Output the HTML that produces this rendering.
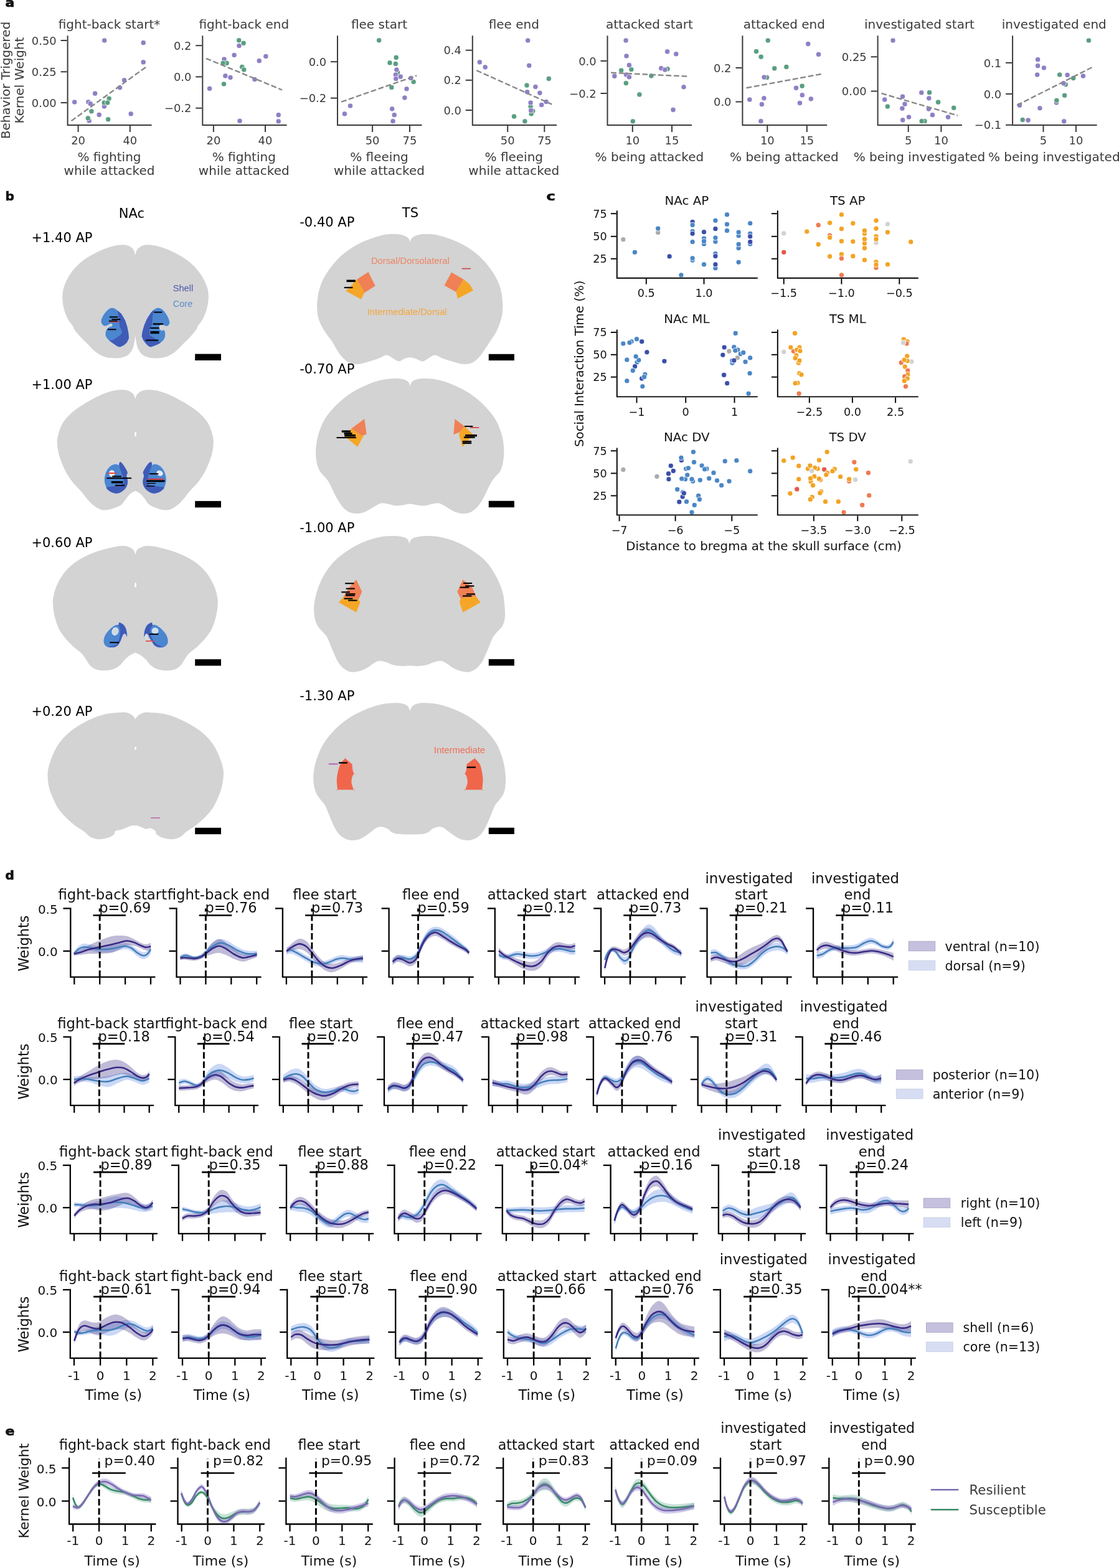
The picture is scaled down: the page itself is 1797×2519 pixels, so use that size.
<!DOCTYPE html>
<html lang="en"><head><meta charset="utf-8"><title>Extended Data Figure</title>
<style>
html,body{margin:0;padding:0;background:#fff;}
svg{display:block;font-family:'DejaVu Sans','Liberation Sans',sans-serif;}
text{white-space:pre;}
</style></head>
<body>
<svg width="1797" height="2519" viewBox="0 0 1797 2519">
<rect width="1797" height="2519" fill="#fff"/>
<g id="panel-a">
<text transform="translate(8.6 11.4) scale(1.1 1)" font-size="20" font-weight="bold" fill="#111" stroke="#111" stroke-width="0.7">a</text>
<text transform="translate(15.5 129) rotate(-90)" font-size="20" fill="#3a3a3a" text-anchor="middle">Behavior Triggered</text>
<text transform="translate(37.8 129) rotate(-90)" font-size="20" fill="#3a3a3a" text-anchor="middle">Kernel Weight</text>
<circle cx="167.7" cy="65" r="4.1" fill="#8f7fc4" stroke="#fff" stroke-width="0.8"/>
<circle cx="230.2" cy="68.7" r="4.1" fill="#8f7fc4" stroke="#fff" stroke-width="0.8"/>
<circle cx="230.2" cy="99.9" r="4.1" fill="#8f7fc4" stroke="#fff" stroke-width="0.8"/>
<circle cx="199.5" cy="128.8" r="4.1" fill="#8f7fc4" stroke="#fff" stroke-width="0.8"/>
<circle cx="192.5" cy="140.8" r="4.1" fill="#8f7fc4" stroke="#fff" stroke-width="0.8"/>
<circle cx="152.6" cy="150.2" r="4.1" fill="#8f7fc4" stroke="#fff" stroke-width="0.8"/>
<circle cx="119.7" cy="164" r="4.1" fill="#8f7fc4" stroke="#fff" stroke-width="0.8"/>
<circle cx="141.9" cy="163.9" r="4.1" fill="#8f7fc4" stroke="#fff" stroke-width="0.8"/>
<circle cx="145.2" cy="166.6" r="4.1" fill="#8f7fc4" stroke="#fff" stroke-width="0.8"/>
<circle cx="167.4" cy="170.9" r="4.1" fill="#8f7fc4" stroke="#fff" stroke-width="0.8"/>
<circle cx="159.2" cy="184.4" r="4.1" fill="#8f7fc4" stroke="#fff" stroke-width="0.8"/>
<circle cx="210.2" cy="182.9" r="4.1" fill="#8f7fc4" stroke="#fff" stroke-width="0.8"/>
<circle cx="143.2" cy="194" r="4.1" fill="#8f7fc4" stroke="#fff" stroke-width="0.8"/>
<circle cx="167.2" cy="165" r="4.1" fill="#5a9e80" stroke="#fff" stroke-width="0.8"/>
<circle cx="175.1" cy="158.3" r="4.1" fill="#5a9e80" stroke="#fff" stroke-width="0.8"/>
<circle cx="172.7" cy="165" r="4.1" fill="#5a9e80" stroke="#fff" stroke-width="0.8"/>
<circle cx="146.9" cy="178.8" r="4.1" fill="#5a9e80" stroke="#fff" stroke-width="0.8"/>
<circle cx="141.3" cy="189.9" r="4.1" fill="#5a9e80" stroke="#fff" stroke-width="0.8"/>
<circle cx="173.7" cy="191.8" r="4.1" fill="#5a9e80" stroke="#fff" stroke-width="0.8"/>
<line x1="114.5" y1="194.3" x2="236.5" y2="106.2" stroke="#888" stroke-width="2.4" stroke-dasharray="8.8 3.8"/>
<path d="M108.6 58.2V201H242.6" fill="none" stroke="#3a3a3a" stroke-width="2.0" stroke-linecap="square" stroke-linejoin="miter"/>
<line x1="97.6" y1="65" x2="107.6" y2="65" stroke="#3a3a3a" stroke-width="2.0"/>
<text x="90.7" y="71.6" font-size="17.9" fill="#3a3a3a" text-anchor="end">0.50</text>
<line x1="97.6" y1="115.3" x2="107.6" y2="115.3" stroke="#3a3a3a" stroke-width="2.0"/>
<text x="90.7" y="121.9" font-size="17.9" fill="#3a3a3a" text-anchor="end">0.25</text>
<line x1="97.6" y1="165" x2="107.6" y2="165" stroke="#3a3a3a" stroke-width="2.0"/>
<text x="90.7" y="171.6" font-size="17.9" fill="#3a3a3a" text-anchor="end">0.00</text>
<line x1="125.6" y1="202" x2="125.6" y2="212" stroke="#3a3a3a" stroke-width="2.0"/>
<text x="125.6" y="231.9" font-size="17.9" fill="#3a3a3a" text-anchor="middle">20</text>
<line x1="208.8" y1="202" x2="208.8" y2="212" stroke="#3a3a3a" stroke-width="2.0"/>
<text x="208.8" y="231.9" font-size="17.9" fill="#3a3a3a" text-anchor="middle">40</text>
<text x="175.5" y="46.2" font-size="20" fill="#3a3a3a" text-anchor="middle">fight-back start*</text>
<text x="175.5" y="258.8" font-size="20" fill="#3a3a3a" text-anchor="middle">% fighting</text>
<text x="175.5" y="281.2" font-size="20" fill="#3a3a3a" text-anchor="middle">while attacked</text>
<circle cx="360" cy="95.1" r="4.1" fill="#8f7fc4" stroke="#fff" stroke-width="0.8"/>
<circle cx="384" cy="73.5" r="4.1" fill="#8f7fc4" stroke="#fff" stroke-width="0.8"/>
<circle cx="376.1" cy="88.5" r="4.1" fill="#8f7fc4" stroke="#fff" stroke-width="0.8"/>
<circle cx="426.9" cy="90.5" r="4.1" fill="#8f7fc4" stroke="#fff" stroke-width="0.8"/>
<circle cx="416.2" cy="97.7" r="4.1" fill="#8f7fc4" stroke="#fff" stroke-width="0.8"/>
<circle cx="361.9" cy="121.9" r="4.1" fill="#8f7fc4" stroke="#fff" stroke-width="0.8"/>
<circle cx="370" cy="124.5" r="4.1" fill="#8f7fc4" stroke="#fff" stroke-width="0.8"/>
<circle cx="409" cy="127.5" r="4.1" fill="#8f7fc4" stroke="#fff" stroke-width="0.8"/>
<circle cx="336.6" cy="142.3" r="4.1" fill="#8f7fc4" stroke="#fff" stroke-width="0.8"/>
<circle cx="447.2" cy="184.7" r="4.1" fill="#8f7fc4" stroke="#fff" stroke-width="0.8"/>
<circle cx="385" cy="194.3" r="4.1" fill="#8f7fc4" stroke="#fff" stroke-width="0.8"/>
<circle cx="447.2" cy="194.9" r="4.1" fill="#8f7fc4" stroke="#fff" stroke-width="0.8"/>
<circle cx="383.7" cy="64.8" r="4.1" fill="#5a9e80" stroke="#fff" stroke-width="0.8"/>
<circle cx="391.1" cy="69.3" r="4.1" fill="#5a9e80" stroke="#fff" stroke-width="0.8"/>
<circle cx="364.1" cy="101.4" r="4.1" fill="#5a9e80" stroke="#fff" stroke-width="0.8"/>
<circle cx="358.2" cy="101.4" r="4.1" fill="#5a9e80" stroke="#fff" stroke-width="0.8"/>
<circle cx="388.7" cy="107.5" r="4.1" fill="#5a9e80" stroke="#fff" stroke-width="0.8"/>
<circle cx="391.8" cy="112" r="4.1" fill="#5a9e80" stroke="#fff" stroke-width="0.8"/>
<circle cx="359.5" cy="135" r="4.1" fill="#5a9e80" stroke="#fff" stroke-width="0.8"/>
<line x1="330.8" y1="93.8" x2="453.1" y2="144.5" stroke="#888" stroke-width="2.4" stroke-dasharray="8.8 3.8"/>
<path d="M325.3 58.2V201H459.6" fill="none" stroke="#3a3a3a" stroke-width="2.0" stroke-linecap="square" stroke-linejoin="miter"/>
<line x1="314.3" y1="73.2" x2="324.3" y2="73.2" stroke="#3a3a3a" stroke-width="2.0"/>
<text x="307.4" y="79.8" font-size="17.9" fill="#3a3a3a" text-anchor="end">0.2</text>
<line x1="314.3" y1="123.4" x2="324.3" y2="123.4" stroke="#3a3a3a" stroke-width="2.0"/>
<text x="307.4" y="130" font-size="17.9" fill="#3a3a3a" text-anchor="end">0.0</text>
<line x1="314.3" y1="173.7" x2="324.3" y2="173.7" stroke="#3a3a3a" stroke-width="2.0"/>
<text x="307.4" y="180.3" font-size="17.9" fill="#3a3a3a" text-anchor="end">−0.2</text>
<line x1="342.9" y1="202" x2="342.9" y2="212" stroke="#3a3a3a" stroke-width="2.0"/>
<text x="342.9" y="231.9" font-size="17.9" fill="#3a3a3a" text-anchor="middle">20</text>
<line x1="426" y1="202" x2="426" y2="212" stroke="#3a3a3a" stroke-width="2.0"/>
<text x="426" y="231.9" font-size="17.9" fill="#3a3a3a" text-anchor="middle">40</text>
<text x="391.8" y="46.2" font-size="20" fill="#3a3a3a" text-anchor="middle">fight-back end</text>
<text x="391.8" y="258.8" font-size="20" fill="#3a3a3a" text-anchor="middle">% fighting</text>
<text x="391.8" y="281.2" font-size="20" fill="#3a3a3a" text-anchor="middle">while attacked</text>
<circle cx="608.7" cy="64.8" r="4.1" fill="#5a9e80" stroke="#fff" stroke-width="0.8"/>
<circle cx="636.2" cy="92.4" r="4.1" fill="#5a9e80" stroke="#fff" stroke-width="0.8"/>
<circle cx="626" cy="100.9" r="4.1" fill="#5a9e80" stroke="#fff" stroke-width="0.8"/>
<circle cx="635.3" cy="102.5" r="4.1" fill="#5a9e80" stroke="#fff" stroke-width="0.8"/>
<circle cx="638.6" cy="116.4" r="4.1" fill="#5a9e80" stroke="#fff" stroke-width="0.8"/>
<circle cx="664.1" cy="131.5" r="4.1" fill="#5a9e80" stroke="#fff" stroke-width="0.8"/>
<circle cx="628.8" cy="140.4" r="4.1" fill="#5a9e80" stroke="#fff" stroke-width="0.8"/>
<circle cx="636.9" cy="112" r="4.1" fill="#8f7fc4" stroke="#fff" stroke-width="0.8"/>
<circle cx="635.3" cy="120.1" r="4.1" fill="#8f7fc4" stroke="#fff" stroke-width="0.8"/>
<circle cx="643.2" cy="123.2" r="4.1" fill="#8f7fc4" stroke="#fff" stroke-width="0.8"/>
<circle cx="659.8" cy="125.6" r="4.1" fill="#8f7fc4" stroke="#fff" stroke-width="0.8"/>
<circle cx="635.8" cy="126.5" r="4.1" fill="#8f7fc4" stroke="#fff" stroke-width="0.8"/>
<circle cx="653" cy="142.8" r="4.1" fill="#8f7fc4" stroke="#fff" stroke-width="0.8"/>
<circle cx="649.9" cy="157" r="4.1" fill="#8f7fc4" stroke="#fff" stroke-width="0.8"/>
<circle cx="562.5" cy="170" r="4.1" fill="#8f7fc4" stroke="#fff" stroke-width="0.8"/>
<circle cx="553.4" cy="182.9" r="4.1" fill="#8f7fc4" stroke="#fff" stroke-width="0.8"/>
<circle cx="629.7" cy="174.9" r="4.1" fill="#8f7fc4" stroke="#fff" stroke-width="0.8"/>
<circle cx="633.2" cy="184.7" r="4.1" fill="#8f7fc4" stroke="#fff" stroke-width="0.8"/>
<circle cx="631" cy="194.7" r="4.1" fill="#8f7fc4" stroke="#fff" stroke-width="0.8"/>
<line x1="548.1" y1="163.7" x2="669.1" y2="121.4" stroke="#888" stroke-width="2.4" stroke-dasharray="8.8 3.8"/>
<path d="M542 58.2V201H676.5" fill="none" stroke="#3a3a3a" stroke-width="2.0" stroke-linecap="square" stroke-linejoin="miter"/>
<line x1="531" y1="99.2" x2="541" y2="99.2" stroke="#3a3a3a" stroke-width="2.0"/>
<text x="524.1" y="105.8" font-size="17.9" fill="#3a3a3a" text-anchor="end">0.0</text>
<line x1="531" y1="157.6" x2="541" y2="157.6" stroke="#3a3a3a" stroke-width="2.0"/>
<text x="524.1" y="164.2" font-size="17.9" fill="#3a3a3a" text-anchor="end">−0.2</text>
<line x1="598.1" y1="202" x2="598.1" y2="212" stroke="#3a3a3a" stroke-width="2.0"/>
<text x="598.1" y="231.9" font-size="17.9" fill="#3a3a3a" text-anchor="middle">50</text>
<line x1="658" y1="202" x2="658" y2="212" stroke="#3a3a3a" stroke-width="2.0"/>
<text x="658" y="231.9" font-size="17.9" fill="#3a3a3a" text-anchor="middle">75</text>
<text x="609" y="46.2" font-size="20" fill="#3a3a3a" text-anchor="middle">flee start</text>
<text x="609" y="258.8" font-size="20" fill="#3a3a3a" text-anchor="middle">% fleeing</text>
<text x="609" y="281.2" font-size="20" fill="#3a3a3a" text-anchor="middle">while attacked</text>
<circle cx="881.3" cy="126.4" r="4.1" fill="#5a9e80" stroke="#fff" stroke-width="0.8"/>
<circle cx="846" cy="137.1" r="4.1" fill="#5a9e80" stroke="#fff" stroke-width="0.8"/>
<circle cx="852.1" cy="170.9" r="4.1" fill="#5a9e80" stroke="#fff" stroke-width="0.8"/>
<circle cx="855.8" cy="178.3" r="4.1" fill="#5a9e80" stroke="#fff" stroke-width="0.8"/>
<circle cx="853.1" cy="182.9" r="4.1" fill="#5a9e80" stroke="#fff" stroke-width="0.8"/>
<circle cx="825.5" cy="187.1" r="4.1" fill="#5a9e80" stroke="#fff" stroke-width="0.8"/>
<circle cx="842.9" cy="194.9" r="4.1" fill="#5a9e80" stroke="#fff" stroke-width="0.8"/>
<circle cx="847.7" cy="65" r="4.1" fill="#8f7fc4" stroke="#fff" stroke-width="0.8"/>
<circle cx="770.3" cy="99.9" r="4.1" fill="#8f7fc4" stroke="#fff" stroke-width="0.8"/>
<circle cx="779.2" cy="107.9" r="4.1" fill="#8f7fc4" stroke="#fff" stroke-width="0.8"/>
<circle cx="849.7" cy="105.3" r="4.1" fill="#8f7fc4" stroke="#fff" stroke-width="0.8"/>
<circle cx="859.9" cy="139.5" r="4.1" fill="#8f7fc4" stroke="#fff" stroke-width="0.8"/>
<circle cx="846.6" cy="147.8" r="4.1" fill="#8f7fc4" stroke="#fff" stroke-width="0.8"/>
<circle cx="866.9" cy="149.3" r="4.1" fill="#8f7fc4" stroke="#fff" stroke-width="0.8"/>
<circle cx="852.1" cy="165" r="4.1" fill="#8f7fc4" stroke="#fff" stroke-width="0.8"/>
<circle cx="869.7" cy="168.5" r="4.1" fill="#8f7fc4" stroke="#fff" stroke-width="0.8"/>
<circle cx="877.1" cy="163.5" r="4.1" fill="#8f7fc4" stroke="#fff" stroke-width="0.8"/>
<circle cx="852.7" cy="177.4" r="4.1" fill="#8f7fc4" stroke="#fff" stroke-width="0.8"/>
<line x1="765.3" y1="113.1" x2="886.3" y2="167.7" stroke="#888" stroke-width="2.4" stroke-dasharray="8.8 3.8"/>
<path d="M758.8 58.2V201H893.1" fill="none" stroke="#3a3a3a" stroke-width="2.0" stroke-linecap="square" stroke-linejoin="miter"/>
<line x1="747.8" y1="80.7" x2="757.8" y2="80.7" stroke="#3a3a3a" stroke-width="2.0"/>
<text x="740.9" y="87.3" font-size="17.9" fill="#3a3a3a" text-anchor="end">0.4</text>
<line x1="747.8" y1="128.8" x2="757.8" y2="128.8" stroke="#3a3a3a" stroke-width="2.0"/>
<text x="740.9" y="135.4" font-size="17.9" fill="#3a3a3a" text-anchor="end">0.2</text>
<line x1="747.8" y1="177" x2="757.8" y2="177" stroke="#3a3a3a" stroke-width="2.0"/>
<text x="740.9" y="183.6" font-size="17.9" fill="#3a3a3a" text-anchor="end">0.0</text>
<line x1="815.2" y1="202" x2="815.2" y2="212" stroke="#3a3a3a" stroke-width="2.0"/>
<text x="815.2" y="231.9" font-size="17.9" fill="#3a3a3a" text-anchor="middle">50</text>
<line x1="874.3" y1="202" x2="874.3" y2="212" stroke="#3a3a3a" stroke-width="2.0"/>
<text x="874.3" y="231.9" font-size="17.9" fill="#3a3a3a" text-anchor="middle">75</text>
<text x="825.3" y="46.2" font-size="20" fill="#3a3a3a" text-anchor="middle">flee end</text>
<text x="825.3" y="258.8" font-size="20" fill="#3a3a3a" text-anchor="middle">% fleeing</text>
<text x="825.3" y="281.2" font-size="20" fill="#3a3a3a" text-anchor="middle">while attacked</text>
<circle cx="1072.1" cy="110.8" r="4.1" fill="#5a9e80" stroke="#fff" stroke-width="0.8"/>
<circle cx="997.7" cy="113.1" r="4.1" fill="#5a9e80" stroke="#fff" stroke-width="0.8"/>
<circle cx="1013.8" cy="111.6" r="4.1" fill="#5a9e80" stroke="#fff" stroke-width="0.8"/>
<circle cx="1045.9" cy="121.9" r="4.1" fill="#5a9e80" stroke="#fff" stroke-width="0.8"/>
<circle cx="1005.3" cy="133.6" r="4.1" fill="#5a9e80" stroke="#fff" stroke-width="0.8"/>
<circle cx="1026.9" cy="151.9" r="4.1" fill="#5a9e80" stroke="#fff" stroke-width="0.8"/>
<circle cx="1016.3" cy="194.9" r="4.1" fill="#5a9e80" stroke="#fff" stroke-width="0.8"/>
<circle cx="1005.1" cy="65" r="4.1" fill="#8f7fc4" stroke="#fff" stroke-width="0.8"/>
<circle cx="1006" cy="90" r="4.1" fill="#8f7fc4" stroke="#fff" stroke-width="0.8"/>
<circle cx="1071.6" cy="82.9" r="4.1" fill="#8f7fc4" stroke="#fff" stroke-width="0.8"/>
<circle cx="1085.8" cy="86.8" r="4.1" fill="#8f7fc4" stroke="#fff" stroke-width="0.8"/>
<circle cx="1010.4" cy="104.7" r="4.1" fill="#8f7fc4" stroke="#fff" stroke-width="0.8"/>
<circle cx="1061.8" cy="109.7" r="4.1" fill="#8f7fc4" stroke="#fff" stroke-width="0.8"/>
<circle cx="1067.9" cy="112.1" r="4.1" fill="#8f7fc4" stroke="#fff" stroke-width="0.8"/>
<circle cx="986.8" cy="122.3" r="4.1" fill="#8f7fc4" stroke="#fff" stroke-width="0.8"/>
<circle cx="1005.6" cy="120.1" r="4.1" fill="#8f7fc4" stroke="#fff" stroke-width="0.8"/>
<circle cx="1010.4" cy="123.8" r="4.1" fill="#8f7fc4" stroke="#fff" stroke-width="0.8"/>
<circle cx="1098" cy="139.8" r="4.1" fill="#8f7fc4" stroke="#fff" stroke-width="0.8"/>
<circle cx="1081" cy="176.4" r="4.1" fill="#8f7fc4" stroke="#fff" stroke-width="0.8"/>
<line x1="981.2" y1="116.8" x2="1103.9" y2="122.7" stroke="#888" stroke-width="2.4" stroke-dasharray="8.8 3.8"/>
<path d="M975.5 58.2V201H1110" fill="none" stroke="#3a3a3a" stroke-width="2.0" stroke-linecap="square" stroke-linejoin="miter"/>
<line x1="964.5" y1="97.9" x2="974.5" y2="97.9" stroke="#3a3a3a" stroke-width="2.0"/>
<text x="957.6" y="104.5" font-size="17.9" fill="#3a3a3a" text-anchor="end">0.0</text>
<line x1="964.5" y1="150" x2="974.5" y2="150" stroke="#3a3a3a" stroke-width="2.0"/>
<text x="957.6" y="156.6" font-size="17.9" fill="#3a3a3a" text-anchor="end">−0.2</text>
<line x1="1015.8" y1="202" x2="1015.8" y2="212" stroke="#3a3a3a" stroke-width="2.0"/>
<text x="1015.8" y="231.9" font-size="17.9" fill="#3a3a3a" text-anchor="middle">10</text>
<line x1="1079" y1="202" x2="1079" y2="212" stroke="#3a3a3a" stroke-width="2.0"/>
<text x="1079" y="231.9" font-size="17.9" fill="#3a3a3a" text-anchor="middle">15</text>
<text x="1042.9" y="46.2" font-size="20" fill="#3a3a3a" text-anchor="middle">attacked start</text>
<text x="1042.9" y="258.8" font-size="20" fill="#3a3a3a" text-anchor="middle">% being attacked</text>
<circle cx="1233.2" cy="65" r="4.1" fill="#5a9e80" stroke="#fff" stroke-width="0.8"/>
<circle cx="1214.5" cy="82.6" r="4.1" fill="#5a9e80" stroke="#fff" stroke-width="0.8"/>
<circle cx="1222.1" cy="91.3" r="4.1" fill="#5a9e80" stroke="#fff" stroke-width="0.8"/>
<circle cx="1243.7" cy="109.9" r="4.1" fill="#5a9e80" stroke="#fff" stroke-width="0.8"/>
<circle cx="1262.8" cy="107.5" r="4.1" fill="#5a9e80" stroke="#fff" stroke-width="0.8"/>
<circle cx="1231.5" cy="124.5" r="4.1" fill="#5a9e80" stroke="#fff" stroke-width="0.8"/>
<circle cx="1288.1" cy="138.2" r="4.1" fill="#5a9e80" stroke="#fff" stroke-width="0.8"/>
<circle cx="1297.7" cy="70.6" r="4.1" fill="#8f7fc4" stroke="#fff" stroke-width="0.8"/>
<circle cx="1314.5" cy="87.4" r="4.1" fill="#8f7fc4" stroke="#fff" stroke-width="0.8"/>
<circle cx="1227.1" cy="124.1" r="4.1" fill="#8f7fc4" stroke="#fff" stroke-width="0.8"/>
<circle cx="1278.5" cy="141.3" r="4.1" fill="#8f7fc4" stroke="#fff" stroke-width="0.8"/>
<circle cx="1288.3" cy="152.8" r="4.1" fill="#8f7fc4" stroke="#fff" stroke-width="0.8"/>
<circle cx="1302.3" cy="158.9" r="4.1" fill="#8f7fc4" stroke="#fff" stroke-width="0.8"/>
<circle cx="1284.4" cy="165.5" r="4.1" fill="#8f7fc4" stroke="#fff" stroke-width="0.8"/>
<circle cx="1226.9" cy="157.8" r="4.1" fill="#8f7fc4" stroke="#fff" stroke-width="0.8"/>
<circle cx="1203.8" cy="160" r="4.1" fill="#8f7fc4" stroke="#fff" stroke-width="0.8"/>
<circle cx="1223.4" cy="167.6" r="4.1" fill="#8f7fc4" stroke="#fff" stroke-width="0.8"/>
<circle cx="1221.9" cy="194.7" r="4.1" fill="#8f7fc4" stroke="#fff" stroke-width="0.8"/>
<line x1="1198.5" y1="141.3" x2="1320.8" y2="118.6" stroke="#888" stroke-width="2.4" stroke-dasharray="8.8 3.8"/>
<path d="M1192.4 58.2V201H1327.2" fill="none" stroke="#3a3a3a" stroke-width="2.0" stroke-linecap="square" stroke-linejoin="miter"/>
<line x1="1181.4" y1="109" x2="1191.4" y2="109" stroke="#3a3a3a" stroke-width="2.0"/>
<text x="1174.5" y="115.6" font-size="17.9" fill="#3a3a3a" text-anchor="end">0.2</text>
<line x1="1181.4" y1="163.5" x2="1191.4" y2="163.5" stroke="#3a3a3a" stroke-width="2.0"/>
<text x="1174.5" y="170.1" font-size="17.9" fill="#3a3a3a" text-anchor="end">0.0</text>
<line x1="1232.3" y1="202" x2="1232.3" y2="212" stroke="#3a3a3a" stroke-width="2.0"/>
<text x="1232.3" y="231.9" font-size="17.9" fill="#3a3a3a" text-anchor="middle">10</text>
<line x1="1295.8" y1="202" x2="1295.8" y2="212" stroke="#3a3a3a" stroke-width="2.0"/>
<text x="1295.8" y="231.9" font-size="17.9" fill="#3a3a3a" text-anchor="middle">15</text>
<text x="1259.4" y="46.2" font-size="20" fill="#3a3a3a" text-anchor="middle">attacked end</text>
<text x="1259.4" y="258.8" font-size="20" fill="#3a3a3a" text-anchor="middle">% being attacked</text>
<circle cx="1434" cy="65" r="4.1" fill="#8f7fc4" stroke="#fff" stroke-width="0.8"/>
<circle cx="1479.8" cy="148.9" r="4.1" fill="#8f7fc4" stroke="#fff" stroke-width="0.8"/>
<circle cx="1449.5" cy="155.2" r="4.1" fill="#8f7fc4" stroke="#fff" stroke-width="0.8"/>
<circle cx="1491.8" cy="157.8" r="4.1" fill="#8f7fc4" stroke="#fff" stroke-width="0.8"/>
<circle cx="1420.7" cy="160" r="4.1" fill="#8f7fc4" stroke="#fff" stroke-width="0.8"/>
<circle cx="1453" cy="167.2" r="4.1" fill="#8f7fc4" stroke="#fff" stroke-width="0.8"/>
<circle cx="1448.9" cy="174.2" r="4.1" fill="#8f7fc4" stroke="#fff" stroke-width="0.8"/>
<circle cx="1491.4" cy="175.1" r="4.1" fill="#8f7fc4" stroke="#fff" stroke-width="0.8"/>
<circle cx="1497.4" cy="184.7" r="4.1" fill="#8f7fc4" stroke="#fff" stroke-width="0.8"/>
<circle cx="1459.5" cy="188.1" r="4.1" fill="#8f7fc4" stroke="#fff" stroke-width="0.8"/>
<circle cx="1522.5" cy="188.1" r="4.1" fill="#8f7fc4" stroke="#fff" stroke-width="0.8"/>
<circle cx="1449.7" cy="192.9" r="4.1" fill="#8f7fc4" stroke="#fff" stroke-width="0.8"/>
<circle cx="1492.5" cy="148.7" r="4.1" fill="#5a9e80" stroke="#fff" stroke-width="0.8"/>
<circle cx="1506.6" cy="164.2" r="4.1" fill="#5a9e80" stroke="#fff" stroke-width="0.8"/>
<circle cx="1425.3" cy="171.1" r="4.1" fill="#5a9e80" stroke="#fff" stroke-width="0.8"/>
<circle cx="1531.7" cy="173.3" r="4.1" fill="#5a9e80" stroke="#fff" stroke-width="0.8"/>
<circle cx="1485" cy="194.7" r="4.1" fill="#5a9e80" stroke="#fff" stroke-width="0.8"/>
<circle cx="1480.2" cy="194.7" r="4.1" fill="#5a9e80" stroke="#fff" stroke-width="0.8"/>
<line x1="1415.5" y1="150" x2="1538" y2="185.7" stroke="#888" stroke-width="2.4" stroke-dasharray="8.8 3.8"/>
<path d="M1409.6 58.2V201H1543.9" fill="none" stroke="#3a3a3a" stroke-width="2.0" stroke-linecap="square" stroke-linejoin="miter"/>
<line x1="1398.6" y1="91.3" x2="1408.6" y2="91.3" stroke="#3a3a3a" stroke-width="2.0"/>
<text x="1391.7" y="97.9" font-size="17.9" fill="#3a3a3a" text-anchor="end">0.25</text>
<line x1="1398.6" y1="146.5" x2="1408.6" y2="146.5" stroke="#3a3a3a" stroke-width="2.0"/>
<text x="1391.7" y="153.1" font-size="17.9" fill="#3a3a3a" text-anchor="end">0.00</text>
<line x1="1458.7" y1="202" x2="1458.7" y2="212" stroke="#3a3a3a" stroke-width="2.0"/>
<text x="1458.7" y="231.9" font-size="17.9" fill="#3a3a3a" text-anchor="middle">5</text>
<line x1="1511.4" y1="202" x2="1511.4" y2="212" stroke="#3a3a3a" stroke-width="2.0"/>
<text x="1511.4" y="231.9" font-size="17.9" fill="#3a3a3a" text-anchor="middle">10</text>
<text x="1476.5" y="46.2" font-size="20" fill="#3a3a3a" text-anchor="middle">investigated start</text>
<text x="1476.5" y="258.8" font-size="20" fill="#3a3a3a" text-anchor="middle">% being investigated</text>
<circle cx="1666.6" cy="95.7" r="4.1" fill="#8f7fc4" stroke="#fff" stroke-width="0.8"/>
<circle cx="1666.6" cy="105.7" r="4.1" fill="#8f7fc4" stroke="#fff" stroke-width="0.8"/>
<circle cx="1676.4" cy="109" r="4.1" fill="#8f7fc4" stroke="#fff" stroke-width="0.8"/>
<circle cx="1665.7" cy="120.1" r="4.1" fill="#8f7fc4" stroke="#fff" stroke-width="0.8"/>
<circle cx="1714.1" cy="120.5" r="4.1" fill="#8f7fc4" stroke="#fff" stroke-width="0.8"/>
<circle cx="1739.4" cy="122.1" r="4.1" fill="#8f7fc4" stroke="#fff" stroke-width="0.8"/>
<circle cx="1637.4" cy="169.2" r="4.1" fill="#8f7fc4" stroke="#fff" stroke-width="0.8"/>
<circle cx="1669.9" cy="173.8" r="4.1" fill="#8f7fc4" stroke="#fff" stroke-width="0.8"/>
<circle cx="1696.5" cy="165" r="4.1" fill="#8f7fc4" stroke="#fff" stroke-width="0.8"/>
<circle cx="1651.1" cy="193.1" r="4.1" fill="#8f7fc4" stroke="#fff" stroke-width="0.8"/>
<circle cx="1708.7" cy="194.9" r="4.1" fill="#8f7fc4" stroke="#fff" stroke-width="0.8"/>
<circle cx="1748.4" cy="65" r="4.1" fill="#5a9e80" stroke="#fff" stroke-width="0.8"/>
<circle cx="1701.7" cy="120.1" r="4.1" fill="#5a9e80" stroke="#fff" stroke-width="0.8"/>
<circle cx="1723.7" cy="125.6" r="4.1" fill="#5a9e80" stroke="#fff" stroke-width="0.8"/>
<circle cx="1711.3" cy="135.8" r="4.1" fill="#5a9e80" stroke="#fff" stroke-width="0.8"/>
<circle cx="1709.6" cy="153.3" r="4.1" fill="#5a9e80" stroke="#fff" stroke-width="0.8"/>
<circle cx="1696.9" cy="161.3" r="4.1" fill="#5a9e80" stroke="#fff" stroke-width="0.8"/>
<circle cx="1642.2" cy="192.5" r="4.1" fill="#5a9e80" stroke="#fff" stroke-width="0.8"/>
<circle cx="1708" cy="133.9" r="4.1" fill="#8f7fc4" stroke="#fff" stroke-width="0.8"/>
<line x1="1633.2" y1="169" x2="1754.7" y2="107.7" stroke="#888" stroke-width="2.4" stroke-dasharray="8.8 3.8"/>
<path d="M1626.1 58.2V201H1760.6" fill="none" stroke="#3a3a3a" stroke-width="2.0" stroke-linecap="square" stroke-linejoin="miter"/>
<line x1="1615.1" y1="100.9" x2="1625.1" y2="100.9" stroke="#3a3a3a" stroke-width="2.0"/>
<text x="1608.2" y="107.5" font-size="17.9" fill="#3a3a3a" text-anchor="end">0.1</text>
<line x1="1615.1" y1="150.9" x2="1625.1" y2="150.9" stroke="#3a3a3a" stroke-width="2.0"/>
<text x="1608.2" y="157.5" font-size="17.9" fill="#3a3a3a" text-anchor="end">0.0</text>
<line x1="1615.1" y1="200.8" x2="1625.1" y2="200.8" stroke="#3a3a3a" stroke-width="2.0"/>
<text x="1608.2" y="207.4" font-size="17.9" fill="#3a3a3a" text-anchor="end">−0.1</text>
<line x1="1675.5" y1="202" x2="1675.5" y2="212" stroke="#3a3a3a" stroke-width="2.0"/>
<text x="1675.5" y="231.9" font-size="17.9" fill="#3a3a3a" text-anchor="middle">5</text>
<line x1="1727.9" y1="202" x2="1727.9" y2="212" stroke="#3a3a3a" stroke-width="2.0"/>
<text x="1727.9" y="231.9" font-size="17.9" fill="#3a3a3a" text-anchor="middle">10</text>
<text x="1692.8" y="46.2" font-size="20" fill="#3a3a3a" text-anchor="middle">investigated end</text>
<text x="1692.8" y="258.8" font-size="20" fill="#3a3a3a" text-anchor="middle">% being investigated</text>
</g>
<g id="panel-b">
<text transform="translate(8.6 321.5) scale(1.0 1)" font-size="20" font-weight="bold" fill="#111" stroke="#111" stroke-width="0.7">b</text>
<text x="211.4" y="349.6" font-size="21.0" fill="#000" text-anchor="middle">NAc</text>
<text x="658.9" y="349.2" font-size="21.0" fill="#000" text-anchor="middle">TS</text>
<path d="M217.3 409.9C216.8 411.4 217.9 411.4 217.3 409.9C216.8 408.4 216.1 403.5 214.2 401C212.4 398.5 209.4 396.1 206.3 394.8C203.1 393.5 200 393 195.2 393.3C190.4 393.6 184.1 394.6 177.4 396.6C170.8 398.6 162.7 401.8 155.3 405.5C147.9 409.2 139.8 413.6 133.1 418.8C126.5 423.9 120.2 430.2 115.4 436.5C110.6 442.8 106.8 450.2 104.3 456.5C101.8 462.7 100.7 467.9 100.3 474.2C99.9 480.5 100.7 487.9 102.1 494.1C103.5 500.4 106.3 507.1 108.7 511.9C111.1 516.7 114.6 519.9 116.5 523C118.3 526 117.8 527.1 119.8 530.1C121.8 533 125.3 537.1 128.7 540.7C132 544.3 136.1 548.1 139.8 551.8C143.5 555.5 146.8 559.5 150.8 562.9C154.9 566.2 159.7 569.7 164.1 571.7C168.6 573.8 172.6 574.5 177.4 575.1C182.2 575.6 188.3 575.8 193 575.1C197.6 574.3 201.8 573 205.2 570.6C208.5 568.2 211.1 564.5 212.9 560.6C214.8 556.8 215.5 551 216.2 547.3C217 543.6 217.2 540 217.3 538.5C217.5 537 217.2 537 217.3 538.5C217.5 540 217.7 543.6 218.5 547.3C219.2 551 219.9 556.8 221.8 560.6C223.6 564.5 226.2 568.2 229.5 570.6C232.9 573 237.1 574.3 241.7 575.1C246.3 575.8 252.4 575.6 257.2 575.1C262 574.5 266.1 573.8 270.5 571.7C275 569.7 279.8 566.2 283.8 562.9C287.9 559.5 291.2 555.5 294.9 551.8C298.6 548.1 302.7 544.3 306 540.7C309.3 537.1 312.9 533 314.9 530.1C316.9 527.1 316.4 526 318.2 523C320.1 519.9 323.6 516.7 326 511.9C328.4 507.1 331.1 500.4 332.6 494.1C334.1 487.9 335.1 480.5 334.8 474.2C334.5 467.9 333.4 462.7 330.8 456.5C328.3 450.2 324.2 442.8 319.3 436.5C314.4 430.2 308.2 423.9 301.6 418.8C294.9 413.6 286.8 409.2 279.4 405.5C272 401.8 263.9 398.6 257.2 396.6C250.6 394.6 244.3 393.6 239.5 393.3C234.7 393 231.6 393.5 228.4 394.8C225.3 396.1 222.3 398.5 220.4 401C218.6 403.5 217.9 408.4 217.3 409.9Z" fill="#d3d3d3"/>
<path d="M180.2 494.2C182.5 494.2 184.6 495.6 187.1 497.2C189.5 498.9 192.5 501.3 194.8 504.1C197.1 507 199.3 511 200.9 514.5C202.4 517.9 203.4 521.2 204.3 524.8C205.2 528.4 206 532.9 206.5 536C206.9 539.2 207.4 541.4 206.9 543.8C206.4 546.2 204.9 548.8 203.4 550.7C202 552.6 200.1 553.9 198.3 555C196.4 556.1 194 557.4 192.2 557.6C190.5 557.7 189.9 557 187.9 555.9C185.9 554.7 182.6 552.4 180.2 550.7C177.7 549 175.1 547.4 173.3 545.5C171.5 543.6 170 541.5 169.4 539.5C168.8 537.5 169 535.3 169.4 533.4C169.8 531.6 170.5 529.7 171.6 528.3C172.6 526.8 174.6 525.5 175.9 524.8C177.2 524.1 178.7 524.7 179.3 524C180 523.2 180.3 521 179.7 520.5C179.2 520 177.5 520.4 175.9 520.9C174.2 521.5 171.7 523.8 169.8 524C168 524.2 165.9 523.4 164.7 522.2C163.4 521.1 162.4 518.8 162.1 517.1C161.8 515.3 162.1 514.1 162.9 511.9C163.8 509.7 165.5 506.6 167.2 504.1C169 501.7 171.1 498.9 173.3 497.2C175.4 495.6 177.9 494.2 180.2 494.2Z" fill="#4b86cf" stroke="#cdd9f2" stroke-width="0.8"/>
<path d="M188.8 499L194.8 504.1L200.9 514.5L204.3 524.8L206.5 536L206.9 543.8L203.4 550.7L198.3 555L192.2 557.6L187.9 555.9L180.2 550.7L175 546.8L181 546.4L193.1 538.6L196.6 533.4L192.2 524.8L191.4 516.2Z" fill="#3f5bb6"/>
<path d="M253.4 494.2C255.7 494.2 258.8 495.3 261.2 497.2C263.6 499.2 266.3 503 268.1 505.9C269.9 508.7 271.3 512.2 272 514.5C272.7 516.8 272.9 518.1 272.4 519.7C271.9 521.2 270.5 523.4 269 524C267.4 524.5 264.2 523.5 262.9 523.1C261.6 522.7 262.2 521.4 261.2 521.4C260.2 521.4 257.8 522.1 256.9 523.1C256 524.1 255.6 526.1 256 527.4C256.5 528.7 258.2 530.4 259.5 530.9C260.8 531.3 262.8 529.1 263.8 530C264.8 530.9 265.4 533.9 265.5 536C265.7 538.2 265.5 540.8 264.7 542.9C263.8 545.1 262.2 547.2 260.3 549C258.5 550.7 255.7 552.1 253.4 553.3C251.1 554.4 248.6 555.1 246.6 555.9C244.5 556.6 243 557.7 241.4 557.6C239.8 557.4 238.8 556.6 237.1 555C235.3 553.4 232.6 550.5 231 548.1C229.5 545.7 227.9 543.1 227.6 540.3C227.2 537.6 228.2 534.9 228.9 531.7C229.6 528.6 230.7 524.7 231.9 521.4C233.1 518.1 234.5 515.1 236.2 511.9C237.9 508.7 240.4 504.9 242.2 502.4C244.1 500 245.5 498.6 247.4 497.2C249.3 495.9 251.1 494.2 253.4 494.2Z" fill="#4b86cf" stroke="#cdd9f2" stroke-width="0.8"/>
<path d="M247.4 497.2L242.2 502.4L236.2 511.9L231.9 521.4L228.9 531.7L227.6 540.3L231 548.1L237.1 555L241.4 557.6L246.6 555.9L253.4 553.3L257.8 550.7L247.4 542.9L240.5 538.6L239.7 531.7L244 521.4L245.3 505.9Z" fill="#3f5bb6"/>
<rect x="175.9" y="508.3" width="13.4" height="2" fill="#000"/>
<rect x="179.3" y="512.2" width="13.8" height="2" fill="#000"/>
<rect x="175" y="514.8" width="13.8" height="2" fill="#000"/>
<rect x="172.8" y="528.3" width="13.8" height="2" fill="#000"/>
<rect x="176.7" y="516.5" width="14.7" height="1.2" fill="#d8383a"/>
<rect x="247" y="500.6" width="13.4" height="2" fill="#000"/>
<rect x="245.7" y="519.3" width="16.4" height="2.4" fill="#000"/>
<rect x="241.4" y="526" width="14.2" height="2" fill="#000"/>
<rect x="241.4" y="532" width="14.2" height="2" fill="#000"/>
<rect x="241.4" y="534.2" width="14.2" height="2" fill="#000"/>
<rect x="234.1" y="545.6" width="20.3" height="2" fill="#000"/>
<text x="277.7" y="468.1" font-size="14.6" fill="#4a58ad" font-family="'Liberation Sans','DejaVu Sans',sans-serif">Shell</text>
<text x="277.7" y="492.7" font-size="14.6" fill="#5b8bcb" font-family="'Liberation Sans','DejaVu Sans',sans-serif">Core</text>
<rect x="313.2" y="568.6" width="41.8" height="10.4" fill="#000"/>
<path d="M217.3 641C216.8 642.3 217.9 642.3 217.3 641C216.8 639.7 216.1 635.5 214.2 633.3C212.4 631 209.4 628.9 206.3 627.7C203.1 626.5 200 626 195.2 626.2C190.4 626.3 184.8 626.5 177.4 628.8C170.1 631.1 160.1 635.1 150.8 639.9C141.6 644.7 130.2 651.4 122 657.6C113.9 663.9 106.9 670.6 102.1 677.6C97.3 684.6 94.9 693.5 93.2 699.8C91.5 706 91.7 709.7 92.1 715.3C92.5 720.8 93.4 726.4 95.4 733C97.5 739.7 101 748.5 104.3 755.2C107.6 761.8 111.9 768.1 115.4 772.9C118.9 777.7 122.4 780.7 125.3 784C128.3 787.3 130.3 789.5 133.1 792.9C135.9 796.2 138.6 800.4 142 803.9C145.3 807.5 149 811.3 153.1 813.9C157.1 816.5 161.6 819 166.4 819.5C171.2 819.9 177.1 818.3 181.9 816.8C186.7 815.3 191.7 813.3 195.2 810.6C198.7 807.9 200.5 803.6 202.9 800.6C205.3 797.7 207.2 794.9 209.6 792.9C212 790.8 216.1 789.2 217.3 788.4C218.6 787.7 216.1 787.7 217.3 788.4C218.6 789.2 222.7 790.8 225.1 792.9C227.5 794.9 229.4 797.7 231.8 800.6C234.2 803.6 236 807.9 239.5 810.6C243 813.3 248 815.3 252.8 816.8C257.6 818.3 263.5 819.9 268.3 819.5C273.1 819 277.6 816.5 281.6 813.9C285.7 811.3 289.4 807.5 292.7 803.9C296 800.4 298.8 796.2 301.6 792.9C304.4 789.5 306.4 787.3 309.3 784C312.3 780.7 315.8 777.7 319.3 772.9C322.8 768.1 327.1 761.8 330.4 755.2C333.7 748.5 337.2 739.7 339.3 733C341.3 726.4 342.2 720.8 342.6 715.3C343 709.7 343.1 706 341.5 699.8C339.8 693.5 337.4 684.6 332.6 677.6C327.8 670.6 320.8 663.9 312.7 657.6C304.5 651.4 293.1 644.7 283.8 639.9C274.6 635.1 264.6 631.1 257.2 628.8C249.9 626.5 244.3 626.3 239.5 626.2C234.7 626 231.6 626.5 228.4 627.7C225.3 628.9 222.3 631 220.4 633.3C218.6 635.5 217.9 639.7 217.3 641Z" fill="#d3d3d3"/>
<ellipse cx="217.6" cy="697.5" rx="1.4" ry="3.9" fill="#fff"/>
<path d="M193.1 742.1C194.3 742.6 196.7 745.2 198.3 747.2C199.9 749.3 201.5 752.1 202.6 754.1C203.7 756.1 204.6 757.6 204.7 759.3C204.9 761 203.4 762.2 203.4 764.5C203.5 766.8 205.2 770.4 205.2 773.1C205.2 775.8 204.6 778.4 203.4 780.9C202.3 783.3 200.3 785.9 198.3 787.8C196.3 789.6 193.7 791.3 191.4 792.1C189.1 792.9 186.9 792.9 184.5 792.5C182 792.1 179 791 176.7 789.5C174.4 788 172.2 785.9 170.7 783.4C169.2 781 168.2 777.7 167.7 774.8C167.2 772 167.2 769.2 167.7 766.2C168.2 763.2 169.2 759.6 170.7 756.7C172.2 753.9 174.6 750.8 176.7 749C178.9 747.1 181.6 746 183.6 745.5C185.6 745 187.6 745.7 188.8 745.9C189.9 746.2 190.1 747.6 190.5 747.2C190.9 746.9 190.9 744.7 191.4 743.8C191.8 742.9 192 741.5 193.1 742.1Z" fill="#4b86cf" stroke="#cdd9f2" stroke-width="0.8"/>
<path d="M193.1 742.1C194.3 742.1 196.7 745.2 198.3 747.2C199.9 749.3 201.5 752.1 202.6 754.1C203.7 756.1 204.6 757.6 204.7 759.3C204.9 761 203.4 762.2 203.4 764.5C203.5 766.8 205.2 770.4 205.2 773.1C205.2 775.8 204.4 780.4 203.4 780.9C202.5 781.3 200.6 778.4 199.6 775.7C198.5 773 197.9 767.8 197 764.5C196 761.2 194.9 758.7 194 755.9C193 753 191.5 749.5 191.4 747.2C191.2 744.9 192 742.1 193.1 742.1Z" fill="#3f5bb6"/>
<path d="M170.7 783.4C171 782.2 175 782.3 178.4 781.7C181.9 781.1 187.9 780.9 191.4 780C194.8 779.1 197.1 776 199.1 776.1C201.1 776.3 203.6 778.9 203.4 780.9C203.3 782.8 200.3 785.9 198.3 787.8C196.3 789.6 193.7 791.3 191.4 792.1C189.1 792.9 186.9 792.9 184.5 792.5C182 792.1 179 791 176.7 789.5C174.4 788 170.4 784.7 170.7 783.4Z" fill="#3f5bb6"/>
<ellipse cx="179.7" cy="760.6" rx="4.7" ry="5.3" fill="#f1eef4"/>
<path d="M242.2 742.1C243.5 742.1 243.4 746.6 244 747.2C244.5 747.9 244.5 746.2 245.7 745.9C246.8 745.7 248.9 745 250.9 745.5C252.9 746 255.6 747.1 257.8 749C259.9 750.8 262.3 753.9 263.8 756.7C265.3 759.6 266.3 763.2 266.8 766.2C267.3 769.2 267.3 772 266.8 774.8C266.3 777.7 265.3 781 263.8 783.4C262.3 785.9 260.1 788 257.8 789.5C255.5 791 252.4 792.1 250 792.5C247.6 792.9 245.4 792.9 243.1 792.1C240.8 791.3 238.2 789.6 236.2 787.8C234.2 785.9 232.2 783.3 231 780.9C229.9 778.4 229.3 775.8 229.3 773.1C229.3 770.4 231 766.8 231 764.5C231.1 762.2 229.6 761 229.7 759.3C229.9 757.6 230.8 756.1 231.9 754.1C233 752.1 234.5 749.3 236.2 747.2C237.9 745.2 240.9 742.1 242.2 742.1Z" fill="#4b86cf" stroke="#cdd9f2" stroke-width="0.8"/>
<path d="M242.2 742.1C243.5 742.1 244.3 744.9 244 747.2C243.7 749.5 241.5 753 240.5 755.9C239.6 758.7 239.1 761.3 238.4 764.5C237.6 767.6 237.4 772.1 236.2 774.8C235 777.6 232.2 781.1 231 780.9C229.9 780.6 229.3 775.8 229.3 773.1C229.3 770.4 231 766.8 231 764.5C231.1 762.2 229.6 761 229.7 759.3C229.9 757.6 230.8 756.1 231.9 754.1C233 752.1 234.5 749.3 236.2 747.2C237.9 745.2 240.9 742.1 242.2 742.1Z" fill="#3f5bb6"/>
<path d="M231 780.9C231 778.9 233.8 776.3 235.8 776.1C237.8 776 239.7 779.1 243.1 780C246.5 780.9 252.6 781.1 256 781.7C259.5 782.3 263.5 782.2 263.8 783.4C264.1 784.7 260.1 788 257.8 789.5C255.5 791 252.4 792.1 250 792.5C247.6 792.9 245.4 792.9 243.1 792.1C240.8 791.3 238.2 789.6 236.2 787.8C234.2 785.9 231.1 782.8 231 780.9Z" fill="#3f5bb6"/>
<ellipse cx="256.5" cy="760.2" rx="5.3" ry="4.3" fill="#e6ecf6" transform="rotate(25 256.5 760.2)"/>
<rect x="172.8" y="759.2" width="14.2" height="2" fill="#e2453c"/>
<rect x="180.2" y="764.3" width="14.7" height="2" fill="#000"/>
<rect x="171.1" y="767.2" width="40.1" height="2" fill="#000"/>
<rect x="178.9" y="773" width="18.5" height="3.4" fill="#000"/>
<rect x="184.9" y="778.8" width="15.1" height="2" fill="#000"/>
<rect x="240.1" y="760.2" width="14.2" height="2" fill="#000"/>
<rect x="235.3" y="771.3" width="29.3" height="3" fill="#000"/>
<rect x="236.2" y="775.9" width="13.8" height="1.3" fill="#000"/>
<rect x="234.9" y="780.2" width="13.4" height="1.4" fill="#000"/>
<rect x="237.9" y="768.8" width="25" height="2" fill="#d8383a"/>
<rect x="313.2" y="804.9" width="41.8" height="10.4" fill="#000"/>
<path d="M217.3 891C216.8 892.3 217.9 892.3 217.3 891C216.8 889.7 216.1 885.4 214.2 883.3C212.4 881.1 209.4 879.4 206.3 878.4C203.1 877.3 200 876.8 195.2 877C190.4 877.3 184.8 878.2 177.4 879.9C170.1 881.7 159.7 884.2 150.8 887.7C142 891.2 132 895.8 124.2 901C116.5 906.2 109.8 912.1 104.3 918.7C98.7 925.4 94.1 933.9 91 940.9C87.8 947.9 86.4 954.9 85.4 960.8C84.5 966.8 84.9 970.8 85.4 976.4C86 981.9 87.1 988.2 88.8 994.1C90.4 1000 92.5 1006.3 95.4 1011.8C98.4 1017.4 102.4 1022.5 106.5 1027.3C110.6 1032.1 115.7 1037 119.8 1040.6C123.9 1044.3 127.9 1046.6 130.9 1049.5C133.8 1052.5 135.3 1055.2 137.5 1058.4C139.8 1061.5 141.6 1065.6 144.2 1068.4C146.8 1071.1 149.4 1073.5 153.1 1075C156.8 1076.5 161.6 1077.2 166.4 1077.2C171.2 1077.2 177.4 1076.5 181.9 1075C186.3 1073.5 190 1070.8 193 1068.4C195.9 1066 197 1063.2 199.6 1060.6C202.2 1058 205.5 1054.9 208.5 1052.8C211.4 1050.8 215.9 1049.1 217.3 1048.4C218.8 1047.7 215.9 1047.7 217.3 1048.4C218.8 1049.1 223.3 1050.8 226.2 1052.8C229.2 1054.9 232.5 1058 235.1 1060.6C237.7 1063.2 238.8 1066 241.7 1068.4C244.7 1070.8 248.4 1073.5 252.8 1075C257.2 1076.5 263.5 1077.2 268.3 1077.2C273.1 1077.2 277.9 1076.5 281.6 1075C285.3 1073.5 287.9 1071.1 290.5 1068.4C293.1 1065.6 294.9 1061.5 297.1 1058.4C299.4 1055.2 300.8 1052.5 303.8 1049.5C306.8 1046.6 310.8 1044.3 314.9 1040.6C318.9 1037 324.1 1032.1 328.2 1027.3C332.2 1022.5 336.3 1017.4 339.3 1011.8C342.2 1006.3 344.3 1000 345.9 994.1C347.6 988.2 348.7 981.9 349.2 976.4C349.8 970.8 350.2 966.8 349.2 960.8C348.3 954.9 346.8 947.9 343.7 940.9C340.6 933.9 335.9 925.4 330.4 918.7C324.9 912.1 318.2 906.2 310.5 901C302.7 895.8 292.7 891.2 283.8 887.7C275 884.2 264.6 881.7 257.2 879.9C249.9 878.2 244.3 877.3 239.5 877C234.7 876.8 231.6 877.3 228.4 878.4C225.3 879.4 222.3 881.1 220.4 883.3C218.6 885.4 217.9 889.7 217.3 891Z" fill="#d3d3d3"/>
<ellipse cx="217.6" cy="939.7" rx="1.4" ry="3.9" fill="#fff"/>
<path d="M191.4 999.7C192.8 999.5 196.4 1001.4 198.3 1003.1C200.1 1004.8 201.6 1007.6 202.6 1010C203.6 1012.4 204.1 1015.5 204.3 1017.8C204.5 1020.1 204.3 1023.5 203.9 1023.8C203.4 1024.1 202.5 1020.3 201.7 1019.5C200.9 1018.6 200 1018 199.1 1018.6C198.3 1019.2 197.4 1021.1 196.6 1022.9C195.7 1024.8 195 1027.7 194 1029.8C193 1032 191.8 1034.3 190.5 1035.9C189.2 1037.4 187.6 1038.6 186.2 1039.3C184.8 1040.1 184.1 1040.3 181.9 1040.3C179.7 1040.4 175.7 1040.8 173.3 1039.7C170.8 1038.7 168.3 1036.4 167.2 1034.1C166.2 1031.9 166.2 1029.1 166.8 1026.4C167.4 1023.6 168.9 1020.5 170.7 1017.8C172.5 1015 175.3 1012.2 177.6 1010C179.9 1007.8 182.5 1005.8 184.5 1004.8C186.5 1003.8 188.5 1004.8 189.7 1004C190.8 1003.1 189.9 999.8 191.4 999.7Z" fill="#3f5bb6" stroke="#cdd9f2" stroke-width="0.8"/>
<path d="M189.8 1004.1C191.2 1005.1 192.2 1008.3 192.7 1010.9C193.2 1013.4 193.1 1016.6 192.8 1019.5C192.6 1022.4 191.9 1025.4 190.9 1028.1C190 1030.8 189.2 1033.8 187.1 1035.4C185 1037 180.9 1037.1 178.4 1037.8C176 1038.4 174.4 1039.9 172.6 1039.3C170.7 1038.7 168.3 1036.3 167.4 1034.1C166.5 1032 166.4 1029.1 167 1026.4C167.5 1023.6 168.9 1020.5 170.7 1017.8C172.5 1015 175.3 1012.1 177.6 1010C179.9 1007.9 182.4 1006 184.5 1005C186.5 1004 188.5 1003.2 189.8 1004.1Z" fill="#4b86cf"/>
<ellipse cx="184.9" cy="1014.3" rx="4.3" ry="5.7" fill="#d6d6d6" stroke="#cfe0f3" stroke-width="2.2" transform="rotate(20 184.9 1014.3)"/>
<path d="M244 999.7C242.5 999.5 238.9 1001.4 237.1 1003.1C235.2 1004.8 233.8 1007.6 232.8 1010C231.8 1012.4 231.2 1015.5 231 1017.8C230.8 1020.1 230.9 1023.6 231.5 1023.8C232 1023.9 233.5 1019.3 234.5 1018.6C235.4 1017.9 236.2 1018.5 237.1 1019.5C237.9 1020.5 238.5 1022.6 239.7 1024.7C240.8 1026.7 242.7 1029.5 244 1031.6C245.3 1033.6 245.7 1035.3 247.4 1036.7C249.1 1038.2 251.7 1039.8 254.3 1040.3C256.9 1040.8 260.5 1040.8 262.9 1039.7C265.4 1038.7 267.9 1036.4 269 1034.1C270 1031.9 270 1029.1 269.4 1026.4C268.8 1023.6 267.3 1020.5 265.5 1017.8C263.7 1015 260.9 1012.2 258.6 1010C256.3 1007.8 253.9 1005.8 251.7 1004.8C249.6 1003.8 247 1004.8 245.7 1004C244.4 1003.1 245.4 999.8 244 999.7Z" fill="#3f5bb6" stroke="#cdd9f2" stroke-width="0.8"/>
<path d="M245.9 1004.1C247.6 1003.2 249.6 1004 251.7 1005C253.9 1006 256.3 1007.9 258.6 1010C260.9 1012.1 263.8 1015 265.5 1017.8C267.3 1020.5 268.7 1023.6 269.2 1026.4C269.8 1029.1 269.8 1032 268.8 1034.1C267.8 1036.3 265.1 1038.7 263.1 1039.3C261.1 1039.9 259.1 1038.6 256.9 1037.6C254.7 1036.6 252 1035.1 250 1033.3C248 1031.4 246.2 1028.7 244.8 1026.4C243.4 1024.1 242.1 1022.1 241.6 1019.5C241 1016.9 240.8 1013.4 241.6 1010.9C242.3 1008.3 244.2 1005.1 245.9 1004.1Z" fill="#4b86cf"/>
<ellipse cx="249.1" cy="1013.4" rx="4.5" ry="4.1" fill="#d8dde6" stroke="#cfe0f3" stroke-width="2.0"/>
<ellipse cx="234.9" cy="1022.9" rx="1.9" ry="3.9" fill="#dcdfe8"/>
<rect x="176.3" y="1031.2" width="14.7" height="2" fill="#000"/>
<rect x="240.1" y="1017.8" width="14.2" height="2" fill="#000"/>
<rect x="234.1" y="1029" width="13.4" height="1.7" fill="#e0484a"/>
<rect x="313.2" y="1059.1" width="41.8" height="10.4" fill="#000"/>
<path d="M217.3 1155.4C216.6 1156.4 218.1 1156.4 217.3 1155.4C216.6 1154.4 215.1 1151.2 212.9 1149.5C210.7 1147.7 207 1145.9 204 1145C201.1 1144.2 200.3 1144.1 195.2 1144.4C190 1144.6 180.4 1145.1 173 1146.6C165.6 1148.1 158.2 1150.3 150.8 1153.2C143.5 1156.2 135.7 1160.1 128.7 1164.3C121.7 1168.6 114.6 1173.4 108.7 1178.7C102.8 1184.1 97.5 1190.2 93.2 1196.5C89 1202.7 85.8 1210.1 83.2 1216.4C80.6 1222.7 78.8 1229 77.7 1234.1C76.6 1239.3 76.4 1242.3 76.6 1247.4C76.8 1252.6 77.5 1259.6 78.8 1265.2C80.1 1270.7 81.9 1275.2 84.3 1280.7C86.7 1286.2 89.5 1292.9 93.2 1298.4C96.9 1304 101.7 1309.1 106.5 1313.9C111.3 1318.7 117.2 1323.6 122 1327.2C126.8 1330.9 131.6 1333.3 135.3 1336.1C139 1338.9 140.5 1341.8 144.2 1343.9C147.9 1345.9 152.7 1347.9 157.5 1348.3C162.3 1348.7 168.8 1347.4 173 1346.1C177.3 1344.8 181 1342.4 183 1340.5C185 1338.7 183.2 1336.3 185.2 1335C187.2 1333.7 191.3 1334.1 195.2 1332.8C199.1 1331.5 204.8 1328.4 208.5 1327.2C212.2 1326.1 214.4 1326 217.3 1326.1C220.3 1326.3 223.4 1327.4 226.2 1328.4C229 1329.3 231.4 1331.3 234 1331.7C236.6 1332 239.1 1330 241.7 1330.6C244.3 1331.1 247.8 1333.3 249.5 1335C251.2 1336.7 249.7 1338.7 251.7 1340.5C253.7 1342.4 257.4 1344.8 261.7 1346.1C265.9 1347.4 272.4 1348.7 277.2 1348.3C282 1347.9 286.8 1345.9 290.5 1343.9C294.2 1341.8 295.7 1338.9 299.4 1336.1C303.1 1333.3 307.9 1330.9 312.7 1327.2C317.5 1323.6 323.4 1318.7 328.2 1313.9C333 1309.1 337.8 1304 341.5 1298.4C345.2 1292.9 348 1286.2 350.4 1280.7C352.8 1275.2 354.5 1270.7 355.9 1265.2C357.3 1259.6 358.4 1252.6 358.8 1247.4C359.1 1242.3 359.1 1239.3 358.1 1234.1C357.1 1229 355.2 1222.7 352.6 1216.4C350 1210.1 346.8 1202.7 342.6 1196.5C338.3 1190.2 333.2 1184.1 327.1 1178.7C321 1173.4 313.2 1168.6 306 1164.3C298.8 1160.1 291.2 1156.2 283.8 1153.2C276.5 1150.3 269.1 1148.1 261.7 1146.6C254.3 1145.1 244.7 1144.6 239.5 1144.4C234.3 1144.1 233.6 1144.2 230.6 1145C227.7 1145.9 224 1147.7 221.8 1149.5C219.6 1151.2 218.1 1154.4 217.3 1155.4Z" fill="#d3d3d3"/>
<ellipse cx="217.6" cy="1202.2" rx="1.4" ry="2.8" fill="#fff"/>
<rect x="242.3" y="1313.3" width="14.8" height="1.3" fill="#b0559f"/>
<rect x="313.2" y="1329.8" width="41.8" height="10.4" fill="#000"/>
<text x="50.4" y="388.9" font-size="21.0" fill="#000">+1.40 AP</text>
<text x="50.4" y="624.6" font-size="21.0" fill="#000">+1.00 AP</text>
<text x="50.4" y="879.2" font-size="21.0" fill="#000">+0.60 AP</text>
<text x="50.4" y="1150.4" font-size="21.0" fill="#000">+0.20 AP</text>
<path d="M658.5 388.8C658 389.9 659 389.9 658.5 388.8C658 387.7 657.6 384.1 655.4 382.2C653.2 380.2 649.1 378.3 645.2 377.3C641.3 376.3 637 375.9 631.9 376C626.7 376 621.2 376.1 614.1 377.7C607.1 379.3 597.9 382.2 589.8 385.5C581.6 388.8 573.1 392.7 565.4 397.7C557.6 402.7 549.9 408.8 543.2 415.4C536.6 422.1 530.3 430.2 525.5 437.6C520.7 445 517 452 514.4 459.8C511.7 467.5 510.2 476.8 509.5 484.1C508.8 491.5 509.1 498.2 510 504.1C510.8 510 512.2 514.4 514.4 519.6C516.6 524.8 520.1 530.3 523.3 535.1C526.4 539.9 530.3 544 533.2 548.4C536.2 552.9 538.2 557.5 541 561.7C543.8 566 546.5 570.4 549.9 573.9C553.2 577.4 556.9 580.9 560.9 582.8C565 584.6 569.4 585.2 574.2 585C579 584.8 584.2 583.2 589.8 581.7C595.3 580.2 602.3 578 607.5 576.1C612.7 574.3 616.7 570.6 620.8 570.6C624.9 570.6 628.6 574.5 631.9 576.1C635.2 577.8 637.8 580.6 640.7 580.6C643.7 580.6 646.7 577.2 649.6 576.1C652.6 575 655.5 573.9 658.5 573.9C661.4 573.9 664 575 667.3 576.1C670.7 577.2 675.1 580.6 678.4 580.6C681.8 580.6 684 577.8 687.3 576.1C690.6 574.5 694.3 570.6 698.4 570.6C702.4 570.6 706.5 574.3 711.7 576.1C716.9 578 723.9 580.2 729.4 581.7C735 583.2 740.1 584.8 744.9 585C749.7 585.2 754.2 584.6 758.2 582.8C762.3 580.9 766 577.4 769.3 573.9C772.6 570.4 775.2 566 778.2 561.7C781.1 557.5 784.1 552.9 787.1 548.4C790 544 793.3 539.9 795.9 535.1C798.5 530.3 800.8 524.8 802.6 519.6C804.3 514.4 805.8 510 806.6 504.1C807.3 498.2 807.7 491.5 807 484.1C806.3 476.8 805.2 467.5 802.6 459.8C800 452 796.3 445 791.5 437.6C786.7 430.2 780.4 422.1 773.8 415.4C767.1 408.8 759.3 402.7 751.6 397.7C743.8 392.7 735.3 388.8 727.2 385.5C719.1 382.2 709.8 379.3 702.8 377.7C695.8 376.1 690.3 376 685.1 376C679.9 375.9 675.7 376.3 671.8 377.3C667.9 378.3 663.8 380.2 661.6 382.2C659.4 384.1 659 387.7 658.5 388.8Z" fill="#d3d3d3"/>
<path d="M573.1 448.7L591.5 437.1L602.6 459.3L585.3 470.2Z" fill="#f08055"/>
<path d="M573.1 448.7L585.3 470.2L579.8 480.8L555.4 467.5L564.3 458.6Z" fill="#f5a626"/>
<path d="M725 437.6L744.5 448.7L732.3 469.1L713.5 458.6Z" fill="#f08055"/>
<path d="M744.5 448.7L754.2 456.7L760 466.4L735 479.7L732.3 469.1Z" fill="#f5a626"/>
<rect x="556.5" y="449.5" width="14.4" height="3.6" fill="#000"/>
<rect x="552.7" y="460.9" width="13.7" height="2.2" fill="#000"/>
<rect x="741.6" y="430.7" width="14.4" height="1.8" fill="#c9504c"/>
<text x="596" y="424.4" font-size="14.7" fill="#ee8462" font-family="'Liberation Sans','DejaVu Sans',sans-serif">Dorsal/Dorsolateral</text>
<text x="589.8" y="506" font-size="14.65" fill="#f3a63a" font-family="'Liberation Sans','DejaVu Sans',sans-serif">Intermediate/Dorsal</text>
<rect x="784.8" y="568.8" width="41.1" height="10.3" fill="#000"/>
<path d="M658.5 621C658 622.3 659 622.3 658.5 621C658 619.7 657.6 615.3 655.4 613.3C653.2 611.2 649.5 609.7 645.2 608.8C640.9 608 635.6 607.8 629.7 608.2C623.7 608.5 617.1 609.1 609.7 611.1C602.3 613 593.5 616.2 585.3 619.9C577.2 623.6 568.7 627.9 560.9 633.2C553.2 638.6 545.4 645.2 538.8 652.1C532.1 658.9 525.7 666.5 521 674.2C516.4 682 513.4 690.9 511.1 698.6C508.8 706.4 507.8 713.8 507.3 720.8C506.8 727.8 507.2 734.8 508.2 740.7C509.2 746.7 511.1 752.1 513.3 756.3C515.4 760.4 518.6 762.6 521 765.6C523.4 768.5 525.5 770.4 527.7 774C529.9 777.6 532.1 782.9 534.3 787.3C536.6 791.7 538.4 796.2 541 800.6C543.6 805 546.5 810.2 549.9 813.9C553.2 817.6 556.9 820.9 560.9 822.8C565 824.6 569.8 825.2 574.2 825C578.7 824.8 583.1 823.5 587.5 821.7C592 819.8 596.8 816.1 600.8 813.9C604.9 811.7 608.2 809.1 611.9 808.4C615.6 807.6 619.3 808.8 623 809.5C626.7 810.1 630.4 812 634.1 812.3C637.8 812.7 641.1 812.2 645.2 811.7C649.2 811.2 654 809.5 658.5 809.5C662.9 809.5 667.7 811.2 671.8 811.7C675.8 812.2 679.2 812.7 682.9 812.3C686.6 812 690.3 810.1 693.9 809.5C697.6 808.8 701.3 807.6 705 808.4C708.7 809.1 712 811.7 716.1 813.9C720.2 816.1 725 819.8 729.4 821.7C733.8 823.5 738.3 824.8 742.7 825C747.1 825.2 752 824.6 756 822.8C760.1 820.9 763.8 817.6 767.1 813.9C770.4 810.2 773.4 805 776 800.6C778.6 796.2 780.4 791.7 782.6 787.3C784.8 782.9 787.1 777.6 789.3 774C791.5 770.4 793.5 768.5 795.9 765.6C798.3 762.6 801.6 760.4 803.7 756.3C805.7 752.1 807.2 746.7 808.1 740.7C809 734.8 809.6 727.8 809.2 720.8C808.9 713.8 808.1 706.4 805.9 698.6C803.7 690.9 800.5 682 795.9 674.2C791.3 666.5 784.8 658.9 778.2 652.1C771.5 645.2 763.8 638.6 756 633.2C748.3 627.9 739.8 623.6 731.6 619.9C723.5 616.2 714.6 613 707.2 611.1C699.9 609.1 693.2 608.5 687.3 608.2C681.4 607.8 676.1 608 671.8 608.8C667.5 609.7 663.8 611.2 661.6 613.3C659.4 615.3 659 619.7 658.5 621Z" fill="#d3d3d3"/>
<path d="M585.3 673.1L588.6 697.5L580.9 700.2L564.3 688.6Z" fill="#f08055"/>
<path d="M564.3 688.6L580.9 700.2L584.2 699.1L574.2 717.9L554.3 701.5Z" fill="#f5a626"/>
<path d="M730.5 673.1L746 684.9L738.3 694.2L728.3 698Z" fill="#f08055"/>
<path d="M746 684.9L760 698.6L742.7 717.9L737.2 698.6L738.3 694.2Z" fill="#f5a626"/>
<rect x="548.7" y="691.4" width="14.4" height="3.3" fill="#000"/>
<rect x="552.5" y="695" width="12.9" height="2.8" fill="#000"/>
<rect x="553.2" y="697.9" width="17.7" height="3.6" fill="#000"/>
<rect x="540.5" y="702.1" width="31.5" height="2" fill="#000"/>
<rect x="754.9" y="686.1" width="14.4" height="1.6" fill="#d8383a"/>
<rect x="746" y="683.9" width="13.3" height="2" fill="#000"/>
<rect x="747.1" y="698" width="18.8" height="3.4" fill="#000"/>
<rect x="744.9" y="701.4" width="17.7" height="2.4" fill="#000"/>
<rect x="742.7" y="708.1" width="14.4" height="2.4" fill="#000"/>
<rect x="742.7" y="710.7" width="14.4" height="2.4" fill="#000"/>
<rect x="784.8" y="804.7" width="41.1" height="10.4" fill="#000"/>
<path d="M657.4 873.3C656.8 874.4 657.9 874.4 657.4 873.3C656.9 872.1 656.3 868 654.3 866.2C652.2 864.3 649.6 863 645.2 862.2C640.7 861.3 633.7 860.9 627.4 861.1C621.2 861.2 614.9 861.6 607.5 863.3C600.1 864.9 591.2 867.5 583.1 871C575 874.5 566.5 879.2 558.7 884.3C551 889.5 543.2 895.1 536.6 902.1C529.9 909.1 523.4 918.3 518.8 926.5C514.2 934.6 511.2 943.1 508.8 950.8C506.4 958.6 505 966.4 504.4 973C503.8 979.7 504.2 985.4 505.1 990.7C506 996.1 507.7 1001 510 1005.2C512.2 1009.3 516.2 1012.4 518.8 1015.6C521.4 1018.7 523.4 1020.4 525.5 1024C527.5 1027.6 529.2 1032.9 531 1037.3C532.9 1041.7 534.5 1046.2 536.6 1050.6C538.6 1055 540.6 1060 543.2 1063.9C545.8 1067.8 548.7 1071.3 552.1 1073.9C555.4 1076.5 559.1 1078.7 563.2 1079.4C567.2 1080.2 572 1079.4 576.5 1078.3C580.9 1077.2 585.7 1075 589.8 1072.8C593.8 1070.5 597.5 1066.9 600.8 1065C604.2 1063.2 606.4 1061.9 609.7 1061.7C613 1061.5 617.1 1062.8 620.8 1063.9C624.5 1065 627.8 1067.3 631.9 1068.3C635.9 1069.4 640.7 1069.9 645.2 1070.1C649.6 1070.3 654 1069.4 658.5 1069.4C662.9 1069.4 667.3 1070.3 671.8 1070.1C676.2 1069.9 681 1069.4 685.1 1068.3C689.1 1067.3 692.5 1065 696.2 1063.9C699.9 1062.8 703.9 1061.5 707.2 1061.7C710.6 1061.9 712.8 1063.2 716.1 1065C719.4 1066.9 723.1 1070.5 727.2 1072.8C731.3 1075 736.1 1077.2 740.5 1078.3C744.9 1079.4 749.7 1080.2 753.8 1079.4C757.9 1078.7 761.6 1076.5 764.9 1073.9C768.2 1071.3 771.2 1067.8 773.8 1063.9C776.3 1060 778.4 1055 780.4 1050.6C782.4 1046.2 784.1 1041.7 785.9 1037.3C787.8 1032.9 789.5 1027.6 791.5 1024C793.5 1020.4 795.5 1018.7 798.1 1015.6C800.7 1012.4 804.9 1009.3 807 1005.2C809.1 1001 810.4 996.1 811 990.7C811.5 985.4 811 979.7 810.3 973C809.7 966.4 809.2 958.6 807 950.8C804.8 943.1 801.5 934.6 797 926.5C792.6 918.3 786.9 909.1 780.4 902.1C773.9 895.1 766 889.5 758.2 884.3C750.5 879.2 742 874.5 733.8 871C725.7 867.5 716.9 864.9 709.5 863.3C702.1 861.6 695.8 861.2 689.5 861.1C683.2 860.9 676.5 861.3 671.8 862.2C667 863 663.3 864.3 660.9 866.2C658.5 868 658 872.1 657.4 873.3Z" fill="#d3d3d3"/>
<path d="M572.2 931.3L581.3 950.5L575.9 962.9L551.3 959.2L561.1 943.2Z" fill="#f08055"/>
<path d="M551.3 959.2L575.9 962.9L578.4 967.8L572.2 983.8L543.9 967.8Z" fill="#f5a626"/>
<path d="M743.4 931.3L758.2 943.2L764.3 957.9L739.7 961.6L734.3 950.5Z" fill="#f08055"/>
<path d="M739.7 961.6L764.3 957.9L771.7 967.8L743.4 983.8L738 967.8Z" fill="#f5a626"/>
<rect x="554.2" y="936.2" width="14.3" height="2.1" fill="#000"/>
<rect x="555.7" y="944.6" width="14" height="2.1" fill="#000"/>
<rect x="548.3" y="950.2" width="13.5" height="2.1" fill="#000"/>
<rect x="555" y="953.2" width="15.5" height="2.1" fill="#000"/>
<rect x="555" y="955.6" width="14.8" height="2.1" fill="#000"/>
<rect x="552.5" y="960.6" width="14" height="2.1" fill="#000"/>
<rect x="559.2" y="963.5" width="14.3" height="2.1" fill="#000"/>
<rect x="744.1" y="935.9" width="14" height="2.1" fill="#000"/>
<rect x="747.1" y="940.4" width="14.3" height="2.1" fill="#000"/>
<rect x="738.5" y="942.6" width="14.8" height="2.1" fill="#000"/>
<rect x="748.8" y="953.4" width="14.3" height="2.1" fill="#000"/>
<rect x="742.9" y="956.4" width="14.5" height="2.1" fill="#000"/>
<rect x="784.8" y="1058.9" width="41.1" height="10.5" fill="#000"/>
<path d="M658.5 1142.1C657.8 1143.4 659.1 1143.4 658.5 1142.1C657.8 1140.9 656.9 1136.4 654.7 1134.4C652.5 1132.4 649.4 1130.8 645.2 1130C641 1129.1 635.6 1129.1 629.7 1129.5C623.7 1129.9 617.1 1130.3 609.7 1132.2C602.3 1134 593.5 1137.1 585.3 1140.6C577.2 1144.1 568.7 1148.2 560.9 1153.2C553.2 1158.3 545.6 1164.1 538.8 1171C531.9 1177.8 524.9 1186.3 519.9 1194.2C514.9 1202.2 511.5 1210.9 508.8 1218.6C506.1 1226.4 504.6 1234.1 503.7 1240.8C502.9 1247.4 503.1 1253 503.7 1258.5C504.4 1264.1 505.8 1269.5 507.7 1274C509.7 1278.6 513.1 1282.2 515.5 1285.6C517.9 1288.9 520.1 1290.4 522.1 1294C524.2 1297.6 525.8 1302.9 527.7 1307.3C529.5 1311.7 531.2 1316.2 533.2 1320.6C535.3 1325 537.3 1330 539.9 1333.9C542.5 1337.8 545.2 1341.3 548.7 1343.9C552.3 1346.5 556.7 1348.6 560.9 1349.4C565.2 1350.3 570.2 1349.9 574.2 1349C578.3 1348 581.6 1346 585.3 1343.9C589 1341.7 593.1 1338.5 596.4 1336.1C599.7 1333.7 602.3 1330.8 605.3 1329.5C608.2 1328.2 611.2 1328 614.1 1328.4C617.1 1328.7 620.4 1330.2 623 1331.7C625.6 1333.2 626.7 1335.8 629.7 1337.2C632.6 1338.6 635.9 1339.5 640.7 1340.1C645.5 1340.7 652.6 1340.5 658.5 1340.5C664.4 1340.5 671.4 1340.7 676.2 1340.1C681 1339.5 684.3 1338.6 687.3 1337.2C690.3 1335.8 691.4 1333.2 693.9 1331.7C696.5 1330.2 699.9 1328.7 702.8 1328.4C705.8 1328 708.7 1328.2 711.7 1329.5C714.6 1330.8 717.2 1333.7 720.5 1336.1C723.9 1338.5 727.9 1341.7 731.6 1343.9C735.3 1346 738.7 1348 742.7 1349C746.8 1349.9 751.8 1350.3 756 1349.4C760.3 1348.6 764.7 1346.5 768.2 1343.9C771.7 1341.3 774.5 1337.8 777.1 1333.9C779.7 1330 781.7 1325 783.7 1320.6C785.8 1316.2 787.4 1311.7 789.3 1307.3C791.1 1302.9 792.8 1297.6 794.8 1294C796.8 1290.4 799.1 1288.9 801.5 1285.6C803.9 1282.2 807.5 1278.6 809.2 1274C811 1269.5 811.5 1264.1 811.9 1258.5C812.2 1253 812.2 1247.4 811.4 1240.8C810.6 1234.1 809.4 1226.4 807 1218.6C804.6 1210.9 801.8 1202.2 797 1194.2C792.2 1186.3 785 1177.8 778.2 1171C771.3 1164.1 763.8 1158.3 756 1153.2C748.3 1148.2 739.8 1144.1 731.6 1140.6C723.5 1137.1 714.6 1134 707.2 1132.2C699.9 1130.3 693.2 1129.9 687.3 1129.5C681.4 1129.1 676 1129.1 671.8 1130C667.6 1130.8 664.5 1132.4 662.2 1134.4C660 1136.4 659.1 1140.9 658.5 1142.1Z" fill="#d3d3d3"/>
<path d="M554.3 1218.2C555.6 1216.6 552.4 1216.6 554.3 1218.2C556.1 1219.7 563.5 1225.9 565.4 1227.5C567.2 1229 565.1 1225.6 565.4 1227.5C565.6 1229.3 566.1 1236 566.7 1238.6C567.3 1241.2 568.5 1242.3 568.9 1243C569.3 1243.7 569.4 1242.3 568.9 1243C568.4 1243.7 566.6 1245 565.8 1247.4C565.1 1249.8 564.1 1253.9 564.5 1257.4C564.9 1261 567.4 1266.8 568 1268.7C568.6 1270.6 572.4 1268.7 568 1268.7C563.7 1268.7 546.4 1268.7 542.1 1268.7C537.8 1268.7 542.3 1271.2 542.1 1268.7C541.9 1266.3 540.7 1258.7 540.8 1254.1C540.8 1249.4 541.6 1245.2 542.5 1240.8C543.5 1236.4 544.6 1231.3 546.5 1227.5C548.5 1223.7 553 1219.7 554.3 1218.2Z" fill="#f0664a"/>
<path d="M762.2 1218.2C764.3 1216.6 760.9 1216.6 762.2 1218.2C763.6 1219.7 768.4 1223.7 770.4 1227.5C772.4 1231.3 773.3 1236.4 774.2 1240.8C775 1245.2 775.5 1249.4 775.5 1254.1C775.5 1258.7 774.4 1266.3 774.2 1268.7C774 1271.2 778.7 1268.7 774.2 1268.7C769.7 1268.7 751.7 1268.7 747.1 1268.7C742.6 1268.7 746.6 1270.6 747.1 1268.7C747.7 1266.8 750.3 1261 750.7 1257.4C751.1 1253.9 750.1 1249.8 749.4 1247.4C748.6 1245 746.8 1243.7 746.3 1243C745.7 1242.3 745.9 1243.7 746.3 1243C746.6 1242.3 747.9 1241.2 748.5 1238.6C749.1 1236 749.6 1229.3 749.8 1227.5C750 1225.6 747.7 1229 749.8 1227.5C751.9 1225.9 760.2 1219.7 762.2 1218.2Z" fill="#f0664a"/>
<rect x="527.9" y="1226.5" width="14.8" height="1.8" fill="#b25bb0"/>
<rect x="543.9" y="1224.3" width="14" height="2.3" fill="#000"/>
<rect x="749.6" y="1231.5" width="14.3" height="2.3" fill="#000"/>
<text x="696.8" y="1209.5" font-size="14.8" fill="#ee6e55" font-family="'Liberation Sans','DejaVu Sans',sans-serif">Intermediate</text>
<rect x="784.8" y="1329.7" width="41.1" height="10.3" fill="#000"/>
<text x="481.3" y="363.8" font-size="21.0" fill="#000">-0.40 AP</text>
<text x="481.3" y="600" font-size="21.0" fill="#000">-0.70 AP</text>
<text x="481.3" y="854.5" font-size="21.0" fill="#000">-1.00 AP</text>
<text x="481.3" y="1124.5" font-size="21.0" fill="#000">-1.30 AP</text>
</g>
<g id="panel-c">
<text transform="translate(877.4 322.0) scale(1.2 1)" font-size="20" font-weight="bold" fill="#111" stroke="#111" stroke-width="0.7">c</text>
<text transform="translate(936.8 584.2) rotate(-90)" font-size="19.8" fill="#111" text-anchor="middle">Social Interaction Time (%)</text>
<text x="1226.5" y="883.6" font-size="19.8" fill="#111" text-anchor="middle">Distance to bregma at the skull surface (cm)</text>
<circle cx="1000.8" cy="384.7" r="4.05" fill="#ababab" stroke="#fff" stroke-width="0.9"/>
<circle cx="1056.7" cy="373.6" r="4.05" fill="#ababab" stroke="#fff" stroke-width="0.9"/>
<circle cx="1056.7" cy="367.1" r="4.05" fill="#4a86c6" stroke="#fff" stroke-width="0.9"/>
<circle cx="1019.4" cy="405.3" r="4.05" fill="#4a86c6" stroke="#fff" stroke-width="0.9"/>
<circle cx="1075.1" cy="411.9" r="4.05" fill="#3b4ea8" stroke="#fff" stroke-width="0.9"/>
<circle cx="1093.9" cy="441.9" r="4.05" fill="#4a86c6" stroke="#fff" stroke-width="0.9"/>
<circle cx="1112.1" cy="356.5" r="4.05" fill="#3b4ea8" stroke="#fff" stroke-width="0.9"/>
<circle cx="1112.1" cy="361.4" r="4.05" fill="#4a86c6" stroke="#fff" stroke-width="0.9"/>
<circle cx="1112.1" cy="371.6" r="4.05" fill="#4a86c6" stroke="#fff" stroke-width="0.9"/>
<circle cx="1112.1" cy="375.3" r="4.05" fill="#3b4ea8" stroke="#fff" stroke-width="0.9"/>
<circle cx="1112.1" cy="388.6" r="4.05" fill="#4a86c6" stroke="#fff" stroke-width="0.9"/>
<circle cx="1112.1" cy="418.1" r="4.05" fill="#4a86c6" stroke="#fff" stroke-width="0.9"/>
<circle cx="1112.1" cy="414.8" r="4.05" fill="#4a86c6" stroke="#fff" stroke-width="0.9"/>
<circle cx="1130.5" cy="372.7" r="4.05" fill="#3b4ea8" stroke="#fff" stroke-width="0.9"/>
<circle cx="1130.5" cy="383.1" r="4.05" fill="#4a86c6" stroke="#fff" stroke-width="0.9"/>
<circle cx="1130.5" cy="392" r="4.05" fill="#4a86c6" stroke="#fff" stroke-width="0.9"/>
<circle cx="1130.5" cy="387.5" r="4.05" fill="#4a86c6" stroke="#fff" stroke-width="0.9"/>
<circle cx="1130.5" cy="424.8" r="4.05" fill="#4a86c6" stroke="#fff" stroke-width="0.9"/>
<circle cx="1148.9" cy="354.3" r="4.05" fill="#4a86c6" stroke="#fff" stroke-width="0.9"/>
<circle cx="1148.9" cy="367.6" r="4.05" fill="#3b4ea8" stroke="#fff" stroke-width="0.9"/>
<circle cx="1148.9" cy="388.2" r="4.05" fill="#4a86c6" stroke="#fff" stroke-width="0.9"/>
<circle cx="1148.9" cy="382" r="4.05" fill="#4a86c6" stroke="#fff" stroke-width="0.9"/>
<circle cx="1148.9" cy="407.5" r="4.05" fill="#4a86c6" stroke="#fff" stroke-width="0.9"/>
<circle cx="1148.9" cy="411.5" r="4.05" fill="#3b4ea8" stroke="#fff" stroke-width="0.9"/>
<circle cx="1148.9" cy="430.8" r="4.05" fill="#4a86c6" stroke="#fff" stroke-width="0.9"/>
<circle cx="1148.9" cy="424.8" r="4.05" fill="#3b4ea8" stroke="#fff" stroke-width="0.9"/>
<circle cx="1167.5" cy="344.8" r="4.05" fill="#4a86c6" stroke="#fff" stroke-width="0.9"/>
<circle cx="1167.5" cy="360.3" r="4.05" fill="#4a86c6" stroke="#fff" stroke-width="0.9"/>
<circle cx="1167.5" cy="370.5" r="4.05" fill="#4a86c6" stroke="#fff" stroke-width="0.9"/>
<circle cx="1186.1" cy="378.7" r="4.05" fill="#4a86c6" stroke="#fff" stroke-width="0.9"/>
<circle cx="1186.1" cy="373.1" r="4.05" fill="#4a86c6" stroke="#fff" stroke-width="0.9"/>
<circle cx="1186.1" cy="398.6" r="4.05" fill="#4a86c6" stroke="#fff" stroke-width="0.9"/>
<circle cx="1186.1" cy="392.4" r="4.05" fill="#4a86c6" stroke="#fff" stroke-width="0.9"/>
<circle cx="1186.1" cy="421.2" r="4.05" fill="#4a86c6" stroke="#fff" stroke-width="0.9"/>
<circle cx="1204.7" cy="358.7" r="4.05" fill="#4a86c6" stroke="#fff" stroke-width="0.9"/>
<circle cx="1204.7" cy="375.3" r="4.05" fill="#4a86c6" stroke="#fff" stroke-width="0.9"/>
<circle cx="1204.7" cy="379.8" r="4.05" fill="#3b4ea8" stroke="#fff" stroke-width="0.9"/>
<circle cx="1204.7" cy="392" r="4.05" fill="#4a86c6" stroke="#fff" stroke-width="0.9"/>
<circle cx="1204.7" cy="388.6" r="4.05" fill="#3b4ea8" stroke="#fff" stroke-width="0.9"/>
<path d="M990.8 339.2V446.7H1215.8" fill="none" stroke="#000" stroke-width="1.9" stroke-linecap="square" stroke-linejoin="miter"/>
<line x1="980.9" y1="343.2" x2="989.8" y2="343.2" stroke="#000" stroke-width="1.9"/>
<text x="974.6" y="349.7" font-size="17.6" fill="#111" text-anchor="end">75</text>
<line x1="980.9" y1="379.8" x2="989.8" y2="379.8" stroke="#000" stroke-width="1.9"/>
<text x="974.6" y="386.3" font-size="17.6" fill="#111" text-anchor="end">50</text>
<line x1="980.9" y1="415.7" x2="989.8" y2="415.7" stroke="#000" stroke-width="1.9"/>
<text x="974.6" y="422.2" font-size="17.6" fill="#111" text-anchor="end">25</text>
<line x1="1037.8" y1="447.7" x2="1037.8" y2="456.6" stroke="#000" stroke-width="1.9"/>
<text x="1037.8" y="477.3" font-size="17.6" fill="#111" text-anchor="middle">0.5</text>
<line x1="1130.5" y1="447.7" x2="1130.5" y2="456.6" stroke="#000" stroke-width="1.9"/>
<text x="1130.5" y="477.3" font-size="17.6" fill="#111" text-anchor="middle">1.0</text>
<text x="1102.8" y="328.8" font-size="19.8" fill="#111" text-anchor="middle">NAc AP</text>
<circle cx="1258.7" cy="374.9" r="4.05" fill="#d2d2d2" stroke="#fff" stroke-width="0.9"/>
<circle cx="1258.7" cy="405.3" r="4.05" fill="#e4574b" stroke="#fff" stroke-width="0.9"/>
<circle cx="1295.8" cy="372" r="4.05" fill="#f2a324" stroke="#fff" stroke-width="0.9"/>
<circle cx="1314.2" cy="361.6" r="4.05" fill="#ee7a52" stroke="#fff" stroke-width="0.9"/>
<circle cx="1314.2" cy="392.6" r="4.05" fill="#f2a324" stroke="#fff" stroke-width="0.9"/>
<circle cx="1332.6" cy="358.1" r="4.05" fill="#f2a324" stroke="#fff" stroke-width="0.9"/>
<circle cx="1332.6" cy="378.2" r="4.05" fill="#ee7a52" stroke="#fff" stroke-width="0.9"/>
<circle cx="1332.6" cy="381.6" r="4.05" fill="#f2a324" stroke="#fff" stroke-width="0.9"/>
<circle cx="1332.6" cy="411.9" r="4.05" fill="#f2a324" stroke="#fff" stroke-width="0.9"/>
<circle cx="1351.4" cy="344.8" r="4.05" fill="#f2a324" stroke="#fff" stroke-width="0.9"/>
<circle cx="1351.4" cy="367.6" r="4.05" fill="#f2a324" stroke="#fff" stroke-width="0.9"/>
<circle cx="1351.4" cy="387.5" r="4.05" fill="#f2a324" stroke="#fff" stroke-width="0.9"/>
<circle cx="1351.4" cy="408.6" r="4.05" fill="#f2a324" stroke="#fff" stroke-width="0.9"/>
<circle cx="1351.4" cy="415.2" r="4.05" fill="#ee7a52" stroke="#fff" stroke-width="0.9"/>
<circle cx="1351.4" cy="441.9" r="4.05" fill="#ee7a52" stroke="#fff" stroke-width="0.9"/>
<circle cx="1369.8" cy="358.7" r="4.05" fill="#f2a324" stroke="#fff" stroke-width="0.9"/>
<circle cx="1369.8" cy="388" r="4.05" fill="#f2a324" stroke="#fff" stroke-width="0.9"/>
<circle cx="1369.8" cy="411.5" r="4.05" fill="#f2a324" stroke="#fff" stroke-width="0.9"/>
<circle cx="1388.4" cy="375.3" r="4.05" fill="#f2a324" stroke="#fff" stroke-width="0.9"/>
<circle cx="1388.4" cy="370.5" r="4.05" fill="#f2a324" stroke="#fff" stroke-width="0.9"/>
<circle cx="1388.4" cy="398.6" r="4.05" fill="#f2a324" stroke="#fff" stroke-width="0.9"/>
<circle cx="1388.4" cy="390.9" r="4.05" fill="#f2a324" stroke="#fff" stroke-width="0.9"/>
<circle cx="1388.4" cy="384.2" r="4.05" fill="#f2a324" stroke="#fff" stroke-width="0.9"/>
<circle cx="1388.4" cy="417.7" r="4.05" fill="#f2a324" stroke="#fff" stroke-width="0.9"/>
<circle cx="1407" cy="354.3" r="4.05" fill="#f2a324" stroke="#fff" stroke-width="0.9"/>
<circle cx="1407" cy="367.1" r="4.05" fill="#f2a324" stroke="#fff" stroke-width="0.9"/>
<circle cx="1407" cy="389.8" r="4.05" fill="#d2d2d2" stroke="#fff" stroke-width="0.9"/>
<circle cx="1407" cy="379.8" r="4.05" fill="#f2a324" stroke="#fff" stroke-width="0.9"/>
<circle cx="1407" cy="384.2" r="4.05" fill="#f2a324" stroke="#fff" stroke-width="0.9"/>
<circle cx="1407" cy="430.1" r="4.05" fill="#ee7a52" stroke="#fff" stroke-width="0.9"/>
<circle cx="1407" cy="420.8" r="4.05" fill="#f2a324" stroke="#fff" stroke-width="0.9"/>
<circle cx="1407" cy="425.2" r="4.05" fill="#f2a324" stroke="#fff" stroke-width="0.9"/>
<circle cx="1425.4" cy="360.1" r="4.05" fill="#d2d2d2" stroke="#fff" stroke-width="0.9"/>
<circle cx="1425.4" cy="373.1" r="4.05" fill="#f2a324" stroke="#fff" stroke-width="0.9"/>
<circle cx="1425.4" cy="424.8" r="4.05" fill="#f2a324" stroke="#fff" stroke-width="0.9"/>
<circle cx="1462.7" cy="388.6" r="4.05" fill="#f2a324" stroke="#fff" stroke-width="0.9"/>
<path d="M1248.8 339.2V446.7H1473.8" fill="none" stroke="#000" stroke-width="1.9" stroke-linecap="square" stroke-linejoin="miter"/>
<line x1="1238.9" y1="343.2" x2="1247.8" y2="343.2" stroke="#000" stroke-width="1.9"/>
<line x1="1238.9" y1="379.8" x2="1247.8" y2="379.8" stroke="#000" stroke-width="1.9"/>
<line x1="1238.9" y1="415.7" x2="1247.8" y2="415.7" stroke="#000" stroke-width="1.9"/>
<line x1="1258.7" y1="447.7" x2="1258.7" y2="456.6" stroke="#000" stroke-width="1.9"/>
<text x="1258.7" y="477.3" font-size="17.6" fill="#111" text-anchor="middle">−1.5</text>
<line x1="1351.4" y1="447.7" x2="1351.4" y2="456.6" stroke="#000" stroke-width="1.9"/>
<text x="1351.4" y="477.3" font-size="17.6" fill="#111" text-anchor="middle">−1.0</text>
<line x1="1444.3" y1="447.7" x2="1444.3" y2="456.6" stroke="#000" stroke-width="1.9"/>
<text x="1444.3" y="477.3" font-size="17.6" fill="#111" text-anchor="middle">−0.5</text>
<text x="1361.2" y="328.8" font-size="19.8" fill="#111" text-anchor="middle">TS AP</text>
<circle cx="1000.8" cy="552" r="4.05" fill="#4a86c6" stroke="#fff" stroke-width="0.9"/>
<circle cx="1014.1" cy="548.7" r="4.05" fill="#4a86c6" stroke="#fff" stroke-width="0.9"/>
<circle cx="1011" cy="550.5" r="4.05" fill="#4a86c6" stroke="#fff" stroke-width="0.9"/>
<circle cx="1022.5" cy="544.7" r="4.05" fill="#4a86c6" stroke="#fff" stroke-width="0.9"/>
<circle cx="1030.7" cy="548.7" r="4.05" fill="#3b4ea8" stroke="#fff" stroke-width="0.9"/>
<circle cx="1038.9" cy="565.8" r="4.05" fill="#3b4ea8" stroke="#fff" stroke-width="0.9"/>
<circle cx="1006.8" cy="578" r="4.05" fill="#4a86c6" stroke="#fff" stroke-width="0.9"/>
<circle cx="1023" cy="582" r="4.05" fill="#4a86c6" stroke="#fff" stroke-width="0.9"/>
<circle cx="1025.8" cy="578.6" r="4.05" fill="#4a86c6" stroke="#fff" stroke-width="0.9"/>
<circle cx="1021.2" cy="572.7" r="4.05" fill="#4a86c6" stroke="#fff" stroke-width="0.9"/>
<circle cx="1019.6" cy="588.6" r="4.05" fill="#3b4ea8" stroke="#fff" stroke-width="0.9"/>
<circle cx="1016.3" cy="595.3" r="4.05" fill="#4a86c6" stroke="#fff" stroke-width="0.9"/>
<circle cx="1030.7" cy="608.1" r="4.05" fill="#3b4ea8" stroke="#fff" stroke-width="0.9"/>
<circle cx="1035.8" cy="601.5" r="4.05" fill="#4a86c6" stroke="#fff" stroke-width="0.9"/>
<circle cx="1034.5" cy="605.5" r="4.05" fill="#4a86c6" stroke="#fff" stroke-width="0.9"/>
<circle cx="1006.8" cy="611.9" r="4.05" fill="#4a86c6" stroke="#fff" stroke-width="0.9"/>
<circle cx="1031.8" cy="620.8" r="4.05" fill="#4a86c6" stroke="#fff" stroke-width="0.9"/>
<circle cx="1066.9" cy="580.2" r="4.05" fill="#3b4ea8" stroke="#fff" stroke-width="0.9"/>
<circle cx="1181.2" cy="535.4" r="4.05" fill="#4a86c6" stroke="#fff" stroke-width="0.9"/>
<circle cx="1163.1" cy="558" r="4.05" fill="#3b4ea8" stroke="#fff" stroke-width="0.9"/>
<circle cx="1178.8" cy="557.6" r="4.05" fill="#4a86c6" stroke="#fff" stroke-width="0.9"/>
<circle cx="1184.8" cy="562" r="4.05" fill="#4a86c6" stroke="#fff" stroke-width="0.9"/>
<circle cx="1170.8" cy="564.2" r="4.05" fill="#ababab" stroke="#fff" stroke-width="0.9"/>
<circle cx="1180.8" cy="563.1" r="4.05" fill="#4a86c6" stroke="#fff" stroke-width="0.9"/>
<circle cx="1160.8" cy="570.2" r="4.05" fill="#3b4ea8" stroke="#fff" stroke-width="0.9"/>
<circle cx="1189.2" cy="568.7" r="4.05" fill="#4a86c6" stroke="#fff" stroke-width="0.9"/>
<circle cx="1193.7" cy="566.5" r="4.05" fill="#4a86c6" stroke="#fff" stroke-width="0.9"/>
<circle cx="1184.3" cy="574.9" r="4.05" fill="#ababab" stroke="#fff" stroke-width="0.9"/>
<circle cx="1204.7" cy="574.9" r="4.05" fill="#4a86c6" stroke="#fff" stroke-width="0.9"/>
<circle cx="1197" cy="581.3" r="4.05" fill="#4a86c6" stroke="#fff" stroke-width="0.9"/>
<circle cx="1175.9" cy="583.1" r="4.05" fill="#4a86c6" stroke="#fff" stroke-width="0.9"/>
<circle cx="1175.9" cy="579.3" r="4.05" fill="#4a86c6" stroke="#fff" stroke-width="0.9"/>
<circle cx="1178.8" cy="579.1" r="4.05" fill="#3b4ea8" stroke="#fff" stroke-width="0.9"/>
<circle cx="1162.6" cy="602.4" r="4.05" fill="#3b4ea8" stroke="#fff" stroke-width="0.9"/>
<circle cx="1204.1" cy="599.7" r="4.05" fill="#4a86c6" stroke="#fff" stroke-width="0.9"/>
<circle cx="1167.7" cy="615.7" r="4.05" fill="#3b4ea8" stroke="#fff" stroke-width="0.9"/>
<circle cx="1202.1" cy="632.3" r="4.05" fill="#4a86c6" stroke="#fff" stroke-width="0.9"/>
<path d="M990.8 530.5V637.4H1215.8" fill="none" stroke="#000" stroke-width="1.9" stroke-linecap="square" stroke-linejoin="miter"/>
<line x1="980.9" y1="533.9" x2="989.8" y2="533.9" stroke="#000" stroke-width="1.9"/>
<text x="974.6" y="540.4" font-size="17.6" fill="#111" text-anchor="end">75</text>
<line x1="980.9" y1="569.8" x2="989.8" y2="569.8" stroke="#000" stroke-width="1.9"/>
<text x="974.6" y="576.3" font-size="17.6" fill="#111" text-anchor="end">50</text>
<line x1="980.9" y1="605.7" x2="989.8" y2="605.7" stroke="#000" stroke-width="1.9"/>
<text x="974.6" y="612.2" font-size="17.6" fill="#111" text-anchor="end">25</text>
<line x1="1022.5" y1="638.4" x2="1022.5" y2="647.3" stroke="#000" stroke-width="1.9"/>
<text x="1022.5" y="668.4" font-size="17.6" fill="#111" text-anchor="middle">−1</text>
<line x1="1101.2" y1="638.4" x2="1101.2" y2="647.3" stroke="#000" stroke-width="1.9"/>
<text x="1101.2" y="668.4" font-size="17.6" fill="#111" text-anchor="middle">0</text>
<line x1="1179.5" y1="638.4" x2="1179.5" y2="647.3" stroke="#000" stroke-width="1.9"/>
<text x="1179.5" y="668.4" font-size="17.6" fill="#111" text-anchor="middle">1</text>
<text x="1102.8" y="518.8" font-size="19.8" fill="#111" text-anchor="middle">NAc ML</text>
<circle cx="1258.7" cy="565.3" r="4.05" fill="#d2d2d2" stroke="#fff" stroke-width="0.9"/>
<circle cx="1276.5" cy="535.4" r="4.05" fill="#f2a324" stroke="#fff" stroke-width="0.9"/>
<circle cx="1274.3" cy="564.2" r="4.05" fill="#ee7a52" stroke="#fff" stroke-width="0.9"/>
<circle cx="1269.8" cy="558" r="4.05" fill="#f2a324" stroke="#fff" stroke-width="0.9"/>
<circle cx="1283.8" cy="558" r="4.05" fill="#f2a324" stroke="#fff" stroke-width="0.9"/>
<circle cx="1279.8" cy="562" r="4.05" fill="#f2a324" stroke="#fff" stroke-width="0.9"/>
<circle cx="1284.9" cy="563.8" r="4.05" fill="#f2a324" stroke="#fff" stroke-width="0.9"/>
<circle cx="1278.7" cy="570.9" r="4.05" fill="#f2a324" stroke="#fff" stroke-width="0.9"/>
<circle cx="1282.5" cy="583.1" r="4.05" fill="#f2a324" stroke="#fff" stroke-width="0.9"/>
<circle cx="1283.8" cy="579.3" r="4.05" fill="#f2a324" stroke="#fff" stroke-width="0.9"/>
<circle cx="1277.1" cy="575.3" r="4.05" fill="#f2a324" stroke="#fff" stroke-width="0.9"/>
<circle cx="1283.8" cy="599.7" r="4.05" fill="#f2a324" stroke="#fff" stroke-width="0.9"/>
<circle cx="1286.9" cy="601.9" r="4.05" fill="#f2a324" stroke="#fff" stroke-width="0.9"/>
<circle cx="1280.9" cy="615.2" r="4.05" fill="#f2a324" stroke="#fff" stroke-width="0.9"/>
<circle cx="1277.1" cy="615.7" r="4.05" fill="#f2a324" stroke="#fff" stroke-width="0.9"/>
<circle cx="1283.1" cy="632.3" r="4.05" fill="#ee7a52" stroke="#fff" stroke-width="0.9"/>
<circle cx="1451.2" cy="545" r="4.05" fill="#f2a324" stroke="#fff" stroke-width="0.9"/>
<circle cx="1457.1" cy="548.7" r="4.05" fill="#f2a324" stroke="#fff" stroke-width="0.9"/>
<circle cx="1456" cy="552" r="4.05" fill="#ee7a52" stroke="#fff" stroke-width="0.9"/>
<circle cx="1450.5" cy="550.5" r="4.05" fill="#d2d2d2" stroke="#fff" stroke-width="0.9"/>
<circle cx="1463.8" cy="580.9" r="4.05" fill="#d2d2d2" stroke="#fff" stroke-width="0.9"/>
<circle cx="1456.7" cy="572" r="4.05" fill="#f2a324" stroke="#fff" stroke-width="0.9"/>
<circle cx="1447.2" cy="582.6" r="4.05" fill="#ee7a52" stroke="#fff" stroke-width="0.9"/>
<circle cx="1457.1" cy="579.8" r="4.05" fill="#f2a324" stroke="#fff" stroke-width="0.9"/>
<circle cx="1452.1" cy="578.2" r="4.05" fill="#f2a324" stroke="#fff" stroke-width="0.9"/>
<circle cx="1453.2" cy="589.1" r="4.05" fill="#f2a324" stroke="#fff" stroke-width="0.9"/>
<circle cx="1457.8" cy="595.3" r="4.05" fill="#ee7a52" stroke="#fff" stroke-width="0.9"/>
<circle cx="1457.8" cy="601.5" r="4.05" fill="#f2a324" stroke="#fff" stroke-width="0.9"/>
<circle cx="1452.7" cy="604.8" r="4.05" fill="#ee7a52" stroke="#fff" stroke-width="0.9"/>
<circle cx="1457.1" cy="608.1" r="4.05" fill="#f2a324" stroke="#fff" stroke-width="0.9"/>
<circle cx="1452.3" cy="611.9" r="4.05" fill="#f2a324" stroke="#fff" stroke-width="0.9"/>
<circle cx="1454.5" cy="620.8" r="4.05" fill="#ee7a52" stroke="#fff" stroke-width="0.9"/>
<path d="M1248.8 530.5V637.4H1473.8" fill="none" stroke="#000" stroke-width="1.9" stroke-linecap="square" stroke-linejoin="miter"/>
<line x1="1238.9" y1="533.9" x2="1247.8" y2="533.9" stroke="#000" stroke-width="1.9"/>
<line x1="1238.9" y1="569.8" x2="1247.8" y2="569.8" stroke="#000" stroke-width="1.9"/>
<line x1="1238.9" y1="605.7" x2="1247.8" y2="605.7" stroke="#000" stroke-width="1.9"/>
<line x1="1299.8" y1="638.4" x2="1299.8" y2="647.3" stroke="#000" stroke-width="1.9"/>
<text x="1299.8" y="668.4" font-size="17.6" fill="#111" text-anchor="middle">−2.5</text>
<line x1="1368.9" y1="638.4" x2="1368.9" y2="647.3" stroke="#000" stroke-width="1.9"/>
<text x="1368.9" y="668.4" font-size="17.6" fill="#111" text-anchor="middle">0.0</text>
<line x1="1438.1" y1="638.4" x2="1438.1" y2="647.3" stroke="#000" stroke-width="1.9"/>
<text x="1438.1" y="668.4" font-size="17.6" fill="#111" text-anchor="middle">2.5</text>
<text x="1361.2" y="518.8" font-size="19.8" fill="#111" text-anchor="middle">TS ML</text>
<circle cx="1000.8" cy="754.5" r="4.05" fill="#ababab" stroke="#fff" stroke-width="0.9"/>
<circle cx="1054.9" cy="765.5" r="4.05" fill="#ababab" stroke="#fff" stroke-width="0.9"/>
<circle cx="1113.4" cy="726.1" r="4.05" fill="#4a86c6" stroke="#fff" stroke-width="0.9"/>
<circle cx="1094.3" cy="739.4" r="4.05" fill="#3b4ea8" stroke="#fff" stroke-width="0.9"/>
<circle cx="1093.9" cy="735.4" r="4.05" fill="#4a86c6" stroke="#fff" stroke-width="0.9"/>
<circle cx="1114.5" cy="742.5" r="4.05" fill="#4a86c6" stroke="#fff" stroke-width="0.9"/>
<circle cx="1164.2" cy="740.9" r="4.05" fill="#4a86c6" stroke="#fff" stroke-width="0.9"/>
<circle cx="1182.8" cy="739.8" r="4.05" fill="#4a86c6" stroke="#fff" stroke-width="0.9"/>
<circle cx="1127.1" cy="748" r="4.05" fill="#4a86c6" stroke="#fff" stroke-width="0.9"/>
<circle cx="1077.3" cy="748.3" r="4.05" fill="#3b4ea8" stroke="#fff" stroke-width="0.9"/>
<circle cx="1081.3" cy="756.5" r="4.05" fill="#3b4ea8" stroke="#fff" stroke-width="0.9"/>
<circle cx="1073.5" cy="760.9" r="4.05" fill="#3b4ea8" stroke="#fff" stroke-width="0.9"/>
<circle cx="1073.9" cy="769.8" r="4.05" fill="#3b4ea8" stroke="#fff" stroke-width="0.9"/>
<circle cx="1101.7" cy="753.1" r="4.05" fill="#4a86c6" stroke="#fff" stroke-width="0.9"/>
<circle cx="1105.4" cy="752" r="4.05" fill="#4a86c6" stroke="#fff" stroke-width="0.9"/>
<circle cx="1134.9" cy="753.1" r="4.05" fill="#4a86c6" stroke="#fff" stroke-width="0.9"/>
<circle cx="1131.6" cy="753.8" r="4.05" fill="#4a86c6" stroke="#fff" stroke-width="0.9"/>
<circle cx="1146" cy="759.6" r="4.05" fill="#4a86c6" stroke="#fff" stroke-width="0.9"/>
<circle cx="1204.7" cy="756.9" r="4.05" fill="#4a86c6" stroke="#fff" stroke-width="0.9"/>
<circle cx="1100.5" cy="769.8" r="4.05" fill="#4a86c6" stroke="#fff" stroke-width="0.9"/>
<circle cx="1103.7" cy="763.1" r="4.05" fill="#4a86c6" stroke="#fff" stroke-width="0.9"/>
<circle cx="1094.8" cy="769.1" r="4.05" fill="#4a86c6" stroke="#fff" stroke-width="0.9"/>
<circle cx="1112.7" cy="773.1" r="4.05" fill="#4a86c6" stroke="#fff" stroke-width="0.9"/>
<circle cx="1111" cy="769.8" r="4.05" fill="#4a86c6" stroke="#fff" stroke-width="0.9"/>
<circle cx="1124.3" cy="771.3" r="4.05" fill="#4a86c6" stroke="#fff" stroke-width="0.9"/>
<circle cx="1138.7" cy="768.6" r="4.05" fill="#4a86c6" stroke="#fff" stroke-width="0.9"/>
<circle cx="1151.5" cy="772" r="4.05" fill="#4a86c6" stroke="#fff" stroke-width="0.9"/>
<circle cx="1171" cy="773.1" r="4.05" fill="#4a86c6" stroke="#fff" stroke-width="0.9"/>
<circle cx="1158.6" cy="779.7" r="4.05" fill="#4a86c6" stroke="#fff" stroke-width="0.9"/>
<circle cx="1087.7" cy="786.2" r="4.05" fill="#4a86c6" stroke="#fff" stroke-width="0.9"/>
<circle cx="1096.1" cy="798.1" r="4.05" fill="#3b4ea8" stroke="#fff" stroke-width="0.9"/>
<circle cx="1096.6" cy="790.8" r="4.05" fill="#4a86c6" stroke="#fff" stroke-width="0.9"/>
<circle cx="1098.3" cy="792.4" r="4.05" fill="#3b4ea8" stroke="#fff" stroke-width="0.9"/>
<circle cx="1121.6" cy="796.4" r="4.05" fill="#4a86c6" stroke="#fff" stroke-width="0.9"/>
<circle cx="1123.4" cy="802.3" r="4.05" fill="#4a86c6" stroke="#fff" stroke-width="0.9"/>
<circle cx="1090.8" cy="806.3" r="4.05" fill="#3b4ea8" stroke="#fff" stroke-width="0.9"/>
<circle cx="1102.5" cy="805.9" r="4.05" fill="#4a86c6" stroke="#fff" stroke-width="0.9"/>
<circle cx="1115.2" cy="811.4" r="4.05" fill="#4a86c6" stroke="#fff" stroke-width="0.9"/>
<circle cx="1111" cy="823" r="4.05" fill="#4a86c6" stroke="#fff" stroke-width="0.9"/>
<path d="M990.8 720.5V827.4H1215.8" fill="none" stroke="#000" stroke-width="1.9" stroke-linecap="square" stroke-linejoin="miter"/>
<line x1="980.9" y1="724.3" x2="989.8" y2="724.3" stroke="#000" stroke-width="1.9"/>
<text x="974.6" y="730.8" font-size="17.6" fill="#111" text-anchor="end">75</text>
<line x1="980.9" y1="760.4" x2="989.8" y2="760.4" stroke="#000" stroke-width="1.9"/>
<text x="974.6" y="766.9" font-size="17.6" fill="#111" text-anchor="end">50</text>
<line x1="980.9" y1="796.4" x2="989.8" y2="796.4" stroke="#000" stroke-width="1.9"/>
<text x="974.6" y="802.9" font-size="17.6" fill="#111" text-anchor="end">25</text>
<line x1="994.6" y1="828.4" x2="994.6" y2="837.3" stroke="#000" stroke-width="1.9"/>
<text x="994.6" y="858.4" font-size="17.6" fill="#111" text-anchor="middle">−7</text>
<line x1="1084.6" y1="828.4" x2="1084.6" y2="837.3" stroke="#000" stroke-width="1.9"/>
<text x="1084.6" y="858.4" font-size="17.6" fill="#111" text-anchor="middle">−6</text>
<line x1="1175.3" y1="828.4" x2="1175.3" y2="837.3" stroke="#000" stroke-width="1.9"/>
<text x="1175.3" y="858.4" font-size="17.6" fill="#111" text-anchor="middle">−5</text>
<text x="1102.8" y="708.8" font-size="19.8" fill="#111" text-anchor="middle">NAc DV</text>
<circle cx="1328.1" cy="726.1" r="4.05" fill="#f2a324" stroke="#fff" stroke-width="0.9"/>
<circle cx="1273.2" cy="735.2" r="4.05" fill="#f2a324" stroke="#fff" stroke-width="0.9"/>
<circle cx="1258.7" cy="740.1" r="4.05" fill="#f2a324" stroke="#fff" stroke-width="0.9"/>
<circle cx="1315.5" cy="739.2" r="4.05" fill="#f2a324" stroke="#fff" stroke-width="0.9"/>
<circle cx="1371.8" cy="742.5" r="4.05" fill="#ee7a52" stroke="#fff" stroke-width="0.9"/>
<circle cx="1462.2" cy="741.2" r="4.05" fill="#d2d2d2" stroke="#fff" stroke-width="0.9"/>
<circle cx="1282.7" cy="748.5" r="4.05" fill="#f2a324" stroke="#fff" stroke-width="0.9"/>
<circle cx="1297.5" cy="753.1" r="4.05" fill="#f2a324" stroke="#fff" stroke-width="0.9"/>
<circle cx="1300.9" cy="748" r="4.05" fill="#f2a324" stroke="#fff" stroke-width="0.9"/>
<circle cx="1313.1" cy="753.1" r="4.05" fill="#f2a324" stroke="#fff" stroke-width="0.9"/>
<circle cx="1308.6" cy="751.6" r="4.05" fill="#f2a324" stroke="#fff" stroke-width="0.9"/>
<circle cx="1323.7" cy="754.2" r="4.05" fill="#e4574b" stroke="#fff" stroke-width="0.9"/>
<circle cx="1303.7" cy="756.5" r="4.05" fill="#d2d2d2" stroke="#fff" stroke-width="0.9"/>
<circle cx="1340.3" cy="753.6" r="4.05" fill="#f2a324" stroke="#fff" stroke-width="0.9"/>
<circle cx="1337" cy="756.9" r="4.05" fill="#f2a324" stroke="#fff" stroke-width="0.9"/>
<circle cx="1374.7" cy="754" r="4.05" fill="#f2a324" stroke="#fff" stroke-width="0.9"/>
<circle cx="1394.4" cy="759.6" r="4.05" fill="#ee7a52" stroke="#fff" stroke-width="0.9"/>
<circle cx="1328.6" cy="759.8" r="4.05" fill="#f2a324" stroke="#fff" stroke-width="0.9"/>
<circle cx="1326.8" cy="762.7" r="4.05" fill="#f2a324" stroke="#fff" stroke-width="0.9"/>
<circle cx="1307.7" cy="765.3" r="4.05" fill="#f2a324" stroke="#fff" stroke-width="0.9"/>
<circle cx="1282.7" cy="769.8" r="4.05" fill="#f2a324" stroke="#fff" stroke-width="0.9"/>
<circle cx="1317.5" cy="770.9" r="4.05" fill="#f2a324" stroke="#fff" stroke-width="0.9"/>
<circle cx="1315.3" cy="769.1" r="4.05" fill="#f2a324" stroke="#fff" stroke-width="0.9"/>
<circle cx="1302" cy="773.5" r="4.05" fill="#f2a324" stroke="#fff" stroke-width="0.9"/>
<circle cx="1301.5" cy="768.6" r="4.05" fill="#f2a324" stroke="#fff" stroke-width="0.9"/>
<circle cx="1349.6" cy="765.8" r="4.05" fill="#f2a324" stroke="#fff" stroke-width="0.9"/>
<circle cx="1363.6" cy="773.1" r="4.05" fill="#ee7a52" stroke="#fff" stroke-width="0.9"/>
<circle cx="1363.6" cy="769.8" r="4.05" fill="#f2a324" stroke="#fff" stroke-width="0.9"/>
<circle cx="1373.6" cy="770.6" r="4.05" fill="#d2d2d2" stroke="#fff" stroke-width="0.9"/>
<circle cx="1305.5" cy="779.7" r="4.05" fill="#f2a324" stroke="#fff" stroke-width="0.9"/>
<circle cx="1279.8" cy="785.9" r="4.05" fill="#e4574b" stroke="#fff" stroke-width="0.9"/>
<circle cx="1318.6" cy="789.7" r="4.05" fill="#f2a324" stroke="#fff" stroke-width="0.9"/>
<circle cx="1316.8" cy="792.1" r="4.05" fill="#f2a324" stroke="#fff" stroke-width="0.9"/>
<circle cx="1268.9" cy="792.8" r="4.05" fill="#f2a324" stroke="#fff" stroke-width="0.9"/>
<circle cx="1395.7" cy="795.9" r="4.05" fill="#ee7a52" stroke="#fff" stroke-width="0.9"/>
<circle cx="1304.2" cy="798.6" r="4.05" fill="#f2a324" stroke="#fff" stroke-width="0.9"/>
<circle cx="1301.3" cy="802.3" r="4.05" fill="#f2a324" stroke="#fff" stroke-width="0.9"/>
<circle cx="1325.5" cy="805.9" r="4.05" fill="#f2a324" stroke="#fff" stroke-width="0.9"/>
<circle cx="1346.3" cy="805.9" r="4.05" fill="#f2a324" stroke="#fff" stroke-width="0.9"/>
<circle cx="1384.7" cy="811.4" r="4.05" fill="#ee7a52" stroke="#fff" stroke-width="0.9"/>
<circle cx="1355" cy="823" r="4.05" fill="#ee7a52" stroke="#fff" stroke-width="0.9"/>
<path d="M1248.8 720.5V827.4H1473.8" fill="none" stroke="#000" stroke-width="1.9" stroke-linecap="square" stroke-linejoin="miter"/>
<line x1="1238.9" y1="724.3" x2="1247.8" y2="724.3" stroke="#000" stroke-width="1.9"/>
<line x1="1238.9" y1="760.4" x2="1247.8" y2="760.4" stroke="#000" stroke-width="1.9"/>
<line x1="1238.9" y1="796.4" x2="1247.8" y2="796.4" stroke="#000" stroke-width="1.9"/>
<line x1="1306.8" y1="828.4" x2="1306.8" y2="837.3" stroke="#000" stroke-width="1.9"/>
<text x="1306.8" y="858.4" font-size="17.6" fill="#111" text-anchor="middle">−3.5</text>
<line x1="1377.3" y1="828.4" x2="1377.3" y2="837.3" stroke="#000" stroke-width="1.9"/>
<text x="1377.3" y="858.4" font-size="17.6" fill="#111" text-anchor="middle">−3.0</text>
<line x1="1448.3" y1="828.4" x2="1448.3" y2="837.3" stroke="#000" stroke-width="1.9"/>
<text x="1448.3" y="858.4" font-size="17.6" fill="#111" text-anchor="middle">−2.5</text>
<text x="1361.2" y="708.8" font-size="19.8" fill="#111" text-anchor="middle">TS DV</text>
</g>
<g id="panel-d">
<text transform="translate(8.6 1412.8) scale(1.0 1)" font-size="20" font-weight="bold" fill="#111" stroke="#111" stroke-width="0.7">d</text>
<text transform="translate(8.6 2305.6) scale(1.1 1)" font-size="20" font-weight="bold" fill="#111" stroke="#111" stroke-width="0.7">e</text>
<path d="M118.8 1528.6C119.9 1527.2 122.9 1522.5 125.5 1520.4C128.1 1518.3 131 1516.4 134.3 1515.9C137.7 1515.5 141.1 1517 145.4 1517.7C149.7 1518.5 154.7 1520.2 160.3 1520.4C165.8 1520.5 173.4 1519.2 178.7 1518.6C184 1518 188.1 1517.2 192 1516.6C195.9 1516 198.8 1515 201.9 1515.3C205.1 1515.5 207.7 1516.5 210.8 1518.2C214 1519.8 217.7 1523.3 220.8 1525.2C223.9 1527.2 227.1 1529.3 229.7 1529.7C232.2 1530.1 234.2 1529.3 236.3 1527.5C238.4 1525.6 241.1 1520.1 242.1 1518.6L242.1 1531.9C241.1 1533 238.4 1537.1 236.3 1538.6C234.2 1540 232.2 1541.1 229.7 1540.8C227.1 1540.4 223.9 1538.5 220.8 1536.3C217.7 1534.2 214 1529.8 210.8 1527.9C207.7 1526 205.1 1525.3 201.9 1525C198.8 1524.8 195.9 1525.6 192 1526.4C188.1 1527.1 184 1529.1 178.7 1529.7C173.4 1530.3 165.8 1530.5 160.3 1530.1C154.7 1529.8 149.7 1528 145.4 1527.5C141.1 1526.9 137.7 1526.6 134.3 1527C131 1527.5 128.1 1528.8 125.5 1530.1C122.9 1531.5 119.9 1534.4 118.8 1535.2Z" fill="rgba(85,130,225,0.31)"/>
<path d="M118.8 1529.9C120.7 1529.1 125.8 1527.2 129.9 1525.2C134 1523.3 138.1 1520.6 143.2 1518.2C148.3 1515.8 154.4 1513.2 160.3 1510.8C166.2 1508.5 173.4 1505.5 178.7 1504.2C184 1502.9 187.9 1503.2 192 1503.1C196 1503 199.4 1502.9 203.1 1503.7C206.8 1504.6 210.4 1506.2 214.1 1508C217.8 1509.7 221.9 1512.7 225.2 1514.2C228.6 1515.7 231.3 1516.9 234.1 1517C236.9 1517.2 240.7 1515.2 242.1 1514.8L242.1 1525.9C240.7 1526.1 236.9 1527.3 234.1 1526.8C231.3 1526.3 228.6 1524.3 225.2 1523C221.9 1521.7 217.8 1519.7 214.1 1519C210.4 1518.4 206.8 1518.2 203.1 1519.3C199.4 1520.3 196 1523.3 192 1525.2C187.9 1527.2 184 1529.6 178.7 1530.8C173.4 1531.9 166.2 1531.9 160.3 1532.1C154.4 1532.4 148.3 1532 143.2 1532.3C138.1 1532.7 134 1533.6 129.9 1534.1C125.8 1534.6 120.7 1535 118.8 1535.2Z" fill="rgba(62,50,135,0.33)"/>
<path d="M118.8 1531.9C119.9 1530.8 122.9 1527 125.5 1525.2C128.1 1523.5 131 1521.9 134.3 1521.5C137.7 1521 141.1 1522 145.4 1522.6C149.7 1523.2 154.7 1525 160.3 1525.2C165.8 1525.5 173.4 1524.8 178.7 1524.1C184 1523.5 188.1 1522.1 192 1521.5C195.9 1520.8 198.8 1519.9 201.9 1520.2C205.1 1520.4 207.7 1521.3 210.8 1523C214 1524.8 217.7 1528.8 220.8 1530.8C223.9 1532.8 227.1 1534.9 229.7 1535.2C232.2 1535.6 234.2 1534.7 236.3 1533C238.4 1531.3 241.1 1526.5 242.1 1525.2" fill="none" stroke="#4680ba" stroke-width="2.6" stroke-linecap="butt" stroke-linejoin="round"/>
<path d="M118.8 1532.6C120.7 1532.1 125.8 1530.9 129.9 1529.7C134 1528.5 138.1 1526.6 143.2 1525.2C148.3 1523.9 154.4 1522.8 160.3 1521.5C166.2 1520.2 173.4 1518.7 178.7 1517.5C184 1516.3 187.9 1515.2 192 1514.2C196 1513.2 199.4 1511.6 203.1 1511.5C206.8 1511.4 210.4 1512.3 214.1 1513.5C217.8 1514.7 221.9 1517.2 225.2 1518.6C228.6 1520 231.3 1521.6 234.1 1521.9C236.9 1522.2 240.7 1520.6 242.1 1520.4" fill="none" stroke="#392a86" stroke-width="2.6" stroke-linecap="butt" stroke-linejoin="round"/>
<line x1="160.2" y1="1569.6" x2="160.2" y2="1459.4" stroke="#000" stroke-width="2.9" stroke-dasharray="10.6 4.4"/>
<line x1="149.5" y1="1470.5" x2="201.9" y2="1470.5" stroke="#000" stroke-width="2.6"/>
<path d="M113.3 1459.4V1569.6H248.3" fill="none" stroke="#000" stroke-width="2.3" stroke-linecap="square" stroke-linejoin="miter"/>
<line x1="101.4" y1="1459.4" x2="112.3" y2="1459.4" stroke="#000" stroke-width="2.3"/>
<text x="92.7" y="1467.7" font-size="20.0" fill="#111" text-anchor="end">0.5</text>
<line x1="101.4" y1="1527.9" x2="112.3" y2="1527.9" stroke="#000" stroke-width="2.3"/>
<text x="92.7" y="1536.2" font-size="20.0" fill="#111" text-anchor="end">0.0</text>
<line x1="119.3" y1="1570.6" x2="119.3" y2="1581.5" stroke="#000" stroke-width="2.3"/>
<line x1="160.2" y1="1570.6" x2="160.2" y2="1581.5" stroke="#000" stroke-width="2.3"/>
<line x1="201.1" y1="1570.6" x2="201.1" y2="1581.5" stroke="#000" stroke-width="2.3"/>
<line x1="242" y1="1570.6" x2="242" y2="1581.5" stroke="#000" stroke-width="2.3"/>
<text x="180.8" y="1445.3" font-size="22.75" fill="#111" text-anchor="middle">fight-back start</text>
<text x="200.8" y="1466.1" font-size="22.5" fill="#111" text-anchor="middle">p=0.69</text>
<path d="M289.5 1533.9C291 1533.5 294.7 1531.1 298.4 1531.5C302.1 1531.8 307.6 1535.6 311.7 1535.9C315.7 1536.1 319.6 1534.7 322.8 1533C325.9 1531.3 327.6 1528.6 330.5 1525.7C333.5 1522.7 336.6 1518.1 340.5 1515.3C344.4 1512.4 349.4 1509.1 353.8 1508.6C358.2 1508.1 362.7 1510.4 367.1 1512.4C371.5 1514.4 376 1518.5 380.4 1520.8C384.8 1523.2 389.6 1525.4 393.7 1526.6C397.8 1527.7 401.6 1527.6 404.8 1527.7C407.9 1527.8 411.3 1527.1 412.5 1527L412.5 1536.8C411.3 1536.9 407.9 1537.5 404.8 1537.4C401.6 1537.4 397.8 1537.3 393.7 1536.3C389.6 1535.4 384.8 1533.8 380.4 1531.9C376 1530 371.5 1526.6 367.1 1524.8C362.7 1523 358.2 1520.8 353.8 1521C349.4 1521.3 344.4 1524.3 340.5 1526.4C336.6 1528.5 333.5 1531.5 330.5 1533.7C327.6 1535.9 325.9 1538.4 322.8 1539.7C319.6 1540.9 315.7 1541.5 311.7 1541.2C307.6 1541 302.1 1538 298.4 1538.1C294.7 1538.2 291 1541.2 289.5 1541.9Z" fill="rgba(85,130,225,0.31)"/>
<path d="M289.5 1535.9C291 1535.8 294.7 1535.1 298.4 1535.2C302.1 1535.4 307.6 1537 311.7 1536.8C315.7 1536.6 319.6 1535.7 322.8 1534.1C325.9 1532.6 327.6 1530.6 330.5 1527.5C333.5 1524.3 337 1518.4 340.5 1515.3C344 1512.1 347.9 1508.8 351.6 1508.6C355.3 1508.4 358.6 1511.4 362.7 1514.2C366.7 1516.9 371.5 1522.2 376 1525.2C380.4 1528.3 385.2 1531.2 389.3 1532.3C393.3 1533.5 396.5 1532.6 400.4 1532.1C404.2 1531.7 410.5 1530.1 412.5 1529.7L412.5 1537.7C410.5 1538.4 404.2 1540.7 400.4 1541.9C396.5 1543.1 393.3 1544.9 389.3 1544.8C385.2 1544.6 380.4 1542.5 376 1540.8C371.5 1539 366.7 1535.8 362.7 1534.1C358.6 1532.5 355.3 1531 351.6 1530.8C347.9 1530.6 344 1532.1 340.5 1533C337 1533.9 333.5 1535 330.5 1536.3C327.6 1537.6 325.9 1539.6 322.8 1540.8C319.6 1541.9 315.7 1543.2 311.7 1543.4C307.6 1543.6 302.1 1542 298.4 1541.9C294.7 1541.7 291 1542.4 289.5 1542.5Z" fill="rgba(62,50,135,0.33)"/>
<path d="M289.5 1537.9C291 1537.4 294.7 1534.7 298.4 1534.8C302.1 1534.9 307.6 1538.3 311.7 1538.6C315.7 1538.8 319.6 1537.8 322.8 1536.3C325.9 1534.9 327.6 1532.3 330.5 1529.7C333.5 1527.1 336.6 1523.3 340.5 1520.8C344.4 1518.3 349.4 1515.2 353.8 1514.8C358.2 1514.5 362.7 1516.7 367.1 1518.6C371.5 1520.5 376 1524.2 380.4 1526.4C384.8 1528.5 389.6 1530.4 393.7 1531.5C397.8 1532.5 401.6 1532.5 404.8 1532.6C407.9 1532.6 411.3 1532 412.5 1531.9" fill="none" stroke="#4680ba" stroke-width="2.6" stroke-linecap="butt" stroke-linejoin="round"/>
<path d="M289.5 1539.2C291 1539.1 294.7 1538.4 298.4 1538.6C302.1 1538.7 307.6 1540.3 311.7 1540.1C315.7 1539.9 319.6 1538.8 322.8 1537.4C325.9 1536.1 327.6 1534.1 330.5 1531.9C333.5 1529.7 337 1526.2 340.5 1524.1C344 1522.1 347.9 1519.7 351.6 1519.7C355.3 1519.7 358.6 1521.9 362.7 1524.1C366.7 1526.4 371.5 1530.6 376 1533C380.4 1535.4 385.2 1537.9 389.3 1538.6C393.3 1539.2 396.5 1537.8 400.4 1537C404.2 1536.2 410.5 1534.2 412.5 1533.7" fill="none" stroke="#392a86" stroke-width="2.6" stroke-linecap="butt" stroke-linejoin="round"/>
<line x1="330.4" y1="1569.6" x2="330.4" y2="1459.4" stroke="#000" stroke-width="2.9" stroke-dasharray="10.6 4.4"/>
<line x1="319.7" y1="1470.5" x2="372.2" y2="1470.5" stroke="#000" stroke-width="2.6"/>
<path d="M283.5 1459.4V1569.6H418.5" fill="none" stroke="#000" stroke-width="2.3" stroke-linecap="square" stroke-linejoin="miter"/>
<line x1="271.6" y1="1459.4" x2="282.5" y2="1459.4" stroke="#000" stroke-width="2.3"/>
<line x1="271.6" y1="1527.9" x2="282.5" y2="1527.9" stroke="#000" stroke-width="2.3"/>
<line x1="289.5" y1="1570.6" x2="289.5" y2="1581.5" stroke="#000" stroke-width="2.3"/>
<line x1="330.4" y1="1570.6" x2="330.4" y2="1581.5" stroke="#000" stroke-width="2.3"/>
<line x1="371.3" y1="1570.6" x2="371.3" y2="1581.5" stroke="#000" stroke-width="2.3"/>
<line x1="412.2" y1="1570.6" x2="412.2" y2="1581.5" stroke="#000" stroke-width="2.3"/>
<text x="351" y="1445.3" font-size="22.75" fill="#111" text-anchor="middle">fight-back end</text>
<text x="371" y="1466.1" font-size="22.5" fill="#111" text-anchor="middle">p=0.76</text>
<path d="M460.1 1521.3C461.4 1521.2 464.6 1519.9 467.7 1520.8C470.8 1521.8 474.7 1524.7 478.8 1527C482.8 1529.4 487.6 1532.4 492.1 1534.8C496.5 1537.2 500.9 1539.9 505.4 1541.4C509.8 1543 514.6 1544.2 518.7 1544.1C522.7 1544 526.1 1542.1 529.8 1540.8C533.5 1539.4 537.5 1537 540.8 1535.9C544.2 1534.8 546.4 1534.3 549.7 1534.3C553 1534.4 557.1 1536 560.8 1536.3C564.5 1536.7 568.2 1536.9 571.9 1536.6C575.6 1536.3 581.1 1534.9 583 1534.6L583 1547C581.1 1546.9 575.6 1546.6 571.9 1546.3C568.2 1546 564.5 1545.6 560.8 1545.2C557.1 1544.8 553 1544 549.7 1544.1C546.4 1544.2 544.2 1544.7 540.8 1545.6C537.5 1546.6 533.5 1548.4 529.8 1549.6C526.1 1550.9 522.7 1552.7 518.7 1553C514.6 1553.2 509.8 1552.6 505.4 1551.2C500.9 1549.8 496.5 1546.9 492.1 1544.5C487.6 1542.1 482.8 1538.9 478.8 1536.8C474.7 1534.7 470.8 1532.4 467.7 1531.9C464.6 1531.4 461.4 1533.4 460.1 1533.7Z" fill="rgba(85,130,225,0.31)"/>
<path d="M460.1 1524.8C461.8 1523.1 466.4 1517.4 469.9 1514.6C473.4 1511.8 477.3 1508.4 481 1508C484.7 1507.5 488.7 1509.4 492.1 1511.9C495.4 1514.5 497.6 1518.8 500.9 1523C504.3 1527.3 508.3 1533.6 512 1537.4C515.7 1541.3 519.4 1544.5 523.1 1546.3C526.8 1548.2 530.1 1548.7 534.2 1548.5C538.3 1548.3 543.1 1546.7 547.5 1545.2C551.9 1543.7 556.7 1541.1 560.8 1539.7C564.9 1538.3 568.2 1537.5 571.9 1536.8C575.6 1536 581.1 1535.5 583 1535.2L583 1543.2C581.1 1543.5 575.6 1543.9 571.9 1544.8C568.2 1545.6 564.9 1546.6 560.8 1548.5C556.7 1550.4 551.9 1554.1 547.5 1556.3C543.1 1558.5 538.3 1561.3 534.2 1561.8C530.1 1562.4 526.8 1561.5 523.1 1559.6C519.4 1557.8 515.7 1554.3 512 1550.7C508.3 1547.2 504.3 1542.1 500.9 1538.6C497.6 1535 495.4 1532 492.1 1529.7C488.7 1527.4 484.7 1525.2 481 1524.8C477.3 1524.4 473.4 1525.9 469.9 1527C466.4 1528.1 461.8 1530.7 460.1 1531.5Z" fill="rgba(62,50,135,0.33)"/>
<path d="M460.1 1527.5C461.4 1527.3 464.6 1525.6 467.7 1526.4C470.8 1527.1 474.7 1529.7 478.8 1531.9C482.8 1534.1 487.6 1537.3 492.1 1539.7C496.5 1542.1 500.9 1544.8 505.4 1546.3C509.8 1547.8 514.6 1548.7 518.7 1548.5C522.7 1548.3 526.1 1546.5 529.8 1545.2C533.5 1543.9 537.5 1541.8 540.8 1540.8C544.2 1539.8 546.4 1539.2 549.7 1539.2C553 1539.2 557.1 1540.4 560.8 1540.8C564.5 1541.1 568.2 1541.4 571.9 1541.4C575.6 1541.4 581.1 1540.9 583 1540.8" fill="none" stroke="#4680ba" stroke-width="2.6" stroke-linecap="butt" stroke-linejoin="round"/>
<path d="M460.1 1528.1C461.8 1526.9 466.4 1522.8 469.9 1520.8C473.4 1518.9 477.3 1516.4 481 1516.4C484.7 1516.4 488.7 1518.4 492.1 1520.8C495.4 1523.2 497.6 1526.9 500.9 1530.8C504.3 1534.7 508.3 1540.4 512 1544.1C515.7 1547.8 519.4 1551.1 523.1 1553C526.8 1554.8 530.1 1555.5 534.2 1555.2C538.3 1554.8 543.1 1552.6 547.5 1550.7C551.9 1548.9 556.7 1545.8 560.8 1544.1C564.9 1542.4 568.2 1541.6 571.9 1540.8C575.6 1540 581.1 1539.5 583 1539.2" fill="none" stroke="#392a86" stroke-width="2.6" stroke-linecap="butt" stroke-linejoin="round"/>
<line x1="500.9" y1="1569.6" x2="500.9" y2="1459.4" stroke="#000" stroke-width="2.9" stroke-dasharray="10.6 4.4"/>
<line x1="490.1" y1="1470.5" x2="542.6" y2="1470.5" stroke="#000" stroke-width="2.6"/>
<path d="M453.9 1459.4V1569.6H588.9" fill="none" stroke="#000" stroke-width="2.3" stroke-linecap="square" stroke-linejoin="miter"/>
<line x1="442" y1="1459.4" x2="452.9" y2="1459.4" stroke="#000" stroke-width="2.3"/>
<line x1="442" y1="1527.9" x2="452.9" y2="1527.9" stroke="#000" stroke-width="2.3"/>
<line x1="459.9" y1="1570.6" x2="459.9" y2="1581.5" stroke="#000" stroke-width="2.3"/>
<line x1="500.9" y1="1570.6" x2="500.9" y2="1581.5" stroke="#000" stroke-width="2.3"/>
<line x1="541.8" y1="1570.6" x2="541.8" y2="1581.5" stroke="#000" stroke-width="2.3"/>
<line x1="582.7" y1="1570.6" x2="582.7" y2="1581.5" stroke="#000" stroke-width="2.3"/>
<text x="521.4" y="1445.3" font-size="22.75" fill="#111" text-anchor="middle">flee start</text>
<text x="541.5" y="1466.1" font-size="22.5" fill="#111" text-anchor="middle">p=0.73</text>
<path d="M630.6 1539.2C631.9 1538.5 635.6 1535.6 638.4 1534.8C641.2 1533.9 643.9 1533.9 647.2 1534.1C650.6 1534.4 655 1536.8 658.3 1536.3C661.7 1535.9 665 1533.5 667.2 1531.5C669.4 1529.4 669.4 1528.6 671.6 1524.1C673.8 1519.7 677.5 1509.9 680.5 1504.6C683.5 1499.3 686.2 1495.1 689.4 1492.4C692.5 1489.8 696 1488.9 699.3 1488.7C702.7 1488.4 705.4 1489 709.3 1490.9C713.2 1492.7 718.2 1496.5 722.6 1499.8C727.1 1503 731.9 1507.1 735.9 1510.4C740 1513.7 744.1 1517.2 747 1519.7C749.9 1522.3 752.2 1524.7 753.2 1525.7L753.2 1533.7C752.2 1532.8 749.9 1530.8 747 1528.6C744.1 1526.3 740 1523.1 735.9 1520.2C731.9 1517.2 727.1 1513.9 722.6 1510.8C718.2 1507.8 713.2 1503.8 709.3 1502C705.4 1500.1 702.7 1499.3 699.3 1499.8C696 1500.2 692.5 1502 689.4 1504.9C686.2 1507.7 683.5 1512 680.5 1517C677.5 1522.1 673.8 1531.2 671.6 1535.2C669.4 1539.3 669.4 1539.5 667.2 1541.2C665 1542.9 661.7 1544.9 658.3 1545.2C655 1545.5 650.6 1543.2 647.2 1543C643.9 1542.7 641.2 1542.7 638.4 1543.6C635.6 1544.6 631.9 1548.1 630.6 1549Z" fill="rgba(85,130,225,0.31)"/>
<path d="M630.6 1540.3C631.9 1539.3 635.6 1534.8 638.4 1534.1C641.2 1533.5 643.9 1535.2 647.2 1536.3C650.6 1537.5 655 1541.3 658.3 1541.2C661.7 1541.1 665 1538.1 667.2 1535.7C669.4 1533.3 669.4 1531.5 671.6 1526.8C673.8 1522.1 677.5 1512.6 680.5 1507.5C683.5 1502.5 686.2 1498.9 689.4 1496.4C692.5 1493.9 696 1492.1 699.3 1492.4C702.7 1492.7 705.4 1495.7 709.3 1498.2C713.2 1500.7 718.2 1504.6 722.6 1507.5C727.1 1510.4 731.9 1513.4 735.9 1515.7C740 1518 744.1 1519.3 747 1521.3C749.9 1523.2 752.2 1526.4 753.2 1527.5L753.2 1534.1C752.2 1533.3 749.9 1531 747 1529.2C744.1 1527.5 740 1525.8 735.9 1523.7C731.9 1521.6 727.1 1519 722.6 1516.4C718.2 1513.8 713.2 1510.1 709.3 1508C705.4 1505.8 702.7 1503.6 699.3 1503.5C696 1503.5 692.5 1505 689.4 1507.5C686.2 1510 683.5 1513.3 680.5 1518.6C677.5 1523.9 673.8 1534.3 671.6 1539.2C669.4 1544.1 669.4 1545.9 667.2 1548.1C665 1550.3 661.7 1552.4 658.3 1552.3C655 1552.2 650.6 1548.6 647.2 1547.4C643.9 1546.2 641.2 1544.8 638.4 1545.2C635.6 1545.6 631.9 1549.3 630.6 1550.1Z" fill="rgba(62,50,135,0.33)"/>
<path d="M630.6 1544.1C631.9 1543.3 635.6 1540.1 638.4 1539.2C641.2 1538.3 643.9 1538.3 647.2 1538.6C650.6 1538.8 655 1541.1 658.3 1540.8C661.7 1540.4 665 1538.2 667.2 1536.3C669.4 1534.5 669.4 1533.9 671.6 1529.7C673.8 1525.4 677.5 1516 680.5 1510.8C683.5 1505.7 686.2 1501.4 689.4 1498.6C692.5 1495.9 696 1494.6 699.3 1494.2C702.7 1493.8 705.4 1494.6 709.3 1496.4C713.2 1498.3 718.2 1502.2 722.6 1505.3C727.1 1508.4 731.9 1512.1 735.9 1515.3C740 1518.4 744.1 1521.7 747 1524.1C749.9 1526.5 752.2 1528.8 753.2 1529.7" fill="none" stroke="#4680ba" stroke-width="2.6" stroke-linecap="butt" stroke-linejoin="round"/>
<path d="M630.6 1545.2C631.9 1544.3 635.6 1540.2 638.4 1539.7C641.2 1539.1 643.9 1540.7 647.2 1541.9C650.6 1543.1 655 1546.8 658.3 1546.8C661.7 1546.8 665 1544.2 667.2 1541.9C669.4 1539.6 669.4 1537.8 671.6 1533C673.8 1528.2 677.5 1518.2 680.5 1513.1C683.5 1507.9 686.2 1504.5 689.4 1502C692.5 1499.5 696 1497.8 699.3 1498C702.7 1498.2 705.4 1500.8 709.3 1503.1C713.2 1505.4 718.2 1509.2 722.6 1511.9C727.1 1514.7 731.9 1517.5 735.9 1519.7C740 1521.9 744.1 1523.4 747 1525.2C749.9 1527.1 752.2 1529.9 753.2 1530.8" fill="none" stroke="#392a86" stroke-width="2.6" stroke-linecap="butt" stroke-linejoin="round"/>
<line x1="671.5" y1="1569.6" x2="671.5" y2="1459.4" stroke="#000" stroke-width="2.9" stroke-dasharray="10.6 4.4"/>
<line x1="660.8" y1="1470.5" x2="713.3" y2="1470.5" stroke="#000" stroke-width="2.6"/>
<path d="M624.6 1459.4V1569.6H759.6" fill="none" stroke="#000" stroke-width="2.3" stroke-linecap="square" stroke-linejoin="miter"/>
<line x1="612.7" y1="1459.4" x2="623.6" y2="1459.4" stroke="#000" stroke-width="2.3"/>
<line x1="612.7" y1="1527.9" x2="623.6" y2="1527.9" stroke="#000" stroke-width="2.3"/>
<line x1="630.6" y1="1570.6" x2="630.6" y2="1581.5" stroke="#000" stroke-width="2.3"/>
<line x1="671.5" y1="1570.6" x2="671.5" y2="1581.5" stroke="#000" stroke-width="2.3"/>
<line x1="712.5" y1="1570.6" x2="712.5" y2="1581.5" stroke="#000" stroke-width="2.3"/>
<line x1="753.4" y1="1570.6" x2="753.4" y2="1581.5" stroke="#000" stroke-width="2.3"/>
<text x="692.1" y="1445.3" font-size="22.75" fill="#111" text-anchor="middle">flee end</text>
<text x="712.2" y="1466.1" font-size="22.5" fill="#111" text-anchor="middle">p=0.59</text>
<path d="M801 1530.1C802.5 1530.8 806.9 1533.6 809.9 1533.9C812.9 1534.2 815.4 1532.7 818.8 1531.7C822.1 1530.6 826 1528.1 829.9 1527.7C833.7 1527.3 838.1 1528.7 841.8 1529.2C845.5 1529.8 848.5 1530.7 852 1530.8C855.6 1530.9 859.4 1530.7 863.1 1529.9C866.8 1529.1 870.5 1527.4 874.2 1525.9C877.9 1524.4 881.6 1522.1 885.3 1521C889 1519.9 892.7 1519.3 896.4 1519.3C900.1 1519.3 904.1 1520.5 907.4 1521C910.8 1521.6 913.6 1522.3 916.3 1522.6C919 1522.8 922.4 1522.6 923.6 1522.6L923.6 1533.7C922.4 1533.7 919 1534.2 916.3 1533.7C913.6 1533.2 910.8 1531.6 907.4 1530.8C904.1 1530 900.1 1529 896.4 1529C892.7 1529 889 1529.7 885.3 1530.8C881.6 1531.9 877.9 1534.2 874.2 1535.7C870.5 1537.1 866.8 1538.8 863.1 1539.7C859.4 1540.5 855.6 1540.7 852 1540.5C848.5 1540.4 845.5 1539.5 841.8 1539C838.1 1538.5 833.7 1537.3 829.9 1537.4C826 1537.6 822.1 1538.9 818.8 1539.7C815.4 1540.4 812.9 1542.1 809.9 1541.9C806.9 1541.6 802.5 1538.7 801 1538.1Z" fill="rgba(85,130,225,0.31)"/>
<path d="M801 1522.6C802.5 1524 806.6 1528.5 809.9 1530.8C813.2 1533.1 817.3 1534.7 821 1536.3C824.7 1538 828.6 1539.5 832.1 1540.8C835.5 1542 838.5 1542.9 841.8 1543.6C845.1 1544.4 848.8 1545.5 852 1545.4C855.2 1545.3 857.9 1544.5 860.9 1543C863.8 1541.5 866.8 1539.3 869.8 1536.3C872.7 1533.4 875.7 1528.5 878.6 1525.2C881.6 1522 884.5 1518.8 887.5 1516.8C890.4 1514.9 893 1513.6 896.4 1513.5C899.7 1513.4 904.1 1515.3 907.4 1515.9C910.8 1516.5 913.6 1517.3 916.3 1517C919 1516.8 922.4 1514.8 923.6 1514.4L923.6 1524.1C922.4 1524.4 919 1525.7 916.3 1525.9C913.6 1526.2 910.8 1525.7 907.4 1525.7C904.1 1525.7 899.7 1525.3 896.4 1525.9C893 1526.5 890.4 1527.1 887.5 1529.2C884.5 1531.3 881.6 1534.8 878.6 1538.6C875.7 1542.3 872.7 1548.5 869.8 1551.9C866.8 1555.2 863.8 1557.2 860.9 1558.5C857.9 1559.8 855.2 1559.9 852 1559.6C848.8 1559.4 845.1 1558.2 841.8 1556.9C838.5 1555.7 835.5 1553.8 832.1 1551.9C828.6 1549.9 824.7 1547.4 821 1545.2C817.3 1543 813.2 1540.9 809.9 1538.8C806.6 1536.6 802.5 1533.4 801 1532.3Z" fill="rgba(62,50,135,0.33)"/>
<path d="M801 1534.1C802.5 1534.7 806.9 1537.6 809.9 1537.9C812.9 1538.1 815.4 1536.6 818.8 1535.7C822.1 1534.8 826 1532.8 829.9 1532.6C833.7 1532.3 838.1 1533.6 841.8 1534.1C845.5 1534.6 848.5 1535.6 852 1535.7C855.6 1535.8 859.4 1535.6 863.1 1534.8C866.8 1534 870.5 1532.3 874.2 1530.8C877.9 1529.3 881.6 1527 885.3 1525.9C889 1524.8 892.7 1524.1 896.4 1524.1C900.1 1524.1 904.1 1525.2 907.4 1525.9C910.8 1526.6 913.6 1527.8 916.3 1528.1C919 1528.5 922.4 1528.1 923.6 1528.1" fill="none" stroke="#4680ba" stroke-width="2.6" stroke-linecap="butt" stroke-linejoin="round"/>
<path d="M801 1527.5C802.5 1528.7 806.6 1532.6 809.9 1534.8C813.2 1537 817.3 1538.8 821 1540.8C824.7 1542.7 828.6 1544.7 832.1 1546.3C835.5 1547.9 838.5 1549.3 841.8 1550.3C845.1 1551.3 848.8 1552.4 852 1552.5C855.2 1552.6 857.9 1552.1 860.9 1550.7C863.8 1549.3 866.8 1547.2 869.8 1544.1C872.7 1541 875.7 1535.4 878.6 1531.9C881.6 1528.4 884.5 1525.1 887.5 1523C890.4 1521 893 1520.1 896.4 1519.7C899.7 1519.3 904.1 1520.5 907.4 1520.8C910.8 1521.1 913.6 1521.7 916.3 1521.5C919 1521.2 922.4 1519.6 923.6 1519.3" fill="none" stroke="#392a86" stroke-width="2.6" stroke-linecap="butt" stroke-linejoin="round"/>
<line x1="841.7" y1="1569.6" x2="841.7" y2="1459.4" stroke="#000" stroke-width="2.9" stroke-dasharray="10.6 4.4"/>
<line x1="831" y1="1470.5" x2="883.5" y2="1470.5" stroke="#000" stroke-width="2.6"/>
<path d="M794.8 1459.4V1569.6H929.8" fill="none" stroke="#000" stroke-width="2.3" stroke-linecap="square" stroke-linejoin="miter"/>
<line x1="782.9" y1="1459.4" x2="793.8" y2="1459.4" stroke="#000" stroke-width="2.3"/>
<line x1="782.9" y1="1527.9" x2="793.8" y2="1527.9" stroke="#000" stroke-width="2.3"/>
<line x1="800.8" y1="1570.6" x2="800.8" y2="1581.5" stroke="#000" stroke-width="2.3"/>
<line x1="841.7" y1="1570.6" x2="841.7" y2="1581.5" stroke="#000" stroke-width="2.3"/>
<line x1="882.6" y1="1570.6" x2="882.6" y2="1581.5" stroke="#000" stroke-width="2.3"/>
<line x1="923.6" y1="1570.6" x2="923.6" y2="1581.5" stroke="#000" stroke-width="2.3"/>
<text x="862.3" y="1445.3" font-size="22.75" fill="#111" text-anchor="middle">attacked start</text>
<text x="882.3" y="1466.1" font-size="22.5" fill="#111" text-anchor="middle">p=0.12</text>
<path d="M971.3 1535.2C972.1 1533.7 974.4 1528.6 976.2 1526.4C977.9 1524.1 979.7 1522.2 981.7 1521.9C983.7 1521.6 986 1522.7 988.4 1524.6C990.8 1526.4 993.7 1530.9 996.1 1533C998.5 1535.2 1000.7 1537.2 1002.8 1537.4C1004.8 1537.7 1006.7 1536.3 1008.3 1534.6C1009.9 1532.8 1010.3 1530.9 1012.3 1526.8C1014.3 1522.7 1017.5 1515.2 1020.5 1509.7C1023.5 1504.3 1027.1 1498.3 1030.5 1494.2C1033.8 1490.2 1037.3 1486.3 1040.5 1485.3C1043.6 1484.4 1046 1485.9 1049.3 1488.7C1052.6 1491.4 1056.7 1497.7 1060.4 1502C1064.1 1506.2 1067.8 1510.8 1071.5 1514.2C1075.2 1517.5 1078.8 1520.1 1082.6 1521.9C1086.3 1523.8 1092.2 1524.7 1094.1 1525.2L1094.1 1536.3C1092.2 1535.8 1086.3 1534.9 1082.6 1533C1078.8 1531.2 1075.2 1528.2 1071.5 1525.2C1067.8 1522.3 1064.1 1518.4 1060.4 1515.3C1056.7 1512.1 1052.6 1508.4 1049.3 1506.4C1046 1504.4 1043.6 1502.5 1040.5 1503.1C1037.3 1503.6 1033.8 1506.4 1030.5 1509.7C1027.1 1513.1 1023.5 1518.1 1020.5 1523C1017.5 1527.9 1014.3 1535.2 1012.3 1539.2C1010.3 1543.2 1009.9 1545.2 1008.3 1547C1006.7 1548.7 1004.8 1550.3 1002.8 1549.9C1000.7 1549.4 998.5 1547 996.1 1544.1C993.7 1541.2 990.8 1535.2 988.4 1532.6C986 1530 983.7 1528.1 981.7 1528.6C979.7 1529 977.9 1531.9 976.2 1535.2C974.4 1538.6 972.1 1546.3 971.3 1548.5Z" fill="rgba(85,130,225,0.31)"/>
<path d="M971.3 1549.6C971.9 1547.2 973.5 1539.6 975.1 1535.2C976.6 1530.9 978.7 1525.9 980.6 1523.5C982.4 1521 983.9 1520.7 986.1 1520.6C988.4 1520.5 991.3 1522 993.9 1522.8C996.5 1523.6 999.3 1525.5 1001.7 1525.5C1004.1 1525.4 1006.5 1523.7 1008.3 1522.6C1010.1 1521.4 1010.3 1521.2 1012.3 1518.6C1014.3 1516 1017.5 1510.8 1020.5 1506.8C1023.5 1502.9 1027.1 1497.6 1030.5 1494.9C1033.8 1492.1 1037.3 1490.4 1040.5 1490.4C1043.6 1490.4 1046 1492.5 1049.3 1494.9C1052.6 1497.3 1056.7 1501.9 1060.4 1504.9C1064.1 1507.8 1067.8 1510.2 1071.5 1512.4C1075.2 1514.6 1078.8 1515.3 1082.6 1517.9C1086.3 1520.6 1092.2 1526.6 1094.1 1528.4L1094.1 1536.3C1092.2 1534.6 1086.3 1528.6 1082.6 1525.9C1078.8 1523.3 1075.2 1522.3 1071.5 1520.4C1067.8 1518.5 1064.1 1516.6 1060.4 1514.6C1056.7 1512.6 1052.6 1509.6 1049.3 1508.2C1046 1506.7 1043.6 1505.8 1040.5 1506C1037.3 1506.1 1033.8 1506.8 1030.5 1509.1C1027.1 1511.3 1023.5 1515.8 1020.5 1519.3C1017.5 1522.7 1014.3 1527.3 1012.3 1529.7C1010.3 1532.1 1010.1 1532.7 1008.3 1533.7C1006.5 1534.6 1004.1 1535.7 1001.7 1535.2C999.3 1534.7 996.5 1531.9 993.9 1530.8C991.3 1529.7 988.4 1528.5 986.1 1528.6C983.9 1528.7 982.4 1528.9 980.6 1531.5C978.7 1534 976.6 1539.2 975.1 1544.1C973.5 1549 971.9 1557.9 971.3 1560.7Z" fill="rgba(62,50,135,0.33)"/>
<path d="M971.3 1541.9C972.1 1540 974.4 1533.6 976.2 1530.8C977.9 1528 979.7 1525.6 981.7 1525.2C983.7 1524.9 986 1526.4 988.4 1528.6C990.8 1530.8 993.7 1536 996.1 1538.6C998.5 1541.1 1000.7 1543.3 1002.8 1543.6C1004.8 1544 1006.7 1542.5 1008.3 1540.8C1009.9 1539 1010.3 1537.1 1012.3 1533C1014.3 1528.9 1017.5 1521.6 1020.5 1516.4C1023.5 1511.2 1027.1 1505.7 1030.5 1502C1033.8 1498.3 1037.3 1495 1040.5 1494.2C1043.6 1493.5 1046 1495.1 1049.3 1497.5C1052.6 1499.9 1056.7 1504.9 1060.4 1508.6C1064.1 1512.3 1067.8 1516.6 1071.5 1519.7C1075.2 1522.8 1078.8 1525.6 1082.6 1527.5C1086.3 1529.3 1092.2 1530.2 1094.1 1530.8" fill="none" stroke="#4680ba" stroke-width="2.6" stroke-linecap="butt" stroke-linejoin="round"/>
<path d="M971.3 1555.2C971.9 1552.6 973.5 1544.3 975.1 1539.7C976.6 1535 978.7 1530 980.6 1527.5C982.4 1525 983.9 1524.7 986.1 1524.6C988.4 1524.5 991.3 1525.8 993.9 1526.8C996.5 1527.8 999.3 1530.1 1001.7 1530.3C1004.1 1530.6 1006.5 1529.2 1008.3 1528.1C1010.1 1527.1 1010.3 1526.7 1012.3 1524.1C1014.3 1521.6 1017.5 1516.8 1020.5 1513.1C1023.5 1509.4 1027.1 1504.4 1030.5 1502C1033.8 1499.5 1037.3 1498.3 1040.5 1498.2C1043.6 1498.1 1046 1499.6 1049.3 1501.5C1052.6 1503.5 1056.7 1507.3 1060.4 1509.7C1064.1 1512.2 1067.8 1514.4 1071.5 1516.4C1075.2 1518.4 1078.8 1519.3 1082.6 1521.9C1086.3 1524.6 1092.2 1530.6 1094.1 1532.3" fill="none" stroke="#392a86" stroke-width="2.6" stroke-linecap="butt" stroke-linejoin="round"/>
<line x1="1012" y1="1569.6" x2="1012" y2="1459.4" stroke="#000" stroke-width="2.9" stroke-dasharray="10.6 4.4"/>
<line x1="1001.3" y1="1470.5" x2="1053.7" y2="1470.5" stroke="#000" stroke-width="2.6"/>
<path d="M965.1 1459.4V1569.6H1100.1" fill="none" stroke="#000" stroke-width="2.3" stroke-linecap="square" stroke-linejoin="miter"/>
<line x1="953.2" y1="1459.4" x2="964.1" y2="1459.4" stroke="#000" stroke-width="2.3"/>
<line x1="953.2" y1="1527.9" x2="964.1" y2="1527.9" stroke="#000" stroke-width="2.3"/>
<line x1="971.1" y1="1570.6" x2="971.1" y2="1581.5" stroke="#000" stroke-width="2.3"/>
<line x1="1012" y1="1570.6" x2="1012" y2="1581.5" stroke="#000" stroke-width="2.3"/>
<line x1="1052.9" y1="1570.6" x2="1052.9" y2="1581.5" stroke="#000" stroke-width="2.3"/>
<line x1="1093.8" y1="1570.6" x2="1093.8" y2="1581.5" stroke="#000" stroke-width="2.3"/>
<text x="1032.6" y="1445.3" font-size="22.75" fill="#111" text-anchor="middle">attacked end</text>
<text x="1052.6" y="1466.1" font-size="22.5" fill="#111" text-anchor="middle">p=0.73</text>
<path d="M1141.5 1525.9C1142.9 1525.8 1146.7 1524.4 1149.9 1525.5C1153.2 1526.6 1157.3 1529.9 1161 1532.6C1164.7 1535.2 1168.5 1539.2 1172.1 1541.4C1175.6 1543.6 1178.9 1544.8 1182.3 1545.9C1185.6 1546.9 1188.9 1547.6 1192 1547.6C1195.1 1547.7 1197.6 1548 1200.9 1546.3C1204.2 1544.6 1208.3 1540.9 1212 1537.4C1215.7 1534 1219.4 1528.9 1223.1 1525.7C1226.8 1522.4 1230.4 1519.8 1234.1 1517.9C1237.8 1516.1 1241.9 1515.1 1245.2 1514.6C1248.6 1514.2 1251.5 1514.4 1254.1 1515.3C1256.7 1516.1 1259 1518.2 1260.7 1519.7C1262.5 1521.2 1263.9 1523.4 1264.5 1524.1L1264.5 1533.9C1263.9 1533.4 1262.5 1531.8 1260.7 1530.8C1259 1529.8 1256.7 1528.3 1254.1 1527.7C1251.5 1527.1 1248.6 1526.6 1245.2 1527C1241.9 1527.5 1237.8 1528.5 1234.1 1530.3C1230.4 1532.2 1226.8 1535.1 1223.1 1538.1C1219.4 1541.1 1215.7 1545.5 1212 1548.5C1208.3 1551.5 1204.2 1554.6 1200.9 1556.1C1197.6 1557.5 1195.1 1557.5 1192 1557.4C1188.9 1557.3 1185.6 1556.7 1182.3 1555.6C1178.9 1554.6 1175.6 1553.4 1172.1 1551.2C1168.5 1549 1164.7 1545 1161 1542.3C1157.3 1539.7 1153.2 1536.3 1149.9 1535.2C1146.7 1534.1 1142.9 1535.6 1141.5 1535.7Z" fill="rgba(85,130,225,0.31)"/>
<path d="M1141.5 1535.9C1142.9 1535.4 1146.7 1533.1 1149.9 1533C1153.2 1532.9 1157.3 1534.4 1161 1535.2C1164.7 1536 1168.5 1537.6 1172.1 1537.9C1175.6 1538.1 1178.6 1538.1 1182.3 1536.8C1186 1535.4 1190 1532.2 1194.2 1529.7C1198.5 1527.2 1203.1 1524.1 1207.5 1521.9C1212 1519.7 1216.8 1518.3 1220.8 1516.4C1224.9 1514.4 1228.6 1512.2 1231.9 1510.2C1235.2 1508.1 1238 1505.6 1240.8 1504.2C1243.6 1502.8 1246.1 1501.5 1248.6 1502C1251 1502.5 1253.2 1504.4 1255.2 1507.1C1257.2 1509.7 1259.2 1514.9 1260.7 1517.9C1262.3 1521 1263.9 1524 1264.5 1525.2L1264.5 1531.9C1263.9 1530.9 1262.3 1528.4 1260.7 1525.9C1259.2 1523.4 1257.2 1519 1255.2 1516.8C1253.2 1514.7 1251 1513.3 1248.6 1513.1C1246.1 1512.8 1243.6 1513.7 1240.8 1515.3C1238 1516.9 1235.2 1519.8 1231.9 1522.6C1228.6 1525.4 1224.9 1528.7 1220.8 1531.9C1216.8 1535.1 1212 1538.9 1207.5 1541.9C1203.1 1544.8 1198.5 1547.9 1194.2 1549.6C1190 1551.4 1186 1552.2 1182.3 1552.3C1178.6 1552.4 1175.6 1551.3 1172.1 1550.3C1168.5 1549.3 1164.7 1547.6 1161 1546.3C1157.3 1545.1 1153.2 1542.9 1149.9 1542.8C1146.7 1542.7 1142.9 1545.2 1141.5 1545.6Z" fill="rgba(62,50,135,0.33)"/>
<path d="M1141.5 1530.8C1142.9 1530.7 1146.7 1529.2 1149.9 1530.3C1153.2 1531.5 1157.3 1534.8 1161 1537.4C1164.7 1540.1 1168.5 1544.1 1172.1 1546.3C1175.6 1548.5 1178.9 1549.7 1182.3 1550.7C1185.6 1551.8 1188.9 1552.4 1192 1552.5C1195.1 1552.6 1197.6 1552.8 1200.9 1551.2C1204.2 1549.6 1208.3 1546.2 1212 1543C1215.7 1539.8 1219.4 1535 1223.1 1531.9C1226.8 1528.8 1230.4 1526 1234.1 1524.1C1237.8 1522.3 1241.9 1521.3 1245.2 1520.8C1248.6 1520.4 1251.5 1520.7 1254.1 1521.5C1256.7 1522.2 1259 1524 1260.7 1525.2C1262.5 1526.5 1263.9 1528.4 1264.5 1529" fill="none" stroke="#4680ba" stroke-width="2.6" stroke-linecap="butt" stroke-linejoin="round"/>
<path d="M1141.5 1540.8C1142.9 1540.3 1146.7 1537.9 1149.9 1537.9C1153.2 1537.9 1157.3 1539.7 1161 1540.8C1164.7 1541.8 1168.5 1543.5 1172.1 1544.1C1175.6 1544.7 1178.6 1545.3 1182.3 1544.5C1186 1543.8 1190 1541.8 1194.2 1539.7C1198.5 1537.6 1203.1 1534.5 1207.5 1531.9C1212 1529.3 1216.8 1526.7 1220.8 1524.1C1224.9 1521.6 1228.6 1518.8 1231.9 1516.4C1235.2 1514 1238 1511.2 1240.8 1509.7C1243.6 1508.3 1246.1 1507.1 1248.6 1507.5C1251 1507.9 1253.2 1509.5 1255.2 1511.9C1257.2 1514.4 1259.2 1519.2 1260.7 1521.9C1262.3 1524.7 1263.9 1527.5 1264.5 1528.6" fill="none" stroke="#392a86" stroke-width="2.6" stroke-linecap="butt" stroke-linejoin="round"/>
<line x1="1182.4" y1="1569.6" x2="1182.4" y2="1459.4" stroke="#000" stroke-width="2.9" stroke-dasharray="10.6 4.4"/>
<line x1="1171.7" y1="1470.5" x2="1224.1" y2="1470.5" stroke="#000" stroke-width="2.6"/>
<path d="M1135.5 1459.4V1569.6H1270.5" fill="none" stroke="#000" stroke-width="2.3" stroke-linecap="square" stroke-linejoin="miter"/>
<line x1="1123.6" y1="1459.4" x2="1134.5" y2="1459.4" stroke="#000" stroke-width="2.3"/>
<line x1="1123.6" y1="1527.9" x2="1134.5" y2="1527.9" stroke="#000" stroke-width="2.3"/>
<line x1="1141.5" y1="1570.6" x2="1141.5" y2="1581.5" stroke="#000" stroke-width="2.3"/>
<line x1="1182.4" y1="1570.6" x2="1182.4" y2="1581.5" stroke="#000" stroke-width="2.3"/>
<line x1="1223.3" y1="1570.6" x2="1223.3" y2="1581.5" stroke="#000" stroke-width="2.3"/>
<line x1="1264.2" y1="1570.6" x2="1264.2" y2="1581.5" stroke="#000" stroke-width="2.3"/>
<text x="1203" y="1418.7" font-size="22.75" fill="#111" text-anchor="middle">investigated</text>
<text x="1206.5" y="1445.3" font-size="22.75" fill="#111" text-anchor="middle">start</text>
<text x="1223" y="1466.1" font-size="22.5" fill="#111" text-anchor="middle">p=0.21</text>
<path d="M1311.7 1529.7C1313.2 1529.4 1317.3 1529.4 1320.6 1528.1C1323.9 1526.9 1328 1524 1331.7 1522.4C1335.4 1520.8 1339.2 1519.2 1342.8 1518.6C1346.3 1518 1349.3 1518.6 1353 1518.6C1356.7 1518.6 1361.1 1518.9 1364.9 1518.6C1368.8 1518.3 1372.3 1518 1376 1516.6C1379.7 1515.2 1383.4 1512.1 1387.1 1510.4C1390.8 1508.7 1394.9 1506.7 1398.2 1506.6C1401.5 1506.5 1404.1 1508.2 1407.1 1509.7C1410 1511.2 1413 1514.4 1415.9 1515.7C1418.9 1517.1 1422.4 1518 1424.8 1517.9C1427.2 1517.9 1428.7 1517 1430.3 1515.3C1432 1513.5 1434 1508.8 1434.8 1507.5L1434.8 1518.6C1434 1519.5 1432 1522.9 1430.3 1524.1C1428.7 1525.4 1427.2 1526 1424.8 1525.9C1422.4 1525.8 1418.9 1524.9 1415.9 1523.7C1413 1522.5 1410 1519.8 1407.1 1518.6C1404.1 1517.4 1401.5 1516.1 1398.2 1516.4C1394.9 1516.6 1390.8 1518.5 1387.1 1520.2C1383.4 1521.8 1379.7 1525.1 1376 1526.4C1372.3 1527.6 1368.8 1527.3 1364.9 1527.5C1361.1 1527.7 1356.7 1527.6 1353 1527.5C1349.3 1527.3 1346.3 1526.1 1342.8 1526.6C1339.2 1527.1 1335.4 1528.5 1331.7 1530.3C1328 1532.2 1323.9 1536.1 1320.6 1537.9C1317.3 1539.6 1313.2 1540.3 1311.7 1540.8Z" fill="rgba(85,130,225,0.31)"/>
<path d="M1311.7 1521.5C1312.8 1520.4 1315.8 1516.7 1318.4 1515.3C1321 1513.9 1323.9 1512.8 1327.2 1513.1C1330.6 1513.3 1334 1515 1338.3 1516.6C1342.6 1518.2 1348.5 1521 1353 1522.6C1357.4 1524.1 1361.1 1525.2 1364.9 1525.9C1368.8 1526.6 1372.3 1526.9 1376 1526.8C1379.7 1526.7 1383 1525.6 1387.1 1525C1391.2 1524.5 1396 1523.4 1400.4 1523.5C1404.8 1523.5 1409.6 1524.5 1413.7 1525.2C1417.8 1526 1421.3 1527.2 1424.8 1528.1C1428.3 1529.1 1433.1 1530.3 1434.8 1530.8L1434.8 1543.2C1433.1 1542.3 1428.3 1539.4 1424.8 1537.9C1421.3 1536.4 1417.8 1535.2 1413.7 1534.1C1409.6 1533 1404.8 1531.6 1400.4 1531.5C1396 1531.3 1391.2 1532.5 1387.1 1533C1383 1533.6 1379.7 1534.5 1376 1534.8C1372.3 1535.1 1368.8 1535.3 1364.9 1534.8C1361.1 1534.2 1357.4 1532.9 1353 1531.5C1348.5 1530.1 1342.6 1527.6 1338.3 1526.4C1334 1525.1 1330.6 1524.1 1327.2 1524.1C1323.9 1524.1 1321 1525.2 1318.4 1526.4C1315.8 1527.5 1312.8 1530.4 1311.7 1531.2Z" fill="rgba(62,50,135,0.33)"/>
<path d="M1311.7 1535.2C1313.2 1534.9 1317.3 1534.5 1320.6 1533C1323.9 1531.5 1328 1528.1 1331.7 1526.4C1335.4 1524.6 1339.2 1523.1 1342.8 1522.6C1346.3 1522 1349.3 1523 1353 1523C1356.7 1523.1 1361.1 1523.3 1364.9 1523C1368.8 1522.8 1372.3 1522.8 1376 1521.5C1379.7 1520.2 1383.4 1516.9 1387.1 1515.3C1390.8 1513.6 1394.9 1511.7 1398.2 1511.5C1401.5 1511.3 1404.1 1512.8 1407.1 1514.2C1410 1515.5 1413 1518.4 1415.9 1519.7C1418.9 1521 1422.4 1521.9 1424.8 1521.9C1427.2 1521.9 1428.7 1521.2 1430.3 1519.7C1432 1518.2 1434 1514.2 1434.8 1513.1" fill="none" stroke="#4680ba" stroke-width="2.6" stroke-linecap="butt" stroke-linejoin="round"/>
<path d="M1311.7 1526.4C1312.8 1525.4 1315.8 1522.1 1318.4 1520.8C1321 1519.5 1323.9 1518.5 1327.2 1518.6C1330.6 1518.7 1334 1520.1 1338.3 1521.5C1342.6 1522.9 1348.5 1525.5 1353 1527C1357.4 1528.5 1361.1 1529.7 1364.9 1530.3C1368.8 1531 1372.3 1531 1376 1530.8C1379.7 1530.6 1383 1529.6 1387.1 1529C1391.2 1528.5 1396 1527.4 1400.4 1527.5C1404.8 1527.6 1409.6 1528.8 1413.7 1529.7C1417.8 1530.6 1421.3 1531.8 1424.8 1533C1428.3 1534.2 1433.1 1536.3 1434.8 1537" fill="none" stroke="#392a86" stroke-width="2.6" stroke-linecap="butt" stroke-linejoin="round"/>
<line x1="1352.9" y1="1569.6" x2="1352.9" y2="1459.4" stroke="#000" stroke-width="2.9" stroke-dasharray="10.6 4.4"/>
<line x1="1342.2" y1="1470.5" x2="1394.6" y2="1470.5" stroke="#000" stroke-width="2.6"/>
<path d="M1306 1459.4V1569.6H1441" fill="none" stroke="#000" stroke-width="2.3" stroke-linecap="square" stroke-linejoin="miter"/>
<line x1="1294.1" y1="1459.4" x2="1305" y2="1459.4" stroke="#000" stroke-width="2.3"/>
<line x1="1294.1" y1="1527.9" x2="1305" y2="1527.9" stroke="#000" stroke-width="2.3"/>
<line x1="1312" y1="1570.6" x2="1312" y2="1581.5" stroke="#000" stroke-width="2.3"/>
<line x1="1352.9" y1="1570.6" x2="1352.9" y2="1581.5" stroke="#000" stroke-width="2.3"/>
<line x1="1393.8" y1="1570.6" x2="1393.8" y2="1581.5" stroke="#000" stroke-width="2.3"/>
<line x1="1434.7" y1="1570.6" x2="1434.7" y2="1581.5" stroke="#000" stroke-width="2.3"/>
<text x="1373.5" y="1418.7" font-size="22.75" fill="#111" text-anchor="middle">investigated</text>
<text x="1377" y="1445.3" font-size="22.75" fill="#111" text-anchor="middle">end</text>
<text x="1393.5" y="1466.1" font-size="22.5" fill="#111" text-anchor="middle">p=0.11</text>
<text transform="translate(45.6 1515.5) rotate(-90)" font-size="22.5" fill="#111" text-anchor="middle">Weights</text>
<rect x="1459.2" y="1512.3" width="42.5" height="15.4" fill="#c5c0de" stroke="#b0abc9" stroke-width="1"/>
<text x="1517.5" y="1527.5" font-size="20.6" fill="#111">ventral (n=10)</text>
<rect x="1459.2" y="1543.3" width="42.5" height="15.4" fill="#d7def3" stroke="#c9d0e6" stroke-width="1"/>
<text x="1517.5" y="1558.5" font-size="20.6" fill="#111">dorsal (n=9)</text>
<path d="M118.8 1729.2C120.7 1729.1 125.8 1728.5 129.9 1728.6C134 1728.6 138.3 1729.4 143.2 1729.7C148.1 1730 154 1730.5 159.2 1730.3C164.3 1730.2 169.5 1729.4 174.2 1728.6C179 1727.7 183.5 1726.1 187.5 1725.2C191.6 1724.4 195.7 1723.7 198.6 1723.5C201.6 1723.2 202.3 1723.1 205.3 1723.7C208.2 1724.3 212.7 1726 216.4 1727C220.1 1728.1 224.5 1729.8 227.4 1730.1C230.4 1730.5 232.1 1729.6 234.1 1729C236.1 1728.4 238.7 1726.8 239.6 1726.4L239.6 1738.8C238.7 1739.2 236.1 1740.8 234.1 1741.4C232.1 1742.1 230.4 1743.1 227.4 1742.5C224.5 1742 220.1 1739.4 216.4 1738.1C212.7 1736.8 208.2 1735.2 205.3 1734.8C202.3 1734.4 201.6 1734.9 198.6 1735.9C195.7 1736.9 191.6 1739 187.5 1740.8C183.5 1742.5 179 1745.8 174.2 1746.3C169.5 1746.8 164.3 1744.9 159.2 1743.6C154 1742.4 148.1 1739.6 143.2 1738.6C138.3 1737.5 134 1737.4 129.9 1737.4C125.8 1737.5 120.7 1738.7 118.8 1739Z" fill="rgba(85,130,225,0.31)"/>
<path d="M118.8 1736.1C120.3 1735 124 1731.7 127.7 1729.2C131.4 1726.8 135.7 1724.5 141 1721.5C146.2 1718.4 153.6 1713.7 159.2 1710.8C164.7 1708 169.5 1705.6 174.2 1704.2C179 1702.8 183.5 1702.4 187.5 1702.6C191.6 1702.9 194.9 1703.9 198.6 1705.7C202.3 1707.6 206 1710.8 209.7 1713.7C213.4 1716.7 217.5 1721.3 220.8 1723.5C224.1 1725.7 227.1 1726.8 229.7 1727C232.2 1727.2 234.6 1725.9 236.3 1724.8C238 1723.7 239.1 1721.1 239.6 1720.4L239.6 1730.1C239.1 1730.9 238 1733.5 236.3 1734.6C234.6 1735.7 232.2 1736.8 229.7 1736.8C227.1 1736.8 224.1 1735.8 220.8 1734.6C217.5 1733.3 213.4 1730.7 209.7 1729.2C206 1727.8 202.3 1726.1 198.6 1725.7C194.9 1725.3 191.6 1726.2 187.5 1727C183.5 1727.9 179 1729.8 174.2 1730.8C169.5 1731.8 164.7 1732.3 159.2 1733C153.6 1733.7 146.2 1733.8 141 1734.8C135.7 1735.8 131.4 1737.4 127.7 1739C124 1740.5 120.3 1743.2 118.8 1744.1Z" fill="rgba(62,50,135,0.33)"/>
<path d="M118.8 1734.1C120.7 1733.9 125.8 1733 129.9 1733C134 1733 138.3 1733.5 143.2 1734.1C148.1 1734.8 154 1736.4 159.2 1737C164.3 1737.6 169.5 1738.1 174.2 1737.4C179 1736.8 183.5 1734.3 187.5 1733C191.6 1731.7 195.7 1730.3 198.6 1729.7C201.6 1729.1 202.3 1728.8 205.3 1729.2C208.2 1729.7 212.7 1731.4 216.4 1732.6C220.1 1733.7 224.5 1735.9 227.4 1736.3C230.4 1736.8 232.1 1735.9 234.1 1735.2C236.1 1734.6 238.7 1733 239.6 1732.6" fill="none" stroke="#4680ba" stroke-width="2.6" stroke-linecap="butt" stroke-linejoin="round"/>
<path d="M118.8 1740.1C120.3 1739.1 124 1736.1 127.7 1734.1C131.4 1732.1 135.7 1730.2 141 1728.1C146.2 1726.1 153.6 1723.7 159.2 1721.9C164.7 1720.2 169.5 1718.7 174.2 1717.5C179 1716.3 183.5 1715.1 187.5 1714.8C191.6 1714.5 194.9 1714.6 198.6 1715.7C202.3 1716.8 206 1719.3 209.7 1721.5C213.4 1723.7 217.5 1727.3 220.8 1729C224.1 1730.8 227.1 1731.8 229.7 1731.9C232.2 1732 234.6 1730.8 236.3 1729.7C238 1728.6 239.1 1726 239.6 1725.2" fill="none" stroke="#392a86" stroke-width="2.6" stroke-linecap="butt" stroke-linejoin="round"/>
<line x1="159.4" y1="1775.8" x2="159.4" y2="1665.8" stroke="#000" stroke-width="2.9" stroke-dasharray="10.6 4.4"/>
<line x1="148.8" y1="1676.9" x2="200.3" y2="1676.9" stroke="#000" stroke-width="2.6"/>
<path d="M113.3 1665.8V1775.8H245.9" fill="none" stroke="#000" stroke-width="2.3" stroke-linecap="square" stroke-linejoin="miter"/>
<line x1="101.4" y1="1665.8" x2="112.3" y2="1665.8" stroke="#000" stroke-width="2.3"/>
<text x="92.7" y="1674.1" font-size="20.0" fill="#111" text-anchor="end">0.5</text>
<line x1="101.4" y1="1734.1" x2="112.3" y2="1734.1" stroke="#000" stroke-width="2.3"/>
<text x="92.7" y="1742.4" font-size="20.0" fill="#111" text-anchor="end">0.0</text>
<line x1="119.2" y1="1776.8" x2="119.2" y2="1787.7" stroke="#000" stroke-width="2.3"/>
<line x1="159.4" y1="1776.8" x2="159.4" y2="1787.7" stroke="#000" stroke-width="2.3"/>
<line x1="199.5" y1="1776.8" x2="199.5" y2="1787.7" stroke="#000" stroke-width="2.3"/>
<line x1="239.7" y1="1776.8" x2="239.7" y2="1787.7" stroke="#000" stroke-width="2.3"/>
<text x="179.6" y="1651.5" font-size="22.75" fill="#111" text-anchor="middle">fight-back start</text>
<text x="199.2" y="1672.7" font-size="22.5" fill="#111" text-anchor="middle">p=0.18</text>
<path d="M287.3 1734.8C288.8 1734.5 293.2 1732.7 296.2 1733C299.1 1733.3 301.7 1735 305 1736.3C308.4 1737.6 313.2 1740.5 316.1 1740.8C319.1 1741 320.9 1739.3 322.8 1737.9C324.6 1736.4 325 1735.3 327.2 1732.1C329.4 1728.9 332.7 1722.3 336.1 1718.6C339.4 1714.9 343.8 1711.7 347.1 1710.2C350.5 1708.7 352.7 1708.8 356 1709.7C359.3 1710.7 363.4 1713.3 367.1 1715.7C370.8 1718.1 374.5 1721.9 378.2 1724.1C381.9 1726.4 385.6 1728.5 389.3 1729.2C393 1730 397.3 1729.1 400.4 1728.6C403.4 1728.1 406.3 1726.7 407.4 1726.4L407.4 1737.4C406.3 1737.8 403.4 1739.2 400.4 1739.7C397.3 1740.1 393 1740.7 389.3 1740.3C385.6 1740 381.9 1738.7 378.2 1737.4C374.5 1736.1 370.8 1733.9 367.1 1732.6C363.4 1731.3 359.3 1730.1 356 1729.7C352.7 1729.3 350.5 1729.4 347.1 1730.1C343.8 1730.9 339.4 1732.2 336.1 1734.1C332.7 1736.1 329.4 1739.9 327.2 1741.9C325 1743.8 324.6 1744.9 322.8 1745.9C320.9 1746.8 319.1 1747.9 316.1 1747.4C313.2 1746.9 308.4 1744.1 305 1743C301.7 1741.9 299.1 1740.7 296.2 1741C293.2 1741.2 288.8 1743.9 287.3 1744.5Z" fill="rgba(85,130,225,0.31)"/>
<path d="M287.3 1744.1C289.5 1744 296.2 1743.7 300.6 1743.4C305 1743.1 310.2 1743.3 313.9 1742.3C317.6 1741.3 320.5 1739.1 322.8 1737.4C325 1735.8 325 1734.9 327.2 1732.6C329.4 1730.3 332.9 1726 336.1 1723.7C339.2 1721.4 342.7 1719.3 346 1719C349.4 1718.7 352.5 1719.8 356 1721.9C359.5 1724.1 363.4 1729 367.1 1731.9C370.8 1734.8 374.5 1737.6 378.2 1739.2C381.9 1740.9 385.6 1741.7 389.3 1741.9C393 1742.1 397.3 1740.7 400.4 1740.3C403.4 1740 406.3 1739.8 407.4 1739.7L407.4 1748.5C406.3 1748.8 403.4 1749.3 400.4 1750.1C397.3 1750.8 393 1752.6 389.3 1753C385.6 1753.4 381.9 1753.4 378.2 1752.5C374.5 1751.6 370.8 1749.7 367.1 1747.4C363.4 1745.1 359.5 1740.9 356 1738.8C352.5 1736.6 349.4 1734.9 346 1734.6C342.7 1734.3 339.2 1735.7 336.1 1737C332.9 1738.3 329.4 1740.8 327.2 1742.3C325 1743.9 325 1745 322.8 1746.3C320.5 1747.6 317.6 1749.4 313.9 1750.3C310.2 1751.1 305 1751.1 300.6 1751.4C296.2 1751.7 289.5 1752 287.3 1752.1Z" fill="rgba(62,50,135,0.33)"/>
<path d="M287.3 1739.7C288.8 1739.2 293.2 1737 296.2 1737C299.1 1737 301.7 1738.5 305 1739.7C308.4 1740.8 313.2 1743.7 316.1 1744.1C319.1 1744.5 320.9 1743.1 322.8 1741.9C324.6 1740.7 325 1739.6 327.2 1737C329.4 1734.4 332.7 1729.2 336.1 1726.4C339.4 1723.5 343.8 1721.3 347.1 1720.2C350.5 1719 352.7 1719 356 1719.7C359.3 1720.4 363.4 1722.3 367.1 1724.1C370.8 1726 374.5 1729 378.2 1730.8C381.9 1732.6 385.6 1734.2 389.3 1734.8C393 1735.3 397.3 1734.6 400.4 1734.1C403.4 1733.6 406.3 1732.3 407.4 1731.9" fill="none" stroke="#4680ba" stroke-width="2.6" stroke-linecap="butt" stroke-linejoin="round"/>
<path d="M287.3 1748.1C289.5 1748 296.2 1747.7 300.6 1747.4C305 1747.1 310.2 1747.2 313.9 1746.3C317.6 1745.4 320.5 1743.4 322.8 1741.9C325 1740.4 325 1739.4 327.2 1737.4C329.4 1735.5 332.9 1732.1 336.1 1730.3C339.2 1728.6 342.7 1726.8 346 1726.8C349.4 1726.8 352.5 1728.2 356 1730.3C359.5 1732.5 363.4 1737.1 367.1 1739.7C370.8 1742.2 374.5 1744.6 378.2 1745.9C381.9 1747.2 385.6 1747.5 389.3 1747.4C393 1747.3 397.3 1745.8 400.4 1745.2C403.4 1744.6 406.3 1744.3 407.4 1744.1" fill="none" stroke="#392a86" stroke-width="2.6" stroke-linecap="butt" stroke-linejoin="round"/>
<line x1="327.4" y1="1775.8" x2="327.4" y2="1665.8" stroke="#000" stroke-width="2.9" stroke-dasharray="10.6 4.4"/>
<line x1="316.9" y1="1676.9" x2="368.4" y2="1676.9" stroke="#000" stroke-width="2.6"/>
<path d="M281.3 1665.8V1775.8H413.9" fill="none" stroke="#000" stroke-width="2.3" stroke-linecap="square" stroke-linejoin="miter"/>
<line x1="269.4" y1="1665.8" x2="280.3" y2="1665.8" stroke="#000" stroke-width="2.3"/>
<line x1="269.4" y1="1734.1" x2="280.3" y2="1734.1" stroke="#000" stroke-width="2.3"/>
<line x1="287.2" y1="1776.8" x2="287.2" y2="1787.7" stroke="#000" stroke-width="2.3"/>
<line x1="327.4" y1="1776.8" x2="327.4" y2="1787.7" stroke="#000" stroke-width="2.3"/>
<line x1="367.6" y1="1776.8" x2="367.6" y2="1787.7" stroke="#000" stroke-width="2.3"/>
<line x1="407.7" y1="1776.8" x2="407.7" y2="1787.7" stroke="#000" stroke-width="2.3"/>
<text x="347.6" y="1651.5" font-size="22.75" fill="#111" text-anchor="middle">fight-back end</text>
<text x="367.3" y="1672.7" font-size="22.5" fill="#111" text-anchor="middle">p=0.54</text>
<path d="M454.9 1726.8C456.6 1725.6 461.4 1721.4 464.9 1719.7C468.4 1718 472.7 1716.3 476 1716.4C479.3 1716.5 481.7 1717.7 484.9 1720.2C488 1722.6 491.7 1727.2 495.1 1730.8C498.4 1734.4 501.3 1739 504.8 1741.9C508.3 1744.7 512.6 1746.6 515.9 1747.9C519.2 1749.1 521.4 1749.3 524.8 1749.2C528.1 1749 532.5 1747.7 535.8 1747C539.2 1746.2 541.8 1745.1 544.7 1744.8C547.7 1744.4 550.6 1744.4 553.6 1744.8C556.5 1745.1 559.7 1746.5 562.4 1747C565.2 1747.4 568 1747.8 570.2 1747.4C572.4 1747 574.8 1745 575.7 1744.5L575.7 1756.9C574.8 1757.2 572.4 1758.3 570.2 1758.5C568 1758.7 565.2 1758.7 562.4 1758.1C559.7 1757.4 556.5 1755.1 553.6 1754.5C550.6 1753.9 547.7 1753.9 544.7 1754.5C541.8 1755.1 539.2 1757.1 535.8 1758.1C532.5 1759 528.1 1759.9 524.8 1760.3C521.4 1760.6 519.2 1761.1 515.9 1760.3C512.6 1759.4 508.3 1757.5 504.8 1755.2C501.3 1752.8 498.4 1749.3 495.1 1746.3C491.7 1743.3 488 1739 484.9 1737C481.7 1735 479.3 1734.4 476 1734.1C472.7 1733.8 468.4 1734.4 464.9 1735.2C461.4 1736.1 456.6 1738.6 454.9 1739.2Z" fill="rgba(85,130,225,0.31)"/>
<path d="M454.9 1730.8C456.6 1730.3 461.4 1727.7 464.9 1727.7C468.4 1727.7 472.3 1729.1 476 1730.8C479.7 1732.5 483.9 1735.7 487.1 1737.9C490.2 1740 492.1 1741.8 495.1 1743.6C498 1745.5 501.3 1747.7 504.8 1749.2C508.3 1750.6 512.6 1751.7 515.9 1752.3C519.2 1752.9 521.4 1753.3 524.8 1753C528.1 1752.6 532.1 1751.6 535.8 1750.1C539.5 1748.6 543.2 1745.8 546.9 1744.1C550.6 1742.4 554.7 1740.7 558 1739.7C561.3 1738.6 563.9 1738.3 566.9 1737.9C569.8 1737.5 574.3 1737.5 575.7 1737.4L575.7 1746.3C574.3 1746.4 569.8 1746.2 566.9 1746.8C563.9 1747.3 561.3 1748 558 1749.4C554.7 1750.8 550.6 1753 546.9 1755.2C543.2 1757.4 539.5 1760.5 535.8 1762.5C532.1 1764.5 528.1 1766.3 524.8 1767.1C521.4 1768 519.2 1768.4 515.9 1767.8C512.6 1767.2 508.3 1765.2 504.8 1763.4C501.3 1761.6 498 1759.1 495.1 1756.9C492.1 1754.8 490.2 1752.8 487.1 1750.3C483.9 1747.8 479.7 1744 476 1741.9C472.3 1739.7 468.4 1738 464.9 1737.4C461.4 1736.9 456.6 1738.6 454.9 1738.8Z" fill="rgba(62,50,135,0.33)"/>
<path d="M454.9 1733C456.6 1732.1 461.4 1728.8 464.9 1727.5C468.4 1726.2 472.7 1725.1 476 1725.2C479.3 1725.4 481.7 1726.4 484.9 1728.6C488 1730.8 491.7 1735.2 495.1 1738.6C498.4 1741.9 501.3 1745.9 504.8 1748.5C508.3 1751.1 512.6 1753 515.9 1754.1C519.2 1755.1 521.4 1755 524.8 1754.7C528.1 1754.5 532.5 1753.4 535.8 1752.5C539.2 1751.7 541.8 1750.1 544.7 1749.6C547.7 1749.2 550.6 1749.2 553.6 1749.6C556.5 1750.1 559.7 1752 562.4 1752.5C565.2 1753.1 568 1753.3 570.2 1753C572.4 1752.7 574.8 1751.1 575.7 1750.7" fill="none" stroke="#4680ba" stroke-width="2.6" stroke-linecap="butt" stroke-linejoin="round"/>
<path d="M454.9 1734.8C456.6 1734.4 461.4 1732.3 464.9 1732.6C468.4 1732.8 472.3 1734.4 476 1736.3C479.7 1738.3 483.9 1741.8 487.1 1744.1C490.2 1746.4 492.1 1748.3 495.1 1750.3C498 1752.3 501.3 1754.7 504.8 1756.3C508.3 1757.9 512.6 1759.4 515.9 1760.1C519.2 1760.7 521.4 1760.7 524.8 1760.1C528.1 1759.4 532.1 1758 535.8 1756.3C539.5 1754.5 543.2 1751.6 546.9 1749.6C550.6 1747.7 554.7 1745.8 558 1744.5C561.3 1743.3 563.9 1742.8 566.9 1742.3C569.8 1741.9 574.3 1741.9 575.7 1741.9" fill="none" stroke="#392a86" stroke-width="2.6" stroke-linecap="butt" stroke-linejoin="round"/>
<line x1="495" y1="1775.8" x2="495" y2="1665.8" stroke="#000" stroke-width="2.9" stroke-dasharray="10.6 4.4"/>
<line x1="484.5" y1="1676.9" x2="536" y2="1676.9" stroke="#000" stroke-width="2.6"/>
<path d="M448.9 1665.8V1775.8H581.5" fill="none" stroke="#000" stroke-width="2.3" stroke-linecap="square" stroke-linejoin="miter"/>
<line x1="437" y1="1665.8" x2="447.9" y2="1665.8" stroke="#000" stroke-width="2.3"/>
<line x1="437" y1="1734.1" x2="447.9" y2="1734.1" stroke="#000" stroke-width="2.3"/>
<line x1="454.8" y1="1776.8" x2="454.8" y2="1787.7" stroke="#000" stroke-width="2.3"/>
<line x1="495" y1="1776.8" x2="495" y2="1787.7" stroke="#000" stroke-width="2.3"/>
<line x1="535.2" y1="1776.8" x2="535.2" y2="1787.7" stroke="#000" stroke-width="2.3"/>
<line x1="575.4" y1="1776.8" x2="575.4" y2="1787.7" stroke="#000" stroke-width="2.3"/>
<text x="515.2" y="1651.5" font-size="22.75" fill="#111" text-anchor="middle">flee start</text>
<text x="534.9" y="1672.7" font-size="22.5" fill="#111" text-anchor="middle">p=0.20</text>
<path d="M623 1745.2C624.3 1744.4 628.3 1741 631.2 1740.3C634 1739.6 637.1 1740.5 640 1741C643 1741.5 646.1 1743.4 648.9 1743.2C651.7 1743 654.3 1741.8 656.7 1739.7C659 1737.5 660.5 1734.4 662.9 1730.1C665.3 1725.9 668.2 1718.6 671.1 1714.2C673.9 1709.7 677 1705.7 679.9 1703.5C682.9 1701.3 685.8 1701.2 688.8 1700.9C691.8 1700.5 694.3 1700.6 697.7 1701.3C701 1702 705.1 1704 708.8 1705.3C712.4 1706.6 716.1 1707.4 719.8 1709.1C723.5 1710.7 728 1712.9 730.9 1715.3C733.9 1717.6 735.5 1720.4 737.6 1723C739.7 1725.6 742.6 1729.5 743.6 1730.8L743.6 1740.5C742.6 1739.5 739.7 1736.3 737.6 1734.1C735.5 1732 733.9 1729.8 730.9 1727.7C728 1725.6 723.5 1723.4 719.8 1721.5C716.1 1719.6 712.4 1717.9 708.8 1716.4C705.1 1714.9 701 1713.1 697.7 1712.4C694.3 1711.7 691.8 1711.4 688.8 1711.9C685.8 1712.5 682.9 1713.4 679.9 1715.9C677 1718.5 673.9 1723 671.1 1727.5C668.2 1731.9 665.3 1738.7 662.9 1742.5C660.5 1746.4 659 1749 656.7 1750.7C654.3 1752.5 651.7 1753 648.9 1753C646.1 1753 643 1751.2 640 1750.7C637.1 1750.3 634 1749.2 631.2 1750.1C628.3 1751 624.3 1755.3 623 1756.3Z" fill="rgba(85,130,225,0.31)"/>
<path d="M623 1744.1C624.3 1743.2 628.3 1739.3 631.2 1738.6C634 1737.8 637.1 1739 640 1739.7C643 1740.3 646.1 1742.8 648.9 1742.5C651.7 1742.2 654.3 1740.6 656.7 1737.9C659 1735.2 660.5 1731.7 662.9 1726.4C665.3 1721 668.2 1711.4 671.1 1706C673.9 1700.5 677 1696.3 679.9 1693.8C682.9 1691.3 685.8 1690.6 688.8 1690.9C691.8 1691.1 694.3 1692.9 697.7 1695.3C701 1697.7 705.1 1702.2 708.8 1705.3C712.4 1708.4 716.1 1711.1 719.8 1713.7C723.5 1716.3 728 1718.7 730.9 1720.8C733.9 1722.9 735.5 1724.6 737.6 1726.4C739.7 1728.1 742.6 1730.4 743.6 1731.2L743.6 1739.2C742.6 1738.4 739.7 1735.9 737.6 1734.3C735.5 1732.7 733.9 1731.5 730.9 1729.7C728 1727.9 723.5 1725.7 719.8 1723.5C716.1 1721.3 712.4 1718.9 708.8 1716.4C705.1 1713.9 701 1710.3 697.7 1708.6C694.3 1707 691.8 1706.3 688.8 1706.4C685.8 1706.5 682.9 1707 679.9 1709.3C677 1711.6 673.9 1715.1 671.1 1720.2C668.2 1725.2 665.3 1734.6 662.9 1739.7C660.5 1744.7 659 1748 656.7 1750.3C654.3 1752.6 651.7 1753.6 648.9 1753.6C646.1 1753.7 643 1751.4 640 1750.7C637.1 1750.1 634 1749.1 631.2 1749.6C628.3 1750.2 624.3 1753.1 623 1753.8Z" fill="rgba(62,50,135,0.33)"/>
<path d="M623 1750.7C624.3 1749.8 628.3 1746 631.2 1745.2C634 1744.4 637.1 1745.4 640 1745.9C643 1746.3 646.1 1748.2 648.9 1748.1C651.7 1748 654.3 1747.2 656.7 1745.2C659 1743.2 660.5 1740.4 662.9 1736.3C665.3 1732.3 668.2 1725.2 671.1 1720.8C673.9 1716.4 677 1712.1 679.9 1709.7C682.9 1707.3 685.8 1706.9 688.8 1706.4C691.8 1705.9 694.3 1706.1 697.7 1706.8C701 1707.6 705.1 1709.4 708.8 1710.8C712.4 1712.2 716.1 1713.5 719.8 1715.3C723.5 1717 728 1719.3 730.9 1721.5C733.9 1723.7 735.5 1726.2 737.6 1728.6C739.7 1730.9 742.6 1734.5 743.6 1735.7" fill="none" stroke="#4680ba" stroke-width="2.6" stroke-linecap="butt" stroke-linejoin="round"/>
<path d="M623 1749C624.3 1748.2 628.3 1744.7 631.2 1744.1C634 1743.5 637.1 1744.5 640 1745.2C643 1745.9 646.1 1748.3 648.9 1748.1C651.7 1747.9 654.3 1746.6 656.7 1744.1C659 1741.6 660.5 1738.2 662.9 1733C665.3 1727.8 668.2 1718.3 671.1 1713.1C673.9 1707.8 677 1703.9 679.9 1701.5C682.9 1699.1 685.8 1698.6 688.8 1698.6C691.8 1698.7 694.3 1699.9 697.7 1702C701 1704 705.1 1708.1 708.8 1710.8C712.4 1713.6 716.1 1716.2 719.8 1718.6C723.5 1721 728 1723.3 730.9 1725.2C733.9 1727.2 735.5 1728.7 737.6 1730.3C739.7 1732 742.6 1734.4 743.6 1735.2" fill="none" stroke="#392a86" stroke-width="2.6" stroke-linecap="butt" stroke-linejoin="round"/>
<line x1="663.1" y1="1775.8" x2="663.1" y2="1665.8" stroke="#000" stroke-width="2.9" stroke-dasharray="10.6 4.4"/>
<line x1="652.5" y1="1676.9" x2="704" y2="1676.9" stroke="#000" stroke-width="2.6"/>
<path d="M617 1665.8V1775.8H749.6" fill="none" stroke="#000" stroke-width="2.3" stroke-linecap="square" stroke-linejoin="miter"/>
<line x1="605.1" y1="1665.8" x2="616" y2="1665.8" stroke="#000" stroke-width="2.3"/>
<line x1="605.1" y1="1734.1" x2="616" y2="1734.1" stroke="#000" stroke-width="2.3"/>
<line x1="622.9" y1="1776.8" x2="622.9" y2="1787.7" stroke="#000" stroke-width="2.3"/>
<line x1="663.1" y1="1776.8" x2="663.1" y2="1787.7" stroke="#000" stroke-width="2.3"/>
<line x1="703.2" y1="1776.8" x2="703.2" y2="1787.7" stroke="#000" stroke-width="2.3"/>
<line x1="743.4" y1="1776.8" x2="743.4" y2="1787.7" stroke="#000" stroke-width="2.3"/>
<text x="683.3" y="1651.5" font-size="22.75" fill="#111" text-anchor="middle">flee end</text>
<text x="702.9" y="1672.7" font-size="22.5" fill="#111" text-anchor="middle">p=0.47</text>
<path d="M790.8 1734.1C792.7 1734.5 798 1736.3 802.1 1736.6C806.2 1736.9 810.6 1735.3 815.4 1735.9C820.2 1736.5 826.5 1739.2 830.9 1740.1C835.4 1741 838.7 1741.2 842 1741.2C845.3 1741.2 847.9 1740.8 850.9 1740.1C853.8 1739.4 856.4 1738.1 859.8 1736.8C863.1 1735.5 867.1 1733.6 870.8 1732.3C874.5 1731.1 878.2 1730 881.9 1729.5C885.6 1728.9 889.7 1729.1 893 1729C896.3 1729 898.8 1729.5 901.9 1729.2C904.9 1729 909.8 1727.8 911.4 1727.5L911.4 1738.6C909.8 1738.8 904.9 1739.8 901.9 1740.3C898.8 1740.8 896.3 1741.2 893 1741.4C889.7 1741.7 885.6 1741.3 881.9 1741.9C878.2 1742.4 874.5 1743.5 870.8 1744.8C867.1 1746 863.1 1747.9 859.8 1749.2C856.4 1750.5 853.8 1751.8 850.9 1752.5C847.9 1753.3 845.3 1753.6 842 1753.6C838.7 1753.6 835.4 1753.6 830.9 1752.5C826.5 1751.4 820.2 1748 815.4 1747C810.6 1745.9 806.2 1746.6 802.1 1746.3C798 1746 792.7 1745.4 790.8 1745.2Z" fill="rgba(85,130,225,0.31)"/>
<path d="M790.8 1734.3C792.7 1734.9 798 1736.8 802.1 1737.9C806.2 1739 810.6 1740.1 815.4 1741C820.2 1741.9 826.5 1742.9 830.9 1743.4C835.4 1743.9 838.7 1744.5 842 1744.1C845.3 1743.7 847.9 1743.1 850.9 1741.2C853.8 1739.4 856.8 1736.1 859.8 1733C862.7 1729.9 865.7 1725.5 868.6 1722.6C871.6 1719.7 874.7 1717 877.5 1715.7C880.3 1714.4 882.7 1714.3 885.2 1714.6C887.8 1714.9 890.2 1716.3 893 1717.5C895.8 1718.6 898.8 1720.9 901.9 1721.5C904.9 1722.1 909.8 1721.1 911.4 1721L911.4 1730.8C909.8 1730.9 904.9 1731.6 901.9 1731.2C898.8 1730.9 895.8 1729.3 893 1728.6C890.2 1727.9 887.8 1726.9 885.2 1727C882.7 1727.1 880.3 1727.4 877.5 1729C874.7 1730.6 871.6 1733.5 868.6 1736.8C865.7 1740 862.7 1745.2 859.8 1748.5C856.8 1751.9 853.8 1755.1 850.9 1756.7C847.9 1758.4 845.3 1758.6 842 1758.3C838.7 1757.9 835.4 1755.8 830.9 1754.5C826.5 1753.3 820.2 1752 815.4 1750.7C810.6 1749.4 806.2 1747.9 802.1 1746.8C798 1745.6 792.7 1744.5 790.8 1744.1Z" fill="rgba(62,50,135,0.33)"/>
<path d="M790.8 1739.7C792.7 1740 798 1741.1 802.1 1741.4C806.2 1741.7 810.6 1740.6 815.4 1741.4C820.2 1742.2 826.5 1745.3 830.9 1746.3C835.4 1747.3 838.7 1747.4 842 1747.4C845.3 1747.4 847.9 1747 850.9 1746.3C853.8 1745.6 856.4 1744.3 859.8 1743C863.1 1741.7 867.1 1739.8 870.8 1738.6C874.5 1737.3 878.2 1736.2 881.9 1735.7C885.6 1735.1 889.7 1735.4 893 1735.2C896.3 1735.1 898.8 1735.2 901.9 1734.8C904.9 1734.4 909.8 1733.3 911.4 1733" fill="none" stroke="#4680ba" stroke-width="2.6" stroke-linecap="butt" stroke-linejoin="round"/>
<path d="M790.8 1739.2C792.7 1739.7 798 1741.2 802.1 1742.3C806.2 1743.4 810.6 1744.8 815.4 1745.9C820.2 1747 826.5 1748.1 830.9 1749C835.4 1749.9 838.7 1751.2 842 1751.2C845.3 1751.2 847.9 1750.7 850.9 1749C853.8 1747.2 856.8 1744 859.8 1740.8C862.7 1737.6 865.7 1732.7 868.6 1729.7C871.6 1726.6 874.7 1723.8 877.5 1722.4C880.3 1720.9 882.7 1720.7 885.2 1720.8C887.8 1720.9 890.2 1722.1 893 1723C895.8 1724 898.8 1725.9 901.9 1726.4C904.9 1726.8 909.8 1726 911.4 1725.9" fill="none" stroke="#392a86" stroke-width="2.6" stroke-linecap="butt" stroke-linejoin="round"/>
<line x1="830.9" y1="1775.8" x2="830.9" y2="1665.8" stroke="#000" stroke-width="2.9" stroke-dasharray="10.6 4.4"/>
<line x1="820.4" y1="1676.9" x2="871.9" y2="1676.9" stroke="#000" stroke-width="2.6"/>
<path d="M784.8 1665.8V1775.8H917.4" fill="none" stroke="#000" stroke-width="2.3" stroke-linecap="square" stroke-linejoin="miter"/>
<line x1="772.9" y1="1665.8" x2="783.8" y2="1665.8" stroke="#000" stroke-width="2.3"/>
<line x1="772.9" y1="1734.1" x2="783.8" y2="1734.1" stroke="#000" stroke-width="2.3"/>
<line x1="790.7" y1="1776.8" x2="790.7" y2="1787.7" stroke="#000" stroke-width="2.3"/>
<line x1="830.9" y1="1776.8" x2="830.9" y2="1787.7" stroke="#000" stroke-width="2.3"/>
<line x1="871.1" y1="1776.8" x2="871.1" y2="1787.7" stroke="#000" stroke-width="2.3"/>
<line x1="911.3" y1="1776.8" x2="911.3" y2="1787.7" stroke="#000" stroke-width="2.3"/>
<text x="851.1" y="1651.5" font-size="22.75" fill="#111" text-anchor="middle">attacked start</text>
<text x="870.8" y="1672.7" font-size="22.5" fill="#111" text-anchor="middle">p=0.98</text>
<path d="M958.6 1750.1C959.3 1748.1 961.2 1741.7 962.8 1738.1C964.5 1734.5 966.5 1730.5 968.4 1728.6C970.2 1726.7 971.7 1726.5 973.9 1726.8C976.1 1727.1 979.1 1729.3 981.7 1730.3C984.3 1731.4 987.2 1733 989.4 1733C991.7 1733 993.4 1731.3 995 1730.1C996.6 1728.9 997.1 1728.7 999 1725.7C1000.8 1722.7 1003.4 1716.3 1006.1 1711.9C1008.7 1707.6 1012 1702.4 1014.9 1699.8C1017.9 1697.1 1020.8 1696 1023.8 1696C1026.8 1696 1029.3 1697.5 1032.7 1699.8C1036 1702 1040.1 1706.5 1043.8 1709.7C1047.4 1713 1051.1 1716.6 1054.8 1719.3C1058.5 1721.9 1061.9 1723.7 1065.9 1725.7C1070 1727.7 1077 1730.5 1079.2 1731.5L1079.2 1742.5C1077 1741.8 1070 1739.8 1065.9 1738.1C1061.9 1736.4 1058.5 1734.7 1054.8 1732.6C1051.1 1730.4 1047.4 1727.8 1043.8 1725.2C1040.1 1722.7 1036 1719.3 1032.7 1717.5C1029.3 1715.7 1026.8 1714.6 1023.8 1714.6C1020.8 1714.6 1017.9 1715.3 1014.9 1717.5C1012 1719.6 1008.7 1724 1006.1 1727.5C1003.4 1730.9 1000.8 1735.8 999 1738.1C997.1 1740.4 996.6 1740.4 995 1741.2C993.4 1742 991.7 1742.9 989.4 1742.8C987.2 1742.6 984.3 1741.3 981.7 1740.1C979.1 1738.9 976.1 1736.1 973.9 1735.7C971.7 1735.2 970.2 1735.4 968.4 1737.4C966.5 1739.5 964.5 1743.7 962.8 1747.9C961.2 1752 959.3 1760.1 958.6 1762.5Z" fill="rgba(85,130,225,0.31)"/>
<path d="M958.6 1752.3C959.3 1750.2 961.2 1743.4 962.8 1739.7C964.5 1736 966.5 1731.9 968.4 1730.1C970.2 1728.4 971.7 1728.2 973.9 1729C976.1 1729.8 979.1 1732.7 981.7 1734.8C984.3 1736.8 987.2 1740.6 989.4 1741.2C991.7 1741.8 993.4 1740.3 995 1738.6C996.6 1736.8 997.1 1734.9 999 1730.8C1000.8 1726.7 1003.4 1719.2 1006.1 1714.2C1008.7 1709.1 1012 1703.5 1014.9 1700.4C1017.9 1697.4 1020.8 1696.2 1023.8 1696C1026.8 1695.8 1029.3 1697 1032.7 1699.1C1036 1701.2 1040.1 1705.6 1043.8 1708.6C1047.4 1711.6 1051.1 1714.5 1054.8 1717C1058.5 1719.6 1061.9 1721.2 1065.9 1724.1C1070 1727.1 1077 1732.8 1079.2 1734.6L1079.2 1742.5C1077 1741 1070 1735.6 1065.9 1733C1061.9 1730.4 1058.5 1729 1054.8 1726.8C1051.1 1724.6 1047.4 1722.3 1043.8 1719.7C1040.1 1717.2 1036 1713.1 1032.7 1711.5C1029.3 1709.9 1026.8 1709.7 1023.8 1710.2C1020.8 1710.7 1017.9 1711.7 1014.9 1714.6C1012 1717.5 1008.7 1722.7 1006.1 1727.5C1003.4 1732.2 1000.8 1739.5 999 1743.2C997.1 1746.9 996.6 1748.1 995 1749.6C993.4 1751.1 991.7 1753.1 989.4 1752.3C987.2 1751.4 984.3 1747.1 981.7 1744.5C979.1 1742 976.1 1738.1 973.9 1737C971.7 1735.9 970.2 1736.2 968.4 1738.1C966.5 1740 964.5 1744.3 962.8 1748.5C961.2 1752.7 959.3 1760.9 958.6 1763.4Z" fill="rgba(62,50,135,0.33)"/>
<path d="M958.6 1756.3C959.3 1754.1 961.2 1746.9 962.8 1743C964.5 1739.1 966.5 1735 968.4 1733C970.2 1731.1 971.7 1730.9 973.9 1731.2C976.1 1731.6 979.1 1734.1 981.7 1735.2C984.3 1736.3 987.2 1737.8 989.4 1737.9C991.7 1738 993.4 1736.7 995 1735.7C996.6 1734.7 997.1 1734.6 999 1731.9C1000.8 1729.2 1003.4 1723.6 1006.1 1719.7C1008.7 1715.8 1012 1711 1014.9 1708.6C1017.9 1706.2 1020.8 1705.3 1023.8 1705.3C1026.8 1705.3 1029.3 1706.6 1032.7 1708.6C1036 1710.7 1040.1 1714.6 1043.8 1717.5C1047.4 1720.4 1051.1 1723.5 1054.8 1725.9C1058.5 1728.3 1061.9 1730.1 1065.9 1731.9C1070 1733.7 1077 1736.1 1079.2 1737" fill="none" stroke="#4680ba" stroke-width="2.6" stroke-linecap="butt" stroke-linejoin="round"/>
<path d="M958.6 1757.8C959.3 1755.5 961.2 1748 962.8 1744.1C964.5 1740.1 966.5 1736 968.4 1734.1C970.2 1732.3 971.7 1732.1 973.9 1733C976.1 1733.9 979.1 1737.4 981.7 1739.7C984.3 1741.9 987.2 1746 989.4 1746.8C991.7 1747.5 993.4 1745.7 995 1744.1C996.6 1742.5 997.1 1740.9 999 1737C1000.8 1733.1 1003.4 1725.7 1006.1 1720.8C1008.7 1715.9 1012 1710.5 1014.9 1707.5C1017.9 1704.6 1020.8 1703.5 1023.8 1703.1C1026.8 1702.7 1029.3 1703.5 1032.7 1705.3C1036 1707.1 1040.1 1711.4 1043.8 1714.2C1047.4 1716.9 1051.1 1719.5 1054.8 1721.9C1058.5 1724.3 1061.9 1725.8 1065.9 1728.6C1070 1731.3 1077 1736.9 1079.2 1738.6" fill="none" stroke="#392a86" stroke-width="2.6" stroke-linecap="butt" stroke-linejoin="round"/>
<line x1="998.9" y1="1775.8" x2="998.9" y2="1665.8" stroke="#000" stroke-width="2.9" stroke-dasharray="10.6 4.4"/>
<line x1="988.4" y1="1676.9" x2="1039.9" y2="1676.9" stroke="#000" stroke-width="2.6"/>
<path d="M952.9 1665.8V1775.8H1085.5" fill="none" stroke="#000" stroke-width="2.3" stroke-linecap="square" stroke-linejoin="miter"/>
<line x1="941" y1="1665.8" x2="951.9" y2="1665.8" stroke="#000" stroke-width="2.3"/>
<line x1="941" y1="1734.1" x2="951.9" y2="1734.1" stroke="#000" stroke-width="2.3"/>
<line x1="958.8" y1="1776.8" x2="958.8" y2="1787.7" stroke="#000" stroke-width="2.3"/>
<line x1="998.9" y1="1776.8" x2="998.9" y2="1787.7" stroke="#000" stroke-width="2.3"/>
<line x1="1039.1" y1="1776.8" x2="1039.1" y2="1787.7" stroke="#000" stroke-width="2.3"/>
<line x1="1079.3" y1="1776.8" x2="1079.3" y2="1787.7" stroke="#000" stroke-width="2.3"/>
<text x="1019.2" y="1651.5" font-size="22.75" fill="#111" text-anchor="middle">attacked end</text>
<text x="1038.8" y="1672.7" font-size="22.5" fill="#111" text-anchor="middle">p=0.76</text>
<path d="M1126.7 1737C1127.5 1735.9 1129.8 1731.8 1131.6 1730.3C1133.3 1728.9 1135.1 1727.8 1137.1 1728.1C1139.2 1728.5 1141.2 1730 1143.8 1732.6C1146.4 1735.2 1149.7 1740.6 1152.6 1743.6C1155.6 1746.7 1158.5 1749.2 1161.5 1750.7C1164.5 1752.3 1167 1753.1 1170.4 1753C1173.7 1752.8 1177.8 1751.9 1181.5 1750.1C1185.2 1748.2 1188.8 1745.2 1192.5 1741.9C1196.2 1738.6 1199.9 1734.2 1203.6 1730.3C1207.3 1726.5 1211 1722 1214.7 1718.6C1218.4 1715.2 1222.7 1711.8 1225.8 1710.2C1228.9 1708.6 1231.1 1708.1 1233.6 1709.1C1236 1710 1237.9 1712.7 1240.2 1715.9C1242.5 1719.2 1245.9 1726.5 1247.1 1728.6L1247.1 1739.7C1245.9 1738.1 1242.5 1732.4 1240.2 1730.1C1237.9 1727.8 1236 1726.4 1233.6 1725.9C1231.1 1725.4 1228.9 1725.7 1225.8 1727C1222.7 1728.4 1218.4 1731.2 1214.7 1734.1C1211 1737 1207.3 1741 1203.6 1744.5C1199.9 1748 1196.2 1752.2 1192.5 1755.2C1188.8 1758.2 1185.2 1761 1181.5 1762.5C1177.8 1764 1173.7 1764.2 1170.4 1764C1167 1763.9 1164.5 1763.6 1161.5 1761.8C1158.5 1760.1 1155.6 1756.7 1152.6 1753.4C1149.7 1750.2 1146.4 1744.9 1143.8 1742.3C1141.2 1739.7 1139.2 1738.3 1137.1 1737.9C1135.1 1737.5 1133.3 1738.6 1131.6 1740.1C1129.8 1741.6 1127.5 1745.6 1126.7 1746.8Z" fill="rgba(85,130,225,0.31)"/>
<path d="M1126.7 1738.3C1128.4 1738.6 1133.2 1739.2 1137.1 1739.7C1141.1 1740.1 1145.5 1741.2 1150.4 1741C1155.4 1740.8 1161.7 1739.7 1166.8 1738.6C1172 1737.4 1176.8 1735.7 1181.5 1734.1C1186.1 1732.6 1190.7 1731 1194.8 1729.2C1198.8 1727.5 1202.1 1725.5 1205.8 1723.7C1209.5 1721.9 1213.6 1719.9 1216.9 1718.6C1220.2 1717.3 1223 1716.3 1225.8 1715.9C1228.6 1715.6 1231.1 1715.6 1233.6 1716.6C1236 1717.6 1237.9 1719.6 1240.2 1721.9C1242.5 1724.3 1245.9 1729.3 1247.1 1730.8L1247.1 1738.8C1245.9 1737.4 1242.5 1732.9 1240.2 1730.8C1237.9 1728.7 1236 1727.2 1233.6 1726.4C1231.1 1725.5 1228.6 1725.1 1225.8 1725.7C1223 1726.2 1220.2 1727.7 1216.9 1729.7C1213.6 1731.7 1209.5 1734.9 1205.8 1737.9C1202.1 1740.9 1198.8 1744.8 1194.8 1747.9C1190.7 1750.9 1186.1 1754.5 1181.5 1756.3C1176.8 1758.1 1172 1758.7 1166.8 1758.5C1161.7 1758.3 1155.4 1756.5 1150.4 1755.2C1145.5 1753.9 1141.1 1752.2 1137.1 1750.7C1133.2 1749.3 1128.4 1747 1126.7 1746.3Z" fill="rgba(62,50,135,0.33)"/>
<path d="M1126.7 1741.9C1127.5 1740.8 1129.8 1736.7 1131.6 1735.2C1133.3 1733.7 1135.1 1732.6 1137.1 1733C1139.2 1733.4 1141.2 1734.9 1143.8 1737.4C1146.4 1740 1149.7 1745.4 1152.6 1748.5C1155.6 1751.7 1158.5 1754.6 1161.5 1756.3C1164.5 1757.9 1167 1758.5 1170.4 1758.5C1173.7 1758.5 1177.8 1757.9 1181.5 1756.3C1185.2 1754.6 1188.8 1751.7 1192.5 1748.5C1196.2 1745.4 1199.9 1741.1 1203.6 1737.4C1207.3 1733.7 1211 1729.5 1214.7 1726.4C1218.4 1723.2 1222.7 1720.1 1225.8 1718.6C1228.9 1717.1 1231.1 1716.8 1233.6 1717.5C1236 1718.2 1237.9 1720.3 1240.2 1723C1242.5 1725.8 1245.9 1732.3 1247.1 1734.1" fill="none" stroke="#4680ba" stroke-width="2.6" stroke-linecap="butt" stroke-linejoin="round"/>
<path d="M1126.7 1742.3C1128.4 1742.8 1133.2 1744.2 1137.1 1745.2C1141.1 1746.2 1145.5 1747.5 1150.4 1748.1C1155.4 1748.6 1161.7 1749 1166.8 1748.5C1172 1748 1176.8 1746.9 1181.5 1745.2C1186.1 1743.5 1190.7 1741 1194.8 1738.6C1198.8 1736.1 1202.1 1733.2 1205.8 1730.8C1209.5 1728.4 1213.6 1725.8 1216.9 1724.1C1220.2 1722.5 1223 1721.3 1225.8 1720.8C1228.6 1720.4 1231.1 1720.6 1233.6 1721.5C1236 1722.4 1237.9 1724.1 1240.2 1726.4C1242.5 1728.6 1245.9 1733.4 1247.1 1734.8" fill="none" stroke="#392a86" stroke-width="2.6" stroke-linecap="butt" stroke-linejoin="round"/>
<line x1="1166.8" y1="1775.8" x2="1166.8" y2="1665.8" stroke="#000" stroke-width="2.9" stroke-dasharray="10.6 4.4"/>
<line x1="1156.3" y1="1676.9" x2="1207.8" y2="1676.9" stroke="#000" stroke-width="2.6"/>
<path d="M1120.7 1665.8V1775.8H1253.3" fill="none" stroke="#000" stroke-width="2.3" stroke-linecap="square" stroke-linejoin="miter"/>
<line x1="1108.8" y1="1665.8" x2="1119.7" y2="1665.8" stroke="#000" stroke-width="2.3"/>
<line x1="1108.8" y1="1734.1" x2="1119.7" y2="1734.1" stroke="#000" stroke-width="2.3"/>
<line x1="1126.6" y1="1776.8" x2="1126.6" y2="1787.7" stroke="#000" stroke-width="2.3"/>
<line x1="1166.8" y1="1776.8" x2="1166.8" y2="1787.7" stroke="#000" stroke-width="2.3"/>
<line x1="1207" y1="1776.8" x2="1207" y2="1787.7" stroke="#000" stroke-width="2.3"/>
<line x1="1247.1" y1="1776.8" x2="1247.1" y2="1787.7" stroke="#000" stroke-width="2.3"/>
<text x="1187" y="1624.9" font-size="22.75" fill="#111" text-anchor="middle">investigated</text>
<text x="1190.5" y="1651.5" font-size="22.75" fill="#111" text-anchor="middle">start</text>
<text x="1206.7" y="1672.7" font-size="22.5" fill="#111" text-anchor="middle">p=0.31</text>
<path d="M1294.5 1725.9C1296.4 1726.1 1301.9 1726.8 1305.6 1726.8C1309.3 1726.8 1313 1726 1316.7 1725.7C1320.4 1725.4 1324.7 1725.1 1327.8 1725.2C1330.8 1725.4 1331.9 1726.4 1334.9 1726.4C1337.8 1726.3 1341.9 1725.6 1345.5 1725C1349.1 1724.5 1352.9 1724 1356.6 1723C1360.3 1722.1 1364 1720.3 1367.7 1719.3C1371.4 1718.3 1375.4 1717 1378.8 1717C1382.1 1717 1384.7 1718 1387.6 1719.3C1390.6 1720.5 1393.5 1723 1396.5 1724.6C1399.4 1726.1 1402.2 1728.3 1405.4 1728.6C1408.5 1728.9 1413.5 1726.7 1415.1 1726.4L1415.1 1741.9C1413.5 1741.7 1408.5 1741.8 1405.4 1741C1402.2 1740.2 1399.4 1738.4 1396.5 1737C1393.5 1735.6 1390.6 1733.5 1387.6 1732.6C1384.7 1731.6 1382.1 1731.1 1378.8 1731.2C1375.4 1731.4 1371.4 1732.6 1367.7 1733.5C1364 1734.3 1360.3 1735.7 1356.6 1736.3C1352.9 1737 1349.1 1737.3 1345.5 1737.4C1341.9 1737.6 1337.8 1737.6 1334.9 1737.4C1331.9 1737.3 1330.8 1736.4 1327.8 1736.3C1324.7 1736.2 1320.4 1736.3 1316.7 1736.8C1313 1737.3 1309.3 1738.8 1305.6 1739.2C1301.9 1739.6 1296.4 1739.2 1294.5 1739.2Z" fill="rgba(85,130,225,0.31)"/>
<path d="M1294.5 1736.8C1295.3 1735.7 1297.1 1732.2 1298.9 1730.1C1300.8 1728 1303 1725.6 1305.6 1724.1C1308.2 1722.7 1311.1 1721.5 1314.5 1721.5C1317.8 1721.5 1322.1 1723 1325.5 1724.1C1328.9 1725.2 1331.5 1727.1 1334.9 1728.1C1338.2 1729.2 1342.2 1730.1 1345.5 1730.3C1348.8 1730.6 1351 1730.6 1354.4 1729.9C1357.7 1729.2 1361.8 1727.5 1365.5 1726.4C1369.1 1725.2 1373.2 1723.8 1376.5 1723.3C1379.9 1722.7 1382.4 1722.7 1385.4 1723.3C1388.4 1723.8 1390.9 1725.4 1394.3 1726.4C1397.6 1727.4 1401.9 1729.4 1405.4 1729.2C1408.8 1729.1 1413.5 1726.3 1415.1 1725.7L1415.1 1738.1C1413.5 1738.3 1408.8 1739.3 1405.4 1739C1401.9 1738.7 1397.6 1737.1 1394.3 1736.1C1390.9 1735.1 1388.4 1733.5 1385.4 1733C1382.4 1732.5 1379.9 1732.5 1376.5 1733C1373.2 1733.5 1369.1 1735 1365.5 1736.1C1361.8 1737.2 1357.7 1739 1354.4 1739.7C1351 1740.3 1348.8 1740.4 1345.5 1740.1C1342.2 1739.8 1338.2 1738.9 1334.9 1737.9C1331.5 1736.9 1328.9 1735 1325.5 1733.9C1322.1 1732.8 1317.8 1731.4 1314.5 1731.2C1311.1 1731.1 1308.2 1731.9 1305.6 1733C1303 1734.2 1300.8 1736.1 1298.9 1738.1C1297.1 1740.1 1295.3 1743.6 1294.5 1744.8Z" fill="rgba(62,50,135,0.33)"/>
<path d="M1294.5 1732.6C1296.4 1732.6 1301.9 1733.2 1305.6 1733C1309.3 1732.8 1313 1731.6 1316.7 1731.2C1320.4 1730.9 1324.7 1730.7 1327.8 1730.8C1330.8 1730.9 1331.9 1731.8 1334.9 1731.9C1337.8 1732 1341.9 1731.6 1345.5 1731.2C1349.1 1730.9 1352.9 1730.5 1356.6 1729.7C1360.3 1728.9 1364 1727.3 1367.7 1726.4C1371.4 1725.4 1375.4 1724.2 1378.8 1724.1C1382.1 1724.1 1384.7 1724.8 1387.6 1725.9C1390.6 1727 1393.5 1729.3 1396.5 1730.8C1399.4 1732.3 1402.2 1734.2 1405.4 1734.8C1408.5 1735.3 1413.5 1734.2 1415.1 1734.1" fill="none" stroke="#4680ba" stroke-width="2.6" stroke-linecap="butt" stroke-linejoin="round"/>
<path d="M1294.5 1740.8C1295.3 1739.7 1297.1 1736.1 1298.9 1734.1C1300.8 1732.1 1303 1729.9 1305.6 1728.6C1308.2 1727.3 1311.1 1726.3 1314.5 1726.4C1317.8 1726.4 1322.1 1727.9 1325.5 1729C1328.9 1730.1 1331.5 1732 1334.9 1733C1338.2 1734 1342.2 1734.9 1345.5 1735.2C1348.8 1735.5 1351 1735.4 1354.4 1734.8C1357.7 1734.1 1361.8 1732.3 1365.5 1731.2C1369.1 1730.1 1373.2 1728.6 1376.5 1728.1C1379.9 1727.6 1382.4 1727.6 1385.4 1728.1C1388.4 1728.6 1390.9 1730.2 1394.3 1731.2C1397.6 1732.2 1401.9 1734 1405.4 1734.1C1408.8 1734.2 1413.5 1732.3 1415.1 1731.9" fill="none" stroke="#392a86" stroke-width="2.6" stroke-linecap="butt" stroke-linejoin="round"/>
<line x1="1334.8" y1="1775.8" x2="1334.8" y2="1665.8" stroke="#000" stroke-width="2.9" stroke-dasharray="10.6 4.4"/>
<line x1="1324.3" y1="1676.9" x2="1375.8" y2="1676.9" stroke="#000" stroke-width="2.6"/>
<path d="M1288.7 1665.8V1775.8H1421.3" fill="none" stroke="#000" stroke-width="2.3" stroke-linecap="square" stroke-linejoin="miter"/>
<line x1="1276.8" y1="1665.8" x2="1287.7" y2="1665.8" stroke="#000" stroke-width="2.3"/>
<line x1="1276.8" y1="1734.1" x2="1287.7" y2="1734.1" stroke="#000" stroke-width="2.3"/>
<line x1="1294.6" y1="1776.8" x2="1294.6" y2="1787.7" stroke="#000" stroke-width="2.3"/>
<line x1="1334.8" y1="1776.8" x2="1334.8" y2="1787.7" stroke="#000" stroke-width="2.3"/>
<line x1="1375" y1="1776.8" x2="1375" y2="1787.7" stroke="#000" stroke-width="2.3"/>
<line x1="1415.2" y1="1776.8" x2="1415.2" y2="1787.7" stroke="#000" stroke-width="2.3"/>
<text x="1355" y="1624.9" font-size="22.75" fill="#111" text-anchor="middle">investigated</text>
<text x="1358.5" y="1651.5" font-size="22.75" fill="#111" text-anchor="middle">end</text>
<text x="1374.7" y="1672.7" font-size="22.5" fill="#111" text-anchor="middle">p=0.46</text>
<text transform="translate(45.6 1721.5) rotate(-90)" font-size="22.5" fill="#111" text-anchor="middle">Weights</text>
<rect x="1439.4" y="1718.8" width="42.5" height="15.4" fill="#c5c0de" stroke="#b0abc9" stroke-width="1"/>
<text x="1497.7" y="1734" font-size="20.6" fill="#111">posterior (n=10)</text>
<rect x="1439.4" y="1749.6" width="42.5" height="15.4" fill="#d7def3" stroke="#c9d0e6" stroke-width="1"/>
<text x="1497.7" y="1764.8" font-size="20.6" fill="#111">anterior (n=9)</text>
<path d="M119.3 1931.2C121 1931.4 125.9 1932.1 129.9 1932.3C133.9 1932.6 138 1933.1 143.2 1932.6C148.4 1932 156.2 1930.3 161.4 1929C166.6 1927.7 169.9 1925.8 174.2 1924.6C178.6 1923.4 183.1 1922 187.5 1921.9C192 1921.9 196.4 1922.9 200.8 1924.1C205.3 1925.4 210.1 1927.6 214.1 1929.2C218.2 1930.9 221.9 1933 225.2 1933.9C228.6 1934.8 230.8 1934.9 234.1 1934.6C237.4 1934.2 243.3 1932.2 245.2 1931.7L245.2 1944.1C243.3 1944.6 237.4 1946.6 234.1 1947C230.8 1947.3 228.6 1946.9 225.2 1946.3C221.9 1945.7 218.2 1944.3 214.1 1943.4C210.1 1942.5 205.3 1941.5 200.8 1941C196.4 1940.5 192 1940.5 187.5 1940.5C183.1 1940.6 178.6 1941.1 174.2 1941.4C169.9 1941.7 166.6 1942.3 161.4 1942.3C156.2 1942.3 148.4 1942 143.2 1941.4C138 1940.9 133.9 1939.4 129.9 1939C125.9 1938.6 121 1939.2 119.3 1939.2Z" fill="rgba(85,130,225,0.31)"/>
<path d="M119.3 1949C120.7 1947.4 124.4 1942.6 127.7 1939.7C130.9 1936.7 135.1 1933.3 138.8 1931.2C142.5 1929.1 146.1 1928.1 149.9 1927C153.6 1926 157.3 1925.7 161.4 1924.8C165.4 1923.9 169.9 1922.5 174.2 1921.5C178.6 1920.4 183.5 1919.4 187.5 1918.6C191.6 1917.7 195.3 1916.6 198.6 1916.4C201.9 1916.2 204.5 1916.3 207.5 1917.5C210.4 1918.7 213.4 1921.1 216.4 1923.5C219.3 1925.8 222.3 1929.4 225.2 1931.5C228.2 1933.5 231.5 1935.5 234.1 1935.7C236.7 1935.9 238.9 1934 240.7 1932.6C242.6 1931.1 244.4 1927.9 245.2 1927L245.2 1936.8C244.4 1937.7 242.6 1941 240.7 1942.3C238.9 1943.6 236.7 1944.7 234.1 1944.5C231.5 1944.4 228.2 1942.7 225.2 1941.2C222.3 1939.8 219.3 1937.3 216.4 1935.9C213.4 1934.5 210.4 1933.3 207.5 1933C204.5 1932.7 201.9 1933.2 198.6 1934.1C195.3 1935 191.6 1937 187.5 1938.6C183.5 1940.1 178.6 1942.6 174.2 1943.6C169.9 1944.7 165.4 1944.9 161.4 1944.8C157.3 1944.6 153.6 1942.7 149.9 1942.5C146.1 1942.4 142.5 1942.7 138.8 1943.6C135.1 1944.6 130.9 1946.3 127.7 1948.5C124.4 1950.7 120.7 1955.5 119.3 1956.9Z" fill="rgba(62,50,135,0.33)"/>
<path d="M119.3 1935.2C121 1935.3 125.9 1935.4 129.9 1935.7C133.9 1936 138 1937 143.2 1937C148.4 1937 156.2 1936.3 161.4 1935.7C166.6 1935 169.9 1933.7 174.2 1933C178.6 1932.3 183.1 1931.3 187.5 1931.2C192 1931.2 196.4 1931.7 200.8 1932.6C205.3 1933.4 210.1 1935.1 214.1 1936.3C218.2 1937.6 221.9 1939.4 225.2 1940.1C228.6 1940.8 230.8 1941.1 234.1 1940.8C237.4 1940.4 243.3 1938.4 245.2 1937.9" fill="none" stroke="#4680ba" stroke-width="2.6" stroke-linecap="butt" stroke-linejoin="round"/>
<path d="M119.3 1953C120.7 1951.5 124.4 1946.7 127.7 1944.1C130.9 1941.5 135.1 1939 138.8 1937.4C142.5 1935.9 146.1 1935.2 149.9 1934.8C153.6 1934.3 157.3 1935.2 161.4 1934.8C165.4 1934.4 169.9 1933.6 174.2 1932.6C178.6 1931.5 183.5 1929.8 187.5 1928.6C191.6 1927.4 195.3 1925.8 198.6 1925.2C201.9 1924.7 204.5 1924.5 207.5 1925.2C210.4 1926 213.4 1927.8 216.4 1929.7C219.3 1931.5 222.3 1934.6 225.2 1936.3C228.2 1938.1 231.5 1939.9 234.1 1940.1C236.7 1940.3 238.9 1938.8 240.7 1937.4C242.6 1936.1 244.4 1932.8 245.2 1931.9" fill="none" stroke="#392a86" stroke-width="2.6" stroke-linecap="butt" stroke-linejoin="round"/>
<line x1="161.1" y1="1981.8" x2="161.1" y2="1872" stroke="#000" stroke-width="2.9" stroke-dasharray="10.6 4.4"/>
<line x1="150.1" y1="1883.1" x2="204.1" y2="1883.1" stroke="#000" stroke-width="2.6"/>
<path d="M112.8 1872V1981.8H251.8" fill="none" stroke="#000" stroke-width="2.3" stroke-linecap="square" stroke-linejoin="miter"/>
<line x1="100.9" y1="1872" x2="111.8" y2="1872" stroke="#000" stroke-width="2.3"/>
<text x="92.2" y="1880.3" font-size="20.0" fill="#111" text-anchor="end">0.5</text>
<line x1="100.9" y1="1940.1" x2="111.8" y2="1940.1" stroke="#000" stroke-width="2.3"/>
<text x="92.2" y="1948.4" font-size="20.0" fill="#111" text-anchor="end">0.0</text>
<line x1="119" y1="1982.8" x2="119" y2="1993.7" stroke="#000" stroke-width="2.3"/>
<line x1="161.1" y1="1982.8" x2="161.1" y2="1993.7" stroke="#000" stroke-width="2.3"/>
<line x1="203.3" y1="1982.8" x2="203.3" y2="1993.7" stroke="#000" stroke-width="2.3"/>
<line x1="245.4" y1="1982.8" x2="245.4" y2="1993.7" stroke="#000" stroke-width="2.3"/>
<text x="182.3" y="1857.5" font-size="22.75" fill="#111" text-anchor="middle">fight-back start</text>
<text x="203" y="1879" font-size="22.5" fill="#111" text-anchor="middle">p=0.89</text>
<path d="M292.8 1938.3C294.5 1938.8 299.3 1940.2 302.8 1941.2C306.3 1942.2 310.2 1943.5 313.9 1944.1C317.6 1944.7 321.5 1945.3 325 1944.8C328.5 1944.2 331.6 1942.8 335 1941C338.3 1939.1 341.4 1935.6 344.9 1933.7C348.4 1931.7 352.3 1930.1 356 1929.2C359.7 1928.4 363.4 1928.1 367.1 1928.6C370.8 1929.1 374.5 1931 378.2 1932.3C381.9 1933.7 385.6 1935.8 389.3 1936.8C393 1937.8 396.7 1938.4 400.4 1938.3C404 1938.2 408.4 1937 411.4 1936.1C414.5 1935.2 417.3 1933.5 418.5 1933L418.5 1945.4C417.3 1945.9 414.5 1947.6 411.4 1948.5C408.4 1949.4 404 1950.6 400.4 1950.7C396.7 1950.9 393 1949.7 389.3 1949.2C385.6 1948.7 381.9 1948.2 378.2 1947.9C374.5 1947.5 370.8 1947.2 367.1 1947.2C363.4 1947.2 359.7 1947.5 356 1947.9C352.3 1948.2 348.4 1948.7 344.9 1949.2C341.4 1949.7 338.3 1950.4 335 1950.7C331.6 1951.1 328.5 1951.4 325 1951.4C321.5 1951.4 317.6 1951.3 313.9 1950.7C310.2 1950.2 306.3 1948.6 302.8 1947.9C299.3 1947.1 294.5 1946.6 292.8 1946.3Z" fill="rgba(85,130,225,0.31)"/>
<path d="M292.8 1953.4C294.1 1952.7 297.5 1950.1 300.6 1949.4C303.7 1948.7 308 1949.7 311.7 1949.4C315.4 1949.2 319.8 1948.7 322.8 1947.9C325.7 1947 327.4 1945.7 329.4 1944.1C331.4 1942.5 332.7 1941.5 335 1938.1C337.2 1934.7 340.1 1927.7 342.7 1923.7C345.3 1919.7 348.1 1916.2 350.5 1914.2C352.9 1912.1 354.7 1911.3 357.1 1911.5C359.5 1911.7 362.1 1912.5 364.9 1915.3C367.7 1918 370.8 1924.4 373.8 1928.1C376.7 1931.8 379.3 1934.9 382.6 1937.4C385.9 1940 389.6 1942.3 393.7 1943.4C397.8 1944.5 402.9 1944.1 407 1944.1C411.1 1944.1 416.6 1943.7 418.5 1943.6L418.5 1952.5C416.6 1952.7 411.1 1953.5 407 1953.8C402.9 1954.2 397.8 1955.2 393.7 1954.5C389.6 1953.8 385.9 1951.9 382.6 1949.9C379.3 1947.8 376.7 1945.1 373.8 1942.3C370.8 1939.5 367.7 1935 364.9 1933C362.1 1931 359.5 1930.3 357.1 1930.1C354.7 1929.9 352.9 1930.6 350.5 1931.9C348.1 1933.2 345.3 1935.2 342.7 1937.9C340.1 1940.5 337.2 1945.3 335 1947.9C332.7 1950.4 331.4 1951.6 329.4 1953C327.4 1954.3 325.7 1955.1 322.8 1955.8C319.8 1956.6 315.4 1957.1 311.7 1957.4C308 1957.7 303.7 1956.7 300.6 1957.4C297.5 1958.1 294.1 1960.7 292.8 1961.4Z" fill="rgba(62,50,135,0.33)"/>
<path d="M292.8 1942.3C294.5 1942.7 299.3 1943.7 302.8 1944.5C306.3 1945.4 310.2 1946.8 313.9 1947.4C317.6 1948 321.5 1948.3 325 1948.1C328.5 1947.8 331.6 1947 335 1945.9C338.3 1944.8 341.4 1942.7 344.9 1941.4C348.4 1940.2 352.3 1939.1 356 1938.6C359.7 1938 363.4 1937.6 367.1 1937.9C370.8 1938.1 374.5 1939.3 378.2 1940.1C381.9 1941 385.6 1942.2 389.3 1943C393 1943.7 396.7 1944.6 400.4 1944.5C404 1944.4 408.4 1943.2 411.4 1942.3C414.5 1941.4 417.3 1939.7 418.5 1939.2" fill="none" stroke="#4680ba" stroke-width="2.6" stroke-linecap="butt" stroke-linejoin="round"/>
<path d="M292.8 1957.4C294.1 1956.7 297.5 1954.1 300.6 1953.4C303.7 1952.7 308 1953.7 311.7 1953.4C315.4 1953.1 319.8 1952.7 322.8 1951.9C325.7 1951 327.4 1950 329.4 1948.5C331.4 1947 332.7 1945.9 335 1943C337.2 1940 340.1 1934.1 342.7 1930.8C345.3 1927.5 348.1 1924.7 350.5 1923C352.9 1921.4 354.7 1920.6 357.1 1920.8C359.5 1921 362.1 1921.7 364.9 1924.1C367.7 1926.5 370.8 1932 373.8 1935.2C376.7 1938.5 379.3 1941.4 382.6 1943.6C385.9 1945.9 389.6 1948.1 393.7 1949C397.8 1949.9 402.9 1949.1 407 1949C411.1 1948.8 416.6 1948.2 418.5 1948.1" fill="none" stroke="#392a86" stroke-width="2.6" stroke-linecap="butt" stroke-linejoin="round"/>
<line x1="335.2" y1="1981.8" x2="335.2" y2="1872" stroke="#000" stroke-width="2.9" stroke-dasharray="10.6 4.4"/>
<line x1="324.1" y1="1883.1" x2="378.1" y2="1883.1" stroke="#000" stroke-width="2.6"/>
<path d="M286.9 1872V1981.8H425.9" fill="none" stroke="#000" stroke-width="2.3" stroke-linecap="square" stroke-linejoin="miter"/>
<line x1="275" y1="1872" x2="285.9" y2="1872" stroke="#000" stroke-width="2.3"/>
<line x1="275" y1="1940.1" x2="285.9" y2="1940.1" stroke="#000" stroke-width="2.3"/>
<line x1="293" y1="1982.8" x2="293" y2="1993.7" stroke="#000" stroke-width="2.3"/>
<line x1="335.2" y1="1982.8" x2="335.2" y2="1993.7" stroke="#000" stroke-width="2.3"/>
<line x1="377.3" y1="1982.8" x2="377.3" y2="1993.7" stroke="#000" stroke-width="2.3"/>
<line x1="419.4" y1="1982.8" x2="419.4" y2="1993.7" stroke="#000" stroke-width="2.3"/>
<text x="356.4" y="1857.5" font-size="22.75" fill="#111" text-anchor="middle">fight-back end</text>
<text x="377" y="1879" font-size="22.5" fill="#111" text-anchor="middle">p=0.35</text>
<path d="M466.3 1932.3C468.1 1932.6 473.5 1933.6 477.1 1933.9C480.8 1934.2 484.5 1933.3 488.2 1934.1C491.9 1934.9 496 1936.6 499.3 1938.6C502.6 1940.5 504.8 1943.2 508.2 1945.9C511.5 1948.6 515.9 1952.4 519.2 1954.7C522.6 1957 525.5 1958.9 528.1 1959.6C530.7 1960.3 532.2 1960.2 534.8 1958.9C537.3 1957.7 540.7 1954.5 543.6 1952.3C546.6 1950.1 549.7 1947.1 552.5 1945.6C555.3 1944.2 557.7 1943.3 560.2 1943.4C562.8 1943.5 565.2 1945 568 1946.3C570.8 1947.6 573.9 1950.2 576.9 1951.4C579.8 1952.6 583.2 1953.6 585.7 1953.6C588.3 1953.7 590.9 1952 591.9 1951.6L591.9 1964C590.9 1964.2 588.3 1965 585.7 1964.7C583.2 1964.4 579.8 1963.7 576.9 1962.5C573.9 1961.3 570.8 1958.7 568 1957.4C565.2 1956.1 562.8 1954.6 560.2 1954.5C557.7 1954.4 555.3 1955.3 552.5 1956.7C549.7 1958.2 546.6 1961.2 543.6 1963.4C540.7 1965.6 537.3 1968.6 534.8 1970C532.2 1971.5 530.7 1972.4 528.1 1972C525.5 1971.7 522.6 1970.2 519.2 1968C515.9 1965.9 511.5 1961.9 508.2 1959.2C504.8 1956.5 502.6 1953.8 499.3 1951.9C496 1949.9 491.9 1948.3 488.2 1947.4C484.5 1946.5 480.8 1947 477.1 1946.3C473.5 1945.6 468.1 1943.9 466.3 1943.4Z" fill="rgba(85,130,225,0.31)"/>
<path d="M466.3 1936.3C467.3 1934.8 470.1 1929.3 472.7 1927C475.2 1924.8 478.6 1923 481.6 1922.8C484.5 1922.6 487.5 1923.9 490.4 1925.7C493.4 1927.5 496.3 1930.6 499.3 1933.5C502.2 1936.3 504.8 1939.6 508.2 1942.8C511.5 1945.9 515.5 1949.7 519.2 1952.3C522.9 1954.9 526.6 1956.9 530.3 1958.3C534 1959.6 537.7 1960.2 541.4 1960.5C545.1 1960.8 548.8 1961.2 552.5 1960.3C556.2 1959.4 559.9 1957 563.6 1955.2C567.3 1953.3 571.3 1950.9 574.7 1949.2C578 1947.5 580.6 1946.2 583.5 1945.2C586.4 1944.2 590.5 1943.7 591.9 1943.4L591.9 1951.4C590.5 1951.9 586.4 1952.8 583.5 1954.1C580.6 1955.3 578 1956.9 574.7 1958.9C571.3 1961 567.3 1964.2 563.6 1966.3C559.9 1968.3 556.2 1970.3 552.5 1971.4C548.8 1972.5 545.1 1973 541.4 1972.9C537.7 1972.8 534 1972.1 530.3 1970.7C526.6 1969.3 522.9 1967.3 519.2 1964.7C515.5 1962.1 511.5 1958.3 508.2 1955.2C504.8 1952 502.2 1948.7 499.3 1945.9C496.3 1943 493.4 1939.9 490.4 1938.1C487.5 1936.3 484.5 1935.2 481.6 1935.2C478.6 1935.2 475.2 1936.4 472.7 1938.1C470.1 1939.8 467.3 1944 466.3 1945.2Z" fill="rgba(62,50,135,0.33)"/>
<path d="M466.3 1937.9C468.1 1938.3 473.5 1939.6 477.1 1940.1C480.8 1940.6 484.5 1939.9 488.2 1940.8C491.9 1941.6 496 1943.2 499.3 1945.2C502.6 1947.2 504.8 1949.8 508.2 1952.5C511.5 1955.2 515.9 1959.2 519.2 1961.4C522.6 1963.6 525.5 1965.3 528.1 1965.8C530.7 1966.3 532.2 1965.8 534.8 1964.5C537.3 1963.2 540.7 1960.1 543.6 1957.8C546.6 1955.6 549.7 1952.7 552.5 1951.2C555.3 1949.7 557.7 1948.9 560.2 1949C562.8 1949.1 565.2 1950.5 568 1951.9C570.8 1953.2 573.9 1955.7 576.9 1956.9C579.8 1958.2 583.2 1959 585.7 1959.2C588.3 1959.3 590.9 1958.1 591.9 1957.8" fill="none" stroke="#4680ba" stroke-width="2.6" stroke-linecap="butt" stroke-linejoin="round"/>
<path d="M466.3 1940.8C467.3 1939.4 470.1 1934.5 472.7 1932.6C475.2 1930.6 478.6 1929.1 481.6 1929C484.5 1928.9 487.5 1930.1 490.4 1931.9C493.4 1933.7 496.3 1936.8 499.3 1939.7C502.2 1942.5 504.8 1945.8 508.2 1949C511.5 1952.1 515.5 1955.9 519.2 1958.5C522.9 1961.1 526.6 1963.1 530.3 1964.5C534 1965.9 537.7 1966.5 541.4 1966.7C545.1 1966.9 548.8 1966.8 552.5 1965.8C556.2 1964.8 559.9 1962.7 563.6 1960.7C567.3 1958.8 571.3 1955.9 574.7 1954.1C578 1952.2 580.6 1950.7 583.5 1949.6C586.4 1948.5 590.5 1947.8 591.9 1947.4" fill="none" stroke="#392a86" stroke-width="2.6" stroke-linecap="butt" stroke-linejoin="round"/>
<line x1="508.4" y1="1981.8" x2="508.4" y2="1872" stroke="#000" stroke-width="2.9" stroke-dasharray="10.6 4.4"/>
<line x1="497.3" y1="1883.1" x2="551.3" y2="1883.1" stroke="#000" stroke-width="2.6"/>
<path d="M460 1872V1981.8H599" fill="none" stroke="#000" stroke-width="2.3" stroke-linecap="square" stroke-linejoin="miter"/>
<line x1="448.1" y1="1872" x2="459" y2="1872" stroke="#000" stroke-width="2.3"/>
<line x1="448.1" y1="1940.1" x2="459" y2="1940.1" stroke="#000" stroke-width="2.3"/>
<line x1="466.2" y1="1982.8" x2="466.2" y2="1993.7" stroke="#000" stroke-width="2.3"/>
<line x1="508.4" y1="1982.8" x2="508.4" y2="1993.7" stroke="#000" stroke-width="2.3"/>
<line x1="550.5" y1="1982.8" x2="550.5" y2="1993.7" stroke="#000" stroke-width="2.3"/>
<line x1="592.6" y1="1982.8" x2="592.6" y2="1993.7" stroke="#000" stroke-width="2.3"/>
<text x="529.5" y="1857.5" font-size="22.75" fill="#111" text-anchor="middle">flee start</text>
<text x="550.2" y="1879" font-size="22.5" fill="#111" text-anchor="middle">p=0.88</text>
<path d="M639.4 1950.7C640.4 1950.4 643.1 1948.5 645.6 1948.5C648.1 1948.5 651.5 1950.5 654.5 1950.7C657.4 1951 660.4 1951.1 663.3 1949.9C666.3 1948.6 669.2 1947 672.2 1943.4C675.2 1939.9 678.6 1934 681.5 1928.6C684.5 1923.1 687.1 1915.8 689.9 1910.8C692.8 1905.9 695.8 1901.8 698.8 1899.1C701.8 1896.4 704.7 1894.9 707.7 1894.7C710.6 1894.4 713.6 1895.8 716.5 1897.5C719.5 1899.3 721.7 1902.3 725.4 1905.3C729.1 1908.3 734.3 1912 738.7 1915.3C743.1 1918.5 747.6 1921.4 752 1924.8C756.4 1928.2 763.1 1934 765.3 1935.9L765.3 1945.6C763.1 1943.8 756.4 1937.8 752 1934.6C747.6 1931.3 743.1 1929 738.7 1926.4C734.3 1923.7 729.1 1920.8 725.4 1918.6C721.7 1916.4 719.5 1914.2 716.5 1913.1C713.6 1911.9 710.6 1911 707.7 1911.5C704.7 1912 701.8 1913.5 698.8 1915.9C695.8 1918.4 692.8 1922 689.9 1926.4C687.1 1930.7 684.5 1937.2 681.5 1941.9C678.6 1946.6 675.2 1951.6 672.2 1954.5C669.2 1957.5 666.3 1958.6 663.3 1959.6C660.4 1960.6 657.4 1960.7 654.5 1960.5C651.5 1960.3 648.1 1958.1 645.6 1958.3C643.1 1958.5 640.4 1961.2 639.4 1961.8Z" fill="rgba(85,130,225,0.31)"/>
<path d="M639.4 1953C640.2 1951.7 642.7 1947.2 644.5 1945.6C646.3 1944.1 647.6 1943.1 650 1943.4C652.4 1943.7 655.9 1946.1 658.9 1947.4C661.9 1948.8 665 1951.2 667.8 1951.6C670.5 1952.1 673.2 1951.6 675.5 1950.1C677.8 1948.5 679.1 1946.2 681.5 1942.3C683.9 1938.4 687.1 1931.4 689.9 1926.8C692.8 1922.2 695.8 1917.7 698.8 1914.6C701.8 1911.5 704.7 1909.2 707.7 1908C710.6 1906.7 713.6 1906.8 716.5 1907.1C719.5 1907.4 721.7 1908 725.4 1909.7C729.1 1911.5 734.3 1914.7 738.7 1917.5C743.1 1920.3 747.6 1923 752 1926.4C756.4 1929.8 763.1 1936 765.3 1937.9L765.3 1945.9C763.1 1944.1 756.4 1938.3 752 1935.2C747.6 1932.1 743.1 1929.6 738.7 1927.2C734.3 1924.8 729.1 1922.3 725.4 1920.8C721.7 1919.3 719.5 1918.2 716.5 1918.2C713.6 1918.1 710.6 1918.9 707.7 1920.4C704.7 1921.9 701.8 1923.9 698.8 1927C695.8 1930.2 692.8 1934.6 689.9 1939.2C687.1 1943.8 683.9 1950.9 681.5 1954.7C679.1 1958.6 677.8 1960.9 675.5 1962.5C673.2 1964 670.5 1964.7 667.8 1964C665 1963.4 661.9 1960.1 658.9 1958.5C655.9 1956.9 652.4 1954.8 650 1954.5C647.6 1954.2 646.3 1955.4 644.5 1956.7C642.7 1958.1 640.2 1961.7 639.4 1962.7Z" fill="rgba(62,50,135,0.33)"/>
<path d="M639.4 1956.3C640.4 1955.8 643.1 1953.5 645.6 1953.4C648.1 1953.3 651.5 1955.4 654.5 1955.6C657.4 1955.8 660.4 1955.8 663.3 1954.7C666.3 1953.6 669.2 1952.2 672.2 1949C675.2 1945.7 678.6 1940.3 681.5 1935.2C684.5 1930.2 687.1 1923.2 689.9 1918.6C692.8 1914 695.8 1910.1 698.8 1907.5C701.8 1904.9 704.7 1903.5 707.7 1903.1C710.6 1902.7 713.6 1903.8 716.5 1905.3C719.5 1906.8 721.7 1909.4 725.4 1911.9C729.1 1914.5 734.3 1917.9 738.7 1920.8C743.1 1923.8 747.6 1926.4 752 1929.7C756.4 1933 763.1 1938.9 765.3 1940.8" fill="none" stroke="#4680ba" stroke-width="2.6" stroke-linecap="butt" stroke-linejoin="round"/>
<path d="M639.4 1957.8C640.2 1956.7 642.7 1952.7 644.5 1951.2C646.3 1949.7 647.6 1948.7 650 1949C652.4 1949.3 655.9 1951.5 658.9 1953C661.9 1954.4 665 1957.3 667.8 1957.8C670.5 1958.4 673.2 1957.8 675.5 1956.3C677.8 1954.7 679.1 1952.4 681.5 1948.5C683.9 1944.6 687.1 1937.6 689.9 1933C692.8 1928.4 695.8 1924 698.8 1920.8C701.8 1917.7 704.7 1915.5 707.7 1914.2C710.6 1912.8 713.6 1912.4 716.5 1912.6C719.5 1912.8 721.7 1913.6 725.4 1915.3C729.1 1916.9 734.3 1919.8 738.7 1922.4C743.1 1925 747.6 1927.5 752 1930.8C756.4 1934 763.1 1940 765.3 1941.9" fill="none" stroke="#392a86" stroke-width="2.6" stroke-linecap="butt" stroke-linejoin="round"/>
<line x1="681.7" y1="1981.8" x2="681.7" y2="1872" stroke="#000" stroke-width="2.9" stroke-dasharray="10.6 4.4"/>
<line x1="670.7" y1="1883.1" x2="724.7" y2="1883.1" stroke="#000" stroke-width="2.6"/>
<path d="M633.4 1872V1981.8H772.4" fill="none" stroke="#000" stroke-width="2.3" stroke-linecap="square" stroke-linejoin="miter"/>
<line x1="621.5" y1="1872" x2="632.4" y2="1872" stroke="#000" stroke-width="2.3"/>
<line x1="621.5" y1="1940.1" x2="632.4" y2="1940.1" stroke="#000" stroke-width="2.3"/>
<line x1="639.6" y1="1982.8" x2="639.6" y2="1993.7" stroke="#000" stroke-width="2.3"/>
<line x1="681.7" y1="1982.8" x2="681.7" y2="1993.7" stroke="#000" stroke-width="2.3"/>
<line x1="723.8" y1="1982.8" x2="723.8" y2="1993.7" stroke="#000" stroke-width="2.3"/>
<line x1="765.9" y1="1982.8" x2="765.9" y2="1993.7" stroke="#000" stroke-width="2.3"/>
<text x="702.9" y="1857.5" font-size="22.75" fill="#111" text-anchor="middle">flee end</text>
<text x="723.5" y="1879" font-size="22.5" fill="#111" text-anchor="middle">p=0.22</text>
<path d="M813.3 1940.3C815.1 1940.2 819.9 1939.9 824.3 1939.7C828.8 1939.4 834.8 1938.9 839.9 1938.8C845 1938.7 850.1 1938.8 854.9 1939C859.7 1939.1 864.2 1939.7 868.7 1939.7C873.2 1939.7 877.5 1939.4 882 1939C886.4 1938.6 890.8 1937.9 895.3 1937.4C899.7 1937 904.1 1936.5 908.6 1936.3C913 1936.1 916.9 1936.6 921.9 1936.3C926.9 1936 935.9 1934.9 938.7 1934.6L938.7 1947C935.9 1947 926.9 1947.3 921.9 1947.4C916.9 1947.5 913 1947.2 908.6 1947.4C904.1 1947.6 899.7 1948.1 895.3 1948.5C890.8 1949 886.4 1949.7 882 1950.1C877.5 1950.4 873.2 1950.7 868.7 1950.7C864.2 1950.7 859.7 1950.4 854.9 1950.1C850.1 1949.7 845 1948.8 839.9 1948.5C834.8 1948.3 828.8 1948.3 824.3 1948.5C819.9 1948.8 815.1 1949.8 813.3 1950.1Z" fill="rgba(85,130,225,0.31)"/>
<path d="M813.3 1940.1C814.4 1941.3 817.3 1945.6 819.9 1947.4C822.5 1949.3 825.4 1950.3 828.8 1951.2C832.1 1952.1 836.5 1952.1 839.9 1953C843.2 1953.8 846.2 1955.5 848.7 1956.5C851.2 1957.5 852.3 1958.3 854.9 1958.9C857.5 1959.6 861.2 1960.4 864.2 1960.5C867.3 1960.6 870.2 1961 873.1 1959.6C876.1 1958.2 879 1955.9 882 1952.3C884.9 1948.7 887.9 1942.2 890.8 1937.9C893.8 1933.6 896.8 1929.2 899.7 1926.4C902.7 1923.5 906 1921.3 908.6 1920.6C911.2 1919.9 912.6 1921 915.2 1921.9C917.8 1922.9 921.1 1925.4 924.1 1926.4C927 1927.3 930.5 1928.1 933 1927.7C935.4 1927.3 937.8 1924.7 938.7 1924.1L938.7 1935.2C937.8 1935.6 935.4 1937.3 933 1937.4C930.5 1937.6 927 1936.9 924.1 1936.1C921.1 1935.4 917.8 1933.5 915.2 1933C912.6 1932.5 911.2 1932 908.6 1933C906 1934 902.7 1935.9 899.7 1938.8C896.8 1941.7 893.8 1946 890.8 1950.3C887.9 1954.6 884.9 1961.1 882 1964.7C879 1968.3 876.1 1970.7 873.1 1972C870.2 1973.4 867.3 1973.2 864.2 1972.9C861.2 1972.6 857.5 1971.1 854.9 1970C852.3 1968.9 851.2 1967.6 848.7 1966.3C846.2 1964.9 843.2 1962.9 839.9 1961.8C836.5 1960.8 832.1 1961 828.8 1960.1C825.4 1959.1 822.5 1958.1 819.9 1956.3C817.3 1954.4 814.4 1950.2 813.3 1949Z" fill="rgba(62,50,135,0.33)"/>
<path d="M813.3 1945.2C815.1 1945 819.9 1944.4 824.3 1944.1C828.8 1943.8 834.8 1943.6 839.9 1943.6C845 1943.7 850.1 1944.3 854.9 1944.5C859.7 1944.8 864.2 1945.2 868.7 1945.2C873.2 1945.2 877.5 1944.9 882 1944.5C886.4 1944.2 890.8 1943.4 895.3 1943C899.7 1942.5 904.1 1942.1 908.6 1941.9C913 1941.7 916.9 1942.1 921.9 1941.9C926.9 1941.7 935.9 1941 938.7 1940.8" fill="none" stroke="#4680ba" stroke-width="2.6" stroke-linecap="butt" stroke-linejoin="round"/>
<path d="M813.3 1944.5C814.4 1945.8 817.3 1950 819.9 1951.9C822.5 1953.7 825.4 1954.7 828.8 1955.6C832.1 1956.5 836.5 1956.4 839.9 1957.4C843.2 1958.4 846.2 1960.2 848.7 1961.4C851.2 1962.6 852.3 1963.6 854.9 1964.5C857.5 1965.4 861.2 1966.5 864.2 1966.7C867.3 1966.9 870.2 1967.2 873.1 1965.8C876.1 1964.4 879 1962.1 882 1958.5C884.9 1954.9 887.9 1948.4 890.8 1944.1C893.8 1939.8 896.8 1935.4 899.7 1932.6C902.7 1929.7 906 1927.7 908.6 1926.8C911.2 1926 912.6 1926.7 915.2 1927.5C917.8 1928.2 921.1 1930.4 924.1 1931.2C927 1932.1 930.5 1932.8 933 1932.6C935.4 1932.3 937.8 1930.2 938.7 1929.7" fill="none" stroke="#392a86" stroke-width="2.6" stroke-linecap="butt" stroke-linejoin="round"/>
<line x1="855.1" y1="1981.8" x2="855.1" y2="1872" stroke="#000" stroke-width="2.9" stroke-dasharray="10.6 4.4"/>
<line x1="844.1" y1="1883.1" x2="898.1" y2="1883.1" stroke="#000" stroke-width="2.6"/>
<path d="M806.8 1872V1981.8H945.8" fill="none" stroke="#000" stroke-width="2.3" stroke-linecap="square" stroke-linejoin="miter"/>
<line x1="794.9" y1="1872" x2="805.8" y2="1872" stroke="#000" stroke-width="2.3"/>
<line x1="794.9" y1="1940.1" x2="805.8" y2="1940.1" stroke="#000" stroke-width="2.3"/>
<line x1="813" y1="1982.8" x2="813" y2="1993.7" stroke="#000" stroke-width="2.3"/>
<line x1="855.1" y1="1982.8" x2="855.1" y2="1993.7" stroke="#000" stroke-width="2.3"/>
<line x1="897.2" y1="1982.8" x2="897.2" y2="1993.7" stroke="#000" stroke-width="2.3"/>
<line x1="939.4" y1="1982.8" x2="939.4" y2="1993.7" stroke="#000" stroke-width="2.3"/>
<text x="876.3" y="1857.5" font-size="22.75" fill="#111" text-anchor="middle">attacked start</text>
<text x="896.9" y="1879" font-size="22.5" fill="#111" text-anchor="middle">p=0.04*</text>
<path d="M986.8 1954.7C987.5 1953.1 989.2 1947.6 990.6 1944.8C992 1941.9 993.6 1939 995 1937.4C996.5 1935.9 997.6 1935 999.5 1935.2C1001.3 1935.4 1003.9 1937.4 1006.1 1938.6C1008.3 1939.7 1010.5 1941.3 1012.8 1941.9C1015 1942.4 1016.8 1943.1 1019.4 1941.9C1022.1 1940.7 1025.8 1937.5 1028.7 1934.6C1031.7 1931.6 1034.3 1927.2 1037.1 1924.1C1040 1921 1043.1 1918 1046 1915.9C1049 1913.8 1051.9 1912.4 1054.9 1911.5C1057.8 1910.7 1060.8 1910.4 1063.8 1910.8C1066.7 1911.3 1069.3 1912.2 1072.6 1914.2C1075.9 1916.1 1079.6 1919.7 1083.7 1922.6C1087.8 1925.5 1092.3 1929 1097 1931.7C1101.7 1934.3 1109.6 1937.4 1112.1 1938.6L1112.1 1949.6C1109.6 1948.7 1101.7 1946.2 1097 1944.1C1092.3 1941.9 1087.8 1938.8 1083.7 1936.8C1079.6 1934.7 1075.9 1932.9 1072.6 1931.9C1069.3 1930.9 1066.7 1930.9 1063.8 1930.8C1060.8 1930.7 1057.8 1930.8 1054.9 1931.5C1051.9 1932.1 1049 1933.2 1046 1934.6C1043.1 1935.9 1040 1937.6 1037.1 1939.7C1034.3 1941.7 1031.7 1945 1028.7 1947C1025.8 1949 1022.1 1951 1019.4 1951.6C1016.8 1952.3 1015 1951.4 1012.8 1950.7C1010.5 1950 1008.3 1948.7 1006.1 1947.4C1003.9 1946.2 1001.3 1943.4 999.5 1943.2C997.6 1943 996.5 1944.4 995 1946.3C993.6 1948.2 992 1950.9 990.6 1954.5C989.2 1958.1 987.5 1965.8 986.8 1968Z" fill="rgba(85,130,225,0.31)"/>
<path d="M986.8 1955.2C987.5 1953.3 989.2 1947.2 990.6 1943.6C992 1940.1 993.6 1936.3 995 1934.1C996.5 1932 997.6 1930.5 999.5 1930.8C1001.3 1931.1 1003.9 1933.8 1006.1 1935.9C1008.3 1938 1010.7 1941.7 1012.8 1943.4C1014.8 1945.2 1016.5 1946.5 1018.3 1946.3C1020.2 1946.2 1022.1 1944.9 1023.8 1942.5C1025.6 1940.2 1026.9 1937.3 1028.7 1932.3C1030.6 1927.4 1032.6 1918.6 1034.9 1912.6C1037.3 1906.6 1040.1 1900.3 1042.7 1896.4C1045.3 1892.6 1048 1890.6 1050.5 1889.6C1052.9 1888.5 1054.5 1888.2 1057.1 1890.2C1059.7 1892.2 1063 1897.4 1066 1901.5C1068.9 1905.7 1071.5 1911.1 1074.8 1915.3C1078.2 1919.4 1081.9 1923.4 1085.9 1926.4C1090 1929.3 1094.9 1931 1099.2 1933C1103.6 1935 1109.9 1937.4 1112.1 1938.3L1112.1 1946.3C1109.9 1945.4 1103.6 1942.8 1099.2 1941C1094.9 1939.1 1090 1937.7 1085.9 1935.2C1081.9 1932.8 1078.2 1929.6 1074.8 1926.4C1071.5 1923.1 1068.9 1918.9 1066 1915.7C1063 1912.5 1059.7 1908.6 1057.1 1907.1C1054.5 1905.5 1052.9 1905.6 1050.5 1906.4C1048 1907.2 1045.3 1908.5 1042.7 1911.9C1040.1 1915.3 1037.3 1921.3 1034.9 1926.8C1032.6 1932.3 1030.6 1940.3 1028.7 1944.8C1026.9 1949.2 1025.6 1951.5 1023.8 1953.6C1022.1 1955.7 1020.2 1957.2 1018.3 1957.4C1016.5 1957.5 1014.8 1956.5 1012.8 1954.5C1010.7 1952.6 1008.3 1948.1 1006.1 1945.6C1003.9 1943.2 1001.3 1940.1 999.5 1939.7C997.6 1939.2 996.5 1940.8 995 1943C993.6 1945.1 992 1948.6 990.6 1952.5C989.2 1956.4 987.5 1964 986.8 1966.3Z" fill="rgba(62,50,135,0.33)"/>
<path d="M986.8 1961.4C987.5 1959.4 989.2 1952.9 990.6 1949.6C992 1946.4 993.6 1943.6 995 1941.9C996.5 1940.1 997.6 1939 999.5 1939.2C1001.3 1939.4 1003.9 1941.8 1006.1 1943C1008.3 1944.2 1010.5 1945.7 1012.8 1946.3C1015 1946.9 1016.8 1947.7 1019.4 1946.8C1022.1 1945.8 1025.8 1943.2 1028.7 1940.8C1031.7 1938.3 1034.3 1934.5 1037.1 1931.9C1040 1929.3 1043.1 1927 1046 1925.2C1049 1923.5 1051.9 1922.2 1054.9 1921.5C1057.8 1920.7 1060.8 1920.6 1063.8 1920.8C1066.7 1921.1 1069.3 1921.6 1072.6 1923C1075.9 1924.5 1079.6 1927.2 1083.7 1929.7C1087.8 1932.2 1092.3 1935.5 1097 1937.9C1101.7 1940.3 1109.6 1943.1 1112.1 1944.1" fill="none" stroke="#4680ba" stroke-width="2.6" stroke-linecap="butt" stroke-linejoin="round"/>
<path d="M986.8 1960.7C987.5 1958.6 989.2 1951.8 990.6 1948.1C992 1944.4 993.6 1940.7 995 1938.6C996.5 1936.4 997.6 1934.9 999.5 1935.2C1001.3 1935.6 1003.9 1938.5 1006.1 1940.8C1008.3 1943.1 1010.7 1947.1 1012.8 1949C1014.8 1950.8 1016.5 1952 1018.3 1951.9C1020.2 1951.7 1022.1 1950.3 1023.8 1948.1C1025.6 1945.9 1026.9 1943.3 1028.7 1938.6C1030.6 1933.8 1032.6 1925.4 1034.9 1919.7C1037.3 1914 1040.1 1907.8 1042.7 1904.2C1045.3 1900.6 1048 1898.9 1050.5 1898C1052.9 1897.1 1054.5 1896.9 1057.1 1898.6C1059.7 1900.4 1063 1904.9 1066 1908.6C1068.9 1912.3 1071.5 1917.1 1074.8 1920.8C1078.2 1924.5 1081.9 1928.1 1085.9 1930.8C1090 1933.5 1094.9 1935.1 1099.2 1937C1103.6 1938.9 1109.9 1941.4 1112.1 1942.3" fill="none" stroke="#392a86" stroke-width="2.6" stroke-linecap="butt" stroke-linejoin="round"/>
<line x1="1028.9" y1="1981.8" x2="1028.9" y2="1872" stroke="#000" stroke-width="2.9" stroke-dasharray="10.6 4.4"/>
<line x1="1017.9" y1="1883.1" x2="1071.9" y2="1883.1" stroke="#000" stroke-width="2.6"/>
<path d="M980.6 1872V1981.8H1119.6" fill="none" stroke="#000" stroke-width="2.3" stroke-linecap="square" stroke-linejoin="miter"/>
<line x1="968.7" y1="1872" x2="979.6" y2="1872" stroke="#000" stroke-width="2.3"/>
<line x1="968.7" y1="1940.1" x2="979.6" y2="1940.1" stroke="#000" stroke-width="2.3"/>
<line x1="986.8" y1="1982.8" x2="986.8" y2="1993.7" stroke="#000" stroke-width="2.3"/>
<line x1="1028.9" y1="1982.8" x2="1028.9" y2="1993.7" stroke="#000" stroke-width="2.3"/>
<line x1="1071" y1="1982.8" x2="1071" y2="1993.7" stroke="#000" stroke-width="2.3"/>
<line x1="1113.2" y1="1982.8" x2="1113.2" y2="1993.7" stroke="#000" stroke-width="2.3"/>
<text x="1050.1" y="1857.5" font-size="22.75" fill="#111" text-anchor="middle">attacked end</text>
<text x="1070.7" y="1879" font-size="22.5" fill="#111" text-anchor="middle">p=0.16</text>
<path d="M1160.4 1939.7C1162 1938.9 1166.8 1935.6 1169.9 1935.2C1173 1934.9 1175.4 1936.1 1178.8 1937.4C1182.1 1938.8 1186 1942.1 1189.9 1943.4C1193.7 1944.7 1198 1945.8 1202 1945.2C1206.1 1944.6 1210 1941.6 1214.2 1940.1C1218.5 1938.6 1223.1 1937.6 1227.5 1936.3C1232 1935.1 1236.8 1934.2 1240.8 1932.6C1244.9 1930.9 1248.2 1928.7 1251.9 1926.4C1255.6 1924 1259.7 1920.4 1263 1918.6C1266.3 1916.8 1269.3 1915.2 1271.9 1915.7C1274.5 1916.2 1276.2 1918.6 1278.5 1921.5C1280.8 1924.4 1284.4 1931.1 1285.6 1933L1285.6 1945.4C1284.4 1943.8 1280.8 1937.8 1278.5 1935.7C1276.2 1933.5 1274.5 1932.8 1271.9 1932.6C1269.3 1932.3 1266.3 1932.9 1263 1934.1C1259.7 1935.3 1255.6 1937.6 1251.9 1939.7C1248.2 1941.8 1244.9 1944.4 1240.8 1946.8C1236.8 1949.2 1232 1952.2 1227.5 1954.1C1223.1 1955.9 1218.5 1957.1 1214.2 1957.8C1210 1958.6 1206.1 1959.1 1202 1958.5C1198 1957.9 1193.7 1956.2 1189.9 1954.5C1186 1952.8 1182.1 1949.9 1178.8 1948.5C1175.4 1947.2 1173 1945.9 1169.9 1946.3C1166.8 1946.7 1162 1950 1160.4 1950.7Z" fill="rgba(85,130,225,0.31)"/>
<path d="M1160.4 1948.1C1161.6 1947.8 1165 1946.2 1167.7 1946.3C1170.4 1946.4 1173.6 1947.3 1176.6 1948.5C1179.5 1949.7 1182.5 1952 1185.4 1953.6C1188.4 1955.3 1191.5 1957.4 1194.3 1958.5C1197.1 1959.6 1199.1 1960.1 1202 1960.3C1205 1960.5 1208.9 1960.3 1212 1959.6C1215.2 1958.9 1217.9 1958 1220.9 1956.1C1223.8 1954.1 1226.8 1951.1 1229.8 1947.9C1232.7 1944.6 1235.7 1940.1 1238.6 1936.8C1241.6 1933.5 1244.5 1930.2 1247.5 1927.9C1250.4 1925.6 1253.4 1924.1 1256.4 1923C1259.3 1921.9 1262.3 1921.3 1265.2 1921.3C1268.2 1921.3 1271.5 1921.7 1274.1 1923C1276.7 1924.4 1278.8 1927.1 1280.7 1929.2C1282.7 1931.3 1284.8 1934.6 1285.6 1935.7L1285.6 1944.5C1284.8 1943.6 1282.7 1940.7 1280.7 1939C1278.8 1937.3 1276.7 1935.2 1274.1 1934.1C1271.5 1933 1268.2 1932.3 1265.2 1932.3C1262.3 1932.3 1259.3 1932.8 1256.4 1934.1C1253.4 1935.4 1250.4 1937.8 1247.5 1940.3C1244.5 1942.8 1241.6 1945.9 1238.6 1949.2C1235.7 1952.5 1232.7 1957.1 1229.8 1960.3C1226.8 1963.5 1223.8 1966.5 1220.9 1968.5C1217.9 1970.4 1215.2 1971.5 1212 1972C1208.9 1972.5 1205 1971.8 1202 1971.4C1199.1 1971 1197.1 1970.7 1194.3 1969.6C1191.5 1968.5 1188.4 1966.6 1185.4 1964.7C1182.5 1962.8 1179.5 1959.9 1176.6 1958.3C1173.6 1956.7 1170.4 1955.4 1167.7 1955.2C1165 1955 1161.6 1956.7 1160.4 1956.9Z" fill="rgba(62,50,135,0.33)"/>
<path d="M1160.4 1945.2C1162 1944.5 1166.8 1941.1 1169.9 1940.8C1173 1940.4 1175.4 1941.6 1178.8 1943C1182.1 1944.4 1186 1947.5 1189.9 1949C1193.7 1950.4 1198 1951.9 1202 1951.9C1206.1 1951.9 1210 1950.1 1214.2 1949C1218.5 1947.9 1223.1 1946.8 1227.5 1945.2C1232 1943.6 1236.8 1941.7 1240.8 1939.7C1244.9 1937.6 1248.2 1935.2 1251.9 1933C1255.6 1930.8 1259.7 1927.8 1263 1926.4C1266.3 1924.9 1269.3 1923.8 1271.9 1924.1C1274.5 1924.5 1276.2 1926.1 1278.5 1928.6C1280.8 1931.1 1284.4 1937.4 1285.6 1939.2" fill="none" stroke="#4680ba" stroke-width="2.6" stroke-linecap="butt" stroke-linejoin="round"/>
<path d="M1160.4 1952.5C1161.6 1952.2 1165 1950.6 1167.7 1950.7C1170.4 1950.9 1173.6 1952 1176.6 1953.4C1179.5 1954.8 1182.5 1957.4 1185.4 1959.2C1188.4 1960.9 1191.5 1962.9 1194.3 1964C1197.1 1965.2 1199.1 1965.5 1202 1965.8C1205 1966.1 1208.9 1966.4 1212 1965.8C1215.2 1965.2 1217.9 1964.2 1220.9 1962.3C1223.8 1960.3 1226.8 1957.3 1229.8 1954.1C1232.7 1950.9 1235.7 1946.3 1238.6 1943C1241.6 1939.7 1244.5 1936.5 1247.5 1934.1C1250.4 1931.7 1253.4 1929.8 1256.4 1928.6C1259.3 1927.4 1262.3 1926.8 1265.2 1926.8C1268.2 1926.8 1271.5 1927.4 1274.1 1928.6C1276.7 1929.8 1278.8 1932.2 1280.7 1934.1C1282.7 1936 1284.8 1939.1 1285.6 1940.1" fill="none" stroke="#392a86" stroke-width="2.6" stroke-linecap="butt" stroke-linejoin="round"/>
<line x1="1202.2" y1="1981.8" x2="1202.2" y2="1872" stroke="#000" stroke-width="2.9" stroke-dasharray="10.6 4.4"/>
<line x1="1191.2" y1="1883.1" x2="1245.2" y2="1883.1" stroke="#000" stroke-width="2.6"/>
<path d="M1153.9 1872V1981.8H1292.9" fill="none" stroke="#000" stroke-width="2.3" stroke-linecap="square" stroke-linejoin="miter"/>
<line x1="1142" y1="1872" x2="1152.9" y2="1872" stroke="#000" stroke-width="2.3"/>
<line x1="1142" y1="1940.1" x2="1152.9" y2="1940.1" stroke="#000" stroke-width="2.3"/>
<line x1="1160.1" y1="1982.8" x2="1160.1" y2="1993.7" stroke="#000" stroke-width="2.3"/>
<line x1="1202.2" y1="1982.8" x2="1202.2" y2="1993.7" stroke="#000" stroke-width="2.3"/>
<line x1="1244.4" y1="1982.8" x2="1244.4" y2="1993.7" stroke="#000" stroke-width="2.3"/>
<line x1="1286.5" y1="1982.8" x2="1286.5" y2="1993.7" stroke="#000" stroke-width="2.3"/>
<text x="1223.4" y="1830.9" font-size="22.75" fill="#111" text-anchor="middle">investigated</text>
<text x="1226.9" y="1857.5" font-size="22.75" fill="#111" text-anchor="middle">start</text>
<text x="1244.1" y="1879" font-size="22.5" fill="#111" text-anchor="middle">p=0.18</text>
<path d="M1333.5 1940.3C1335.4 1940.1 1340.9 1939.3 1345 1938.8C1349.2 1938.2 1354.6 1937.4 1358.3 1937C1362 1936.6 1364.4 1936.3 1367.2 1936.3C1370 1936.3 1372.4 1936.7 1375.4 1937C1378.4 1937.3 1381.5 1938.3 1384.9 1938.1C1388.4 1938 1392.7 1937.3 1396 1936.1C1399.3 1934.9 1401.9 1932.8 1404.9 1930.8C1407.8 1928.8 1410.8 1925.6 1413.8 1924.1C1416.7 1922.7 1420 1921.9 1422.6 1921.9C1425.2 1922 1426.7 1922.7 1429.3 1924.6C1431.9 1926.4 1435.5 1930.6 1438.1 1933C1440.7 1935.4 1442.6 1937.7 1444.8 1939C1447 1940.3 1449.4 1940.9 1451.4 1940.8C1453.5 1940.6 1455.7 1939.1 1457 1938.1C1458.3 1937.1 1458.8 1935.2 1459.2 1934.6L1459.2 1947C1458.8 1947.3 1458.3 1948.4 1457 1949.2C1455.7 1950 1453.5 1951.7 1451.4 1951.9C1449.4 1952 1447 1951.4 1444.8 1950.1C1442.6 1948.8 1440.7 1946.3 1438.1 1944.1C1435.5 1941.9 1431.9 1938.5 1429.3 1937C1426.7 1935.5 1425.2 1935 1422.6 1935.2C1420 1935.4 1416.7 1936.9 1413.8 1938.3C1410.8 1939.8 1407.8 1942.4 1404.9 1944.1C1401.9 1945.8 1399.3 1947.7 1396 1948.5C1392.7 1949.4 1388.4 1949.5 1384.9 1949.2C1381.5 1948.9 1378.4 1947.4 1375.4 1946.8C1372.4 1946.1 1370 1945.3 1367.2 1945.2C1364.4 1945.1 1362 1945.3 1358.3 1945.9C1354.6 1946.4 1349.2 1947.6 1345 1948.5C1340.9 1949.4 1335.4 1950.9 1333.5 1951.4Z" fill="rgba(85,130,225,0.31)"/>
<path d="M1333.5 1935.2C1334.7 1934 1337.9 1929.6 1340.6 1927.7C1343.3 1925.8 1346.5 1924.4 1349.5 1923.7C1352.4 1923 1355.4 1923 1358.3 1923.3C1361.3 1923.5 1364.4 1924.7 1367.2 1925.5C1370 1926.3 1372.4 1927.2 1375.4 1928.1C1378.4 1929 1381.5 1930.1 1384.9 1930.8C1388.4 1931.5 1392.3 1932.5 1396 1932.6C1399.7 1932.6 1403.4 1931.8 1407.1 1931.2C1410.8 1930.6 1414.5 1929.5 1418.2 1929C1421.9 1928.6 1425.6 1928.6 1429.3 1928.6C1433 1928.5 1437 1928.6 1440.4 1928.6C1443.7 1928.6 1446.1 1928.6 1449.2 1928.6C1452.4 1928.6 1457.5 1928.6 1459.2 1928.6L1459.2 1941C1457.5 1940.8 1452.4 1940.1 1449.2 1939.7C1446.1 1939.2 1443.7 1938.7 1440.4 1938.3C1437 1938 1433 1937.5 1429.3 1937.4C1425.6 1937.4 1421.9 1937.4 1418.2 1937.9C1414.5 1938.3 1410.8 1939.5 1407.1 1940.1C1403.4 1940.7 1399.7 1941.4 1396 1941.4C1392.3 1941.5 1388.4 1941.1 1384.9 1940.5C1381.5 1940 1378.4 1938.8 1375.4 1937.9C1372.4 1937 1370 1936 1367.2 1935.2C1364.4 1934.4 1361.3 1933.3 1358.3 1933C1355.4 1932.7 1352.4 1932.7 1349.5 1933.5C1346.5 1934.2 1343.3 1935.7 1340.6 1937.4C1337.9 1939.2 1334.7 1943 1333.5 1944.1Z" fill="rgba(62,50,135,0.33)"/>
<path d="M1333.5 1945.9C1335.4 1945.5 1340.9 1944.4 1345 1943.6C1349.2 1942.9 1354.6 1941.9 1358.3 1941.4C1362 1941 1364.4 1940.7 1367.2 1940.8C1370 1940.8 1372.4 1941.4 1375.4 1941.9C1378.4 1942.4 1381.5 1943.6 1384.9 1943.6C1388.4 1943.7 1392.7 1943.4 1396 1942.3C1399.3 1941.3 1401.9 1939.3 1404.9 1937.4C1407.8 1935.6 1410.8 1932.7 1413.8 1931.2C1416.7 1929.8 1420 1928.6 1422.6 1928.6C1425.2 1928.5 1426.7 1929.1 1429.3 1930.8C1431.9 1932.5 1435.5 1936.3 1438.1 1938.6C1440.7 1940.8 1442.6 1943.2 1444.8 1944.5C1447 1945.8 1449.4 1946.5 1451.4 1946.3C1453.5 1946.2 1455.7 1944.6 1457 1943.6C1458.3 1942.7 1458.8 1941.2 1459.2 1940.8" fill="none" stroke="#4680ba" stroke-width="2.6" stroke-linecap="butt" stroke-linejoin="round"/>
<path d="M1333.5 1939.7C1334.7 1938.5 1337.9 1934.4 1340.6 1932.6C1343.3 1930.7 1346.5 1929.3 1349.5 1928.6C1352.4 1927.8 1355.4 1927.8 1358.3 1928.1C1361.3 1928.4 1364.4 1929.5 1367.2 1930.3C1370 1931.2 1372.4 1932.1 1375.4 1933C1378.4 1933.9 1381.5 1935 1384.9 1935.7C1388.4 1936.3 1392.3 1937 1396 1937C1399.7 1937 1403.4 1936.3 1407.1 1935.7C1410.8 1935.1 1414.5 1933.9 1418.2 1933.5C1421.9 1933 1425.6 1933 1429.3 1933C1433 1933 1437 1933.3 1440.4 1933.5C1443.7 1933.6 1446.1 1933.9 1449.2 1934.1C1452.4 1934.3 1457.5 1934.7 1459.2 1934.8" fill="none" stroke="#392a86" stroke-width="2.6" stroke-linecap="butt" stroke-linejoin="round"/>
<line x1="1375.6" y1="1981.8" x2="1375.6" y2="1872" stroke="#000" stroke-width="2.9" stroke-dasharray="10.6 4.4"/>
<line x1="1364.6" y1="1883.1" x2="1418.6" y2="1883.1" stroke="#000" stroke-width="2.6"/>
<path d="M1327.3 1872V1981.8H1466.3" fill="none" stroke="#000" stroke-width="2.3" stroke-linecap="square" stroke-linejoin="miter"/>
<line x1="1315.4" y1="1872" x2="1326.3" y2="1872" stroke="#000" stroke-width="2.3"/>
<line x1="1315.4" y1="1940.1" x2="1326.3" y2="1940.1" stroke="#000" stroke-width="2.3"/>
<line x1="1333.5" y1="1982.8" x2="1333.5" y2="1993.7" stroke="#000" stroke-width="2.3"/>
<line x1="1375.6" y1="1982.8" x2="1375.6" y2="1993.7" stroke="#000" stroke-width="2.3"/>
<line x1="1417.7" y1="1982.8" x2="1417.7" y2="1993.7" stroke="#000" stroke-width="2.3"/>
<line x1="1459.8" y1="1982.8" x2="1459.8" y2="1993.7" stroke="#000" stroke-width="2.3"/>
<text x="1396.8" y="1830.9" font-size="22.75" fill="#111" text-anchor="middle">investigated</text>
<text x="1400.3" y="1857.5" font-size="22.75" fill="#111" text-anchor="middle">end</text>
<text x="1417.4" y="1879" font-size="22.5" fill="#111" text-anchor="middle">p=0.24</text>
<text transform="translate(45.6 1927.5) rotate(-90)" font-size="22.5" fill="#111" text-anchor="middle">Weights</text>
<rect x="1483.2" y="1925" width="42.5" height="15.4" fill="#c5c0de" stroke="#b0abc9" stroke-width="1"/>
<text x="1542.8" y="1940.2" font-size="20.6" fill="#111">right (n=10)</text>
<rect x="1483.2" y="1956" width="42.5" height="15.4" fill="#d7def3" stroke="#c9d0e6" stroke-width="1"/>
<text x="1542.8" y="1971.2" font-size="20.6" fill="#111">left (n=9)</text>
<path d="M119.3 2135.2C120.7 2135.8 124.4 2138.4 127.7 2138.6C130.9 2138.7 135.1 2137.1 138.8 2136.1C142.5 2135.1 146.1 2133.5 149.9 2132.6C153.6 2131.6 157.3 2131.1 161.4 2130.3C165.4 2129.6 170.2 2128.9 174.2 2128.1C178.2 2127.3 181.6 2126.5 185.3 2125.5C189 2124.4 193.1 2122.7 196.4 2121.9C199.7 2121.1 202.3 2120.5 205.3 2120.6C208.2 2120.7 211.2 2121.5 214.1 2122.6C217.1 2123.7 220.1 2125.5 223 2127C226 2128.5 229.3 2130.6 231.9 2131.5C234.5 2132.3 236.2 2132.9 238.5 2132.3C240.8 2131.8 244.4 2128.6 245.6 2127.9L245.6 2140.3C244.4 2140.8 240.8 2143.1 238.5 2143.4C236.2 2143.8 234.5 2143.4 231.9 2142.5C229.3 2141.7 226 2139.6 223 2138.1C220.1 2136.6 217.1 2134.5 214.1 2133.7C211.2 2132.8 208.2 2132.4 205.3 2133C202.3 2133.6 199.7 2135.6 196.4 2137.4C193.1 2139.3 189 2142.7 185.3 2144.1C181.6 2145.5 178.2 2145.9 174.2 2145.9C170.2 2145.8 165.4 2144.2 161.4 2143.6C157.3 2143.1 153.6 2142.2 149.9 2142.3C146.1 2142.4 142.5 2143.6 138.8 2144.1C135.1 2144.6 130.9 2145.3 127.7 2145.2C124.4 2145.1 120.7 2143.5 119.3 2143.2Z" fill="rgba(85,130,225,0.31)"/>
<path d="M119.3 2149.2C120.1 2146.6 122.6 2137.6 124.4 2133.5C126.1 2129.3 127.9 2126.2 129.9 2124.1C131.9 2122.1 134 2121.3 136.6 2121.3C139.1 2121.2 142.5 2123.1 145.4 2123.7C148.4 2124.3 151.6 2125 154.3 2124.8C156.9 2124.6 158.4 2123.8 161.4 2122.4C164.3 2120.9 168.4 2117.7 172 2115.9C175.6 2114.2 179.8 2112.4 183.1 2111.9C186.4 2111.5 189 2112.1 192 2113.1C194.9 2114 197.9 2115.6 200.8 2117.5C203.8 2119.4 206.8 2122 209.7 2124.6C212.7 2127.2 215.6 2130.6 218.6 2133C221.5 2135.4 224.9 2137.7 227.4 2138.8C230 2139.9 231.9 2140.2 234.1 2139.7C236.3 2139.1 238.8 2137.3 240.7 2135.7C242.7 2134.1 244.8 2131.1 245.6 2130.1L245.6 2141.2C244.8 2142.4 242.7 2146.1 240.7 2148.1C238.8 2150 236.3 2152.1 234.1 2153C231.9 2153.8 230 2153.7 227.4 2153C224.9 2152.2 221.5 2150.3 218.6 2148.5C215.6 2146.8 212.7 2144.2 209.7 2142.3C206.8 2140.5 203.8 2138.6 200.8 2137.4C197.9 2136.3 194.9 2135.4 192 2135.2C189 2135 186.4 2135.5 183.1 2136.3C179.8 2137.2 175.6 2139 172 2140.3C168.4 2141.7 164.3 2143.8 161.4 2144.5C158.4 2145.3 156.9 2145.3 154.3 2144.8C151.6 2144.2 148.4 2142.5 145.4 2141.4C142.5 2140.3 139.1 2138.4 136.6 2138.1C134 2137.8 131.9 2138.4 129.9 2139.7C127.9 2141 126.1 2142.7 124.4 2145.9C122.6 2149.1 120.1 2156.8 119.3 2158.9Z" fill="rgba(62,50,135,0.33)"/>
<path d="M119.3 2139.2C120.7 2139.7 124.4 2141.7 127.7 2141.9C130.9 2142 135.1 2140.8 138.8 2140.1C142.5 2139.4 146.1 2138 149.9 2137.4C153.6 2136.9 157.3 2137.1 161.4 2137C165.4 2136.9 170.2 2137.4 174.2 2137C178.2 2136.6 181.6 2136 185.3 2134.8C189 2133.6 193.1 2131 196.4 2129.7C199.7 2128.4 202.3 2127.1 205.3 2126.8C208.2 2126.5 211.2 2127.2 214.1 2128.1C217.1 2129.1 220.1 2131.1 223 2132.6C226 2134 229.3 2136.1 231.9 2137C234.5 2137.9 236.2 2138.4 238.5 2137.9C240.8 2137.4 244.4 2134.7 245.6 2134.1" fill="none" stroke="#4680ba" stroke-width="2.6" stroke-linecap="butt" stroke-linejoin="round"/>
<path d="M119.3 2154.1C120.1 2151.7 122.6 2143.4 124.4 2139.7C126.1 2136 127.9 2133.6 129.9 2131.9C131.9 2130.2 134 2129.6 136.6 2129.7C139.1 2129.8 142.5 2131.7 145.4 2132.6C148.4 2133.4 151.6 2134.6 154.3 2134.8C156.9 2134.9 158.4 2134.6 161.4 2133.5C164.3 2132.3 168.4 2129.7 172 2128.1C175.6 2126.6 179.8 2124.8 183.1 2124.1C186.4 2123.5 189 2123.6 192 2124.1C194.9 2124.7 197.9 2125.9 200.8 2127.5C203.8 2129 206.8 2131.2 209.7 2133.5C212.7 2135.7 215.6 2138.7 218.6 2140.8C221.5 2142.8 224.9 2144.9 227.4 2145.9C230 2146.8 231.9 2147 234.1 2146.3C236.3 2145.6 238.8 2143.6 240.7 2141.9C242.7 2140.1 244.8 2136.7 245.6 2135.7" fill="none" stroke="#392a86" stroke-width="2.6" stroke-linecap="butt" stroke-linejoin="round"/>
<line x1="161.1" y1="2181.8" x2="161.1" y2="2072" stroke="#000" stroke-width="2.9" stroke-dasharray="10.6 4.4"/>
<line x1="150.1" y1="2083.1" x2="204.1" y2="2083.1" stroke="#000" stroke-width="2.6"/>
<path d="M112.8 2072V2181.8H251.8" fill="none" stroke="#000" stroke-width="2.3" stroke-linecap="square" stroke-linejoin="miter"/>
<line x1="100.9" y1="2072" x2="111.8" y2="2072" stroke="#000" stroke-width="2.3"/>
<text x="92.2" y="2080.3" font-size="20.0" fill="#111" text-anchor="end">0.5</text>
<line x1="100.9" y1="2140.1" x2="111.8" y2="2140.1" stroke="#000" stroke-width="2.3"/>
<text x="92.2" y="2148.4" font-size="20.0" fill="#111" text-anchor="end">0.0</text>
<line x1="119" y1="2182.8" x2="119" y2="2193.7" stroke="#000" stroke-width="2.3"/>
<text x="119" y="2216.6" font-size="20.0" fill="#111" text-anchor="middle">-1</text>
<line x1="161.1" y1="2182.8" x2="161.1" y2="2193.7" stroke="#000" stroke-width="2.3"/>
<text x="161.1" y="2216.6" font-size="20.0" fill="#111" text-anchor="middle">0</text>
<line x1="203.3" y1="2182.8" x2="203.3" y2="2193.7" stroke="#000" stroke-width="2.3"/>
<text x="203.3" y="2216.6" font-size="20.0" fill="#111" text-anchor="middle">1</text>
<line x1="245.4" y1="2182.8" x2="245.4" y2="2193.7" stroke="#000" stroke-width="2.3"/>
<text x="245.4" y="2216.6" font-size="20.0" fill="#111" text-anchor="middle">2</text>
<text x="182.3" y="2057.5" font-size="22.75" fill="#111" text-anchor="middle">fight-back start</text>
<text x="203" y="2079" font-size="22.5" fill="#111" text-anchor="middle">p=0.61</text>
<text x="182.3" y="2249" font-size="22.5" fill="#111" text-anchor="middle">Time (s)</text>
<path d="M293.3 2144.1C294.9 2143.9 299.7 2143 302.8 2143.2C305.9 2143.4 308.7 2144.6 311.7 2145.2C314.6 2145.8 317.8 2146.7 320.5 2146.8C323.3 2146.8 325.8 2146.6 328.3 2145.6C330.8 2144.6 333 2143.1 335.4 2140.8C337.8 2138.5 340.2 2134.5 342.7 2131.9C345.2 2129.3 347.9 2126.6 350.5 2125C353.1 2123.4 355.5 2122.4 358.2 2122.4C361 2122.4 364.1 2123.5 367.1 2125C370.1 2126.5 373 2129.2 376 2131.2C378.9 2133.3 381.5 2135.8 384.8 2137.4C388.2 2139.1 392.2 2140.6 395.9 2141.2C399.6 2141.8 403 2141.7 407 2141.2C411 2140.8 417.5 2139 419.6 2138.6L419.6 2151.9C417.5 2152.1 411 2153.3 407 2153.6C403 2153.9 399.6 2154.3 395.9 2153.6C392.2 2153 388.2 2151.5 384.8 2149.9C381.5 2148.2 378.9 2145.7 376 2143.6C373 2141.6 370.1 2138.9 367.1 2137.4C364.1 2136 361 2134.8 358.2 2134.8C355.5 2134.8 353.1 2136.1 350.5 2137.4C347.9 2138.8 345.2 2141 342.7 2143C340.2 2145 337.8 2147.9 335.4 2149.6C333 2151.4 330.8 2152.8 328.3 2153.6C325.8 2154.5 323.3 2154.7 320.5 2154.7C317.8 2154.8 314.6 2154.4 311.7 2154.1C308.7 2153.8 305.9 2152.8 302.8 2153C299.7 2153.1 294.9 2154.8 293.3 2155.2Z" fill="rgba(85,130,225,0.31)"/>
<path d="M293.3 2145.4C294.9 2145.3 299.7 2144.5 302.8 2144.8C305.9 2145 308.7 2146.3 311.7 2147C314.6 2147.6 317.8 2148.6 320.5 2148.5C323.3 2148.4 325.8 2147.9 328.3 2146.3C330.8 2144.7 333 2142 335.4 2139C337.8 2136 340.2 2131.5 342.7 2128.1C345.2 2124.7 347.9 2120.8 350.5 2118.6C353.1 2116.4 355.5 2114.9 358.2 2114.8C361 2114.8 364.1 2116.4 367.1 2118.4C370.1 2120.4 373 2124.2 376 2126.8C378.9 2129.4 381.5 2132.3 384.8 2134.1C388.2 2135.9 392.2 2137.2 395.9 2137.4C399.6 2137.7 403 2136 407 2135.7C411 2135.4 417.5 2135.7 419.6 2135.7L419.6 2152.5C417.5 2152.5 411 2152.4 407 2152.5C403 2152.6 399.6 2153.1 395.9 2153C392.2 2152.8 388.2 2152.7 384.8 2151.9C381.5 2151 378.9 2149.4 376 2148.1C373 2146.8 370.1 2145.1 367.1 2144.1C364.1 2143.1 361 2142.5 358.2 2142.3C355.5 2142.1 353.1 2142.4 350.5 2143C347.9 2143.6 345.2 2144.5 342.7 2145.9C340.2 2147.3 337.8 2149.7 335.4 2151.4C333 2153.1 330.8 2154.9 328.3 2156.1C325.8 2157.2 323.3 2158.2 320.5 2158.3C317.8 2158.4 314.6 2157.4 311.7 2156.7C308.7 2156.1 305.9 2154.8 302.8 2154.5C299.7 2154.3 294.9 2155.1 293.3 2155.2Z" fill="rgba(62,50,135,0.33)"/>
<path d="M293.3 2149.6C294.9 2149.4 299.7 2148.1 302.8 2148.1C305.9 2148.1 308.7 2149.2 311.7 2149.6C314.6 2150.1 317.8 2150.7 320.5 2150.7C323.3 2150.7 325.8 2150.6 328.3 2149.6C330.8 2148.7 333 2147.2 335.4 2145.2C337.8 2143.2 340.2 2139.8 342.7 2137.4C345.2 2135.1 347.9 2132.7 350.5 2131.2C353.1 2129.8 355.5 2128.6 358.2 2128.6C361 2128.6 364.1 2129.8 367.1 2131.2C370.1 2132.7 373 2135.4 376 2137.4C378.9 2139.5 381.5 2142 384.8 2143.6C388.2 2145.3 392.2 2146.8 395.9 2147.4C399.6 2148 403 2147.8 407 2147.4C411 2147 417.5 2145.6 419.6 2145.2" fill="none" stroke="#4680ba" stroke-width="2.6" stroke-linecap="butt" stroke-linejoin="round"/>
<path d="M293.3 2150.3C294.9 2150.2 299.7 2149.4 302.8 2149.6C305.9 2149.9 308.7 2151.2 311.7 2151.9C314.6 2152.5 317.8 2153.5 320.5 2153.4C323.3 2153.3 325.8 2152.6 328.3 2151.2C330.8 2149.8 333 2147.6 335.4 2145.2C337.8 2142.8 340.2 2139.4 342.7 2137C345.2 2134.6 347.9 2132.2 350.5 2130.8C353.1 2129.4 355.5 2128.5 358.2 2128.6C361 2128.6 364.1 2129.8 367.1 2131.2C370.1 2132.7 373 2135.5 376 2137.4C378.9 2139.4 381.5 2141.7 384.8 2143C388.2 2144.3 392.2 2145 395.9 2145.2C399.6 2145.4 403 2144.3 407 2144.1C411 2143.9 417.5 2144.1 419.6 2144.1" fill="none" stroke="#392a86" stroke-width="2.6" stroke-linecap="butt" stroke-linejoin="round"/>
<line x1="335.2" y1="2181.8" x2="335.2" y2="2072" stroke="#000" stroke-width="2.9" stroke-dasharray="10.6 4.4"/>
<line x1="324.1" y1="2083.1" x2="378.1" y2="2083.1" stroke="#000" stroke-width="2.6"/>
<path d="M286.9 2072V2181.8H425.9" fill="none" stroke="#000" stroke-width="2.3" stroke-linecap="square" stroke-linejoin="miter"/>
<line x1="275" y1="2072" x2="285.9" y2="2072" stroke="#000" stroke-width="2.3"/>
<line x1="275" y1="2140.1" x2="285.9" y2="2140.1" stroke="#000" stroke-width="2.3"/>
<line x1="293" y1="2182.8" x2="293" y2="2193.7" stroke="#000" stroke-width="2.3"/>
<text x="293" y="2216.6" font-size="20.0" fill="#111" text-anchor="middle">-1</text>
<line x1="335.2" y1="2182.8" x2="335.2" y2="2193.7" stroke="#000" stroke-width="2.3"/>
<text x="335.2" y="2216.6" font-size="20.0" fill="#111" text-anchor="middle">0</text>
<line x1="377.3" y1="2182.8" x2="377.3" y2="2193.7" stroke="#000" stroke-width="2.3"/>
<text x="377.3" y="2216.6" font-size="20.0" fill="#111" text-anchor="middle">1</text>
<line x1="419.4" y1="2182.8" x2="419.4" y2="2193.7" stroke="#000" stroke-width="2.3"/>
<text x="419.4" y="2216.6" font-size="20.0" fill="#111" text-anchor="middle">2</text>
<text x="356.4" y="2057.5" font-size="22.75" fill="#111" text-anchor="middle">fight-back end</text>
<text x="377" y="2079" font-size="22.5" fill="#111" text-anchor="middle">p=0.94</text>
<text x="356.4" y="2249" font-size="22.5" fill="#111" text-anchor="middle">Time (s)</text>
<path d="M467.4 2130.8C469 2130.1 473.6 2127.7 477.1 2126.8C480.6 2125.9 484.9 2125 488.2 2125.2C491.5 2125.5 494.5 2126.9 497.1 2128.6C499.7 2130.2 501.7 2132.7 503.7 2135.2C505.8 2137.7 507 2140.6 509.3 2143.6C511.5 2146.7 514.3 2151 517 2153.4C519.8 2155.8 522.9 2157.4 525.9 2158.3C528.8 2159.2 531.8 2159.1 534.8 2158.9C537.7 2158.8 540.7 2158.4 543.6 2157.4C546.6 2156.4 549.5 2154.2 552.5 2153C555.4 2151.7 558 2150.4 561.4 2149.9C564.7 2149.3 568.7 2150 572.4 2149.9C576.1 2149.7 580.1 2149.7 583.5 2149.2C587 2148.7 591.7 2147.3 593.3 2147L593.3 2158.1C591.7 2158.2 587 2158.7 583.5 2158.9C580.1 2159.2 576.1 2159.5 572.4 2159.6C568.7 2159.7 564.7 2159.1 561.4 2159.6C558 2160.1 555.4 2161.2 552.5 2162.7C549.5 2164.2 546.6 2167 543.6 2168.5C540.7 2169.9 537.7 2171 534.8 2171.4C531.8 2171.7 528.8 2171.6 525.9 2170.7C522.9 2169.8 519.8 2168.1 517 2165.8C514.3 2163.5 511.5 2159.8 509.3 2156.9C507 2154.1 505.8 2151 503.7 2148.5C501.7 2146 499.7 2143.5 497.1 2141.9C494.5 2140.2 491.5 2139 488.2 2138.6C484.9 2138.1 480.6 2138.7 477.1 2139.2C473.6 2139.8 469 2141.4 467.4 2141.9Z" fill="rgba(85,130,225,0.31)"/>
<path d="M467.4 2141.9C468.6 2141.1 472.2 2137.7 474.9 2137C477.6 2136.3 480.8 2136.6 483.8 2137.4C486.7 2138.3 489.7 2140.4 492.6 2141.9C495.6 2143.4 498.7 2145.1 501.5 2146.3C504.3 2147.5 506.3 2148.4 509.3 2149.2C512.2 2150 515.7 2150.6 519.2 2151.2C522.7 2151.8 526.6 2152.7 530.3 2153C534 2153.3 537.7 2153.3 541.4 2153C545.1 2152.7 548.8 2151.9 552.5 2151.2C556.2 2150.5 559.5 2149.7 563.6 2149C567.6 2148.2 571.9 2147.4 576.9 2146.8C581.8 2146.1 590.5 2145.5 593.3 2145.2L593.3 2158.5C590.5 2158.6 581.8 2158.7 576.9 2159.2C571.9 2159.6 567.6 2160.5 563.6 2161.4C559.5 2162.3 556.2 2163.5 552.5 2164.5C548.8 2165.4 545.1 2166.5 541.4 2167.1C537.7 2167.8 534 2168.2 530.3 2168.5C526.6 2168.8 522.7 2169 519.2 2168.9C515.7 2168.8 512.2 2168.5 509.3 2167.8C506.3 2167.1 504.3 2166.4 501.5 2164.9C498.7 2163.4 495.6 2160.9 492.6 2158.7C489.7 2156.5 486.7 2153 483.8 2151.6C480.8 2150.2 477.6 2149.9 474.9 2150.3C472.2 2150.7 468.6 2153.6 467.4 2154.3Z" fill="rgba(62,50,135,0.33)"/>
<path d="M467.4 2136.3C469 2135.8 473.6 2133.7 477.1 2133C480.6 2132.3 484.9 2131.5 488.2 2131.9C491.5 2132.3 494.5 2133.6 497.1 2135.2C499.7 2136.9 501.7 2139.4 503.7 2141.9C505.8 2144.4 507 2147.3 509.3 2150.3C511.5 2153.3 514.3 2157.2 517 2159.6C519.8 2162 522.9 2163.6 525.9 2164.5C528.8 2165.4 531.8 2165.4 534.8 2165.2C537.7 2164.9 540.7 2164.2 543.6 2162.9C546.6 2161.7 549.5 2159.2 552.5 2157.8C555.4 2156.5 558 2155.3 561.4 2154.7C564.7 2154.2 568.7 2154.8 572.4 2154.7C576.1 2154.6 580.1 2154.4 583.5 2154.1C587 2153.7 591.7 2152.8 593.3 2152.5" fill="none" stroke="#4680ba" stroke-width="2.6" stroke-linecap="butt" stroke-linejoin="round"/>
<path d="M467.4 2148.1C468.6 2147.3 472.2 2144.2 474.9 2143.6C477.6 2143.1 480.8 2143.4 483.8 2144.5C486.7 2145.6 489.7 2148.5 492.6 2150.3C495.6 2152.1 498.7 2154.3 501.5 2155.6C504.3 2157 506.3 2157.8 509.3 2158.5C512.2 2159.2 515.7 2159.7 519.2 2160.1C522.7 2160.4 526.6 2160.7 530.3 2160.7C534 2160.7 537.7 2160.5 541.4 2160.1C545.1 2159.6 548.8 2158.6 552.5 2157.8C556.2 2157 559.5 2156 563.6 2155.2C567.6 2154.4 571.9 2153.5 576.9 2153C581.8 2152.4 590.5 2152 593.3 2151.9" fill="none" stroke="#392a86" stroke-width="2.6" stroke-linecap="butt" stroke-linejoin="round"/>
<line x1="509.5" y1="2181.8" x2="509.5" y2="2072" stroke="#000" stroke-width="2.9" stroke-dasharray="10.6 4.4"/>
<line x1="498.4" y1="2083.1" x2="552.4" y2="2083.1" stroke="#000" stroke-width="2.6"/>
<path d="M461.2 2072V2181.8H600.2" fill="none" stroke="#000" stroke-width="2.3" stroke-linecap="square" stroke-linejoin="miter"/>
<line x1="449.3" y1="2072" x2="460.2" y2="2072" stroke="#000" stroke-width="2.3"/>
<line x1="449.3" y1="2140.1" x2="460.2" y2="2140.1" stroke="#000" stroke-width="2.3"/>
<line x1="467.3" y1="2182.8" x2="467.3" y2="2193.7" stroke="#000" stroke-width="2.3"/>
<text x="467.3" y="2216.6" font-size="20.0" fill="#111" text-anchor="middle">-1</text>
<line x1="509.5" y1="2182.8" x2="509.5" y2="2193.7" stroke="#000" stroke-width="2.3"/>
<text x="509.5" y="2216.6" font-size="20.0" fill="#111" text-anchor="middle">0</text>
<line x1="551.6" y1="2182.8" x2="551.6" y2="2193.7" stroke="#000" stroke-width="2.3"/>
<text x="551.6" y="2216.6" font-size="20.0" fill="#111" text-anchor="middle">1</text>
<line x1="593.7" y1="2182.8" x2="593.7" y2="2193.7" stroke="#000" stroke-width="2.3"/>
<text x="593.7" y="2216.6" font-size="20.0" fill="#111" text-anchor="middle">2</text>
<text x="530.7" y="2057.5" font-size="22.75" fill="#111" text-anchor="middle">flee start</text>
<text x="551.3" y="2079" font-size="22.5" fill="#111" text-anchor="middle">p=0.78</text>
<text x="530.7" y="2249" font-size="22.5" fill="#111" text-anchor="middle">Time (s)</text>
<path d="M641.4 2151.4C642.3 2150.8 644.9 2148.6 646.7 2147.6C648.5 2146.7 649.8 2145.7 652.2 2145.9C654.6 2146 658.3 2147.8 661.1 2148.5C663.9 2149.3 666.3 2150.7 668.9 2150.3C671.5 2149.9 674.2 2148.9 676.6 2146.3C679 2143.7 681.1 2138.9 683.3 2134.6C685.5 2130.2 687.3 2124.5 689.9 2120.2C692.5 2115.8 695.8 2111.5 698.8 2108.6C701.8 2105.8 704.7 2104 707.7 2103.1C710.6 2102.1 713.6 2102.4 716.5 2102.9C719.5 2103.3 722.1 2104.2 725.4 2105.7C728.7 2107.3 732.8 2110.1 736.5 2112.4C740.2 2114.7 743.9 2117.1 747.6 2119.7C751.3 2122.3 755.4 2125.2 758.7 2127.9C761.9 2130.6 765.7 2134.6 767.1 2135.9L767.1 2147C765.7 2145.9 761.9 2142.7 758.7 2140.3C755.4 2138 751.3 2135.6 747.6 2133C743.9 2130.4 740.2 2127.3 736.5 2124.8C732.8 2122.3 728.7 2119.7 725.4 2118.2C722.1 2116.6 719.5 2115.6 716.5 2115.3C713.6 2115 710.6 2115.3 707.7 2116.4C704.7 2117.5 701.8 2119.1 698.8 2121.9C695.8 2124.8 692.5 2129.3 689.9 2133.5C687.3 2137.6 685.5 2143 683.3 2147C681.1 2151 679 2155.2 676.6 2157.4C674.2 2159.6 671.5 2159.9 668.9 2160.1C666.3 2160.2 663.9 2159 661.1 2158.3C658.3 2157.5 654.6 2155.8 652.2 2155.6C649.8 2155.5 648.5 2156.2 646.7 2157.4C644.9 2158.5 642.3 2161.6 641.4 2162.5Z" fill="rgba(85,130,225,0.31)"/>
<path d="M641.4 2151.4C642.3 2150.4 644.9 2146.4 646.7 2145.2C648.5 2144 649.8 2143.7 652.2 2144.1C654.6 2144.5 658.3 2146.6 661.1 2147.4C663.9 2148.3 666.3 2149.7 668.9 2149.2C671.5 2148.7 674.2 2147 676.6 2144.5C679 2142 681.1 2138.3 683.3 2134.1C685.5 2129.9 687.3 2123.9 689.9 2119.3C692.5 2114.6 695.8 2109.6 698.8 2106.4C701.8 2103.2 704.7 2101.2 707.7 2100.2C710.6 2099.2 713.6 2099.6 716.5 2100.4C719.5 2101.2 722.1 2102.5 725.4 2104.9C728.7 2107.2 732.8 2111.2 736.5 2114.6C740.2 2118 743.9 2122.1 747.6 2125.2C751.3 2128.4 755.4 2131.3 758.7 2133.7C761.9 2136 765.7 2138.3 767.1 2139.2L767.1 2148.1C765.7 2147.3 761.9 2145.4 758.7 2143.4C755.4 2141.5 751.3 2139.1 747.6 2136.3C743.9 2133.6 740.2 2129.9 736.5 2127C732.8 2124.1 728.7 2120.9 725.4 2119C722.1 2117.2 719.5 2116.3 716.5 2115.9C713.6 2115.6 710.6 2116 707.7 2117C704.7 2118 701.8 2119.2 698.8 2121.9C695.8 2124.7 692.5 2129.2 689.9 2133.5C687.3 2137.7 685.5 2143.5 683.3 2147.4C681.1 2151.3 679 2154.8 676.6 2156.9C674.2 2159.1 671.5 2160 668.9 2160.3C666.3 2160.5 663.9 2159.4 661.1 2158.5C658.3 2157.7 654.6 2155.5 652.2 2155.2C649.8 2154.8 648.5 2155.3 646.7 2156.3C644.9 2157.3 642.3 2160.3 641.4 2161.2Z" fill="rgba(62,50,135,0.33)"/>
<path d="M641.4 2156.9C642.3 2156.2 644.9 2153.6 646.7 2152.5C648.5 2151.5 649.8 2150.6 652.2 2150.7C654.6 2150.9 658.3 2152.7 661.1 2153.4C663.9 2154.1 666.3 2155.4 668.9 2155.2C671.5 2154.9 674.2 2154.3 676.6 2151.9C679 2149.4 681.1 2144.9 683.3 2140.8C685.5 2136.6 687.3 2131.1 689.9 2126.8C692.5 2122.6 695.8 2118.1 698.8 2115.3C701.8 2112.4 704.7 2110.8 707.7 2109.7C710.6 2108.7 713.6 2108.7 716.5 2109.1C719.5 2109.4 722.1 2110.4 725.4 2111.9C728.7 2113.5 732.8 2116.2 736.5 2118.6C740.2 2121 743.9 2123.8 747.6 2126.4C751.3 2128.9 755.4 2131.6 758.7 2134.1C761.9 2136.6 765.7 2140.2 767.1 2141.4" fill="none" stroke="#4680ba" stroke-width="2.6" stroke-linecap="butt" stroke-linejoin="round"/>
<path d="M641.4 2156.3C642.3 2155.4 644.9 2151.9 646.7 2150.7C648.5 2149.6 649.8 2149.3 652.2 2149.6C654.6 2150 658.3 2152.1 661.1 2153C663.9 2153.8 666.3 2155.1 668.9 2154.7C671.5 2154.4 674.2 2153.1 676.6 2150.7C679 2148.4 681.1 2144.8 683.3 2140.8C685.5 2136.7 687.3 2130.8 689.9 2126.4C692.5 2121.9 695.8 2117.1 698.8 2114.2C701.8 2111.2 704.7 2109.6 707.7 2108.6C710.6 2107.6 713.6 2107.6 716.5 2108.2C719.5 2108.7 722.1 2109.8 725.4 2111.9C728.7 2114.1 732.8 2117.7 736.5 2120.8C740.2 2124 743.9 2127.8 747.6 2130.8C751.3 2133.7 755.4 2136.4 758.7 2138.6C761.9 2140.7 765.7 2142.8 767.1 2143.6" fill="none" stroke="#392a86" stroke-width="2.6" stroke-linecap="butt" stroke-linejoin="round"/>
<line x1="683.5" y1="2181.8" x2="683.5" y2="2072" stroke="#000" stroke-width="2.9" stroke-dasharray="10.6 4.4"/>
<line x1="672.4" y1="2083.1" x2="726.4" y2="2083.1" stroke="#000" stroke-width="2.6"/>
<path d="M635.2 2072V2181.8H774.2" fill="none" stroke="#000" stroke-width="2.3" stroke-linecap="square" stroke-linejoin="miter"/>
<line x1="623.3" y1="2072" x2="634.2" y2="2072" stroke="#000" stroke-width="2.3"/>
<line x1="623.3" y1="2140.1" x2="634.2" y2="2140.1" stroke="#000" stroke-width="2.3"/>
<line x1="641.4" y1="2182.8" x2="641.4" y2="2193.7" stroke="#000" stroke-width="2.3"/>
<text x="641.4" y="2216.6" font-size="20.0" fill="#111" text-anchor="middle">-1</text>
<line x1="683.5" y1="2182.8" x2="683.5" y2="2193.7" stroke="#000" stroke-width="2.3"/>
<text x="683.5" y="2216.6" font-size="20.0" fill="#111" text-anchor="middle">0</text>
<line x1="725.6" y1="2182.8" x2="725.6" y2="2193.7" stroke="#000" stroke-width="2.3"/>
<text x="725.6" y="2216.6" font-size="20.0" fill="#111" text-anchor="middle">1</text>
<line x1="767.7" y1="2182.8" x2="767.7" y2="2193.7" stroke="#000" stroke-width="2.3"/>
<text x="767.7" y="2216.6" font-size="20.0" fill="#111" text-anchor="middle">2</text>
<text x="704.7" y="2057.5" font-size="22.75" fill="#111" text-anchor="middle">flee end</text>
<text x="725.3" y="2079" font-size="22.5" fill="#111" text-anchor="middle">p=0.90</text>
<text x="704.7" y="2249" font-size="22.5" fill="#111" text-anchor="middle">Time (s)</text>
<path d="M815 2134.8C816.2 2135.8 819.5 2139.1 822.1 2140.8C824.8 2142.4 827.7 2143.7 831 2144.5C834.3 2145.4 837.7 2145.3 842.1 2145.9C846.4 2146.4 852.7 2147 857.1 2147.9C861.6 2148.7 865.3 2150.7 868.7 2151.2C872.1 2151.7 874.6 2151.6 877.5 2150.7C880.5 2149.9 883.5 2148 886.4 2146.3C889.4 2144.6 892.3 2142.6 895.3 2140.8C898.2 2138.9 900.8 2137 904.1 2135.2C907.5 2133.5 911.5 2131.1 915.2 2130.1C918.9 2129.1 923 2129.2 926.3 2129.2C929.6 2129.2 932.7 2130.1 935.2 2130.1C937.7 2130.2 940.2 2129.6 941.2 2129.5L941.2 2141.9C940.2 2141.8 937.7 2141.5 935.2 2141.2C932.7 2141 929.6 2140.3 926.3 2140.3C923 2140.3 918.9 2140.2 915.2 2141.2C911.5 2142.2 907.5 2144.5 904.1 2146.3C900.8 2148.1 898.2 2149.8 895.3 2151.9C892.3 2153.9 889.4 2156.8 886.4 2158.7C883.5 2160.6 880.5 2162.3 877.5 2163.2C874.6 2164 872.1 2164.3 868.7 2163.6C865.3 2162.9 861.6 2160.3 857.1 2158.9C852.7 2157.6 846.4 2156.5 842.1 2155.6C837.7 2154.7 834.3 2154.4 831 2153.4C827.7 2152.4 824.8 2151.1 822.1 2149.6C819.5 2148.2 816.2 2145.4 815 2144.5Z" fill="rgba(85,130,225,0.31)"/>
<path d="M815 2146.3C816.6 2146.7 820.9 2148.9 824.3 2148.5C827.7 2148.2 831.7 2145.2 835.4 2144.1C839.1 2143 842.9 2141.7 846.5 2141.9C850.1 2142.1 853.5 2144 857.1 2145.2C860.8 2146.4 865.3 2148.6 868.7 2149C872.1 2149.3 874.6 2149.2 877.5 2147.4C880.5 2145.6 883.5 2141.8 886.4 2138.1C889.4 2134.4 892.5 2128.5 895.3 2125.2C898 2122 900.6 2119.9 903 2118.6C905.4 2117.3 907.5 2117 909.7 2117.5C911.9 2118 913.9 2119.6 916.3 2121.5C918.7 2123.3 921.7 2126.8 924.1 2128.6C926.5 2130.4 928.7 2131.9 930.7 2132.3C932.8 2132.8 934.5 2132.3 936.3 2131.5C938 2130.6 940.3 2127.8 941.2 2127L941.2 2141.2C940.3 2142.2 938 2145.6 936.3 2147C934.5 2148.3 932.8 2149.7 930.7 2149.2C928.7 2148.7 926.5 2146.3 924.1 2144.1C921.7 2141.8 918.7 2137.5 916.3 2135.7C913.9 2133.8 911.9 2133.3 909.7 2133C907.5 2132.7 905.4 2132.8 903 2134.1C900.6 2135.4 898 2137.7 895.3 2140.8C892.5 2143.8 889.4 2149 886.4 2152.3C883.5 2155.6 880.5 2159.1 877.5 2160.7C874.6 2162.4 872.1 2162.6 868.7 2162.3C865.3 2161.9 860.8 2159.8 857.1 2158.5C853.5 2157.2 850.1 2154.6 846.5 2154.3C842.9 2154 839.1 2155.6 835.4 2156.5C831.7 2157.4 827.7 2159.5 824.3 2159.6C820.9 2159.8 816.6 2157.8 815 2157.4Z" fill="rgba(62,50,135,0.33)"/>
<path d="M815 2139.7C816.2 2140.6 819.5 2143.6 822.1 2145.2C824.8 2146.8 827.7 2148 831 2149C834.3 2149.9 837.7 2150 842.1 2150.7C846.4 2151.5 852.7 2152.3 857.1 2153.4C861.6 2154.5 865.3 2156.8 868.7 2157.4C872.1 2158 874.6 2157.8 877.5 2156.9C880.5 2156.1 883.5 2154.3 886.4 2152.5C889.4 2150.7 892.3 2148.3 895.3 2146.3C898.2 2144.4 900.8 2142.5 904.1 2140.8C907.5 2139 911.5 2136.7 915.2 2135.7C918.9 2134.7 923 2134.8 926.3 2134.8C929.6 2134.8 932.7 2135.5 935.2 2135.7C937.7 2135.8 940.2 2135.7 941.2 2135.7" fill="none" stroke="#4680ba" stroke-width="2.6" stroke-linecap="butt" stroke-linejoin="round"/>
<path d="M815 2151.9C816.6 2152.2 820.9 2154.3 824.3 2154.1C827.7 2153.8 831.7 2151.3 835.4 2150.3C839.1 2149.3 842.9 2147.8 846.5 2148.1C850.1 2148.3 853.5 2150.6 857.1 2151.9C860.8 2153.1 865.3 2155.3 868.7 2155.6C872.1 2156 874.6 2155.8 877.5 2154.1C880.5 2152.3 883.5 2148.7 886.4 2145.2C889.4 2141.7 892.5 2136.1 895.3 2133C898 2129.9 900.6 2127.7 903 2126.4C905.4 2125.1 907.5 2124.9 909.7 2125.2C911.9 2125.6 913.9 2126.7 916.3 2128.6C918.7 2130.4 921.7 2134.3 924.1 2136.3C926.5 2138.4 928.7 2140.3 930.7 2140.8C932.8 2141.2 934.5 2140.3 936.3 2139.2C938 2138.1 940.3 2135 941.2 2134.1" fill="none" stroke="#392a86" stroke-width="2.6" stroke-linecap="butt" stroke-linejoin="round"/>
<line x1="857.1" y1="2181.8" x2="857.1" y2="2072" stroke="#000" stroke-width="2.9" stroke-dasharray="10.6 4.4"/>
<line x1="846.1" y1="2083.1" x2="900.1" y2="2083.1" stroke="#000" stroke-width="2.6"/>
<path d="M808.8 2072V2181.8H947.8" fill="none" stroke="#000" stroke-width="2.3" stroke-linecap="square" stroke-linejoin="miter"/>
<line x1="796.9" y1="2072" x2="807.8" y2="2072" stroke="#000" stroke-width="2.3"/>
<line x1="796.9" y1="2140.1" x2="807.8" y2="2140.1" stroke="#000" stroke-width="2.3"/>
<line x1="815" y1="2182.8" x2="815" y2="2193.7" stroke="#000" stroke-width="2.3"/>
<text x="815" y="2216.6" font-size="20.0" fill="#111" text-anchor="middle">-1</text>
<line x1="857.1" y1="2182.8" x2="857.1" y2="2193.7" stroke="#000" stroke-width="2.3"/>
<text x="857.1" y="2216.6" font-size="20.0" fill="#111" text-anchor="middle">0</text>
<line x1="899.2" y1="2182.8" x2="899.2" y2="2193.7" stroke="#000" stroke-width="2.3"/>
<text x="899.2" y="2216.6" font-size="20.0" fill="#111" text-anchor="middle">1</text>
<line x1="941.4" y1="2182.8" x2="941.4" y2="2193.7" stroke="#000" stroke-width="2.3"/>
<text x="941.4" y="2216.6" font-size="20.0" fill="#111" text-anchor="middle">2</text>
<text x="878.3" y="2057.5" font-size="22.75" fill="#111" text-anchor="middle">attacked start</text>
<text x="898.9" y="2079" font-size="22.5" fill="#111" text-anchor="middle">p=0.66</text>
<text x="878.3" y="2249" font-size="22.5" fill="#111" text-anchor="middle">Time (s)</text>
<path d="M988.8 2160.7C989.5 2158.7 991.4 2152 992.8 2148.5C994.2 2145.1 995.8 2142.1 997.2 2140.1C998.7 2138.1 999.8 2137 1001.7 2136.8C1003.5 2136.5 1006.1 2137.4 1008.3 2138.6C1010.5 2139.7 1012.8 2142.4 1015 2143.6C1017.2 2144.9 1019.8 2145.9 1021.6 2145.9C1023.5 2145.8 1024.5 2145 1026.1 2143.2C1027.6 2141.4 1029.1 2138.5 1030.9 2135.2C1032.8 2131.9 1034.6 2127.4 1037.1 2123.5C1039.7 2119.6 1043.1 2114.9 1046 2111.9C1049 2109 1051.9 2107.1 1054.9 2106C1057.8 2104.9 1060.8 2104.6 1063.8 2105.3C1066.7 2106 1069.3 2107.7 1072.6 2110.2C1075.9 2112.7 1080 2117 1083.7 2120.2C1087.4 2123.3 1091.1 2126.7 1094.8 2129.2C1098.5 2131.8 1102.5 2133.5 1105.9 2135.2C1109.3 2137 1113.6 2138.9 1115.2 2139.7L1115.2 2150.7C1113.6 2150 1109.3 2148 1105.9 2146.3C1102.5 2144.6 1098.5 2142.6 1094.8 2140.3C1091.1 2138 1087.4 2135.5 1083.7 2132.6C1080 2129.6 1075.9 2124.9 1072.6 2122.6C1069.3 2120.3 1066.7 2119.2 1063.8 2118.6C1060.8 2118 1057.8 2118.2 1054.9 2119.3C1051.9 2120.4 1049 2122.5 1046 2125.2C1043.1 2128 1039.7 2132.4 1037.1 2135.9C1034.6 2139.4 1032.8 2143.5 1030.9 2146.3C1029.1 2149.2 1027.6 2151.4 1026.1 2153C1024.5 2154.5 1023.5 2155.5 1021.6 2155.6C1019.8 2155.7 1017.2 2154.8 1015 2153.4C1012.8 2152 1010.5 2148.9 1008.3 2147.4C1006.1 2146 1003.5 2144.6 1001.7 2144.8C999.8 2144.9 998.7 2146 997.2 2148.1C995.8 2150.2 994.2 2153.4 992.8 2157.4C991.4 2161.3 989.5 2169.4 988.8 2171.8Z" fill="rgba(85,130,225,0.31)"/>
<path d="M988.8 2144.1C989.5 2142.2 991.4 2136 992.8 2133C994.2 2130.1 995.8 2127.7 997.2 2126.4C998.7 2125.1 999.8 2124.6 1001.7 2125.2C1003.5 2125.9 1006.1 2128.1 1008.3 2130.1C1010.5 2132.2 1012.8 2135.6 1015 2137.4C1017.2 2139.3 1019.8 2141.1 1021.6 2141.4C1023.5 2141.8 1024.5 2141.1 1026.1 2139.7C1027.6 2138.2 1029.1 2136.4 1030.9 2132.6C1032.8 2128.7 1034.6 2121.9 1037.1 2116.4C1039.7 2110.8 1043.1 2103.6 1046 2099.3C1049 2095.1 1052.3 2092.3 1054.9 2090.9C1057.5 2089.5 1059.3 2089.9 1061.5 2090.9C1063.8 2091.9 1065.6 2093.7 1068.2 2096.9C1070.8 2100 1073.7 2105.6 1077.1 2109.7C1080.4 2113.9 1084.4 2118.9 1088.1 2121.9C1091.8 2125 1094.7 2126.6 1099.2 2128.1C1103.7 2129.7 1112.5 2130.7 1115.2 2131.2L1115.2 2148.1C1112.5 2147.7 1103.7 2146.9 1099.2 2145.9C1094.7 2144.8 1091.8 2143.8 1088.1 2141.9C1084.4 2139.9 1080.4 2136.6 1077.1 2134.1C1073.7 2131.6 1070.8 2128.7 1068.2 2127C1065.6 2125.4 1063.8 2124.6 1061.5 2124.1C1059.3 2123.7 1057.5 2123.7 1054.9 2124.1C1052.3 2124.6 1049 2124.8 1046 2126.8C1043.1 2128.8 1039.7 2133 1037.1 2136.3C1034.6 2139.7 1032.8 2144 1030.9 2146.8C1029.1 2149.5 1027.6 2151.6 1026.1 2153C1024.5 2154.3 1023.5 2155.1 1021.6 2154.7C1019.8 2154.4 1017.2 2152.8 1015 2150.7C1012.8 2148.7 1010.5 2144.9 1008.3 2142.5C1006.1 2140.1 1003.5 2137.2 1001.7 2136.3C999.8 2135.5 998.7 2136.1 997.2 2137.4C995.8 2138.7 994.2 2141.1 992.8 2144.1C991.4 2147 989.5 2153.3 988.8 2155.2Z" fill="rgba(62,50,135,0.33)"/>
<path d="M988.8 2166.3C989.5 2164 991.4 2156.7 992.8 2153C994.2 2149.3 995.8 2146.1 997.2 2144.1C998.7 2142.1 999.8 2141 1001.7 2140.8C1003.5 2140.6 1006.1 2141.7 1008.3 2143C1010.5 2144.3 1012.8 2147.2 1015 2148.5C1017.2 2149.8 1019.8 2150.8 1021.6 2150.7C1023.5 2150.7 1024.5 2149.7 1026.1 2148.1C1027.6 2146.4 1029.1 2143.8 1030.9 2140.8C1032.8 2137.7 1034.6 2133.4 1037.1 2129.7C1039.7 2126 1043.1 2121.4 1046 2118.6C1049 2115.8 1051.9 2113.7 1054.9 2112.6C1057.8 2111.5 1060.8 2111.3 1063.8 2111.9C1066.7 2112.6 1069.3 2114 1072.6 2116.4C1075.9 2118.8 1080 2123.3 1083.7 2126.4C1087.4 2129.4 1091.1 2132.4 1094.8 2134.8C1098.5 2137.2 1102.5 2139 1105.9 2140.8C1109.3 2142.5 1113.6 2144.5 1115.2 2145.2" fill="none" stroke="#4680ba" stroke-width="2.6" stroke-linecap="butt" stroke-linejoin="round"/>
<path d="M988.8 2149.6C989.5 2147.8 991.4 2141.5 992.8 2138.6C994.2 2135.6 995.8 2133.2 997.2 2131.9C998.7 2130.6 999.8 2130.1 1001.7 2130.8C1003.5 2131.5 1006.1 2134.1 1008.3 2136.3C1010.5 2138.6 1012.8 2142.1 1015 2144.1C1017.2 2146.1 1019.8 2147.7 1021.6 2148.1C1023.5 2148.5 1024.5 2147.7 1026.1 2146.3C1027.6 2144.9 1029.1 2143 1030.9 2139.7C1032.8 2136.3 1034.6 2130.8 1037.1 2126.4C1039.7 2121.9 1043.1 2116.2 1046 2113.1C1049 2109.9 1052.3 2108.4 1054.9 2107.5C1057.5 2106.6 1059.3 2106.8 1061.5 2107.5C1063.8 2108.3 1065.6 2109.5 1068.2 2111.9C1070.8 2114.4 1073.7 2118.6 1077.1 2121.9C1080.4 2125.2 1084.4 2129.4 1088.1 2131.9C1091.8 2134.4 1094.7 2135.7 1099.2 2137C1103.7 2138.3 1112.5 2139.2 1115.2 2139.7" fill="none" stroke="#392a86" stroke-width="2.6" stroke-linecap="butt" stroke-linejoin="round"/>
<line x1="1030.9" y1="2181.8" x2="1030.9" y2="2072" stroke="#000" stroke-width="2.9" stroke-dasharray="10.6 4.4"/>
<line x1="1019.9" y1="2083.1" x2="1073.9" y2="2083.1" stroke="#000" stroke-width="2.6"/>
<path d="M982.6 2072V2181.8H1121.6" fill="none" stroke="#000" stroke-width="2.3" stroke-linecap="square" stroke-linejoin="miter"/>
<line x1="970.7" y1="2072" x2="981.6" y2="2072" stroke="#000" stroke-width="2.3"/>
<line x1="970.7" y1="2140.1" x2="981.6" y2="2140.1" stroke="#000" stroke-width="2.3"/>
<line x1="988.8" y1="2182.8" x2="988.8" y2="2193.7" stroke="#000" stroke-width="2.3"/>
<text x="988.8" y="2216.6" font-size="20.0" fill="#111" text-anchor="middle">-1</text>
<line x1="1030.9" y1="2182.8" x2="1030.9" y2="2193.7" stroke="#000" stroke-width="2.3"/>
<text x="1030.9" y="2216.6" font-size="20.0" fill="#111" text-anchor="middle">0</text>
<line x1="1073" y1="2182.8" x2="1073" y2="2193.7" stroke="#000" stroke-width="2.3"/>
<text x="1073" y="2216.6" font-size="20.0" fill="#111" text-anchor="middle">1</text>
<line x1="1115.2" y1="2182.8" x2="1115.2" y2="2193.7" stroke="#000" stroke-width="2.3"/>
<text x="1115.2" y="2216.6" font-size="20.0" fill="#111" text-anchor="middle">2</text>
<text x="1052.1" y="2057.5" font-size="22.75" fill="#111" text-anchor="middle">attacked end</text>
<text x="1072.7" y="2079" font-size="22.5" fill="#111" text-anchor="middle">p=0.76</text>
<text x="1052.1" y="2249" font-size="22.5" fill="#111" text-anchor="middle">Time (s)</text>
<path d="M1163 2139.7C1164.5 2139.5 1168.8 2138.5 1172.1 2139C1175.5 2139.5 1179.5 2141 1183.2 2142.5C1186.9 2144.1 1190.7 2147.2 1194.3 2148.5C1197.9 2149.9 1201.6 2150.8 1204.9 2150.7C1208.3 2150.7 1210.8 2149.4 1214.2 2148.1C1217.6 2146.7 1221.6 2144.5 1225.3 2142.5C1229 2140.6 1232.7 2138.8 1236.4 2136.6C1240.1 2134.3 1243.8 2131.8 1247.5 2129C1251.2 2126.2 1255.2 2122.3 1258.6 2119.7C1261.9 2117.1 1264.9 2114.8 1267.4 2113.5C1270 2112.2 1271.9 2111.4 1274.1 2111.9C1276.3 2112.5 1278.9 2114.4 1280.7 2116.8C1282.6 2119.2 1283.8 2123.1 1285.2 2126.4C1286.5 2129.6 1288.3 2134.7 1288.9 2136.3L1288.9 2147.4C1288.3 2145.8 1286.5 2140.5 1285.2 2137.4C1283.8 2134.4 1282.6 2131.3 1280.7 2129.2C1278.9 2127.2 1276.3 2125.7 1274.1 2125.2C1271.9 2124.8 1270 2125.5 1267.4 2126.8C1264.9 2128.1 1261.9 2130.4 1258.6 2133C1255.2 2135.6 1251.2 2139.4 1247.5 2142.3C1243.8 2145.3 1240.1 2148.3 1236.4 2150.7C1232.7 2153.1 1229 2155 1225.3 2156.7C1221.6 2158.5 1217.6 2160.3 1214.2 2161.4C1210.8 2162.5 1208.3 2163.5 1204.9 2163.2C1201.6 2162.9 1197.9 2161.2 1194.3 2159.6C1190.7 2158 1186.9 2155 1183.2 2153.6C1179.5 2152.3 1175.5 2151.1 1172.1 2151.4C1168.8 2151.7 1164.5 2154.5 1163 2155.2Z" fill="rgba(85,130,225,0.31)"/>
<path d="M1163 2135.2C1164.5 2136.1 1168.8 2138.5 1172.1 2140.3C1175.5 2142.2 1179.5 2144.3 1183.2 2146.3C1186.9 2148.3 1190.7 2150.5 1194.3 2152.3C1197.9 2154.1 1201.6 2155.8 1204.9 2156.9C1208.3 2158.1 1211.2 2159 1214.2 2159.2C1217.3 2159.3 1220.2 2159.1 1223.1 2157.8C1226.1 2156.6 1229 2154.4 1232 2151.9C1234.9 2149.3 1237.9 2145.5 1240.8 2142.8C1243.8 2140 1246.9 2137 1249.7 2135.2C1252.5 2133.5 1254.9 2132.6 1257.5 2132.3C1260.1 2132.1 1262.5 2132.9 1265.2 2133.9C1268 2134.9 1271.1 2137.5 1274.1 2138.6C1277 2139.6 1280.5 2140.3 1283 2140.3C1285.4 2140.3 1287.9 2138.8 1288.9 2138.6L1288.9 2149.6C1287.9 2149.9 1285.4 2151.4 1283 2151.4C1280.5 2151.4 1277 2150.5 1274.1 2149.6C1271.1 2148.8 1268 2147.1 1265.2 2146.3C1262.5 2145.5 1260.1 2144.5 1257.5 2144.8C1254.9 2145 1252.5 2145.9 1249.7 2147.6C1246.9 2149.4 1243.8 2152.3 1240.8 2155.2C1237.9 2158.1 1234.9 2162.5 1232 2165.2C1229 2167.8 1226.1 2169.9 1223.1 2171.1C1220.2 2172.4 1217.3 2172.6 1214.2 2172.5C1211.2 2172.3 1208.3 2171.5 1204.9 2170.3C1201.6 2169 1197.9 2166.9 1194.3 2164.7C1190.7 2162.6 1186.9 2159.6 1183.2 2157.4C1179.5 2155.2 1175.5 2152.9 1172.1 2151.4C1168.8 2149.9 1164.5 2149 1163 2148.5Z" fill="rgba(62,50,135,0.33)"/>
<path d="M1163 2147.4C1164.5 2147 1168.8 2145.1 1172.1 2145.2C1175.5 2145.3 1179.5 2146.6 1183.2 2148.1C1186.9 2149.6 1190.7 2152.6 1194.3 2154.1C1197.9 2155.5 1201.6 2156.8 1204.9 2156.9C1208.3 2157.1 1210.8 2156 1214.2 2154.7C1217.6 2153.5 1221.6 2151.5 1225.3 2149.6C1229 2147.8 1232.7 2146 1236.4 2143.6C1240.1 2141.3 1243.8 2138.6 1247.5 2135.7C1251.2 2132.8 1255.2 2128.9 1258.6 2126.4C1261.9 2123.8 1264.9 2121.4 1267.4 2120.2C1270 2118.9 1271.9 2118.1 1274.1 2118.6C1276.3 2119.1 1278.9 2120.8 1280.7 2123C1282.6 2125.2 1283.8 2128.8 1285.2 2131.9C1286.5 2135 1288.3 2140.2 1288.9 2141.9" fill="none" stroke="#4680ba" stroke-width="2.6" stroke-linecap="butt" stroke-linejoin="round"/>
<path d="M1163 2141.9C1164.5 2142.5 1168.8 2144.2 1172.1 2145.9C1175.5 2147.5 1179.5 2149.7 1183.2 2151.9C1186.9 2154 1190.7 2156.5 1194.3 2158.5C1197.9 2160.5 1201.6 2162.4 1204.9 2163.6C1208.3 2164.8 1211.2 2165.7 1214.2 2165.8C1217.3 2166 1220.2 2165.7 1223.1 2164.5C1226.1 2163.3 1229 2161.1 1232 2158.5C1234.9 2155.9 1237.9 2151.8 1240.8 2149C1243.8 2146.1 1246.9 2143.2 1249.7 2141.4C1252.5 2139.7 1254.9 2138.8 1257.5 2138.6C1260.1 2138.3 1262.5 2139.2 1265.2 2140.1C1268 2141 1271.1 2143.1 1274.1 2144.1C1277 2145.1 1280.5 2145.9 1283 2145.9C1285.4 2145.9 1287.9 2144.4 1288.9 2144.1" fill="none" stroke="#392a86" stroke-width="2.6" stroke-linecap="butt" stroke-linejoin="round"/>
<line x1="1205.1" y1="2181.8" x2="1205.1" y2="2072" stroke="#000" stroke-width="2.9" stroke-dasharray="10.6 4.4"/>
<line x1="1194.1" y1="2083.1" x2="1248.1" y2="2083.1" stroke="#000" stroke-width="2.6"/>
<path d="M1156.8 2072V2181.8H1295.8" fill="none" stroke="#000" stroke-width="2.3" stroke-linecap="square" stroke-linejoin="miter"/>
<line x1="1144.9" y1="2072" x2="1155.8" y2="2072" stroke="#000" stroke-width="2.3"/>
<line x1="1144.9" y1="2140.1" x2="1155.8" y2="2140.1" stroke="#000" stroke-width="2.3"/>
<line x1="1163" y1="2182.8" x2="1163" y2="2193.7" stroke="#000" stroke-width="2.3"/>
<text x="1163" y="2216.6" font-size="20.0" fill="#111" text-anchor="middle">-1</text>
<line x1="1205.1" y1="2182.8" x2="1205.1" y2="2193.7" stroke="#000" stroke-width="2.3"/>
<text x="1205.1" y="2216.6" font-size="20.0" fill="#111" text-anchor="middle">0</text>
<line x1="1247.2" y1="2182.8" x2="1247.2" y2="2193.7" stroke="#000" stroke-width="2.3"/>
<text x="1247.2" y="2216.6" font-size="20.0" fill="#111" text-anchor="middle">1</text>
<line x1="1289.4" y1="2182.8" x2="1289.4" y2="2193.7" stroke="#000" stroke-width="2.3"/>
<text x="1289.4" y="2216.6" font-size="20.0" fill="#111" text-anchor="middle">2</text>
<text x="1226.3" y="2030.9" font-size="22.75" fill="#111" text-anchor="middle">investigated</text>
<text x="1229.8" y="2057.5" font-size="22.75" fill="#111" text-anchor="middle">start</text>
<text x="1246.9" y="2079" font-size="22.5" fill="#111" text-anchor="middle">p=0.35</text>
<text x="1226.3" y="2249" font-size="22.5" fill="#111" text-anchor="middle">Time (s)</text>
<path d="M1336.8 2135.7C1338.2 2135.1 1342.2 2133.2 1345 2132.3C1347.9 2131.5 1350.9 2131 1353.9 2130.8C1356.9 2130.6 1359.8 2130.8 1362.8 2131.2C1365.7 2131.7 1368.9 2132.7 1371.6 2133.5C1374.3 2134.2 1376.4 2134.8 1378.9 2135.7C1381.5 2136.6 1384.3 2138 1387.1 2138.8C1390 2139.5 1393.1 2140.3 1396 2140.3C1399 2140.3 1401.9 2139.8 1404.9 2138.8C1407.8 2137.8 1410.8 2135.7 1413.8 2134.3C1416.7 2132.9 1419.7 2131.2 1422.6 2130.3C1425.6 2129.5 1428.5 2129.3 1431.5 2129.2C1434.4 2129.2 1437.4 2129.5 1440.4 2130.1C1443.3 2130.8 1446.3 2132.3 1449.2 2133C1452.2 2133.7 1455.8 2134.2 1458.1 2134.1C1460.4 2134 1462.2 2132.6 1463 2132.3L1463 2147.9C1462.2 2147.8 1460.4 2147.8 1458.1 2147.4C1455.8 2147 1452.2 2146.5 1449.2 2145.4C1446.3 2144.4 1443.3 2142.3 1440.4 2141.2C1437.4 2140.1 1434.4 2139.2 1431.5 2139C1428.5 2138.8 1425.6 2139.3 1422.6 2140.1C1419.7 2141 1416.7 2142.7 1413.8 2144.1C1410.8 2145.5 1407.8 2147.5 1404.9 2148.5C1401.9 2149.5 1399 2150.1 1396 2150.1C1393.1 2150.1 1390 2149.4 1387.1 2148.5C1384.3 2147.6 1381.5 2145.6 1378.9 2144.5C1376.4 2143.5 1374.3 2143.1 1371.6 2142.3C1368.9 2141.6 1365.7 2140.4 1362.8 2140.1C1359.8 2139.8 1356.9 2140 1353.9 2140.5C1350.9 2141.1 1347.9 2142.2 1345 2143.4C1342.2 2144.7 1338.2 2147.3 1336.8 2148.1Z" fill="rgba(85,130,225,0.31)"/>
<path d="M1336.8 2138.1C1338.2 2137.6 1341.8 2135.8 1345 2134.8C1348.2 2133.7 1352.4 2132.9 1356.1 2131.9C1359.8 2130.9 1363.4 2129.8 1367.2 2128.6C1371 2127.4 1374.9 2125.9 1378.9 2124.8C1383 2123.7 1387.6 2122.7 1391.6 2121.9C1395.5 2121.1 1399 2120.6 1402.7 2120.2C1406.4 2119.7 1410.1 2119 1413.8 2119.3C1417.4 2119.5 1421.1 2120.5 1424.8 2121.5C1428.5 2122.4 1432.2 2124.1 1435.9 2125C1439.6 2126 1443.7 2127 1447 2127.2C1450.3 2127.5 1453.2 2127.1 1455.9 2126.4C1458.5 2125.6 1461.8 2123.2 1463 2122.6L1463 2138.1C1461.8 2138.4 1458.5 2139.4 1455.9 2139.7C1453.2 2139.9 1450.3 2140 1447 2139.7C1443.7 2139.3 1439.6 2138.3 1435.9 2137.4C1432.2 2136.6 1428.5 2135.4 1424.8 2134.8C1421.1 2134.1 1417.4 2133.7 1413.8 2133.5C1410.1 2133.2 1406.4 2133.3 1402.7 2133.5C1399 2133.6 1395.5 2133.9 1391.6 2134.3C1387.6 2134.7 1383 2135.2 1378.9 2135.9C1374.9 2136.6 1371 2137.5 1367.2 2138.3C1363.4 2139.1 1359.8 2139.9 1356.1 2140.8C1352.4 2141.7 1348.2 2142.5 1345 2143.6C1341.8 2144.8 1338.2 2147.2 1336.8 2147.9Z" fill="rgba(62,50,135,0.33)"/>
<path d="M1336.8 2141.9C1338.2 2141.2 1342.2 2138.9 1345 2137.9C1347.9 2136.9 1350.9 2136 1353.9 2135.7C1356.9 2135.3 1359.8 2135.3 1362.8 2135.7C1365.7 2136 1368.9 2137.1 1371.6 2137.9C1374.3 2138.6 1376.4 2139.1 1378.9 2140.1C1381.5 2141.1 1384.3 2142.8 1387.1 2143.6C1390 2144.5 1393.1 2145.2 1396 2145.2C1399 2145.2 1401.9 2144.6 1404.9 2143.6C1407.8 2142.7 1410.8 2140.6 1413.8 2139.2C1416.7 2137.8 1419.7 2136.1 1422.6 2135.2C1425.6 2134.4 1428.5 2134 1431.5 2134.1C1434.4 2134.2 1437.4 2134.8 1440.4 2135.7C1443.3 2136.5 1446.3 2138.4 1449.2 2139.2C1452.2 2140.1 1455.8 2140.6 1458.1 2140.8C1460.4 2140.9 1462.2 2140.2 1463 2140.1" fill="none" stroke="#4680ba" stroke-width="2.6" stroke-linecap="butt" stroke-linejoin="round"/>
<path d="M1336.8 2143C1338.2 2142.4 1341.8 2140.3 1345 2139.2C1348.2 2138.1 1352.4 2137.3 1356.1 2136.3C1359.8 2135.4 1363.4 2134.4 1367.2 2133.5C1371 2132.5 1374.9 2131.2 1378.9 2130.3C1383 2129.5 1387.6 2128.7 1391.6 2128.1C1395.5 2127.5 1399 2127.1 1402.7 2126.8C1406.4 2126.5 1410.1 2126.1 1413.8 2126.4C1417.4 2126.6 1421.1 2127.3 1424.8 2128.1C1428.5 2128.9 1432.2 2130.3 1435.9 2131.2C1439.6 2132.1 1443.7 2133.2 1447 2133.5C1450.3 2133.7 1453.2 2133.5 1455.9 2133C1458.5 2132.5 1461.8 2130.8 1463 2130.3" fill="none" stroke="#392a86" stroke-width="2.6" stroke-linecap="butt" stroke-linejoin="round"/>
<line x1="1378.9" y1="2181.8" x2="1378.9" y2="2072" stroke="#000" stroke-width="2.9" stroke-dasharray="10.6 4.4"/>
<line x1="1367.9" y1="2083.1" x2="1421.9" y2="2083.1" stroke="#000" stroke-width="2.6"/>
<path d="M1330.6 2072V2181.8H1469.6" fill="none" stroke="#000" stroke-width="2.3" stroke-linecap="square" stroke-linejoin="miter"/>
<line x1="1318.7" y1="2072" x2="1329.6" y2="2072" stroke="#000" stroke-width="2.3"/>
<line x1="1318.7" y1="2140.1" x2="1329.6" y2="2140.1" stroke="#000" stroke-width="2.3"/>
<line x1="1336.8" y1="2182.8" x2="1336.8" y2="2193.7" stroke="#000" stroke-width="2.3"/>
<text x="1336.8" y="2216.6" font-size="20.0" fill="#111" text-anchor="middle">-1</text>
<line x1="1378.9" y1="2182.8" x2="1378.9" y2="2193.7" stroke="#000" stroke-width="2.3"/>
<text x="1378.9" y="2216.6" font-size="20.0" fill="#111" text-anchor="middle">0</text>
<line x1="1421" y1="2182.8" x2="1421" y2="2193.7" stroke="#000" stroke-width="2.3"/>
<text x="1421" y="2216.6" font-size="20.0" fill="#111" text-anchor="middle">1</text>
<line x1="1463.2" y1="2182.8" x2="1463.2" y2="2193.7" stroke="#000" stroke-width="2.3"/>
<text x="1463.2" y="2216.6" font-size="20.0" fill="#111" text-anchor="middle">2</text>
<text x="1400.1" y="2030.9" font-size="22.75" fill="#111" text-anchor="middle">investigated</text>
<text x="1403.6" y="2057.5" font-size="22.75" fill="#111" text-anchor="middle">end</text>
<text x="1420.7" y="2079" font-size="22.5" fill="#111" text-anchor="middle">p=0.004**</text>
<text x="1400.1" y="2249" font-size="22.5" fill="#111" text-anchor="middle">Time (s)</text>
<text transform="translate(45.6 2127.5) rotate(-90)" font-size="22.5" fill="#111" text-anchor="middle">Weights</text>
<rect x="1487.6" y="2125" width="42.5" height="15.4" fill="#c5c0de" stroke="#b0abc9" stroke-width="1"/>
<text x="1546.5" y="2140.2" font-size="20.6" fill="#111">shell (n=6)</text>
<rect x="1487.6" y="2156" width="42.5" height="15.4" fill="#d7def3" stroke="#c9d0e6" stroke-width="1"/>
<text x="1546.5" y="2171.2" font-size="20.6" fill="#111">core (n=13)</text>
<path d="M117 2400.4C117.7 2402.4 119.6 2409.4 121 2412.4C122.4 2415.3 123.6 2418 125.5 2418.2C127.3 2418.3 129.5 2416.1 132.1 2413.1C134.7 2410 138 2404.2 141 2399.8C143.9 2395.3 146.9 2389.7 149.9 2386.5C152.8 2383.2 156 2381.1 158.9 2380.5C161.9 2379.9 164.3 2381.5 167.6 2382.9C170.9 2384.3 175 2387.3 178.7 2388.7C182.4 2390.1 186.1 2390.5 189.8 2391.3C193.5 2392.1 197.1 2392.4 200.8 2393.5C204.5 2394.7 208.2 2396.8 211.9 2398.4C215.6 2400.1 219.3 2402.3 223 2403.5C226.7 2404.7 230.8 2405.6 234.1 2405.7C237.3 2405.9 241.1 2404.8 242.5 2404.6L242.5 2413.5C241.1 2413.5 237.3 2414.1 234.1 2413.7C230.8 2413.4 226.7 2412.7 223 2411.5C219.3 2410.3 215.6 2408.1 211.9 2406.4C208.2 2404.7 204.5 2402.6 200.8 2401.5C197.1 2400.5 193.5 2400.9 189.8 2400.2C186.1 2399.5 182.4 2399.1 178.7 2397.5C175 2396 170.9 2392.6 167.6 2390.9C164.3 2389.2 161.9 2386.8 158.9 2387.1C156 2387.5 152.8 2389.9 149.9 2393.1C146.9 2396.3 143.9 2402 141 2406.4C138 2410.8 134.7 2416.6 132.1 2419.7C129.5 2422.8 127.3 2424.7 125.5 2424.8C123.6 2424.9 122.4 2422.6 121 2420.4C119.6 2418.2 117.7 2413 117 2411.5Z" fill="rgba(59,150,110,0.28)"/>
<path d="M117 2415.7C117.9 2416.2 120.4 2418.3 122.1 2418.6C123.9 2418.9 125.7 2419 127.7 2417.5C129.7 2416 131.7 2413.2 134.3 2409.7C136.9 2406.2 140.2 2400.8 143.2 2396.4C146.2 2392.1 149.4 2386.7 152.1 2383.6C154.7 2380.4 156.7 2379 158.9 2377.6C161.2 2376.2 163.2 2375.6 165.4 2375.4C167.6 2375.1 169.4 2375.1 172 2376C174.6 2377 177.9 2379 180.9 2380.9C183.8 2382.8 186.4 2385.1 189.8 2387.3C193.1 2389.6 197.1 2392.4 200.8 2394.2C204.5 2396 208.6 2397.4 211.9 2398.2C215.2 2399 217.8 2398.9 220.8 2399.1C223.7 2399.2 227.1 2398.7 229.7 2399.1C232.2 2399.5 234.2 2400.6 236.3 2401.5C238.5 2402.5 241.5 2404.3 242.5 2404.9L242.5 2414.6C241.5 2413.9 238.5 2411.7 236.3 2410.4C234.2 2409.1 232.2 2407.8 229.7 2407.1C227.1 2406.3 223.7 2406.1 220.8 2405.7C217.8 2405.4 215.2 2405.7 211.9 2404.9C208.6 2404 204.5 2402.5 200.8 2400.9C197.1 2399.3 193.1 2397.2 189.8 2395.3C186.4 2393.5 183.8 2391.4 180.9 2389.8C177.9 2388.2 174.6 2386.6 172 2385.8C169.4 2385 167.6 2385 165.4 2385.1C163.2 2385.2 161.2 2385.4 158.9 2386.5C156.7 2387.5 154.7 2388.8 152.1 2391.6C149.4 2394.3 146.2 2398.9 143.2 2403.1C140.2 2407.2 136.9 2412.9 134.3 2416.4C131.7 2419.9 129.7 2422.7 127.7 2424.1C125.7 2425.6 123.9 2425.3 122.1 2425.2C120.4 2425.2 117.9 2424 117 2423.7Z" fill="rgba(130,105,200,0.36)"/>
<path d="M117 2406C117.7 2407.7 119.6 2413.8 121 2416.4C122.4 2419 123.6 2421.5 125.5 2421.5C127.3 2421.5 129.5 2419.4 132.1 2416.4C134.7 2413.3 138 2407.5 141 2403.1C143.9 2398.6 146.9 2393 149.9 2389.8C152.8 2386.6 156 2384.3 158.9 2383.8C161.9 2383.3 164.3 2385.3 167.6 2386.9C170.9 2388.5 175 2391.6 178.7 2393.1C182.4 2394.6 186.1 2395 189.8 2395.8C193.5 2396.5 197.1 2396.4 200.8 2397.5C204.5 2398.6 208.2 2400.8 211.9 2402.4C215.6 2404.1 219.3 2406.3 223 2407.5C226.7 2408.7 230.8 2409.5 234.1 2409.7C237.3 2410 241.1 2409.2 242.5 2409.1" fill="none" stroke="#398a68" stroke-width="2.6" stroke-linecap="butt" stroke-linejoin="round"/>
<path d="M117 2419.7C117.9 2420.1 120.4 2421.7 122.1 2421.9C123.9 2422.1 125.7 2422.3 127.7 2420.8C129.7 2419.3 131.7 2416.6 134.3 2413.1C136.9 2409.5 140.2 2404 143.2 2399.8C146.2 2395.5 149.4 2390.5 152.1 2387.6C154.7 2384.6 156.7 2383.2 158.9 2382C161.2 2380.8 163.2 2380.4 165.4 2380.2C167.6 2380.1 169.4 2380.1 172 2380.9C174.6 2381.8 177.9 2383.6 180.9 2385.3C183.8 2387.1 186.4 2389.3 189.8 2391.3C193.1 2393.4 197.1 2395.8 200.8 2397.5C204.5 2399.2 208.6 2400.7 211.9 2401.5C215.2 2402.3 217.8 2402.2 220.8 2402.4C223.7 2402.7 227.1 2402.5 229.7 2403.1C232.2 2403.7 234.2 2404.9 236.3 2406C238.5 2407.1 241.5 2409.1 242.5 2409.7" fill="none" stroke="#7a6bb1" stroke-width="2.6" stroke-linecap="butt" stroke-linejoin="round"/>
<line x1="159.1" y1="2448.5" x2="159.1" y2="2342.9" stroke="#000" stroke-width="2.9" stroke-dasharray="10.6 4.4"/>
<line x1="148.1" y1="2366.5" x2="201.8" y2="2366.5" stroke="#000" stroke-width="2.6"/>
<path d="M111.1 2342.9V2448.5H249.3" fill="none" stroke="#000" stroke-width="2.3" stroke-linecap="square" stroke-linejoin="miter"/>
<line x1="99.2" y1="2358.3" x2="110.1" y2="2358.3" stroke="#000" stroke-width="2.3"/>
<text x="90.5" y="2366.6" font-size="20.0" fill="#111" text-anchor="end">0.5</text>
<line x1="99.2" y1="2411.5" x2="110.1" y2="2411.5" stroke="#000" stroke-width="2.3"/>
<text x="90.5" y="2419.8" font-size="20.0" fill="#111" text-anchor="end">0.0</text>
<line x1="117.2" y1="2449.5" x2="117.2" y2="2460.4" stroke="#000" stroke-width="2.3"/>
<text x="117.2" y="2482.2" font-size="20.0" fill="#111" text-anchor="middle">-1</text>
<line x1="159.1" y1="2449.5" x2="159.1" y2="2460.4" stroke="#000" stroke-width="2.3"/>
<text x="159.1" y="2482.2" font-size="20.0" fill="#111" text-anchor="middle">0</text>
<line x1="201" y1="2449.5" x2="201" y2="2460.4" stroke="#000" stroke-width="2.3"/>
<text x="201" y="2482.2" font-size="20.0" fill="#111" text-anchor="middle">1</text>
<line x1="242.8" y1="2449.5" x2="242.8" y2="2460.4" stroke="#000" stroke-width="2.3"/>
<text x="242.8" y="2482.2" font-size="20.0" fill="#111" text-anchor="middle">2</text>
<text x="180.2" y="2328.7" font-size="22.2" fill="#111" text-anchor="middle">fight-back start</text>
<text x="167.6" y="2353.8" font-size="22.0" fill="#111">p=0.40</text>
<text x="180.2" y="2514.6" font-size="22.0" fill="#111" text-anchor="middle">Time (s)</text>
<path d="M291.3 2394.9C292.1 2397.2 294.4 2405.3 296.2 2408.6C297.9 2411.9 299.7 2414.4 301.7 2414.6C303.7 2414.9 306.1 2412.7 308.4 2410.2C310.6 2407.7 312.8 2402.4 315 2399.8C317.2 2397.1 319.6 2395 321.7 2394.2C323.7 2393.5 325.2 2394 327.2 2395.3C329.2 2396.7 331.2 2399 333.4 2402.4C335.6 2405.9 338 2411.9 340.5 2415.9C343 2419.9 345.7 2423.7 348.3 2426.4C350.8 2429 353.2 2431 356 2431.9C358.8 2432.8 361.9 2432.5 364.9 2431.9C367.8 2431.3 370.8 2429.8 373.8 2428.6C376.7 2427.4 379.7 2425.6 382.6 2424.8C385.6 2424 388.5 2423.9 391.5 2423.7C394.4 2423.5 397.4 2424.2 400.4 2423.7C403.3 2423.2 406.4 2423.1 409.2 2420.8C412 2418.5 415.9 2411.6 417.2 2409.7L417.2 2418.6C415.9 2420.4 412 2427.2 409.2 2429.7C406.4 2432.2 403.3 2432.8 400.4 2433.5C397.4 2434.1 394.4 2433.3 391.5 2433.5C388.5 2433.6 385.6 2433.5 382.6 2434.6C379.7 2435.6 376.7 2437.9 373.8 2439.7C370.8 2441.4 367.8 2444.3 364.9 2445.2C361.9 2446.1 358.8 2446.3 356 2445.2C353.2 2444.1 350.8 2442 348.3 2438.8C345.7 2435.5 343 2430.4 340.5 2425.7C338 2421 335.6 2414.4 333.4 2410.4C331.2 2406.4 329.2 2403.6 327.2 2402C325.2 2400.4 323.7 2400.1 321.7 2400.9C319.6 2401.6 317.2 2403.7 315 2406.4C312.8 2409.1 310.6 2414.4 308.4 2416.8C306.1 2419.3 303.7 2421.3 301.7 2421.3C299.7 2421.2 297.9 2419.4 296.2 2416.6C294.4 2413.8 292.1 2406.6 291.3 2404.6Z" fill="rgba(59,150,110,0.28)"/>
<path d="M291.3 2393.8C292.1 2396 294.4 2403.7 296.2 2406.8C297.9 2410 299.7 2412.7 301.7 2412.4C303.7 2412.1 306.1 2408.5 308.4 2405.3C310.6 2402.1 312.8 2396.5 315 2393.1C317.2 2389.7 319.8 2386.3 321.7 2385.1C323.5 2383.9 324.1 2383.6 326.1 2385.8C328 2387.9 331 2392.8 333.4 2398C335.8 2403.2 338 2411.2 340.5 2416.8C343 2422.5 345.7 2428.2 348.3 2431.9C350.8 2435.6 353.4 2437.9 356 2439.2C358.6 2440.5 361.2 2440.5 363.8 2439.7C366.4 2438.8 368.8 2436.3 371.5 2434.1C374.3 2432 377.4 2428.5 380.4 2426.8C383.4 2425.1 385.9 2424.5 389.3 2424.1C392.6 2423.8 397 2425.1 400.4 2424.6C403.7 2424.1 406.4 2423.7 409.2 2421.3C412 2418.8 415.9 2411.7 417.2 2409.7L417.2 2418.6C415.9 2420.4 412 2426.9 409.2 2429.2C406.4 2431.6 403.7 2432.1 400.4 2432.6C397 2433 392.6 2431.8 389.3 2432.1C385.9 2432.5 383.4 2433 380.4 2434.8C377.4 2436.6 374.3 2440.7 371.5 2443C368.8 2445.3 366.4 2447.7 363.8 2448.5C361.2 2449.4 358.6 2449.4 356 2448.1C353.4 2446.8 350.8 2444.6 348.3 2440.8C345.7 2436.9 343 2430.6 340.5 2424.8C338 2419 335.8 2411.1 333.4 2406C331 2400.8 328 2395.9 326.1 2393.8C324.1 2391.6 323.5 2392.1 321.7 2393.1C319.8 2394.1 317.2 2396.6 315 2399.8C312.8 2402.9 310.6 2408.7 308.4 2411.9C306.1 2415.2 303.7 2418.6 301.7 2419C299.7 2419.5 297.9 2417.4 296.2 2414.8C294.4 2412.2 292.1 2405.4 291.3 2403.5Z" fill="rgba(130,105,200,0.36)"/>
<path d="M291.3 2399.8C292.1 2401.9 294.4 2409.6 296.2 2412.6C297.9 2415.6 299.7 2417.8 301.7 2417.9C303.7 2418.1 306.1 2416 308.4 2413.5C310.6 2411 312.8 2405.7 315 2403.1C317.2 2400.4 319.6 2398.3 321.7 2397.5C323.7 2396.8 325.2 2397.2 327.2 2398.6C329.2 2400.1 331.2 2402.7 333.4 2406.4C335.6 2410.1 338 2416.5 340.5 2420.8C343 2425.2 345.7 2429.6 348.3 2432.6C350.8 2435.5 353.2 2437.6 356 2438.6C358.8 2439.5 361.9 2439.3 364.9 2438.6C367.8 2437.8 370.8 2435.6 373.8 2434.1C376.7 2432.6 379.7 2430.6 382.6 2429.7C385.6 2428.8 388.5 2428.8 391.5 2428.6C394.4 2428.4 397.4 2429.1 400.4 2428.6C403.3 2428 406.4 2427.7 409.2 2425.2C412 2422.8 415.9 2416 417.2 2414.2" fill="none" stroke="#398a68" stroke-width="2.6" stroke-linecap="butt" stroke-linejoin="round"/>
<path d="M291.3 2398.6C292.1 2400.7 294.4 2408 296.2 2410.8C297.9 2413.7 299.7 2416.1 301.7 2415.7C303.7 2415.3 306.1 2411.8 308.4 2408.6C310.6 2405.4 312.8 2399.7 315 2396.4C317.2 2393.2 319.8 2390.2 321.7 2389.1C323.5 2388 324.1 2387.6 326.1 2389.8C328 2391.9 331 2396.8 333.4 2402C335.8 2407.1 338 2415.1 340.5 2420.8C343 2426.5 345.7 2432.5 348.3 2436.3C350.8 2440.1 353.4 2442.4 356 2443.6C358.6 2444.9 361.2 2444.9 363.8 2444.1C366.4 2443.2 368.8 2440.8 371.5 2438.6C374.3 2436.3 377.4 2432.5 380.4 2430.8C383.4 2429.1 385.9 2428.5 389.3 2428.1C392.6 2427.8 397 2429.1 400.4 2428.6C403.7 2428.1 406.4 2427.7 409.2 2425.2C412 2422.8 415.9 2416 417.2 2414.2" fill="none" stroke="#7a6bb1" stroke-width="2.6" stroke-linecap="butt" stroke-linejoin="round"/>
<line x1="333.5" y1="2448.5" x2="333.5" y2="2342.9" stroke="#000" stroke-width="2.9" stroke-dasharray="10.6 4.4"/>
<line x1="322.6" y1="2366.5" x2="376.3" y2="2366.5" stroke="#000" stroke-width="2.6"/>
<path d="M285.5 2342.9V2448.5H423.7" fill="none" stroke="#000" stroke-width="2.3" stroke-linecap="square" stroke-linejoin="miter"/>
<line x1="273.6" y1="2358.3" x2="284.5" y2="2358.3" stroke="#000" stroke-width="2.3"/>
<line x1="273.6" y1="2411.5" x2="284.5" y2="2411.5" stroke="#000" stroke-width="2.3"/>
<line x1="291.7" y1="2449.5" x2="291.7" y2="2460.4" stroke="#000" stroke-width="2.3"/>
<text x="291.7" y="2482.2" font-size="20.0" fill="#111" text-anchor="middle">-1</text>
<line x1="333.5" y1="2449.5" x2="333.5" y2="2460.4" stroke="#000" stroke-width="2.3"/>
<text x="333.5" y="2482.2" font-size="20.0" fill="#111" text-anchor="middle">0</text>
<line x1="375.4" y1="2449.5" x2="375.4" y2="2460.4" stroke="#000" stroke-width="2.3"/>
<text x="375.4" y="2482.2" font-size="20.0" fill="#111" text-anchor="middle">1</text>
<line x1="417.3" y1="2449.5" x2="417.3" y2="2460.4" stroke="#000" stroke-width="2.3"/>
<text x="417.3" y="2482.2" font-size="20.0" fill="#111" text-anchor="middle">2</text>
<text x="354.6" y="2328.7" font-size="22.2" fill="#111" text-anchor="middle">fight-back end</text>
<text x="342" y="2353.8" font-size="22.0" fill="#111">p=0.82</text>
<text x="354.6" y="2514.6" font-size="22.0" fill="#111" text-anchor="middle">Time (s)</text>
<path d="M465.8 2402.4C467.3 2402.6 471.5 2404 474.9 2403.7C478.3 2403.5 482.7 2401.9 486 2401.1C489.3 2400.3 492.3 2399.3 494.9 2399.1C497.4 2398.9 499.4 2399.2 501.5 2399.8C503.6 2400.3 505.1 2401 507.7 2402.4C510.3 2403.8 514 2406.2 517 2408.2C520.1 2410.1 522.9 2412.7 525.9 2414.2C528.8 2415.6 531.4 2416.3 534.8 2416.8C538.1 2417.4 542.1 2417.4 545.8 2417.5C549.5 2417.6 553.2 2417.2 556.9 2417.5C560.6 2417.8 564.7 2419.1 568 2419.3C571.3 2419.4 573.9 2419.7 576.9 2418.6C579.8 2417.5 583.3 2415.2 585.7 2412.6C588.2 2410 590.5 2404.7 591.5 2403.1L591.5 2414.2C590.5 2415.5 588.2 2420.2 585.7 2422.4C583.3 2424.6 579.8 2426.5 576.9 2427.5C573.9 2428.4 571.3 2428.2 568 2428.1C564.7 2428.1 560.6 2427.2 556.9 2427.2C553.2 2427.3 549.5 2428.2 545.8 2428.6C542.1 2428.9 538.1 2429.4 534.8 2429.2C531.4 2429.1 528.8 2428.6 525.9 2427.5C522.9 2426.3 520.1 2424.3 517 2422.4C514 2420.4 510.3 2417.4 507.7 2415.7C505.1 2414 503.6 2413.1 501.5 2412.2C499.4 2411.2 497.4 2410.4 494.9 2410.2C492.3 2410 489.3 2410.4 486 2410.8C482.7 2411.2 478.3 2412.5 474.9 2412.6C471.5 2412.7 467.3 2411.5 465.8 2411.3Z" fill="rgba(59,150,110,0.28)"/>
<path d="M465.8 2399.8C467.3 2399.8 471.5 2400.8 474.9 2400.2C478.3 2399.6 482.7 2397.5 486 2396.4C489.3 2395.4 492.3 2394 494.9 2393.8C497.4 2393.5 499.4 2394 501.5 2394.9C503.6 2395.8 505.1 2397.1 507.7 2399.3C510.3 2401.5 514 2405.4 517 2408.2C520.1 2411 522.9 2413.9 525.9 2415.9C528.8 2418 531.4 2419.4 534.8 2420.4C538.1 2421.4 542.1 2421.9 545.8 2421.9C549.5 2422 553.2 2421.5 556.9 2420.8C560.6 2420.2 564.3 2418.9 568 2417.9C571.7 2416.9 575.2 2416.1 579.1 2414.8C583 2413.6 589.4 2411.1 591.5 2410.4L591.5 2420.2C589.4 2420.7 583 2422.6 579.1 2423.7C575.2 2424.8 571.7 2425.8 568 2426.8C564.3 2427.8 560.6 2428.9 556.9 2429.7C553.2 2430.5 549.5 2431.6 545.8 2431.7C542.1 2431.8 538.1 2431.1 534.8 2430.1C531.4 2429.1 528.8 2427.7 525.9 2425.7C522.9 2423.7 520.1 2420.7 517 2417.9C514 2415.2 510.3 2411.3 507.7 2409.1C505.1 2406.8 503.6 2405.6 501.5 2404.6C499.4 2403.7 497.4 2403.4 494.9 2403.5C492.3 2403.6 489.3 2404.5 486 2405.3C482.7 2406.1 478.3 2407.8 474.9 2408.2C471.5 2408.6 467.3 2407.8 465.8 2407.7Z" fill="rgba(130,105,200,0.36)"/>
<path d="M465.8 2406.8C467.3 2407.1 471.5 2408.3 474.9 2408.2C478.3 2408 482.7 2406.6 486 2406C489.3 2405.4 492.3 2404.6 494.9 2404.6C497.4 2404.6 499.4 2405.2 501.5 2406C503.6 2406.7 505.1 2407.5 507.7 2409.1C510.3 2410.6 514 2413.3 517 2415.3C520.1 2417.2 522.9 2419.5 525.9 2420.8C528.8 2422.1 531.4 2422.7 534.8 2423C538.1 2423.4 542.1 2423.1 545.8 2423C549.5 2422.9 553.2 2422.3 556.9 2422.4C560.6 2422.5 564.7 2423.6 568 2423.7C571.3 2423.8 573.9 2424.1 576.9 2423C579.8 2422 583.3 2419.9 585.7 2417.5C588.2 2415.1 590.5 2410.1 591.5 2408.6" fill="none" stroke="#398a68" stroke-width="2.6" stroke-linecap="butt" stroke-linejoin="round"/>
<path d="M465.8 2403.7C467.3 2403.8 471.5 2404.7 474.9 2404.2C478.3 2403.7 482.7 2401.8 486 2400.9C489.3 2399.9 492.3 2398.8 494.9 2398.6C497.4 2398.5 499.4 2398.8 501.5 2399.8C503.6 2400.7 505.1 2402 507.7 2404.2C510.3 2406.4 514 2410.3 517 2413.1C520.1 2415.8 522.9 2418.8 525.9 2420.8C528.8 2422.8 531.4 2424.3 534.8 2425.2C538.1 2426.2 542.1 2426.8 545.8 2426.8C549.5 2426.8 553.2 2426 556.9 2425.2C560.6 2424.5 564.3 2423.4 568 2422.4C571.7 2421.4 575.2 2420.4 579.1 2419.3C583 2418.1 589.4 2415.9 591.5 2415.3" fill="none" stroke="#7a6bb1" stroke-width="2.6" stroke-linecap="butt" stroke-linejoin="round"/>
<line x1="507.4" y1="2448.5" x2="507.4" y2="2342.9" stroke="#000" stroke-width="2.9" stroke-dasharray="10.6 4.4"/>
<line x1="496.4" y1="2366.5" x2="550.1" y2="2366.5" stroke="#000" stroke-width="2.6"/>
<path d="M459.4 2342.9V2448.5H597.6" fill="none" stroke="#000" stroke-width="2.3" stroke-linecap="square" stroke-linejoin="miter"/>
<line x1="447.5" y1="2358.3" x2="458.4" y2="2358.3" stroke="#000" stroke-width="2.3"/>
<line x1="447.5" y1="2411.5" x2="458.4" y2="2411.5" stroke="#000" stroke-width="2.3"/>
<line x1="465.5" y1="2449.5" x2="465.5" y2="2460.4" stroke="#000" stroke-width="2.3"/>
<text x="465.5" y="2482.2" font-size="20.0" fill="#111" text-anchor="middle">-1</text>
<line x1="507.4" y1="2449.5" x2="507.4" y2="2460.4" stroke="#000" stroke-width="2.3"/>
<text x="507.4" y="2482.2" font-size="20.0" fill="#111" text-anchor="middle">0</text>
<line x1="549.3" y1="2449.5" x2="549.3" y2="2460.4" stroke="#000" stroke-width="2.3"/>
<text x="549.3" y="2482.2" font-size="20.0" fill="#111" text-anchor="middle">1</text>
<line x1="591.2" y1="2449.5" x2="591.2" y2="2460.4" stroke="#000" stroke-width="2.3"/>
<text x="591.2" y="2482.2" font-size="20.0" fill="#111" text-anchor="middle">2</text>
<text x="528.5" y="2328.7" font-size="22.2" fill="#111" text-anchor="middle">flee start</text>
<text x="515.9" y="2353.8" font-size="22.0" fill="#111">p=0.95</text>
<text x="528.5" y="2514.6" font-size="22.0" fill="#111" text-anchor="middle">Time (s)</text>
<path d="M640.1 2413.5C640.8 2412.3 642.8 2408 644.5 2406.4C646.2 2404.9 648 2403.8 650 2404.2C652.1 2404.6 654.1 2406.3 656.7 2408.6C659.3 2410.9 662.8 2415.5 665.5 2417.9C668.3 2420.3 671.1 2422.2 673.3 2423C675.5 2423.9 676.8 2423.7 678.8 2423C680.9 2422.4 682.9 2420.9 685.5 2419C688.1 2417.2 691 2414.3 694.4 2411.9C697.7 2409.6 701.8 2406.3 705.5 2404.9C709.1 2403.4 712.8 2403.4 716.5 2403.1C720.2 2402.8 723.9 2403.3 727.6 2403.1C731.3 2402.8 735 2401.7 738.7 2401.5C742.4 2401.3 746.5 2401.3 749.8 2402C753.1 2402.6 756 2403.7 758.7 2405.3C761.4 2406.9 764.7 2410.5 766 2411.5L766 2421.3C764.7 2420.1 761.4 2415.9 758.7 2414.2C756 2412.4 753.1 2411.5 749.8 2410.8C746.5 2410.2 742.4 2410.2 738.7 2410.4C735 2410.6 731.3 2411.7 727.6 2411.9C723.9 2412.2 720.2 2411.5 716.5 2411.9C712.8 2412.4 709.1 2412.8 705.5 2414.6C701.8 2416.5 697.7 2420.2 694.4 2423C691 2425.8 688.1 2429.2 685.5 2431.5C682.9 2433.7 680.9 2435.5 678.8 2436.3C676.8 2437.1 675.5 2437.3 673.3 2436.3C671.1 2435.3 668.3 2433.1 665.5 2430.3C662.8 2427.6 659.3 2422.2 656.7 2419.7C654.1 2417.2 652.1 2415.6 650 2415.3C648 2414.9 646.2 2415.7 644.5 2417.5C642.8 2419.3 640.8 2424.5 640.1 2425.9Z" fill="rgba(59,150,110,0.28)"/>
<path d="M640.1 2415.3C640.8 2414.1 642.8 2409.8 644.5 2408.2C646.2 2406.5 648 2405.2 650 2405.3C652.1 2405.4 654.1 2406.8 656.7 2408.6C659.3 2410.4 662.6 2414 665.5 2415.9C668.5 2417.9 671.7 2419.9 674.4 2420.4C677.1 2420.9 679.4 2419.9 682 2418.8C684.5 2417.7 686.8 2415.9 689.9 2413.7C693.1 2411.6 697.3 2408.2 701 2406C704.7 2403.7 708.4 2401.6 712.1 2400.4C715.8 2399.2 719.9 2398.9 723.2 2398.6C726.5 2398.4 728.7 2398.3 732.1 2398.6C735.4 2399 739.4 2399.8 743.1 2400.9C746.8 2402 750.4 2403.5 754.2 2405.3C758 2407.1 764 2410.5 766 2411.5L766 2421.3C764 2420.1 758 2416.1 754.2 2414.2C750.4 2412.2 746.8 2410.8 743.1 2409.7C739.4 2408.6 735.4 2407.9 732.1 2407.5C728.7 2407.1 726.5 2407.1 723.2 2407.5C719.9 2408 715.8 2408.8 712.1 2410.2C708.4 2411.5 704.7 2413.5 701 2415.7C697.3 2417.9 693.1 2421.3 689.9 2423.5C686.8 2425.6 684.5 2427.5 682 2428.6C679.4 2429.7 677.1 2430.6 674.4 2430.1C671.7 2429.6 668.5 2427.8 665.5 2425.7C662.6 2423.6 659.3 2419.4 656.7 2417.5C654.1 2415.6 652.1 2414.1 650 2414.2C648 2414.2 646.2 2415.9 644.5 2417.9C642.8 2420 640.8 2425 640.1 2426.4Z" fill="rgba(130,105,200,0.36)"/>
<path d="M640.1 2419.7C640.8 2418.4 642.8 2413.6 644.5 2411.9C646.2 2410.3 648 2409.4 650 2409.7C652.1 2410.1 654.1 2411.8 656.7 2414.2C659.3 2416.6 662.8 2421.6 665.5 2424.1C668.3 2426.7 671.1 2428.8 673.3 2429.7C675.5 2430.6 676.8 2430.4 678.8 2429.7C680.9 2428.9 682.9 2427.3 685.5 2425.2C688.1 2423.2 691 2420.1 694.4 2417.5C697.7 2414.9 701.8 2411.4 705.5 2409.7C709.1 2408.1 712.8 2407.9 716.5 2407.5C720.2 2407.1 723.9 2407.8 727.6 2407.5C731.3 2407.3 735 2406.1 738.7 2406C742.4 2405.8 746.5 2405.8 749.8 2406.4C753.1 2407 756 2408.1 758.7 2409.7C761.4 2411.4 764.7 2415.3 766 2416.4" fill="none" stroke="#398a68" stroke-width="2.6" stroke-linecap="butt" stroke-linejoin="round"/>
<path d="M640.1 2420.8C640.8 2419.5 642.8 2414.9 644.5 2413.1C646.2 2411.2 648 2409.7 650 2409.7C652.1 2409.7 654.1 2411.2 656.7 2413.1C659.3 2414.9 662.6 2418.8 665.5 2420.8C668.5 2422.8 671.7 2424.8 674.4 2425.2C677.1 2425.7 679.4 2424.8 682 2423.7C684.5 2422.6 686.8 2420.7 689.9 2418.6C693.1 2416.5 697.3 2413.1 701 2410.8C704.7 2408.6 708.4 2406.6 712.1 2405.3C715.8 2404 719.9 2403.5 723.2 2403.1C726.5 2402.7 728.7 2402.7 732.1 2403.1C735.4 2403.5 739.4 2404.2 743.1 2405.3C746.8 2406.4 750.4 2407.9 754.2 2409.7C758 2411.6 764 2415.3 766 2416.4" fill="none" stroke="#7a6bb1" stroke-width="2.6" stroke-linecap="butt" stroke-linejoin="round"/>
<line x1="681.7" y1="2448.5" x2="681.7" y2="2342.9" stroke="#000" stroke-width="2.9" stroke-dasharray="10.6 4.4"/>
<line x1="670.7" y1="2366.5" x2="724.4" y2="2366.5" stroke="#000" stroke-width="2.6"/>
<path d="M633.6 2342.9V2448.5H771.8" fill="none" stroke="#000" stroke-width="2.3" stroke-linecap="square" stroke-linejoin="miter"/>
<line x1="621.7" y1="2358.3" x2="632.6" y2="2358.3" stroke="#000" stroke-width="2.3"/>
<line x1="621.7" y1="2411.5" x2="632.6" y2="2411.5" stroke="#000" stroke-width="2.3"/>
<line x1="639.8" y1="2449.5" x2="639.8" y2="2460.4" stroke="#000" stroke-width="2.3"/>
<text x="639.8" y="2482.2" font-size="20.0" fill="#111" text-anchor="middle">-1</text>
<line x1="681.7" y1="2449.5" x2="681.7" y2="2460.4" stroke="#000" stroke-width="2.3"/>
<text x="681.7" y="2482.2" font-size="20.0" fill="#111" text-anchor="middle">0</text>
<line x1="723.5" y1="2449.5" x2="723.5" y2="2460.4" stroke="#000" stroke-width="2.3"/>
<text x="723.5" y="2482.2" font-size="20.0" fill="#111" text-anchor="middle">1</text>
<line x1="765.4" y1="2449.5" x2="765.4" y2="2460.4" stroke="#000" stroke-width="2.3"/>
<text x="765.4" y="2482.2" font-size="20.0" fill="#111" text-anchor="middle">2</text>
<text x="702.7" y="2328.7" font-size="22.2" fill="#111" text-anchor="middle">flee end</text>
<text x="690.2" y="2353.8" font-size="22.0" fill="#111">p=0.72</text>
<text x="702.7" y="2514.6" font-size="22.0" fill="#111" text-anchor="middle">Time (s)</text>
<path d="M814.4 2413.7C815.7 2413.2 819.3 2411 822.1 2410.4C824.9 2409.8 828 2410.4 831 2410C833.9 2409.5 836.9 2409 839.9 2407.7C842.8 2406.5 845.9 2404.7 848.7 2402.6C851.5 2400.6 853.9 2398.6 856.5 2395.3C859.1 2392 861.8 2385.9 864.2 2382.7C866.6 2379.5 868.7 2377.3 870.9 2376C873.1 2374.8 875.3 2374.5 877.5 2375.4C879.8 2376.3 881.6 2378 884.2 2381.4C886.8 2384.7 890.1 2391.1 893.1 2395.3C896 2399.5 899.3 2404.1 901.9 2406.4C904.5 2408.7 906.4 2409.2 908.6 2409.3C910.8 2409.4 913 2408.1 915.2 2407.1C917.4 2406 919.7 2403.9 921.9 2403.1C924.1 2402.3 926.5 2401.9 928.5 2402.4C930.6 2402.9 932.1 2403.5 934.1 2406C936 2408.5 939.2 2415.6 940.3 2417.5L940.3 2426.4C939.2 2424.4 936 2417.3 934.1 2414.8C932.1 2412.3 930.6 2411.8 928.5 2411.3C926.5 2410.8 924.1 2411 921.9 2411.9C919.7 2412.9 917.4 2415.4 915.2 2416.8C913 2418.2 910.8 2420.3 908.6 2420.4C906.4 2420.5 904.5 2419.6 901.9 2417.5C899.3 2415.4 896 2411.2 893.1 2407.7C890.1 2404.3 886.8 2399.2 884.2 2396.9C881.6 2394.6 879.8 2394.4 877.5 2394C875.3 2393.6 873.1 2394 870.9 2394.7C868.7 2395.4 866.6 2396.2 864.2 2398.2C861.8 2400.2 859.1 2404 856.5 2406.4C853.9 2408.8 851.5 2410.5 848.7 2412.4C845.9 2414.2 842.8 2416.3 839.9 2417.5C836.9 2418.7 833.9 2419.3 831 2419.7C828 2420.2 824.9 2419.5 822.1 2420.2C819.3 2420.8 815.7 2422.9 814.4 2423.5Z" fill="rgba(59,150,110,0.28)"/>
<path d="M814.4 2416.4C816 2416.6 820.8 2417.7 824.3 2417.9C827.8 2418.1 832.1 2418.4 835.4 2417.5C838.7 2416.6 841.7 2414.6 844.3 2412.4C846.9 2410.2 848.9 2406.9 850.9 2404.2C853 2401.5 854.3 2399.1 856.5 2396C858.7 2392.8 861.8 2387.9 864.2 2385.3C866.6 2382.8 868.7 2381.5 870.9 2380.7C873.1 2379.8 875.3 2379.5 877.5 2380.2C879.8 2381 881.6 2382.4 884.2 2384.9C886.8 2387.4 890.1 2392.2 893.1 2395.3C896 2398.4 899.3 2401.8 901.9 2403.5C904.5 2405.3 906.4 2405.7 908.6 2405.7C910.8 2405.7 913 2404.5 915.2 2403.5C917.4 2402.5 919.8 2400.6 921.9 2399.8C923.9 2398.9 925.6 2398 927.4 2398.4C929.3 2398.9 931.3 2400.3 933 2402.4C934.6 2404.6 936.2 2408.8 937.4 2411.3C938.6 2413.8 939.8 2416.5 940.3 2417.5L940.3 2426.4C939.8 2425.2 938.6 2421.9 937.4 2419.3C936.2 2416.6 934.6 2412.5 933 2410.4C931.3 2408.3 929.3 2406.8 927.4 2406.4C925.6 2406 923.9 2406.9 921.9 2407.7C919.8 2408.6 917.4 2410.5 915.2 2411.5C913 2412.5 910.8 2413.7 908.6 2413.7C906.4 2413.7 904.5 2413.1 901.9 2411.5C899.3 2409.9 896 2406.8 893.1 2404.2C890.1 2401.6 886.8 2397.9 884.2 2396C881.6 2394.1 879.8 2393.1 877.5 2392.7C875.3 2392.2 873.1 2392.5 870.9 2393.1C868.7 2393.7 866.6 2394.3 864.2 2396.4C861.8 2398.5 858.7 2403 856.5 2405.7C854.3 2408.5 853 2410.6 850.9 2413.1C848.9 2415.5 846.9 2418.3 844.3 2420.4C841.7 2422.4 838.7 2424.5 835.4 2425.5C832.1 2426.4 827.8 2426 824.3 2425.9C820.8 2425.9 816 2425.4 814.4 2425.2Z" fill="rgba(130,105,200,0.36)"/>
<path d="M814.4 2418.6C815.7 2418 819.3 2415.9 822.1 2415.3C824.9 2414.6 828 2415.3 831 2414.8C833.9 2414.4 836.9 2413.8 839.9 2412.6C842.8 2411.4 845.9 2409.5 848.7 2407.5C851.5 2405.6 853.9 2403.7 856.5 2400.9C859.1 2398 861.8 2393 864.2 2390.4C866.6 2387.9 868.7 2386.3 870.9 2385.3C873.1 2384.4 875.3 2384.1 877.5 2384.7C879.8 2385.3 881.6 2386.3 884.2 2389.1C886.8 2391.9 890.1 2397.7 893.1 2401.5C896 2405.3 899.3 2409.7 901.9 2411.9C904.5 2414.2 906.4 2414.8 908.6 2414.8C910.8 2414.8 913 2413.2 915.2 2411.9C917.4 2410.7 919.7 2408.4 921.9 2407.5C924.1 2406.7 926.5 2406.4 928.5 2406.8C930.6 2407.3 932.1 2407.9 934.1 2410.4C936 2412.9 939.2 2420 940.3 2421.9" fill="none" stroke="#398a68" stroke-width="2.6" stroke-linecap="butt" stroke-linejoin="round"/>
<path d="M814.4 2420.8C816 2421 820.8 2421.8 824.3 2421.9C827.8 2422 832.1 2422.4 835.4 2421.5C838.7 2420.6 841.7 2418.5 844.3 2416.4C846.9 2414.2 848.9 2411.2 850.9 2408.6C853 2406 854.3 2403.8 856.5 2400.9C858.7 2397.9 861.8 2393.2 864.2 2390.9C866.6 2388.6 868.7 2387.6 870.9 2386.9C873.1 2386.2 875.3 2385.9 877.5 2386.5C879.8 2387 881.6 2388.2 884.2 2390.4C886.8 2392.7 890.1 2396.9 893.1 2399.8C896 2402.6 899.3 2405.9 901.9 2407.5C904.5 2409.2 906.4 2409.7 908.6 2409.7C910.8 2409.7 913 2408.5 915.2 2407.5C917.4 2406.5 919.8 2404.6 921.9 2403.7C923.9 2402.9 925.6 2402 927.4 2402.4C929.3 2402.9 931.3 2404.3 933 2406.4C934.6 2408.5 936.2 2412.7 937.4 2415.3C938.6 2417.9 939.8 2420.8 940.3 2421.9" fill="none" stroke="#7a6bb1" stroke-width="2.6" stroke-linecap="butt" stroke-linejoin="round"/>
<line x1="856.2" y1="2448.5" x2="856.2" y2="2342.9" stroke="#000" stroke-width="2.9" stroke-dasharray="10.6 4.4"/>
<line x1="845.2" y1="2366.5" x2="898.9" y2="2366.5" stroke="#000" stroke-width="2.6"/>
<path d="M808.2 2342.9V2448.5H946.4" fill="none" stroke="#000" stroke-width="2.3" stroke-linecap="square" stroke-linejoin="miter"/>
<line x1="796.3" y1="2358.3" x2="807.2" y2="2358.3" stroke="#000" stroke-width="2.3"/>
<line x1="796.3" y1="2411.5" x2="807.2" y2="2411.5" stroke="#000" stroke-width="2.3"/>
<line x1="814.3" y1="2449.5" x2="814.3" y2="2460.4" stroke="#000" stroke-width="2.3"/>
<text x="814.3" y="2482.2" font-size="20.0" fill="#111" text-anchor="middle">-1</text>
<line x1="856.2" y1="2449.5" x2="856.2" y2="2460.4" stroke="#000" stroke-width="2.3"/>
<text x="856.2" y="2482.2" font-size="20.0" fill="#111" text-anchor="middle">0</text>
<line x1="898.1" y1="2449.5" x2="898.1" y2="2460.4" stroke="#000" stroke-width="2.3"/>
<text x="898.1" y="2482.2" font-size="20.0" fill="#111" text-anchor="middle">1</text>
<line x1="939.9" y1="2449.5" x2="939.9" y2="2460.4" stroke="#000" stroke-width="2.3"/>
<text x="939.9" y="2482.2" font-size="20.0" fill="#111" text-anchor="middle">2</text>
<text x="877.3" y="2328.7" font-size="22.2" fill="#111" text-anchor="middle">attacked start</text>
<text x="864.7" y="2353.8" font-size="22.0" fill="#111">p=0.83</text>
<text x="877.3" y="2514.6" font-size="22.0" fill="#111" text-anchor="middle">Time (s)</text>
<path d="M988.4 2388C988.9 2390 990.4 2396.3 991.7 2399.8C993 2403.2 994.7 2406.8 996.1 2408.6C997.6 2410.5 998.9 2411.6 1000.6 2410.8C1002.2 2410.1 1004.1 2407.6 1006.1 2404.2C1008.1 2400.8 1010.5 2394.5 1012.8 2390.2C1015 2386 1017.4 2381.1 1019.4 2378.7C1021.4 2376.3 1023.1 2376.1 1025 2375.8C1026.8 2375.6 1028.5 2375.7 1030.5 2377.1C1032.5 2378.6 1034.6 2381.3 1037.1 2384.7C1039.7 2388.1 1043.1 2393.7 1046 2397.5C1049 2401.3 1051.9 2404.9 1054.9 2407.5C1057.8 2410.1 1060.4 2411.7 1063.8 2413.1C1067.1 2414.5 1070.8 2415.4 1074.8 2415.9C1078.9 2416.5 1083.7 2416.5 1088.1 2416.4C1092.6 2416.3 1097 2415.7 1101.4 2415.3C1105.9 2414.8 1112.5 2414 1114.7 2413.7L1114.7 2424.8C1112.5 2425.1 1105.9 2425.9 1101.4 2426.4C1097 2426.8 1092.6 2427.4 1088.1 2427.5C1083.7 2427.6 1078.9 2427.6 1074.8 2427C1070.8 2426.5 1067.1 2425.5 1063.8 2424.1C1060.4 2422.7 1057.8 2421.2 1054.9 2418.6C1051.9 2416 1049 2412.2 1046 2408.6C1043.1 2405 1039.7 2400.1 1037.1 2397.1C1034.6 2394.1 1032.5 2391.8 1030.5 2390.4C1028.5 2389.1 1026.8 2388.9 1025 2389.1C1023.1 2389.4 1021.4 2389.7 1019.4 2392C1017.4 2394.3 1015 2398.8 1012.8 2402.6C1010.5 2406.5 1008.1 2412.1 1006.1 2415.3C1004.1 2418.5 1002.2 2421.2 1000.6 2421.9C998.9 2422.7 997.6 2421.6 996.1 2419.7C994.7 2417.9 993 2414.1 991.7 2410.8C990.4 2407.6 988.9 2402.2 988.4 2400.4Z" fill="rgba(59,150,110,0.28)"/>
<path d="M988.4 2387.6C988.9 2389.6 990.4 2396.2 991.7 2399.8C993 2403.3 994.7 2407.1 996.1 2409.1C997.6 2411 998.9 2412 1000.6 2411.3C1002.2 2410.5 1004.1 2407.7 1006.1 2404.6C1008.1 2401.6 1010.5 2396.2 1012.8 2393.1C1015 2390 1017.4 2387.4 1019.4 2386C1021.4 2384.6 1023.1 2384.5 1025 2384.9C1026.8 2385.3 1028.5 2386.2 1030.5 2388.2C1032.5 2390.3 1034.6 2393.6 1037.1 2397.1C1039.7 2400.6 1043.1 2406 1046 2409.3C1049 2412.6 1051.9 2415.1 1054.9 2417C1057.8 2419 1060.8 2420.2 1063.8 2421C1066.7 2421.9 1068.9 2421.9 1072.6 2421.9C1076.3 2421.9 1081.5 2421.6 1085.9 2421C1090.4 2420.5 1094.4 2419.9 1099.2 2418.8C1104 2417.8 1112.2 2415.5 1114.7 2414.8L1114.7 2424.6C1112.2 2425.2 1104 2427.5 1099.2 2428.6C1094.4 2429.6 1090.4 2430.3 1085.9 2430.8C1081.5 2431.3 1076.3 2431.7 1072.6 2431.7C1068.9 2431.7 1066.7 2431.6 1063.8 2430.8C1060.8 2430 1057.8 2428.8 1054.9 2426.8C1051.9 2424.8 1049 2422.4 1046 2419C1043.1 2415.7 1039.7 2410.4 1037.1 2406.8C1034.6 2403.3 1032.5 2400 1030.5 2398C1028.5 2396 1026.8 2395 1025 2394.7C1023.1 2394.3 1021.4 2394.5 1019.4 2395.8C1017.4 2397 1015 2399.2 1012.8 2402C1010.5 2404.8 1008.1 2409.7 1006.1 2412.6C1004.1 2415.5 1002.2 2418.5 1000.6 2419.3C998.9 2420 997.6 2418.8 996.1 2417C994.7 2415.3 993 2411.7 991.7 2408.6C990.4 2405.6 988.9 2400.3 988.4 2398.6Z" fill="rgba(130,105,200,0.36)"/>
<path d="M988.4 2394.2C988.9 2396.1 990.4 2402 991.7 2405.3C993 2408.6 994.7 2412.3 996.1 2414.2C997.6 2416 998.9 2417.1 1000.6 2416.4C1002.2 2415.6 1004.1 2413.1 1006.1 2409.7C1008.1 2406.4 1010.5 2400.5 1012.8 2396.4C1015 2392.4 1017.4 2387.7 1019.4 2385.3C1021.4 2383 1023.1 2382.7 1025 2382.5C1026.8 2382.2 1028.5 2382.4 1030.5 2383.8C1032.5 2385.2 1034.6 2387.7 1037.1 2390.9C1039.7 2394.1 1043.1 2399.4 1046 2403.1C1049 2406.8 1051.9 2410.5 1054.9 2413.1C1057.8 2415.6 1060.4 2417.2 1063.8 2418.6C1067.1 2420 1070.8 2420.9 1074.8 2421.5C1078.9 2422 1083.7 2422 1088.1 2421.9C1092.6 2421.8 1097 2421.3 1101.4 2420.8C1105.9 2420.4 1112.5 2419.5 1114.7 2419.3" fill="none" stroke="#398a68" stroke-width="2.6" stroke-linecap="butt" stroke-linejoin="round"/>
<path d="M988.4 2393.1C988.9 2395 990.4 2400.9 991.7 2404.2C993 2407.5 994.7 2411.2 996.1 2413.1C997.6 2414.9 998.9 2416 1000.6 2415.3C1002.2 2414.5 1004.1 2411.6 1006.1 2408.6C1008.1 2405.7 1010.5 2400.5 1012.8 2397.5C1015 2394.6 1017.4 2392.2 1019.4 2390.9C1021.4 2389.6 1023.1 2389.4 1025 2389.8C1026.8 2390.2 1028.5 2391.1 1030.5 2393.1C1032.5 2395.1 1034.6 2398.5 1037.1 2402C1039.7 2405.5 1043.1 2410.8 1046 2414.2C1049 2417.5 1051.9 2420 1054.9 2421.9C1057.8 2423.9 1060.8 2425.1 1063.8 2425.9C1066.7 2426.7 1068.9 2426.8 1072.6 2426.8C1076.3 2426.8 1081.5 2426.4 1085.9 2425.9C1090.4 2425.4 1094.4 2424.7 1099.2 2423.7C1104 2422.7 1112.2 2420.4 1114.7 2419.7" fill="none" stroke="#7a6bb1" stroke-width="2.6" stroke-linecap="butt" stroke-linejoin="round"/>
<line x1="1030.2" y1="2448.5" x2="1030.2" y2="2342.9" stroke="#000" stroke-width="2.9" stroke-dasharray="10.6 4.4"/>
<line x1="1019.2" y1="2366.5" x2="1072.9" y2="2366.5" stroke="#000" stroke-width="2.6"/>
<path d="M982.2 2342.9V2448.5H1120.4" fill="none" stroke="#000" stroke-width="2.3" stroke-linecap="square" stroke-linejoin="miter"/>
<line x1="970.3" y1="2358.3" x2="981.2" y2="2358.3" stroke="#000" stroke-width="2.3"/>
<line x1="970.3" y1="2411.5" x2="981.2" y2="2411.5" stroke="#000" stroke-width="2.3"/>
<line x1="988.3" y1="2449.5" x2="988.3" y2="2460.4" stroke="#000" stroke-width="2.3"/>
<text x="988.3" y="2482.2" font-size="20.0" fill="#111" text-anchor="middle">-1</text>
<line x1="1030.2" y1="2449.5" x2="1030.2" y2="2460.4" stroke="#000" stroke-width="2.3"/>
<text x="1030.2" y="2482.2" font-size="20.0" fill="#111" text-anchor="middle">0</text>
<line x1="1072.1" y1="2449.5" x2="1072.1" y2="2460.4" stroke="#000" stroke-width="2.3"/>
<text x="1072.1" y="2482.2" font-size="20.0" fill="#111" text-anchor="middle">1</text>
<line x1="1113.9" y1="2449.5" x2="1113.9" y2="2460.4" stroke="#000" stroke-width="2.3"/>
<text x="1113.9" y="2482.2" font-size="20.0" fill="#111" text-anchor="middle">2</text>
<text x="1051.3" y="2328.7" font-size="22.2" fill="#111" text-anchor="middle">attacked end</text>
<text x="1038.7" y="2353.8" font-size="22.0" fill="#111">p=0.09</text>
<text x="1051.3" y="2514.6" font-size="22.0" fill="#111" text-anchor="middle">Time (s)</text>
<path d="M1163.3 2400.4C1163.8 2402.8 1165.3 2410.7 1166.6 2414.6C1167.9 2418.6 1169.5 2422.4 1171 2424.1C1172.5 2425.9 1173.8 2426.1 1175.4 2425C1177.1 2423.9 1179 2421.3 1181 2417.5C1183 2413.6 1185.4 2407.2 1187.6 2402C1189.9 2396.7 1192.1 2390.2 1194.3 2386C1196.5 2381.8 1198.9 2378.8 1200.9 2376.7C1203 2374.6 1204.4 2373.4 1206.5 2373.2C1208.5 2372.9 1210.7 2373.6 1213.1 2375.4C1215.5 2377.1 1218.1 2380.7 1220.9 2383.8C1223.7 2386.9 1226.4 2391 1229.8 2394.2C1233.1 2397.4 1237.1 2400.8 1240.8 2403.1C1244.5 2405.4 1248.6 2407.3 1251.9 2408.2C1255.2 2409.1 1257.8 2408.7 1260.8 2408.6C1263.7 2408.5 1266.9 2408.1 1269.7 2407.7C1272.4 2407.4 1275 2406.4 1277.4 2406.4C1279.8 2406.4 1282.1 2406.8 1284.1 2407.5C1286 2408.3 1288.1 2410.3 1288.9 2410.8L1288.9 2419.7C1288.1 2419.2 1286 2417.1 1284.1 2416.4C1282.1 2415.6 1279.8 2415.1 1277.4 2415.3C1275 2415.5 1272.4 2417 1269.7 2417.5C1266.9 2418 1263.7 2418.5 1260.8 2418.4C1257.8 2418.3 1255.2 2418.1 1251.9 2417C1248.6 2416 1244.5 2414.3 1240.8 2411.9C1237.1 2409.6 1233.1 2406.1 1229.8 2403.1C1226.4 2400 1223.7 2396.3 1220.9 2393.5C1218.1 2390.8 1215.5 2388 1213.1 2386.5C1210.7 2384.9 1208.5 2384.2 1206.5 2384.2C1204.4 2384.2 1203 2384.7 1200.9 2386.5C1198.9 2388.2 1196.5 2391 1194.3 2394.9C1192.1 2398.8 1189.9 2404.9 1187.6 2410C1185.4 2415.1 1183 2421.6 1181 2425.5C1179 2429.3 1177.1 2431.9 1175.4 2433C1173.8 2434.1 1172.5 2433.9 1171 2432.1C1169.5 2430.4 1167.9 2426.2 1166.6 2422.6C1165.3 2418.9 1163.8 2412.2 1163.3 2410.2Z" fill="rgba(59,150,110,0.28)"/>
<path d="M1163.3 2399.3C1163.8 2401.7 1165.3 2409.5 1166.6 2413.5C1167.9 2417.5 1169.5 2421.3 1171 2423C1172.5 2424.8 1173.8 2425.2 1175.4 2424.1C1177.1 2423 1179 2420.3 1181 2416.4C1183 2412.5 1185.4 2406.1 1187.6 2400.9C1189.9 2395.6 1192.1 2388.9 1194.3 2384.7C1196.5 2380.5 1198.9 2377.7 1200.9 2375.8C1203 2373.9 1204.4 2373.3 1206.5 2373.2C1208.5 2373 1210.7 2373.4 1213.1 2374.9C1215.5 2376.5 1218.1 2379.5 1220.9 2382.5C1223.7 2385.4 1226.4 2389.3 1229.8 2392.4C1233.1 2395.6 1237.1 2399 1240.8 2401.3C1244.5 2403.6 1248.6 2405.4 1251.9 2406.4C1255.2 2407.4 1257.8 2407.4 1260.8 2407.3C1263.7 2407.2 1266.9 2406.3 1269.7 2405.7C1272.4 2405.2 1275 2404 1277.4 2404.2C1279.8 2404.4 1282.1 2405.8 1284.1 2406.8C1286 2407.9 1288.1 2409.8 1288.9 2410.4L1288.9 2419.3C1288.1 2418.5 1286 2416 1284.1 2414.8C1282.1 2413.6 1279.8 2412.4 1277.4 2412.2C1275 2412 1272.4 2413.2 1269.7 2413.7C1266.9 2414.2 1263.7 2415.2 1260.8 2415.3C1257.8 2415.4 1255.2 2415.4 1251.9 2414.4C1248.6 2413.4 1244.5 2411.6 1240.8 2409.3C1237.1 2407 1233.1 2403.4 1229.8 2400.4C1226.4 2397.4 1223.7 2394 1220.9 2391.3C1218.1 2388.7 1215.5 2386.1 1213.1 2384.7C1210.7 2383.3 1208.5 2382.9 1206.5 2382.9C1204.4 2382.9 1203 2383.1 1200.9 2384.7C1198.9 2386.3 1196.5 2388.9 1194.3 2392.7C1192.1 2396.5 1189.9 2402.5 1187.6 2407.5C1185.4 2412.6 1183 2419.2 1181 2423C1179 2426.9 1177.1 2429.7 1175.4 2430.8C1173.8 2431.9 1172.5 2431.2 1171 2429.7C1169.5 2428.1 1167.9 2424.9 1166.6 2421.5C1165.3 2418 1163.8 2411.1 1163.3 2409.1Z" fill="rgba(130,105,200,0.36)"/>
<path d="M1163.3 2405.3C1163.8 2407.5 1165.3 2414.8 1166.6 2418.6C1167.9 2422.4 1169.5 2426.4 1171 2428.1C1172.5 2429.9 1173.8 2430.1 1175.4 2429C1177.1 2427.9 1179 2425.3 1181 2421.5C1183 2417.6 1185.4 2411.1 1187.6 2406C1189.9 2400.8 1192.1 2394.5 1194.3 2390.4C1196.5 2386.4 1198.9 2383.5 1200.9 2381.6C1203 2379.6 1204.4 2378.8 1206.5 2378.7C1208.5 2378.6 1210.7 2379.3 1213.1 2380.9C1215.5 2382.6 1218.1 2385.7 1220.9 2388.7C1223.7 2391.6 1226.4 2395.5 1229.8 2398.6C1233.1 2401.8 1237.1 2405.2 1240.8 2407.5C1244.5 2409.8 1248.6 2411.6 1251.9 2412.6C1255.2 2413.6 1257.8 2413.5 1260.8 2413.5C1263.7 2413.5 1266.9 2413.1 1269.7 2412.6C1272.4 2412.2 1275 2411 1277.4 2410.8C1279.8 2410.7 1282.1 2411.2 1284.1 2411.9C1286 2412.7 1288.1 2414.7 1288.9 2415.3" fill="none" stroke="#398a68" stroke-width="2.6" stroke-linecap="butt" stroke-linejoin="round"/>
<path d="M1163.3 2404.2C1163.8 2406.4 1165.3 2413.8 1166.6 2417.5C1167.9 2421.2 1169.5 2424.7 1171 2426.4C1172.5 2428 1173.8 2428.6 1175.4 2427.5C1177.1 2426.4 1179 2423.6 1181 2419.7C1183 2415.8 1185.4 2409.4 1187.6 2404.2C1189.9 2399 1192.1 2392.7 1194.3 2388.7C1196.5 2384.7 1198.9 2382 1200.9 2380.2C1203 2378.5 1204.4 2378.1 1206.5 2378C1208.5 2378 1210.7 2378.3 1213.1 2379.8C1215.5 2381.3 1218.1 2384.1 1220.9 2386.9C1223.7 2389.7 1226.4 2393.4 1229.8 2396.4C1233.1 2399.5 1237.1 2403 1240.8 2405.3C1244.5 2407.6 1248.6 2409.4 1251.9 2410.4C1255.2 2411.4 1257.8 2411.4 1260.8 2411.3C1263.7 2411.2 1266.9 2410.2 1269.7 2409.7C1272.4 2409.2 1275 2408 1277.4 2408.2C1279.8 2408.4 1282.1 2409.7 1284.1 2410.8C1286 2411.9 1288.1 2414.2 1288.9 2414.8" fill="none" stroke="#7a6bb1" stroke-width="2.6" stroke-linecap="butt" stroke-linejoin="round"/>
<line x1="1205.1" y1="2448.5" x2="1205.1" y2="2342.9" stroke="#000" stroke-width="2.9" stroke-dasharray="10.6 4.4"/>
<line x1="1194.1" y1="2366.5" x2="1247.8" y2="2366.5" stroke="#000" stroke-width="2.6"/>
<path d="M1157 2342.9V2448.5H1295.2" fill="none" stroke="#000" stroke-width="2.3" stroke-linecap="square" stroke-linejoin="miter"/>
<line x1="1145.1" y1="2358.3" x2="1156" y2="2358.3" stroke="#000" stroke-width="2.3"/>
<line x1="1145.1" y1="2411.5" x2="1156" y2="2411.5" stroke="#000" stroke-width="2.3"/>
<line x1="1163.2" y1="2449.5" x2="1163.2" y2="2460.4" stroke="#000" stroke-width="2.3"/>
<text x="1163.2" y="2482.2" font-size="20.0" fill="#111" text-anchor="middle">-1</text>
<line x1="1205.1" y1="2449.5" x2="1205.1" y2="2460.4" stroke="#000" stroke-width="2.3"/>
<text x="1205.1" y="2482.2" font-size="20.0" fill="#111" text-anchor="middle">0</text>
<line x1="1246.9" y1="2449.5" x2="1246.9" y2="2460.4" stroke="#000" stroke-width="2.3"/>
<text x="1246.9" y="2482.2" font-size="20.0" fill="#111" text-anchor="middle">1</text>
<line x1="1288.8" y1="2449.5" x2="1288.8" y2="2460.4" stroke="#000" stroke-width="2.3"/>
<text x="1288.8" y="2482.2" font-size="20.0" fill="#111" text-anchor="middle">2</text>
<text x="1226.1" y="2302.1" font-size="22.2" fill="#111" text-anchor="middle">investigated</text>
<text x="1229.6" y="2328.7" font-size="22.2" fill="#111" text-anchor="middle">start</text>
<text x="1213.6" y="2353.8" font-size="22.0" fill="#111">p=0.97</text>
<text x="1226.1" y="2514.6" font-size="22.0" fill="#111" text-anchor="middle">Time (s)</text>
<path d="M1337.5 2400.4C1339.1 2400.8 1343.8 2402.4 1347.2 2402.6C1350.7 2402.9 1354.6 2402.2 1358.3 2402C1362 2401.8 1365.8 2401 1369.4 2401.3C1373 2401.6 1376.1 2402.3 1379.8 2403.5C1383.5 2404.7 1387.8 2406.9 1391.6 2408.6C1395.4 2410.3 1399 2412.4 1402.7 2413.7C1406.4 2415.1 1410.1 2415.8 1413.8 2416.6C1417.4 2417.5 1421.5 2418.6 1424.8 2418.8C1428.2 2419.1 1430.7 2418.8 1433.7 2418.2C1436.7 2417.5 1440 2415.8 1442.6 2414.8C1445.2 2413.9 1447 2412.6 1449.2 2412.6C1451.4 2412.6 1454 2413.9 1455.9 2414.8C1457.7 2415.8 1459 2416.8 1460.3 2418.2C1461.6 2419.5 1463.1 2422.2 1463.6 2423L1463.6 2434.1C1463.1 2433.1 1461.6 2429.5 1460.3 2427.9C1459 2426.3 1457.7 2425.5 1455.9 2424.6C1454 2423.7 1451.4 2422.4 1449.2 2422.4C1447 2422.4 1445.2 2423.7 1442.6 2424.6C1440 2425.5 1436.7 2427.2 1433.7 2427.9C1430.7 2428.6 1428.2 2428.8 1424.8 2428.6C1421.5 2428.3 1417.4 2427.2 1413.8 2426.4C1410.1 2425.5 1406.4 2424.6 1402.7 2423.5C1399 2422.4 1395.4 2421 1391.6 2419.7C1387.8 2418.5 1383.5 2416.9 1379.8 2415.9C1376.1 2414.9 1373 2414.2 1369.4 2413.7C1365.8 2413.2 1362 2413.3 1358.3 2413.1C1354.6 2412.8 1350.7 2412.7 1347.2 2412.4C1343.8 2412.1 1339.1 2411.7 1337.5 2411.5Z" fill="rgba(59,150,110,0.28)"/>
<path d="M1337.5 2408C1339.1 2407.5 1343.8 2405.9 1347.2 2405.3C1350.7 2404.7 1354.6 2404.3 1358.3 2404.2C1362 2404.1 1365.8 2404.3 1369.4 2404.6C1373 2404.9 1376.1 2405.2 1379.8 2406C1383.5 2406.7 1387.8 2408 1391.6 2409.1C1395.4 2410.2 1399 2411.4 1402.7 2412.6C1406.4 2413.8 1410.1 2415.4 1413.8 2416.4C1417.4 2417.4 1421.5 2418.3 1424.8 2418.6C1428.2 2418.9 1430.7 2418.4 1433.7 2417.9C1436.7 2417.5 1440 2416.3 1442.6 2415.7C1445.2 2415.2 1447 2414.5 1449.2 2414.6C1451.4 2414.7 1453.5 2415.4 1455.9 2416.2C1458.3 2416.9 1462.3 2418.7 1463.6 2419.3L1463.6 2429C1462.3 2428.2 1458.3 2425.2 1455.9 2424.1C1453.5 2423.1 1451.4 2422.7 1449.2 2422.6C1447 2422.5 1445.2 2423 1442.6 2423.7C1440 2424.4 1436.7 2426.2 1433.7 2426.8C1430.7 2427.4 1428.2 2427.7 1424.8 2427.5C1421.5 2427.2 1417.4 2426.2 1413.8 2425.2C1410.1 2424.3 1406.4 2422.7 1402.7 2421.5C1399 2420.3 1395.4 2419 1391.6 2417.9C1387.8 2416.8 1383.5 2415.7 1379.8 2414.8C1376.1 2413.9 1373 2413.1 1369.4 2412.6C1365.8 2412.2 1362 2411.9 1358.3 2412.2C1354.6 2412.4 1350.7 2413 1347.2 2414.2C1343.8 2415.3 1339.1 2418.2 1337.5 2419Z" fill="rgba(130,105,200,0.36)"/>
<path d="M1337.5 2406C1339.1 2406.2 1343.8 2407.3 1347.2 2407.5C1350.7 2407.8 1354.6 2407.5 1358.3 2407.5C1362 2407.5 1365.8 2407.1 1369.4 2407.5C1373 2407.9 1376.1 2408.6 1379.8 2409.7C1383.5 2410.8 1387.8 2412.7 1391.6 2414.2C1395.4 2415.6 1399 2417.4 1402.7 2418.6C1406.4 2419.8 1410.1 2420.6 1413.8 2421.5C1417.4 2422.3 1421.5 2423.4 1424.8 2423.7C1428.2 2424 1430.7 2423.7 1433.7 2423C1436.7 2422.4 1440 2420.6 1442.6 2419.7C1445.2 2418.8 1447 2417.5 1449.2 2417.5C1451.4 2417.5 1454 2418.8 1455.9 2419.7C1457.7 2420.6 1459 2421.6 1460.3 2423C1461.6 2424.5 1463.1 2427.7 1463.6 2428.6" fill="none" stroke="#398a68" stroke-width="2.6" stroke-linecap="butt" stroke-linejoin="round"/>
<path d="M1337.5 2413.5C1339.1 2412.9 1343.8 2410.6 1347.2 2409.7C1350.7 2408.8 1354.6 2408.4 1358.3 2408.2C1362 2408 1365.8 2408.3 1369.4 2408.6C1373 2409 1376.1 2409.6 1379.8 2410.4C1383.5 2411.2 1387.8 2412.4 1391.6 2413.5C1395.4 2414.6 1399 2415.8 1402.7 2417C1406.4 2418.3 1410.1 2419.8 1413.8 2420.8C1417.4 2421.8 1421.5 2422.8 1424.8 2423C1428.2 2423.3 1430.7 2422.9 1433.7 2422.4C1436.7 2421.8 1440 2420.3 1442.6 2419.7C1445.2 2419.1 1447 2418.5 1449.2 2418.6C1451.4 2418.7 1453.5 2419.2 1455.9 2420.2C1458.3 2421.1 1462.3 2423.5 1463.6 2424.1" fill="none" stroke="#7a6bb1" stroke-width="2.6" stroke-linecap="butt" stroke-linejoin="round"/>
<line x1="1379.3" y1="2448.5" x2="1379.3" y2="2342.9" stroke="#000" stroke-width="2.9" stroke-dasharray="10.6 4.4"/>
<line x1="1368.3" y1="2366.5" x2="1422" y2="2366.5" stroke="#000" stroke-width="2.6"/>
<path d="M1331.3 2342.9V2448.5H1469.5" fill="none" stroke="#000" stroke-width="2.3" stroke-linecap="square" stroke-linejoin="miter"/>
<line x1="1319.4" y1="2358.3" x2="1330.3" y2="2358.3" stroke="#000" stroke-width="2.3"/>
<line x1="1319.4" y1="2411.5" x2="1330.3" y2="2411.5" stroke="#000" stroke-width="2.3"/>
<line x1="1337.4" y1="2449.5" x2="1337.4" y2="2460.4" stroke="#000" stroke-width="2.3"/>
<text x="1337.4" y="2482.2" font-size="20.0" fill="#111" text-anchor="middle">-1</text>
<line x1="1379.3" y1="2449.5" x2="1379.3" y2="2460.4" stroke="#000" stroke-width="2.3"/>
<text x="1379.3" y="2482.2" font-size="20.0" fill="#111" text-anchor="middle">0</text>
<line x1="1421.2" y1="2449.5" x2="1421.2" y2="2460.4" stroke="#000" stroke-width="2.3"/>
<text x="1421.2" y="2482.2" font-size="20.0" fill="#111" text-anchor="middle">1</text>
<line x1="1463.1" y1="2449.5" x2="1463.1" y2="2460.4" stroke="#000" stroke-width="2.3"/>
<text x="1463.1" y="2482.2" font-size="20.0" fill="#111" text-anchor="middle">2</text>
<text x="1400.4" y="2302.1" font-size="22.2" fill="#111" text-anchor="middle">investigated</text>
<text x="1403.9" y="2328.7" font-size="22.2" fill="#111" text-anchor="middle">end</text>
<text x="1387.8" y="2353.8" font-size="22.0" fill="#111">p=0.90</text>
<text x="1400.4" y="2514.6" font-size="22.0" fill="#111" text-anchor="middle">Time (s)</text>
<text transform="translate(45.6 2395) rotate(-90)" font-size="22.0" fill="#111" text-anchor="middle">Kernel Weight</text>
<line x1="1494.8" y1="2393.3" x2="1539.3" y2="2393.3" stroke="#7a6bb1" stroke-width="2.6"/>
<text x="1556.5" y="2401.1" font-size="21.3" fill="#3a3a3a">Resilient</text>
<line x1="1494.8" y1="2425.3" x2="1539.3" y2="2425.3" stroke="#398a68" stroke-width="2.6"/>
<text x="1556.5" y="2433.1" font-size="21.3" fill="#3a3a3a">Susceptible</text>
</g>
</svg>
</body></html>
